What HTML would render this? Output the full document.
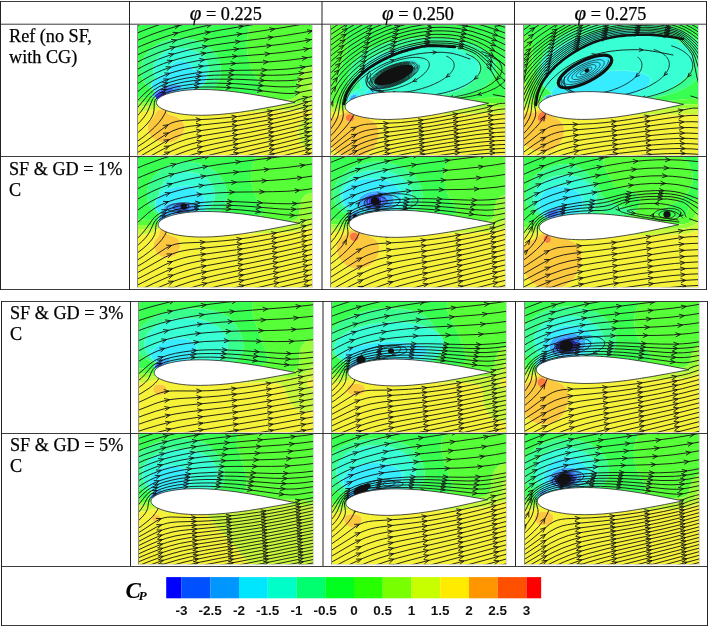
<!DOCTYPE html>
<html><head><meta charset="utf-8"><title>Cp streamlines</title>
<style>html,body{margin:0;padding:0;background:#fff;width:709px;height:626px;overflow:hidden}</style>
</head><body>
<svg width="709" height="626" viewBox="0 0 709 626" style="position:absolute;left:0;top:0;will-change:transform">
<defs>
<clipPath id="cp_r1c1"><rect x="0" y="0" width="175.2" height="130.4"/></clipPath>
<clipPath id="cp_r1c2"><rect x="0" y="0" width="175.2" height="130.4"/></clipPath>
<clipPath id="cp_r1c3"><rect x="0" y="0" width="175.2" height="130.4"/></clipPath>
<clipPath id="cp_r2c1"><rect x="0" y="0" width="175.2" height="130.4"/></clipPath>
<clipPath id="cp_r2c2"><rect x="0" y="0" width="175.2" height="130.4"/></clipPath>
<clipPath id="cp_r2c3"><rect x="0" y="0" width="175.2" height="130.4"/></clipPath>
<clipPath id="cp_r3c1"><rect x="0" y="0" width="175.2" height="130.4"/></clipPath>
<clipPath id="cp_r3c2"><rect x="0" y="0" width="175.2" height="130.4"/></clipPath>
<clipPath id="cp_r3c3"><rect x="0" y="0" width="175.2" height="130.4"/></clipPath>
<clipPath id="cp_r4c1"><rect x="0" y="0" width="175.2" height="130.4"/></clipPath>
<clipPath id="cp_r4c2"><rect x="0" y="0" width="175.2" height="130.4"/></clipPath>
<clipPath id="cp_r4c3"><rect x="0" y="0" width="175.2" height="130.4"/></clipPath>
</defs>
<g transform="translate(137,25)"><g clip-path="url(#cp_r1c1)">
<rect x="0" y="0" width="175.5" height="131" fill="#fff"/><path d="M25.0,65.8 L27.5,65.8 L28.2,66.5 L28.2,68.5 L27.7,69.0 L27.7,69.5 L26.2,71.0 L26.2,71.5 L25.0,72.0 L24.0,73.0 L23.5,73.0 L23.0,73.5 L22.5,73.5 L22.0,74.0 L19.5,74.0 L19.0,73.5 L19.0,72.5 L18.8,72.0 L18.8,71.5 L19.3,71.0 L19.3,70.5 L20.8,69.0 L20.8,68.5 L21.0,68.3 L21.5,68.3 L23.0,66.8 L23.5,66.8 L24.0,66.3 L24.5,66.3 L25.0,65.8Z" fill="#3838ff" fill-rule="evenodd"/><path d="M30.0,62.3 L35.0,62.3 L36.2,63.5 L36.2,64.5 L35.7,65.0 L35.7,65.5 L32.0,69.2 L31.5,69.2 L31.0,69.7 L30.5,69.7 L29.5,70.7 L28.5,70.7 L28.0,71.2 L27.5,71.2 L27.2,71.5 L25.0,72.1 L24.0,73.1 L23.5,73.1 L23.0,73.6 L22.5,73.6 L22.0,74.1 L19.5,74.1 L18.9,73.5 L18.9,72.5 L17.8,71.5 L17.8,70.5 L18.3,70.0 L18.3,69.5 L22.0,65.8 L22.5,65.8 L23.0,65.3 L23.5,65.3 L24.5,64.3 L25.5,64.3 L26.0,63.8 L26.5,63.8 L27.0,63.3 L28.0,63.3 L28.5,62.8 L29.5,62.8 L30.0,62.3Z M24.8,66.0 L24.5,66.3 L24.0,66.3 L23.5,66.8 L23.0,66.8 L21.5,68.3 L21.0,68.3 L20.8,68.5 L20.8,69.0 L19.3,70.5 L19.3,71.0 L18.8,71.5 L18.8,72.0 L19.0,72.5 L19.0,73.5 L19.5,74.0 L22.0,74.0 L22.5,73.5 L23.0,73.5 L23.5,73.0 L24.0,73.0 L25.0,72.0 L26.2,71.5 L26.2,71.0 L27.7,69.5 L27.7,69.0 L28.2,68.5 L28.2,66.5 L27.5,65.8 L25.0,65.8 L24.8,66.0Z" fill="#3876ff" fill-rule="evenodd"/><path d="M36.5,59.3 L40.5,59.3 L41.0,59.8 L42.5,59.8 L43.0,60.3 L43.5,60.3 L44.2,61.0 L44.2,63.0 L43.2,64.0 L43.2,64.5 L43.0,64.7 L42.5,64.7 L40.5,66.7 L40.0,66.7 L39.0,67.7 L38.5,67.7 L38.0,68.2 L37.5,68.2 L37.0,68.7 L36.5,68.7 L36.0,69.2 L35.0,69.2 L34.7,69.5 L34.0,69.6 L33.5,70.1 L32.5,70.1 L32.0,70.6 L31.0,70.6 L30.5,71.1 L29.0,71.1 L28.5,71.6 L27.0,71.7 L26.5,72.1 L25.0,72.2 L24.0,73.2 L23.5,73.2 L23.0,73.7 L22.5,73.7 L22.0,74.2 L19.5,74.2 L18.8,73.5 L18.8,72.5 L18.5,72.1 L17.5,72.1 L17.0,71.6 L16.5,71.6 L15.9,71.0 L15.9,69.0 L16.9,68.0 L16.9,67.5 L17.5,67.4 L19.5,65.3 L20.0,65.3 L21.0,64.3 L21.5,64.3 L22.0,63.8 L22.5,63.8 L23.0,63.3 L23.5,63.3 L24.0,62.8 L25.0,62.8 L25.5,62.3 L26.0,62.3 L26.5,61.8 L27.5,61.8 L28.0,61.3 L29.0,61.3 L29.5,60.8 L31.0,60.8 L31.5,60.3 L33.0,60.3 L33.5,59.8 L36.0,59.8 L36.5,59.3Z M29.8,62.5 L29.5,62.8 L28.5,62.8 L28.0,63.3 L27.0,63.3 L26.5,63.8 L26.0,63.8 L25.5,64.3 L24.5,64.3 L23.5,65.3 L23.0,65.3 L22.5,65.8 L22.0,65.8 L18.3,69.5 L18.3,70.0 L17.8,70.5 L17.8,71.5 L18.9,72.5 L18.9,73.5 L19.5,74.1 L22.0,74.1 L22.5,73.6 L23.0,73.6 L23.5,73.1 L24.0,73.1 L25.0,72.1 L27.2,71.5 L27.5,71.2 L28.0,71.2 L28.5,70.7 L29.5,70.7 L30.5,69.7 L31.0,69.7 L31.5,69.2 L32.0,69.2 L35.7,65.5 L35.7,65.0 L36.2,64.5 L36.2,63.5 L35.0,62.3 L30.0,62.3 L29.8,62.5Z" fill="#38adff" fill-rule="evenodd"/><path d="M42.0,36.0 L44.0,35.8 L46.0,36.0 L48.0,36.4 L50.0,37.2 L52.1,38.5 L53.7,40.0 L54.9,42.0 L55.5,44.0 L56.0,44.5 L59.0,44.6 L59.5,45.1 L61.0,45.1 L61.5,45.7 L62.5,45.7 L63.0,46.2 L64.0,46.2 L64.5,46.7 L65.0,46.7 L66.0,47.8 L66.5,47.8 L68.7,50.0 L68.7,50.5 L69.2,51.0 L69.2,51.5 L69.7,52.0 L69.7,54.0 L69.2,54.5 L69.2,55.5 L68.7,56.0 L68.7,56.5 L67.7,57.5 L67.7,58.0 L66.2,59.5 L65.5,60.2 L65.0,60.2 L63.5,61.7 L63.0,61.7 L62.0,62.7 L61.5,62.7 L61.0,63.2 L60.5,63.2 L60.0,63.7 L59.5,63.7 L59.0,64.1 L58.5,64.2 L58.0,64.6 L57.5,64.6 L57.0,65.1 L56.0,65.1 L55.5,65.6 L55.0,65.6 L54.5,66.1 L53.5,66.1 L53.0,66.6 L52.0,66.6 L51.5,67.1 L50.0,67.1 L49.5,67.6 L48.5,67.6 L48.0,68.1 L46.0,68.1 L45.5,68.6 L43.0,68.6 L42.5,69.1 L39.5,69.1 L39.0,69.6 L34.0,69.7 L33.5,70.2 L32.5,70.2 L32.0,70.7 L31.0,70.7 L30.5,71.2 L29.0,71.2 L28.5,71.7 L27.0,71.8 L26.5,72.2 L25.0,72.3 L24.0,73.3 L23.5,73.3 L23.0,73.8 L22.5,73.8 L22.0,74.3 L19.5,74.3 L18.7,73.5 L18.7,72.5 L18.5,72.2 L17.5,72.2 L17.0,71.7 L16.5,71.7 L15.8,71.0 L15.8,69.0 L16.8,68.0 L16.8,67.5 L17.0,67.3 L17.5,67.3 L18.3,66.5 L18.0,66.1 L17.5,66.1 L15.4,64.0 L15.4,63.5 L14.9,63.0 L14.9,62.5 L14.4,62.0 L14.4,60.0 L14.9,59.5 L14.9,58.5 L15.4,58.0 L15.4,57.5 L16.4,56.5 L16.4,56.0 L18.5,53.8 L19.0,53.8 L20.5,52.3 L21.0,52.3 L22.0,51.3 L22.5,51.3 L23.0,50.8 L23.5,50.7 L24.0,50.2 L24.5,50.2 L25.0,49.7 L25.5,49.7 L26.0,49.2 L26.5,49.2 L27.0,48.7 L28.0,48.6 L28.5,48.1 L29.0,48.1 L29.5,47.6 L30.5,47.6 L31.0,47.0 L32.0,47.0 L32.7,46.5 L32.5,44.5 L32.7,43.0 L33.5,41.2 L34.5,39.8 L35.9,38.5 L37.5,37.4 L39.7,36.5 L42.0,36.0Z M36.3,59.5 L36.0,59.8 L33.5,59.8 L33.0,60.3 L31.5,60.3 L31.0,60.8 L29.5,60.8 L29.0,61.3 L28.0,61.3 L27.5,61.8 L26.5,61.8 L26.0,62.3 L25.5,62.3 L25.0,62.8 L24.0,62.8 L23.5,63.3 L23.0,63.3 L22.5,63.8 L22.0,63.8 L21.5,64.3 L21.0,64.3 L20.0,65.3 L19.5,65.3 L17.5,67.4 L16.9,67.5 L16.9,68.0 L15.9,69.0 L15.9,71.0 L16.5,71.6 L17.0,71.6 L17.5,72.1 L18.5,72.1 L18.8,72.5 L18.8,73.5 L19.5,74.2 L22.0,74.2 L22.5,73.7 L23.0,73.7 L23.5,73.2 L24.0,73.2 L25.0,72.2 L26.5,72.1 L27.0,71.7 L28.5,71.6 L29.0,71.1 L30.5,71.1 L31.0,70.6 L32.0,70.6 L32.5,70.1 L33.5,70.1 L34.0,69.6 L34.7,69.5 L35.0,69.2 L36.0,69.2 L36.5,68.7 L37.0,68.7 L37.5,68.2 L38.0,68.2 L38.5,67.7 L39.0,67.7 L40.0,66.7 L40.5,66.7 L42.5,64.7 L43.0,64.7 L43.2,64.5 L43.2,64.0 L44.2,63.0 L44.2,61.0 L43.5,60.3 L43.0,60.3 L42.5,59.8 L41.0,59.8 L40.5,59.3 L36.5,59.3 L36.3,59.5Z" fill="#38ecff" fill-rule="evenodd"/><path d="M41.5,23.0 L45.5,22.9 L49.0,23.2 L52.5,23.9 L56.0,25.0 L59.0,26.4 L62.0,28.1 L64.5,30.0 L67.0,32.5 L68.8,35.0 L70.2,37.5 L71.1,40.0 L71.7,43.0 L71.8,45.5 L71.6,48.0 L70.9,50.5 L70.0,52.8 L70.0,54.0 L69.5,54.5 L69.5,55.5 L69.0,56.0 L69.0,56.5 L68.0,57.5 L68.0,58.0 L65.5,60.5 L65.0,60.5 L63.5,62.0 L63.0,62.0 L62.0,63.0 L61.5,63.0 L61.0,63.5 L60.5,63.5 L60.0,64.0 L59.5,64.0 L59.0,64.4 L58.5,64.5 L58.0,64.9 L57.5,64.9 L57.0,65.4 L56.0,65.4 L55.5,65.9 L55.0,65.9 L54.5,66.4 L53.5,66.4 L53.0,66.9 L52.0,66.9 L51.5,67.4 L50.0,67.4 L49.5,67.9 L48.5,67.9 L48.0,68.4 L46.0,68.4 L45.5,68.9 L43.0,68.9 L42.5,69.4 L39.5,69.4 L39.0,69.8 L34.0,69.9 L33.5,70.4 L32.5,70.4 L32.0,70.9 L31.0,70.8 L30.5,71.3 L29.0,71.3 L28.5,71.8 L27.0,71.9 L26.5,72.3 L25.0,72.4 L24.0,73.4 L23.5,73.4 L23.0,73.8 L22.5,73.8 L22.0,74.3 L19.5,74.3 L18.7,73.5 L18.5,72.3 L17.5,72.3 L17.0,71.8 L16.5,71.8 L15.7,71.0 L15.7,69.0 L16.7,68.0 L16.7,67.5 L17.0,67.2 L17.5,67.1 L18.1,66.5 L18.0,66.3 L17.5,66.3 L15.2,64.0 L15.2,63.5 L14.7,63.0 L14.7,62.5 L14.2,62.0 L14.2,60.0 L14.6,59.5 L14.6,58.5 L15.1,58.0 L15.1,57.5 L16.1,56.5 L16.1,56.0 L18.4,53.5 L16.9,50.0 L16.2,46.0 L16.4,42.0 L17.6,38.0 L19.2,35.0 L21.5,32.0 L24.0,29.6 L27.0,27.5 L30.5,25.6 L34.0,24.4 L37.5,23.5 L41.5,23.0Z M41.8,36.0 L39.5,36.6 L37.5,37.4 L35.9,38.5 L34.5,39.8 L33.5,41.2 L32.7,43.0 L32.5,44.5 L32.7,46.5 L32.0,47.0 L31.0,47.0 L30.5,47.6 L29.5,47.6 L29.0,48.1 L28.5,48.1 L28.0,48.6 L27.0,48.7 L26.5,49.2 L26.0,49.2 L25.5,49.7 L25.0,49.7 L24.5,50.2 L24.0,50.2 L23.5,50.7 L23.0,50.8 L22.5,51.3 L22.0,51.3 L21.0,52.3 L20.5,52.3 L19.0,53.8 L18.5,53.8 L16.4,56.0 L16.4,56.5 L15.4,57.5 L15.4,58.0 L14.9,58.5 L14.9,59.5 L14.4,60.0 L14.4,62.0 L14.9,62.5 L14.9,63.0 L15.4,63.5 L15.4,64.0 L17.5,66.1 L18.0,66.1 L18.3,66.5 L17.5,67.3 L17.0,67.3 L16.8,67.5 L16.8,68.0 L15.8,69.0 L15.8,71.0 L16.5,71.7 L17.0,71.7 L17.5,72.2 L18.5,72.2 L18.7,72.5 L18.7,73.5 L19.5,74.3 L22.0,74.3 L22.5,73.8 L23.0,73.8 L23.5,73.3 L24.0,73.3 L25.0,72.3 L26.5,72.2 L27.0,71.8 L28.5,71.7 L29.0,71.2 L30.5,71.2 L31.0,70.7 L32.0,70.7 L32.5,70.2 L33.5,70.2 L34.0,69.7 L39.0,69.6 L39.5,69.1 L42.5,69.1 L43.0,68.6 L45.5,68.6 L46.0,68.1 L48.0,68.1 L48.5,67.6 L49.5,67.6 L50.0,67.1 L51.5,67.1 L52.0,66.6 L53.0,66.6 L53.5,66.1 L54.5,66.1 L55.0,65.6 L55.5,65.6 L56.0,65.1 L57.0,65.1 L57.5,64.6 L58.0,64.6 L58.5,64.2 L59.0,64.1 L59.5,63.7 L60.0,63.7 L60.5,63.2 L61.0,63.2 L61.5,62.7 L62.0,62.7 L63.0,61.7 L63.5,61.7 L65.0,60.2 L65.5,60.2 L66.2,59.5 L67.7,58.0 L67.7,57.5 L68.7,56.5 L68.7,56.0 L69.2,55.5 L69.2,54.5 L69.7,54.0 L69.7,52.0 L69.2,51.5 L69.2,51.0 L68.7,50.5 L68.7,50.0 L66.5,47.8 L66.0,47.8 L65.0,46.7 L64.5,46.7 L64.0,46.2 L63.0,46.2 L62.5,45.7 L61.5,45.7 L61.0,45.1 L59.5,45.1 L59.0,44.6 L56.0,44.5 L55.5,44.0 L54.9,42.0 L53.7,40.0 L52.1,38.5 L50.0,37.2 L48.0,36.4 L46.0,36.0 L44.0,35.8 L41.8,36.0Z" fill="#38ffd4" fill-rule="evenodd"/><path d="M38.0,13.5 L42.5,13.1 L47.5,13.2 L52.5,13.8 L57.0,14.8 L61.5,16.3 L66.0,18.3 L70.0,20.7 L73.5,23.4 L76.5,26.4 L79.0,29.6 L81.0,33.0 L82.6,37.0 L83.6,41.0 L83.9,45.0 L83.7,49.0 L82.9,52.5 L81.9,55.0 L80.6,57.5 L78.9,60.0 L77.0,62.0 L74.6,64.0 L72.3,65.5 L69.4,67.0 L66.0,68.3 L62.1,69.5 L58.5,70.3 L54.0,71.0 L50.0,71.4 L45.5,71.6 L41.0,71.5 L32.5,70.8 L32.0,71.0 L31.0,71.0 L30.5,71.5 L29.0,71.5 L28.5,72.0 L27.0,72.0 L26.5,72.4 L25.0,72.5 L24.0,73.4 L23.5,73.4 L23.0,73.9 L22.5,73.9 L22.0,74.4 L19.5,74.4 L18.6,73.5 L18.5,72.4 L17.5,72.4 L17.0,71.9 L16.5,71.9 L15.6,71.0 L15.5,69.0 L16.5,68.0 L16.5,67.5 L17.0,67.0 L17.5,67.0 L17.5,66.5 L13.5,64.1 L10.5,61.5 L7.7,58.0 L5.6,54.0 L4.4,50.0 L3.9,46.0 L4.1,41.5 L5.0,37.5 L6.8,33.0 L9.5,28.7 L13.0,24.7 L17.0,21.4 L21.5,18.6 L26.5,16.3 L32.0,14.6 L38.0,13.5Z M41.1,23.0 L37.4,23.5 L33.5,24.5 L29.7,26.0 L26.5,27.8 L23.5,30.0 L21.0,32.5 L19.2,35.0 L17.6,38.0 L16.4,42.0 L16.2,46.0 L16.9,50.0 L18.4,53.5 L16.1,56.0 L16.1,56.5 L15.1,57.5 L15.1,58.0 L14.6,58.5 L14.6,59.5 L14.2,60.0 L14.2,62.0 L14.7,62.5 L14.7,63.0 L15.2,63.5 L15.2,64.0 L17.5,66.3 L18.0,66.3 L18.1,66.5 L17.5,67.1 L17.0,67.2 L16.7,67.5 L16.7,68.0 L15.7,69.0 L15.7,71.0 L16.5,71.8 L17.0,71.8 L17.5,72.3 L18.5,72.3 L18.7,73.5 L19.5,74.3 L22.0,74.3 L22.5,73.8 L23.0,73.8 L23.5,73.4 L24.0,73.4 L25.0,72.4 L26.5,72.3 L27.0,71.9 L28.5,71.8 L29.0,71.3 L30.5,71.3 L31.0,70.8 L32.0,70.9 L32.5,70.4 L33.5,70.4 L34.0,69.9 L39.0,69.8 L39.5,69.4 L42.5,69.4 L43.0,68.9 L45.5,68.9 L46.0,68.4 L48.0,68.4 L48.5,67.9 L49.5,67.9 L50.0,67.4 L51.5,67.4 L52.0,66.9 L53.0,66.9 L53.5,66.4 L54.5,66.4 L55.0,65.9 L55.5,65.9 L56.0,65.4 L57.0,65.4 L57.5,64.9 L58.0,64.9 L58.5,64.5 L59.0,64.4 L59.5,64.0 L60.0,64.0 L60.5,63.5 L61.0,63.5 L61.5,63.0 L62.0,63.0 L63.0,62.0 L63.5,62.0 L65.0,60.5 L65.5,60.5 L68.0,58.0 L68.0,57.5 L69.0,56.5 L69.0,56.0 L69.5,55.5 L69.5,54.5 L70.0,54.0 L70.0,52.8 L70.9,50.5 L71.6,48.0 L71.8,45.5 L71.7,43.0 L71.1,40.0 L70.2,37.5 L68.8,35.0 L67.0,32.5 L64.5,30.0 L61.8,28.0 L59.0,26.4 L55.5,24.9 L52.0,23.8 L48.5,23.2 L45.0,22.9 L41.1,23.0Z" fill="#38ff8e" fill-rule="evenodd"/><path d="M-1.5,-2.0 L114.0,-2.0 L112.8,1.5 L111.6,5.5 L110.8,9.0 L110.2,13.0 L109.9,17.0 L109.8,21.0 L110.0,25.0 L110.5,29.0 L111.3,33.0 L112.2,36.5 L113.5,40.5 L114.9,44.0 L117.9,50.0 L123.5,59.0 L124.8,61.5 L125.2,63.5 L125.1,64.5 L124.7,65.5 L123.2,67.0 L120.2,68.5 L116.7,69.5 L111.0,70.5 L103.5,71.2 L83.5,72.2 L62.5,74.5 L52.0,75.3 L40.5,75.5 L32.0,75.0 L22.5,74.2 L22.0,74.5 L19.5,74.5 L18.5,73.7 L6.5,72.4 L-2.0,71.8 L-2.0,-2.0 L-1.5,-2.0Z M37.7,13.5 L32.0,14.6 L26.5,16.3 L21.5,18.6 L16.8,21.5 L12.7,25.0 L9.3,29.0 L6.8,33.0 L5.0,37.5 L4.1,41.5 L3.9,46.0 L4.4,50.0 L5.6,54.0 L7.7,58.0 L10.5,61.5 L13.5,64.1 L17.5,66.5 L17.5,67.0 L17.0,67.0 L16.5,67.5 L16.5,68.0 L15.5,69.0 L15.6,71.0 L16.5,71.9 L17.0,71.9 L17.5,72.4 L18.5,72.4 L18.6,73.5 L19.5,74.4 L22.0,74.4 L22.5,73.9 L23.0,73.9 L23.5,73.4 L24.0,73.4 L25.0,72.5 L26.5,72.4 L27.0,72.0 L28.5,72.0 L29.0,71.5 L30.5,71.5 L31.0,71.0 L32.0,71.0 L32.5,70.8 L41.0,71.5 L45.5,71.6 L50.0,71.4 L54.0,71.0 L58.5,70.3 L62.1,69.5 L66.0,68.3 L69.4,67.0 L72.3,65.5 L74.6,64.0 L77.0,62.0 L78.9,60.0 L80.6,57.5 L81.9,55.0 L82.9,52.5 L83.7,49.0 L83.9,45.0 L83.6,41.0 L82.6,37.0 L81.0,33.0 L79.0,29.6 L76.5,26.4 L73.5,23.4 L70.0,20.7 L66.0,18.3 L61.5,16.3 L57.0,14.8 L52.5,13.8 L47.5,13.2 L42.5,13.1 L37.7,13.5Z" fill="#38ff50" fill-rule="evenodd"/><path d="M114.0,-1.9 L177.0,-2.0 L177.0,42.8 L175.5,42.3 L173.5,42.1 L171.5,42.3 L170.0,42.7 L168.0,43.7 L166.5,44.8 L165.0,46.3 L163.7,48.0 L161.9,51.5 L161.3,53.5 L160.7,56.0 L160.4,59.5 L160.5,66.5 L160.2,69.0 L159.3,71.0 L157.8,72.5 L156.0,73.4 L154.3,74.0 L152.0,74.5 L148.5,74.9 L125.0,76.4 L112.5,77.0 L80.0,77.5 L56.0,78.6 L47.5,78.8 L36.5,78.5 L23.5,77.7 L-2.0,77.4 L-2.0,71.8 L6.5,72.4 L18.5,73.7 L19.5,74.5 L22.0,74.5 L22.5,74.2 L37.5,75.4 L44.0,75.5 L50.5,75.4 L61.5,74.6 L83.5,72.2 L103.5,71.2 L110.5,70.6 L114.5,70.0 L118.6,69.0 L121.4,68.0 L123.2,67.0 L124.3,66.0 L125.0,65.0 L125.2,63.5 L125.0,62.0 L123.5,59.0 L117.5,49.3 L114.7,43.5 L113.3,40.0 L112.0,36.0 L111.1,32.0 L110.4,28.0 L109.8,20.5 L110.2,13.0 L110.8,9.0 L111.6,5.5 L112.6,2.0 L114.0,-1.9Z" fill="#57ff38" fill-rule="evenodd"/><path d="M171.0,42.4 L172.5,42.1 L174.0,42.1 L175.5,42.3 L177.0,42.8 L177.0,75.0 L175.0,74.2 L173.0,74.1 L171.5,74.6 L166.5,76.9 L163.5,77.9 L160.0,78.8 L156.0,79.4 L149.5,79.9 L123.5,80.9 L107.5,81.3 L76.5,81.5 L50.0,82.1 L36.0,81.6 L26.5,80.4 L23.5,80.2 L12.5,81.3 L-2.0,81.5 L-2.0,77.4 L23.0,77.7 L38.5,78.6 L51.0,78.7 L79.0,77.5 L106.5,77.2 L118.5,76.8 L146.0,75.2 L150.5,74.7 L153.5,74.2 L155.9,73.5 L157.8,72.5 L159.0,71.5 L159.9,70.0 L160.3,68.5 L160.5,67.0 L160.4,60.0 L160.6,56.5 L161.6,52.5 L163.0,49.1 L164.5,46.9 L166.5,44.8 L168.5,43.4 L171.0,42.4Z M172.9,61.0 L172.4,62.0 L172.5,63.5 L173.0,64.5 L173.5,64.8 L174.0,64.7 L174.5,64.2 L174.8,63.5 L174.8,62.0 L174.5,61.1 L174.0,60.7 L173.5,60.6 L172.9,61.0Z" fill="#96ff38" fill-rule="evenodd"/><path d="M173.0,60.9 L173.5,60.6 L174.0,60.7 L174.5,61.1 L174.8,62.0 L174.8,63.5 L174.5,64.2 L174.0,64.7 L173.5,64.8 L173.0,64.5 L172.5,63.5 L172.4,62.0 L173.0,60.9Z M172.0,74.4 L173.5,74.1 L174.5,74.1 L177.0,75.0 L177.0,84.0 L173.0,84.1 L165.0,85.3 L145.5,85.5 L122.0,86.6 L111.5,87.0 L57.0,87.4 L50.0,86.9 L36.0,85.1 L32.5,84.4 L27.0,82.6 L24.0,82.3 L22.0,82.5 L20.5,82.8 L14.5,85.2 L11.0,86.1 L5.0,86.9 L-2.0,87.2 L-2.0,81.5 L12.5,81.3 L21.0,80.4 L24.0,80.2 L26.5,80.4 L32.5,81.2 L36.5,81.6 L45.5,82.0 L53.0,82.1 L77.5,81.5 L114.0,81.2 L147.5,79.9 L155.5,79.4 L161.0,78.6 L166.0,77.1 L172.0,74.4Z M170.5,91.9 L172.0,91.9 L174.0,92.3 L175.5,92.9 L177.0,93.8 L177.0,122.6 L175.0,124.1 L174.0,124.6 L172.5,124.9 L170.5,124.7 L168.5,123.8 L166.9,122.5 L165.3,120.5 L163.9,118.0 L162.8,115.0 L162.1,112.0 L161.7,108.5 L161.7,105.5 L162.0,102.5 L162.8,99.5 L164.0,97.0 L165.5,94.8 L167.0,93.4 L168.5,92.5 L170.5,91.9Z" fill="#c8f83c" fill-rule="evenodd"/><path d="M22.0,82.5 L24.0,82.3 L26.5,82.5 L33.0,84.5 L36.5,85.2 L51.0,87.0 L58.0,87.4 L115.5,86.9 L146.0,85.5 L163.5,85.4 L166.5,85.2 L173.5,84.1 L177.0,84.0 L177.0,93.8 L174.5,92.5 L173.0,92.0 L171.5,91.9 L169.0,92.3 L167.5,93.0 L166.5,93.8 L164.5,96.1 L162.8,99.5 L161.9,103.0 L161.6,107.0 L162.0,111.5 L163.1,116.0 L165.0,120.0 L167.0,122.6 L168.0,123.5 L169.5,124.4 L170.5,124.7 L172.0,124.9 L173.5,124.7 L174.5,124.4 L176.0,123.5 L177.0,122.6 L177.0,132.5 L-2.0,132.5 L-2.0,87.2 L5.5,86.8 L11.5,86.0 L14.5,85.2 L19.5,83.1 L22.0,82.5Z M23.7,84.5 L21.5,85.1 L19.8,86.5 L18.8,88.0 L17.2,91.5 L13.4,95.5 L12.0,97.5 L11.0,100.0 L10.7,102.5 L11.0,105.0 L11.8,107.5 L13.5,110.5 L16.0,113.1 L19.0,115.2 L22.5,116.7 L26.0,117.5 L30.0,117.7 L34.0,117.1 L37.5,115.9 L40.2,114.5 L42.5,112.7 L44.5,110.5 L45.8,108.5 L46.8,106.0 L47.2,103.5 L47.2,101.0 L46.5,98.5 L45.7,97.0 L44.6,95.5 L43.0,94.1 L41.5,93.0 L38.5,91.6 L32.5,89.5 L31.0,88.5 L28.3,86.0 L27.0,85.2 L25.5,84.6 L23.7,84.5Z" fill="#f6f23a" fill-rule="evenodd"/><path d="M24.0,84.5 L26.0,84.8 L27.6,85.5 L31.5,88.9 L33.0,89.8 L38.5,91.6 L41.5,93.0 L43.0,94.1 L44.6,95.5 L45.7,97.0 L46.5,98.5 L47.2,101.0 L47.2,103.5 L46.8,106.0 L45.8,108.5 L44.1,111.0 L42.2,113.0 L39.5,114.9 L37.0,116.2 L33.5,117.2 L29.5,117.7 L25.5,117.4 L22.0,116.5 L18.6,115.0 L15.8,113.0 L13.5,110.5 L11.8,107.5 L11.0,105.0 L10.7,102.5 L11.0,100.0 L12.0,97.5 L13.4,95.5 L17.2,91.5 L18.8,88.0 L19.8,86.5 L20.9,85.5 L21.7,85.0 L24.0,84.5Z" fill="#fcc83e" fill-rule="evenodd"/><path d="M182.4,139.0 L183.5,138.7 M166.0,139.0 L183.5,134.3 M149.2,139.0 L183.5,130.0 M131.9,139.0 L183.5,125.6 M113.9,139.0 L183.5,121.3 M95.4,139.0 L150.5,125.4 L183.5,117.0 M77.0,139.0 L97.0,133.8 L151.5,120.8 L183.5,112.6 M59.8,139.0 L71.5,135.5 L84.5,132.1 L144.5,118.1 L183.5,108.3 M44.5,139.0 L59.0,134.0 L75.5,129.4 L90.5,125.8 L142.5,114.2 L183.5,104.0 M31.3,139.0 L40.5,135.1 L49.0,131.9 L58.0,128.9 L67.5,126.3 L83.5,122.5 L140.5,110.3 L158.5,106.0 L183.5,99.7 M19.7,139.0 L31.5,133.3 L41.0,129.2 L50.5,125.7 L61.0,122.6 L77.5,118.8 L117.0,111.0 L138.5,106.4 L157.0,102.1 L183.5,95.3 M9.2,139.0 L24.5,130.9 L35.0,125.9 L45.0,121.8 L55.0,118.7 L62.5,116.8 L71.5,114.9 L112.5,107.4 L136.0,102.7 L155.5,98.2 L183.5,91.0 M-0.6,139.0 L21.0,126.9 L31.0,121.6 L40.5,117.4 L50.0,114.2 L57.0,112.5 L65.5,110.7 L107.5,103.8 L133.5,98.9 L154.5,94.2 L183.5,86.7 M-8.0,137.9 L29.0,116.2 L37.5,112.1 L46.0,109.2 L52.0,107.7 L59.5,106.2 L101.0,100.4 L129.0,95.5 L153.0,90.3 L183.5,82.3 M-8.0,132.7 L4.6,125.0 L29.0,109.3 L36.0,105.7 L42.5,103.4 L47.5,102.2 L53.5,101.2 L93.5,96.9 L108.0,94.8 L123.0,92.3 L139.0,89.2 L152.5,86.3 L171.5,81.0 L183.5,78.0 M-8.0,127.4 L8.5,116.5 L29.5,100.8 L34.0,98.2 L38.0,96.8 L42.0,95.9 L47.5,95.3 L72.0,94.2 L87.0,93.0 L100.5,91.5 L114.5,89.5 L133.5,86.1 L153.0,82.1 L157.5,81.0 L168.0,77.5 L183.5,73.6 M54.4,66.0 L55.0,66.0 M82.0,66.0 L82.7,66.0 M48.8,66.5 L49.0,66.5 M88.9,66.4 L89.7,66.5 M44.7,67.0 L45.1,66.9 M94.4,66.9 L95.1,67.0 M41.4,67.5 L41.5,67.5 M99.5,67.5 L99.8,67.5 M103.4,67.9 L103.9,68.0 M107.5,68.5 L107.8,68.5 M156.6,77.1 L157.5,77.0 L157.9,76.5 L159.5,75.5 L163.5,74.1 L183.5,69.3 M110.9,68.9 L111.3,69.0 M114.5,69.5 L114.7,69.5 M30.5,70.0 L30.5,70.0 M28.9,70.5 L29.0,70.5 M121.0,70.5 L121.0,70.5 M124.0,71.0 L124.0,71.0 M129.4,71.9 L129.7,72.0 M135.0,73.0 L135.2,73.0 M143.0,74.5 L143.1,74.5 M145.5,75.0 L145.7,75.0 M153.5,76.5 L153.5,76.5 M154.0,78.0 L154.1,78.0 M143.4,80.1 L143.7,80.0 M141.0,80.5 L141.1,80.5 M138.5,81.0 L138.5,81.0 M132.9,82.1 L133.2,82.0 M130.5,82.5 L130.5,82.5 M127.4,83.1 L127.7,83.0 M-8.0,122.1 L0.0,116.6 L6.9,111.5 L12.9,106.5 L17.7,102.0 L21.9,97.5 L25.3,93.0 L28.2,88.0 L29.5,84.5 M115.4,85.1 L115.8,85.0 M33.0,85.5 L33.0,85.5 M35.0,86.0 L35.0,86.0 M109.0,86.0 L109.0,86.0 M105.0,86.5 L105.3,86.5 M39.8,87.0 L40.0,87.0 M101.0,87.0 L101.3,87.0 M42.8,87.5 L43.0,87.5 M96.4,87.6 L96.9,87.5 M91.5,88.0 L91.9,88.0 M51.3,88.5 L51.5,88.5 M84.9,88.6 L85.8,88.5 M59.0,89.0 L60.0,89.0 M75.4,89.1 L76.8,89.0 M-8.0,114.4 L-0.8,109.0 L5.1,104.0 L10.0,99.0 L13.5,94.5 L15.5,91.0 L16.6,88.0 L17.0,85.0 L17.3,77.5 L17.9,75.5 L19.3,73.5 L21.5,71.5 L25.0,69.5 L29.5,67.6 L34.5,66.0 L43.5,64.1 L54.0,62.7 L65.5,62.0 L78.5,62.0 L89.5,62.4 L101.0,63.2 L114.5,64.6 L142.0,67.9 L148.0,68.4 L153.0,68.5 L157.0,68.3 L162.0,67.5 L183.5,63.1 M-8.0,106.7 L-3.0,102.6 L0.9,99.0 L4.2,95.5 L7.1,92.0 L9.1,89.0 L10.8,86.0 L15.0,75.5 L16.2,73.5 L18.0,71.4 L21.5,68.6 L25.5,66.4 L31.0,64.2 L37.0,62.4 L45.5,60.6 L55.5,59.2 L66.5,58.4 L78.0,58.1 L97.5,58.6 L138.0,61.6 L145.5,61.9 L151.5,61.9 L157.5,61.5 L164.0,60.7 L183.5,57.1 M-8.0,98.9 L-2.1,93.5 L2.5,88.5 L6.0,83.8 L12.6,73.5 L14.6,71.0 L17.2,68.5 L21.0,65.7 L26.0,63.1 L32.0,60.7 L39.0,58.7 L47.5,56.9 L56.5,55.6 L66.5,54.7 L77.5,54.2 L98.5,54.2 L137.5,55.9 L151.0,55.7 L157.5,55.2 L165.0,54.3 L183.5,51.1 M-8.0,91.4 L-0.5,83.9 L10.7,70.5 L13.5,67.7 L16.5,65.2 L21.5,62.0 L27.0,59.4 L33.5,57.0 L41.0,54.9 L49.0,53.2 L58.0,51.8 L67.5,50.9 L77.5,50.2 L97.0,49.8 L135.5,50.3 L150.5,49.8 L165.5,48.2 L183.5,45.2 M-8.0,84.2 L8.1,68.0 L12.2,64.5 L16.5,61.4 L22.0,58.2 L28.0,55.5 L35.0,53.1 L43.0,50.9 L50.5,49.4 L59.0,48.0 L68.0,47.0 L78.0,46.2 L96.5,45.4 L134.5,44.9 L150.0,44.1 L165.5,42.3 L183.5,39.3 M-8.0,74.1 L6.4,62.0 L11.5,58.4 L17.2,55.0 L23.5,51.9 L30.5,49.1 L38.0,46.7 L46.0,44.6 L53.5,43.1 L61.5,41.7 L79.0,39.7 L96.0,38.5 L133.0,36.8 L150.0,35.4 L166.0,33.4 L183.5,30.4 M-8.0,65.1 L0.0,59.2 L6.2,55.0 L12.5,51.3 L18.5,48.2 L25.5,45.1 L32.5,42.6 L40.0,40.3 L48.5,38.2 L61.0,35.7 L75.5,33.6 L92.0,31.9 L128.5,29.1 L145.0,27.5 L163.5,25.0 L183.5,21.6 M-8.0,56.9 L-0.5,52.0 L6.3,48.0 L13.0,44.5 L19.5,41.5 L26.5,38.6 L34.0,36.1 L42.0,33.7 L50.0,31.7 L62.5,29.1 L76.5,26.9 L92.5,24.9 L128.5,21.1 L145.0,19.2 L164.0,16.4 L183.5,12.9 M-8.0,49.0 L6.5,41.0 L13.5,37.6 L20.5,34.6 L28.0,31.8 L35.5,29.3 L51.5,25.0 L64.0,22.4 L78.0,19.9 L93.5,17.7 L145.5,10.9 L164.5,7.8 L183.5,4.3 M-8.0,41.4 L6.5,34.0 L21.0,27.8 L36.0,22.7 L53.0,18.1 L66.0,15.3 L80.0,12.7 L146.0,2.6 L164.5,-0.6 L183.5,-4.3 M-8.0,33.9 L6.5,27.0 L21.0,21.1 L36.0,16.1 L52.0,11.7 L66.5,8.3 L83.0,5.1 L137.5,-4.0 L159.5,-8.0 M-8.0,26.4 L4.5,20.7 L17.0,15.7 L30.0,11.2 L43.5,7.1 L57.5,3.4 L73.0,-0.1 L90.5,-3.6 L114.9,-8.0 M-8.0,18.9 L11.5,10.7 L21.0,7.2 L31.0,3.9 L52.0,-2.2 L76.4,-8.0 M-8.0,11.4 L5.5,5.8 L19.0,0.8 L33.0,-3.8 L47.2,-8.0 M-8.0,3.9 L8.0,-2.5 L23.7,-8.0 M-8.0,-3.7 L3.0,-8.0" fill="none" stroke="#111" stroke-width="0.9" stroke-linejoin="round"/><path d="M169.5,135.9 L173.8,132.6 L168.4,131.8 M169.2,131.6 L173.5,128.3 L168.2,127.5 M133.4,136.3 L137.8,133.0 L132.4,132.2 M169.0,127.2 L173.3,124.0 L168.0,123.2 M133.2,131.9 L137.6,128.6 L132.2,127.8 M168.8,122.9 L173.1,119.7 L167.7,118.9 M97.4,135.9 L101.8,132.7 L96.4,131.8 M133.0,127.5 L137.3,124.2 L132.0,123.4 M168.6,118.7 L172.9,115.4 L167.5,114.6 M97.1,131.2 L101.5,128.0 L96.2,127.1 M132.7,123.1 L137.1,119.9 L131.8,119.0 M168.4,114.4 L172.7,111.1 L167.3,110.3 M61.5,135.4 L65.7,132.0 L60.3,131.3 M96.9,126.5 L101.3,123.4 L96.0,122.4 M132.5,118.7 L136.9,115.5 L131.6,114.6 M168.2,110.1 L172.5,106.8 L167.1,106.0 M61.2,130.1 L65.5,126.8 L60.1,126.1 M96.6,121.9 L101.1,118.8 L95.8,117.7 M132.3,114.3 L136.7,111.2 L131.4,110.2 M167.9,105.8 L172.3,102.5 L166.9,101.8 M29.1,136.7 L32.8,132.7 L27.3,132.8 M60.9,124.8 L65.2,121.6 L59.9,120.7 M96.3,117.2 L100.8,114.2 L95.5,113.1 M132.0,110.0 L136.5,106.9 L131.1,105.9 M167.7,101.6 L172.0,98.3 L166.7,97.5 M28.8,131.0 L32.5,127.0 L27.1,127.2 M60.5,119.4 L64.9,116.3 L59.6,115.3 M96.1,112.6 L100.6,109.6 L95.3,108.4 M131.8,105.7 L136.3,102.6 L130.9,101.6 M167.5,97.3 L171.8,94.0 L166.5,93.2 M28.6,125.1 L32.2,121.0 L26.8,121.3 M60.1,113.9 L64.7,110.9 L59.4,109.7 M95.8,107.9 L100.4,105.0 L95.1,103.8 M131.6,101.4 L136.0,98.3 L130.7,97.3 M167.3,93.0 L171.6,89.7 L166.2,89.0 M28.3,118.9 L31.9,114.7 L26.5,115.1 M59.8,108.3 L64.4,105.5 L59.2,104.1 M95.5,103.4 L100.2,100.5 L94.9,99.2 M131.4,97.2 L135.8,94.1 L130.5,93.1 M167.1,88.7 L171.4,85.4 L166.0,84.7 M28.1,112.0 L31.5,107.8 L26.1,108.3 M59.4,102.6 L64.1,100.0 L59.0,98.4 M95.3,98.8 L99.9,96.0 L94.7,94.6 M131.1,93.0 L135.6,89.9 L130.3,88.8 M166.9,84.4 L171.2,81.1 L165.8,80.4 M27.9,104.1 L31.1,99.8 L25.7,100.5 M59.0,96.9 L63.9,94.6 L58.8,92.7 M95.0,94.3 L99.7,91.6 L94.5,90.1 M130.9,88.8 L135.4,85.8 L130.1,84.7 M166.7,80.0 L171.0,76.7 L165.6,75.9 M166.4,75.4 L170.7,72.2 L165.4,71.3 M24.9,71.5 L28.9,67.8 L23.5,67.6 M57.1,64.5 L62.0,62.2 L56.9,60.3 M88.8,64.4 L93.9,62.7 L89.1,60.2 M120.1,67.4 L125.3,65.9 L120.6,63.2 M158.5,70.3 L163.0,67.3 L157.7,66.2 M25.6,68.4 L29.5,64.7 L24.1,64.5 M57.9,61.0 L62.8,58.6 L57.6,56.8 M89.7,60.3 L94.8,58.5 L89.9,56.1 M121.2,62.4 L126.3,60.7 L121.5,58.2 M159.7,63.4 L164.3,60.6 L159.1,59.3 M26.2,65.0 L30.2,61.4 L24.8,61.1 M58.7,57.4 L63.5,54.9 L58.3,53.2 M90.6,56.2 L95.6,54.2 L90.7,52.0 M122.3,57.4 L127.4,55.5 L122.5,53.2 M161.0,57.0 L165.6,54.2 L160.4,52.8 M26.9,61.5 L30.9,57.9 L25.5,57.6 M59.5,53.7 L64.2,51.1 L59.1,49.5 M91.5,51.9 L96.5,49.8 L91.5,47.7 M123.4,52.3 L128.4,50.3 L123.4,48.1 M162.2,50.8 L166.9,48.0 L161.6,46.6 M27.6,57.8 L31.6,54.2 L26.2,53.9 M60.3,49.9 L65.0,47.3 L59.8,45.7 M92.4,47.6 L97.4,45.4 L92.4,43.4 M124.5,47.2 L129.5,45.0 L124.4,43.0 M163.5,44.8 L168.1,41.9 L162.8,40.6 M28.7,51.8 L32.8,48.3 L27.4,47.9 M61.6,43.8 L66.3,41.1 L61.0,39.7 M93.9,40.7 L98.8,38.4 L93.7,36.5 M126.2,39.3 L131.1,36.9 L126.0,35.1 M165.3,35.6 L169.9,32.7 L164.7,31.5 M29.9,45.6 L34.1,42.1 L28.7,41.6 M62.9,37.5 L67.5,34.7 L62.3,33.3 M95.4,33.7 L100.2,31.2 L95.1,29.5 M127.9,31.2 L132.7,28.7 L127.6,27.0 M167.2,26.6 L171.7,23.7 L166.4,22.5 M31.2,39.1 L35.3,35.6 L29.9,35.1 M64.3,30.9 L68.9,28.1 L63.6,26.8 M96.9,26.5 L101.7,23.9 L96.5,22.3 M129.6,23.1 L134.4,20.5 L129.2,19.0 M169.0,17.7 L173.5,14.7 L168.2,13.6 M32.5,32.4 L36.7,29.0 L31.3,28.4 M65.7,24.1 L70.2,21.2 L64.9,20.0 M98.5,19.1 L103.2,16.4 L98.0,15.0 M131.4,15.0 L136.0,12.2 L130.8,10.8 M170.8,8.9 L175.3,5.9 L170.0,4.7 M33.9,25.5 L38.1,22.1 L32.7,21.5 M67.1,17.2 L71.6,14.2 L66.3,13.0 M100.1,11.6 L104.7,8.8 L99.5,7.5 M133.1,6.8 L137.7,4.0 L132.4,2.7 M172.6,0.0 L177.1,-3.0 L171.8,-4.1 M35.3,18.5 L39.5,15.0 L34.1,14.4 M68.6,10.0 L73.1,7.0 L67.8,5.9 M101.7,4.0 L106.2,1.1 L101.0,-0.2 M36.7,11.2 L40.9,7.8 L35.5,7.2 M70.1,2.7 L74.6,-0.4 L69.2,-1.4 M38.2,3.8 L42.4,0.4 L37.0,-0.2" fill="none" stroke="#111" stroke-width="0.9" stroke-linejoin="miter"/><path d="M19.4,77.4 L19.5,76.7 L19.6,76.1 L20.3,74.8 L21.3,73.6 L22.8,72.4 L24.7,71.2 L27.0,70.1 L29.7,69.1 L32.7,68.1 L36.1,67.3 L39.4,66.6 L43.4,65.9 L47.2,65.4 L51.2,65.0 L55.5,64.7 L59.9,64.5 L64.4,64.5 L72.7,64.6 L81.9,65.2 L91.7,66.1 L102.5,67.4 L113.5,69.1 L126.1,71.2 L140.2,73.8 L158.0,77.3 L140.2,80.8 L126.1,83.4 L113.5,85.6 L102.5,87.3 L91.7,88.6 L81.9,89.5 L72.8,90.1 L64.4,90.3 L59.9,90.2 L55.5,90.1 L51.3,89.8 L47.2,89.4 L43.4,88.9 L39.4,88.2 L36.1,87.5 L32.7,86.6 L29.7,85.7 L27.0,84.7 L24.7,83.6 L22.8,82.4 L21.3,81.2 L20.3,80.0 L19.6,78.7 L19.5,78.1 L19.4,77.4Z" fill="#fff" stroke="#222" stroke-width="0.8"/>
</g>
<rect x="0" y="0" width="1" height="130.4" fill="#8c8c8c"/>
<rect x="175.2" y="0" width="0.9" height="130.4" fill="#d4d4dc"/>
<rect x="1" y="130.4" width="175.2" height="0.8" fill="#dcdce4"/>
</g>
<g transform="translate(330,25)"><g clip-path="url(#cp_r1c2)">
<rect x="0" y="0" width="175.5" height="131" fill="#fff"/><path d="M23.5,69.8 L25.0,69.7 L26.0,70.1 L26.4,71.0 L25.9,72.5 L24.5,73.9 L23.0,74.8 L21.5,75.2 L20.4,75.0 L19.9,74.5 L19.7,74.0 L20.2,72.5 L21.5,70.9 L23.5,69.8Z" fill="#38adff" fill-rule="evenodd"/><path d="M53.0,57.9 L55.0,57.6 L56.5,57.7 L57.5,58.0 L58.0,58.5 L58.1,59.0 L57.8,60.0 L57.0,61.0 L53.8,63.5 L48.1,66.5 L42.5,68.6 L38.0,69.6 L36.1,69.5 L35.3,69.0 L35.2,68.5 L35.4,68.0 L36.6,66.5 L39.0,64.5 L41.5,62.8 L44.5,61.1 L47.5,59.7 L50.5,58.6 L53.0,57.9Z M25.0,67.9 L27.0,67.9 L28.0,68.2 L29.0,68.9 L29.5,69.5 L29.6,70.0 L29.5,70.5 L29.0,71.5 L28.2,72.5 L26.4,74.0 L23.5,75.7 L21.0,76.4 L20.0,76.4 L19.0,76.0 L18.3,75.0 L18.3,74.0 L18.6,73.0 L19.5,71.5 L20.5,70.3 L22.0,69.2 L23.5,68.4 L25.0,67.9Z M23.1,70.0 L21.4,71.0 L20.2,72.5 L19.7,74.0 L19.9,74.5 L20.4,75.0 L21.0,75.2 L22.0,75.1 L23.5,74.6 L25.0,73.5 L26.2,72.0 L26.4,71.0 L26.3,70.5 L25.9,70.0 L24.5,69.7 L23.1,70.0Z" fill="#38ecff" fill-rule="evenodd"/><path d="M87.0,20.5 L95.5,20.1 L103.5,20.2 L111.0,20.8 L118.5,21.9 L125.7,23.5 L131.8,25.5 L137.4,28.0 L141.5,30.5 L145.1,33.5 L146.5,35.1 L147.8,37.0 L148.6,38.5 L149.3,40.5 L149.6,42.0 L149.7,44.0 L149.1,47.5 L147.6,51.0 L145.0,54.5 L141.3,58.0 L137.8,60.5 L134.3,62.5 L130.2,64.5 L126.4,66.0 L121.8,67.5 L116.5,68.9 L106.0,70.9 L99.5,71.7 L92.5,72.3 L78.5,72.8 L67.0,72.6 L52.5,71.3 L48.5,71.3 L45.0,71.6 L30.5,73.8 L28.5,74.5 L24.0,76.6 L21.5,77.4 L20.0,77.5 L19.0,77.4 L18.0,77.0 L17.4,76.5 L16.9,75.0 L17.1,73.5 L18.1,71.5 L19.5,69.7 L22.5,67.2 L25.0,65.8 L29.1,64.0 L29.8,63.5 L30.6,62.5 L30.8,61.5 L30.7,60.5 L29.5,56.5 L29.0,53.5 L29.0,50.5 L29.5,47.8 L30.7,44.5 L32.5,41.5 L35.0,38.5 L37.7,36.0 L42.0,33.0 L46.6,30.5 L52.3,28.0 L58.0,26.0 L65.0,24.0 L71.8,22.5 L79.5,21.3 L87.0,20.5Z M52.6,58.0 L50.0,58.7 L47.0,59.9 L44.0,61.4 L41.0,63.1 L38.5,64.9 L36.6,66.5 L35.4,68.0 L35.2,68.5 L35.3,69.0 L36.1,69.5 L38.0,69.6 L42.5,68.6 L48.1,66.5 L53.8,63.5 L57.0,61.0 L57.8,60.0 L58.1,59.0 L58.0,58.5 L57.5,58.0 L56.5,57.7 L55.0,57.6 L52.6,58.0Z M24.6,68.0 L23.5,68.4 L22.0,69.2 L20.5,70.3 L19.5,71.5 L18.6,73.0 L18.3,74.0 L18.3,75.0 L19.0,76.0 L20.0,76.4 L21.0,76.4 L23.5,75.7 L26.4,74.0 L28.2,72.5 L29.0,71.5 L29.5,70.5 L29.6,70.0 L29.2,69.0 L28.6,68.5 L27.0,67.9 L26.0,67.8 L24.6,68.0Z" fill="#38ffd4" fill-rule="evenodd"/><path d="M96.0,12.5 L105.5,12.5 L115.0,13.1 L124.0,14.3 L132.0,15.8 L140.0,18.0 L147.0,20.7 L153.0,23.7 L157.8,27.0 L161.5,30.5 L163.1,32.5 L164.4,34.5 L165.4,36.5 L166.0,38.5 L166.4,40.5 L166.5,43.0 L166.3,45.0 L165.7,47.5 L164.7,50.0 L163.7,52.0 L160.7,56.0 L158.7,58.0 L156.4,60.0 L152.9,62.5 L148.6,65.0 L143.5,67.3 L138.0,69.3 L131.9,71.0 L125.4,72.5 L117.5,73.9 L109.7,75.0 L101.0,75.9 L93.0,76.5 L75.5,77.1 L61.0,76.8 L54.5,76.4 L44.5,75.4 L39.5,75.4 L29.5,76.2 L22.5,78.2 L19.5,78.7 L17.5,78.4 L16.7,78.0 L16.0,77.3 L15.5,76.5 L15.3,75.5 L15.4,74.5 L15.7,73.0 L16.9,70.5 L19.5,66.5 L20.2,64.5 L20.0,63.0 L18.6,58.0 L18.2,54.5 L18.4,50.0 L19.4,45.5 L21.2,41.0 L23.6,37.0 L26.8,33.0 L30.5,29.6 L35.5,26.1 L41.5,23.1 L49.0,20.3 L57.5,17.8 L66.5,15.7 L76.0,14.1 L85.5,13.1 L96.0,12.5Z M86.7,20.5 L79.0,21.3 L71.8,22.5 L65.0,24.0 L58.0,26.0 L52.3,28.0 L46.6,30.5 L42.0,33.0 L37.7,36.0 L35.0,38.5 L32.5,41.5 L30.7,44.5 L29.5,47.8 L29.0,50.5 L29.0,53.5 L29.5,56.5 L30.7,60.5 L30.8,61.5 L30.6,62.5 L29.8,63.5 L29.1,64.0 L25.0,65.8 L22.5,67.2 L19.5,69.7 L18.1,71.5 L17.1,73.5 L16.9,75.0 L17.4,76.5 L18.0,77.0 L19.0,77.4 L20.0,77.5 L21.5,77.4 L24.0,76.6 L28.5,74.5 L30.5,73.8 L45.0,71.6 L48.5,71.3 L52.5,71.3 L67.0,72.6 L78.5,72.8 L92.5,72.3 L99.5,71.7 L106.0,70.9 L116.5,68.9 L121.8,67.5 L126.4,66.0 L130.2,64.5 L134.3,62.5 L137.8,60.5 L141.3,58.0 L145.0,54.5 L147.6,51.0 L149.1,47.5 L149.6,45.5 L149.7,43.5 L149.5,41.5 L149.2,40.0 L148.5,38.3 L147.5,36.5 L146.0,34.5 L144.6,33.0 L141.0,30.1 L136.4,27.5 L131.0,25.2 L125.0,23.3 L118.0,21.8 L110.5,20.7 L103.0,20.2 L95.0,20.1 L86.7,20.5Z" fill="#38ff8e" fill-rule="evenodd"/><path d="M12.5,-2.0 L177.0,-2.0 L177.0,72.1 L164.0,72.5 L154.0,73.1 L114.0,77.8 L101.5,78.9 L89.5,79.6 L75.5,80.0 L61.5,80.0 L52.0,79.6 L39.0,78.5 L34.5,78.3 L28.0,78.5 L19.5,79.9 L17.5,79.8 L15.5,79.2 L13.9,78.0 L13.1,76.5 L12.8,75.0 L12.5,70.7 L10.4,66.5 L9.5,64.0 L8.8,61.0 L8.4,57.5 L8.7,52.0 L9.7,46.5 L11.6,40.5 L16.0,29.0 L16.9,26.0 L17.3,23.0 L17.2,18.5 L16.2,12.0 L14.6,5.0 L12.5,-2.0Z M96.0,12.5 L85.5,13.1 L76.0,14.1 L66.5,15.7 L57.5,17.8 L49.0,20.3 L41.5,23.1 L35.5,26.1 L30.5,29.6 L26.8,33.0 L23.6,37.0 L21.2,41.0 L19.4,45.5 L18.4,50.0 L18.2,54.5 L18.6,58.0 L20.0,63.0 L20.2,64.5 L19.5,66.5 L16.9,70.5 L15.7,73.0 L15.4,74.5 L15.3,75.5 L15.5,76.5 L16.0,77.3 L16.7,78.0 L17.5,78.4 L19.5,78.7 L22.5,78.2 L29.5,76.2 L39.5,75.4 L44.5,75.4 L54.5,76.4 L61.0,76.8 L75.5,77.1 L93.0,76.5 L101.0,75.9 L109.7,75.0 L117.5,73.9 L125.4,72.5 L131.9,71.0 L138.0,69.3 L143.5,67.3 L148.6,65.0 L152.9,62.5 L156.4,60.0 L158.7,58.0 L160.7,56.0 L163.7,52.0 L164.7,50.0 L165.7,47.5 L166.3,45.0 L166.5,43.0 L166.4,40.5 L166.0,38.5 L165.4,36.5 L164.4,34.5 L163.1,32.5 L161.5,30.5 L157.8,27.0 L153.0,23.7 L147.0,20.7 L140.0,18.0 L132.0,15.8 L124.0,14.3 L115.0,13.1 L105.5,12.5 L96.0,12.5Z" fill="#38ff50" fill-rule="evenodd"/><path d="M-1.5,-2.0 L12.4,-2.0 L14.2,3.5 L15.8,10.0 L16.7,15.0 L17.3,19.0 L17.4,22.0 L17.1,24.5 L15.8,29.5 L11.8,40.0 L10.0,45.5 L8.8,51.0 L8.4,56.0 L8.6,59.5 L9.1,62.5 L10.2,66.0 L12.5,70.7 L12.8,75.0 L13.1,76.5 L13.9,78.0 L15.5,79.2 L17.5,79.8 L19.5,79.9 L28.0,78.5 L34.5,78.3 L39.0,78.5 L52.0,79.6 L61.5,80.0 L75.5,80.0 L89.5,79.6 L101.5,78.9 L114.0,77.8 L154.0,73.1 L164.0,72.5 L177.0,72.1 L177.0,77.8 L144.0,78.8 L95.5,82.0 L81.5,82.6 L68.0,82.8 L52.0,82.4 L29.0,80.8 L25.5,80.8 L19.0,81.3 L16.5,81.3 L13.5,80.7 L8.5,78.8 L6.0,78.2 L2.0,77.8 L-2.0,78.0 L-2.0,-2.0 L-1.5,-2.0Z" fill="#57ff38" fill-rule="evenodd"/><path d="M-1.5,77.9 L2.5,77.8 L6.0,78.2 L8.5,78.8 L13.5,80.7 L16.5,81.3 L19.0,81.3 L25.5,80.8 L29.0,80.8 L52.0,82.4 L68.0,82.8 L81.5,82.6 L95.5,82.0 L144.0,78.8 L177.0,77.8 L177.0,81.9 L134.0,83.1 L85.0,85.4 L70.5,85.8 L58.0,85.7 L46.5,85.1 L23.0,82.8 L13.0,83.1 L3.0,83.0 L-2.0,83.2 L-2.0,78.0 L-1.5,77.9Z" fill="#96ff38" fill-rule="evenodd"/><path d="M173.0,82.0 L177.0,81.9 L177.0,87.6 L122.9,89.0 L83.0,90.4 L65.5,90.7 L58.5,90.5 L51.5,89.8 L32.5,87.0 L24.5,85.1 L21.0,84.6 L17.5,84.8 L8.5,86.4 L-2.0,87.5 L-2.0,83.2 L2.0,83.0 L13.0,83.1 L23.0,82.8 L50.0,85.4 L58.0,85.7 L68.0,85.8 L91.0,85.2 L135.4,83.0 L173.0,82.0Z" fill="#c8f83c" fill-rule="evenodd"/><path d="M16.0,85.0 L19.5,84.6 L22.5,84.7 L25.0,85.2 L32.0,86.9 L50.5,89.7 L56.5,90.4 L63.0,90.7 L82.5,90.4 L122.9,89.0 L177.0,87.6 L177.0,132.5 L-2.0,132.5 L-2.0,117.1 L0.1,120.5 L2.6,123.5 L5.5,126.1 L9.0,128.5 L12.5,130.2 L16.0,131.4 L20.0,132.2 L24.0,132.4 L28.0,132.0 L31.5,131.2 L35.0,129.8 L38.2,128.0 L41.0,125.8 L43.7,123.0 L45.7,120.0 L47.4,116.5 L48.1,114.0 L48.6,111.5 L48.8,109.0 L48.7,107.0 L48.3,104.5 L47.7,102.5 L46.8,100.5 L45.8,99.0 L43.9,97.0 L40.9,95.0 L38.0,93.7 L31.5,91.5 L24.6,87.5 L22.5,86.8 L20.5,86.5 L18.5,86.6 L16.5,87.0 L14.1,88.0 L8.5,91.0 L1.0,93.7 L-2.0,95.5 L-2.0,87.5 L8.5,86.4 L16.0,85.0Z" fill="#f6f23a" fill-rule="evenodd"/><path d="M17.0,86.9 L19.0,86.6 L20.5,86.5 L23.5,87.1 L25.6,88.0 L31.5,91.5 L38.0,93.7 L40.9,95.0 L43.2,96.5 L45.4,98.5 L46.8,100.5 L47.9,103.0 L48.4,105.0 L48.7,107.0 L48.7,111.0 L47.7,115.5 L46.0,119.5 L43.5,123.2 L40.2,126.5 L36.5,129.1 L32.5,130.9 L30.0,131.6 L27.5,132.1 L22.5,132.4 L17.5,131.8 L12.5,130.2 L8.0,127.9 L4.2,125.0 L0.9,121.5 L-2.0,117.1 L-2.0,95.5 L1.0,93.7 L8.0,91.2 L14.1,88.0 L17.0,86.9Z M17.9,89.5 L16.5,90.5 L15.6,92.0 L15.6,93.5 L15.9,94.5 L16.5,95.3 L18.0,96.4 L19.5,96.7 L21.5,96.4 L23.0,95.5 L23.8,94.5 L24.2,93.0 L24.0,91.5 L23.3,90.5 L22.0,89.5 L21.0,89.2 L19.5,89.1 L17.9,89.5Z" fill="#fcc83e" fill-rule="evenodd"/><path d="M18.0,89.4 L19.5,89.1 L21.0,89.2 L22.5,89.8 L23.7,91.0 L24.1,92.0 L24.2,93.5 L23.5,94.9 L22.5,95.9 L21.0,96.5 L19.0,96.6 L17.5,96.1 L16.2,95.0 L15.6,93.5 L15.6,92.0 L16.5,90.5 L18.0,89.4Z" fill="#fb7c3a" fill-rule="evenodd"/><path d="M175.0,139.0 L183.5,138.9 M128.3,139.0 L143.0,137.3 L157.5,136.0 L171.0,135.3 L184.0,135.0 M103.4,139.0 L125.5,135.6 L147.0,133.1 L165.5,131.7 L183.5,131.2 M83.2,139.0 L96.0,136.5 L110.0,134.2 L138.5,130.2 L151.0,128.9 L162.5,128.0 L173.0,127.4 L183.5,127.2 M66.0,139.0 L79.0,136.0 L94.0,133.1 L111.5,130.2 L130.0,127.4 L145.5,125.6 L159.0,124.3 L171.5,123.5 L183.5,123.3 M51.5,139.0 L64.0,135.5 L78.5,132.2 L97.5,128.7 L119.5,125.1 L139.0,122.4 L155.5,120.6 L170.0,119.6 L183.5,119.3 M39.3,139.0 L51.5,134.8 L65.0,131.2 L81.5,127.7 L103.0,123.9 L129.5,119.8 L151.0,117.1 L168.0,115.6 L183.5,115.2 M28.9,139.0 L40.5,134.1 L52.0,130.4 L65.4,127.0 L82.5,123.6 L117.5,117.8 L146.5,113.6 L166.5,111.6 L175.0,111.2 L183.5,111.1 M19.9,139.0 L31.5,133.3 L42.5,128.9 L54.5,125.4 L68.5,122.2 L106.5,115.7 L146.0,109.7 L166.5,107.5 L175.0,107.0 L183.5,106.8 M11.8,139.0 L24.5,131.9 L35.0,127.0 L46.0,123.2 L58.5,120.1 L80.5,116.1 L148.5,105.3 L167.5,103.1 L175.5,102.7 L183.5,102.6 M4.5,139.0 L18.5,130.3 L29.5,124.5 L39.5,120.5 L45.0,118.8 L51.0,117.3 L66.5,114.4 L153.5,100.5 L170.0,98.5 L176.5,98.2 L183.5,98.2 M-2.2,139.0 L14.0,128.1 L25.0,121.6 L30.0,119.1 L35.0,117.0 L39.5,115.5 L45.0,114.0 L57.0,111.6 L100.0,105.3 L160.5,95.2 L172.5,93.8 L183.5,93.7 M-8.0,138.6 L12.0,124.3 L22.0,117.8 L26.5,115.3 L30.5,113.3 L35.0,111.6 L39.5,110.3 L45.0,109.0 L52.0,107.9 L82.5,104.1 L102.5,101.1 L166.0,89.8 L174.5,88.9 L183.5,89.0 M-8.0,134.1 L14.0,117.4 L21.5,112.1 L28.5,108.1 L32.0,106.7 L35.5,105.6 L39.5,104.8 L45.0,104.0 L76.5,100.9 L100.0,97.7 L134.4,91.5 L169.0,84.4 L176.0,83.8 L183.5,84.1 M-8.0,129.4 L2.5,121.0 L21.5,105.1 L26.5,101.9 L31.0,100.2 L34.5,99.5 L38.5,99.1 L70.5,97.6 L91.0,95.3 L109.5,92.3 L140.5,86.2 L156.0,82.8 L167.0,79.2 L169.5,78.6 L172.5,78.3 L175.5,78.3 L183.5,79.0 M162.9,69.6 L171.5,71.1 L183.5,73.7 M-8.0,124.6 L4.2,114.0 L13.1,105.0 L16.5,101.0 L19.6,97.0 L22.1,93.0 L23.6,90.0 M-8.0,119.1 L-1.5,113.0 L4.3,107.0 L8.6,101.5 L11.4,97.0 L12.6,94.0 L13.2,91.0 L13.3,88.5 L12.7,83.0 L12.6,79.0 L12.8,76.5 L13.5,73.5 L15.2,68.5 L16.4,66.0 L20.6,59.5 L23.5,55.7 L30.7,48.5 L37.0,43.1 L46.0,37.4 L54.0,32.9 L57.5,31.3 L70.0,26.3 L77.0,24.1 L86.5,21.9 L97.0,19.8 L102.0,19.6 L106.5,19.9 L119.0,20.2 L123.5,20.5 L128.0,21.6 L138.5,25.6 L143.0,27.5 L146.4,29.5 L149.8,32.5 L155.7,38.5 L159.9,43.5 L167.0,55.9 L169.0,58.7 L171.1,61.0 L173.5,62.9 L176.1,64.5 L179.5,66.1 L184.0,67.7 M-8.0,113.4 L-3.3,108.5 L0.6,104.0 L3.5,100.0 L5.9,96.0 L7.3,93.0 L8.2,90.0 L10.4,76.5 L11.3,73.0 L12.8,69.0 L14.5,65.5 L16.9,61.5 L20.5,56.5 L23.5,53.0 L29.5,47.1 L35.5,42.1 L40.0,39.0 L47.0,34.7 L53.5,31.2 L59.0,28.7 L69.5,24.5 L76.5,22.3 L85.0,20.3 L92.5,18.8 L97.5,18.0 L101.5,17.8 L116.5,18.2 L122.5,18.6 L128.0,19.7 L134.5,21.9 L144.0,25.8 L147.0,27.5 L150.0,29.7 L154.9,34.0 L159.9,39.0 L163.0,42.5 L169.5,50.7 L173.0,54.4 L178.0,58.3 L183.5,61.3 M-8.0,107.3 L-4.7,103.5 L-1.6,99.5 L0.7,96.0 L2.6,92.5 L5.0,86.5 L8.8,73.0 L10.7,68.5 L12.4,65.0 L14.5,61.5 L17.3,57.5 L20.1,54.0 L23.3,50.5 L28.5,45.5 L34.5,40.6 L40.0,36.8 L47.0,32.6 L53.5,29.1 L60.5,26.0 L69.5,22.6 L76.5,20.4 L84.0,18.6 L91.5,17.1 L97.0,16.3 L102.0,16.0 L114.0,16.2 L121.5,16.7 L127.0,17.6 L133.5,19.4 L139.0,21.4 L144.0,23.5 L147.7,25.5 L151.5,28.0 L156.0,31.5 L160.6,35.5 L174.5,49.1 L179.0,52.6 L183.5,55.4 M-8.0,96.4 L-5.0,92.0 L-2.1,87.0 L5.5,70.0 L9.9,62.0 L13.0,57.5 L16.1,53.5 L19.7,49.5 L24.0,45.2 L29.4,40.5 L35.0,36.3 L41.0,32.4 L48.0,28.4 L55.0,24.9 L62.5,21.7 L70.0,19.0 L77.5,16.8 L84.5,15.2 L92.0,13.8 L98.0,13.0 L103.5,12.7 L113.0,12.8 L120.5,13.3 L126.5,14.1 L132.5,15.5 L138.0,17.2 L143.5,19.3 L148.3,21.5 L152.8,24.0 L161.0,29.5 L177.0,41.8 L183.5,46.1 M-8.0,85.1 L3.1,65.5 L8.8,57.0 L12.7,52.0 L16.8,47.5 L21.4,43.0 L26.0,39.0 L31.5,34.7 L37.5,30.7 L44.0,26.8 L50.5,23.4 L57.5,20.2 L65.0,17.3 L72.0,14.9 L79.0,13.0 L86.0,11.5 L93.0,10.3 L99.5,9.6 L105.5,9.3 L113.0,9.4 L120.0,9.8 L126.5,10.6 L132.5,11.8 L138.0,13.3 L143.5,15.2 L148.5,17.2 L153.3,19.5 L162.0,24.4 L177.5,34.3 L183.5,37.9 M-8.0,74.8 L1.4,60.5 L5.4,55.0 L9.1,50.5 L13.2,46.0 L18.0,41.3 L23.0,37.0 L28.0,33.1 L33.5,29.2 L39.5,25.5 L46.0,21.9 L52.5,18.7 L59.5,15.7 L66.5,13.2 L73.5,11.0 L80.5,9.2 L87.0,7.8 L93.5,6.8 L100.0,6.2 L106.5,5.8 L113.5,5.9 L120.0,6.2 L126.0,6.9 L132.0,8.0 L137.5,9.3 L143.0,10.9 L153.9,15.0 L163.2,19.5 L183.5,30.5 M-8.0,66.0 L1.5,53.5 L10.0,44.0 L14.6,39.5 L19.5,35.2 L24.5,31.3 L30.0,27.4 L36.0,23.5 L42.0,20.1 L48.0,17.0 L54.5,14.1 L61.5,11.3 L68.0,9.0 L74.5,7.1 L81.5,5.4 L88.0,4.1 L94.5,3.2 L101.0,2.6 L107.0,2.3 L113.5,2.3 L120.0,2.6 L126.0,3.2 L132.0,4.1 L143.0,6.7 L154.0,10.3 L164.5,14.7 L183.5,23.7 M-8.0,58.4 L1.3,47.5 L10.5,38.2 L20.5,29.8 L31.0,22.4 L37.0,18.8 L43.0,15.6 L55.5,9.8 L62.0,7.3 L68.5,5.2 L81.5,1.8 L94.0,-0.4 L106.5,-1.4 L119.0,-1.2 L131.0,0.0 L142.0,2.2 L153.7,5.5 L165.5,9.8 L183.5,17.3 M-8.0,51.5 L1.4,41.5 L11.1,32.5 L21.4,24.5 L32.1,17.5 L44.0,11.0 L56.0,5.7 L68.5,1.4 L81.5,-2.0 L93.5,-4.0 L106.0,-5.1 L118.5,-5.1 L130.5,-4.1 L141.5,-2.3 L153.5,0.7 L166.0,4.7 L183.5,11.1 M-8.0,45.0 L1.7,35.5 L11.7,27.0 L22.0,19.5 L33.0,12.7 L44.5,6.7 L56.5,1.6 L69.0,-2.6 L81.5,-5.8 L93.5,-7.8 L105.5,-8.9 L117.5,-9.1 L130.0,-8.3 L141.5,-6.6 L153.6,-4.0 L166.5,-0.4 L183.5,5.1 M-8.0,38.9 L2.4,29.5 L12.4,21.5 L23.0,14.2 L34.0,7.8 L45.5,2.1 L57.5,-2.8 L69.5,-6.7 L82.0,-9.8 L94.0,-11.8 L106.0,-12.9 L118.0,-13.2 L130.0,-12.5 L141.5,-11.1 L154.0,-8.7 L166.9,-5.5 L183.5,-0.7 M-8.0,33.0 L2.6,24.0 L13.0,16.2 L23.5,9.3 L34.5,3.1 L46.0,-2.4 L57.5,-6.9 L69.5,-10.8 L81.5,-13.7 L93.5,-15.7 L105.5,-17.0 L117.5,-17.3 L129.5,-16.9 L141.5,-15.6 L153.5,-13.6 L167.0,-10.7 L183.5,-6.5 M-8.0,27.2 L-1.0,21.5 L6.0,16.2 L13.0,11.3 L20.0,6.8 L27.0,2.7 L34.5,-1.3 L42.0,-4.9 L49.3,-8.0 M-8.0,21.6 L3.5,12.8 L15.1,5.0 L27.0,-1.9 L39.1,-8.0 M-8.0,16.0 L1.5,9.0 L10.5,3.0 L20.0,-2.8 L29.7,-8.0 M-8.0,10.5 L6.5,0.5 L20.8,-8.0 M-8.0,5.0 L2.0,-1.8 L12.1,-8.0 M-8.0,-0.4 L3.6,-8.0 M-8.0,-5.9 L-4.8,-8.0" fill="none" stroke="#111" stroke-width="0.9" stroke-linejoin="round"/><path d="M160.2,134.1 L165.1,131.7 L160.0,129.9 M125.4,134.0 L130.1,131.2 L124.8,129.8 M160.0,130.2 L164.9,127.8 L159.8,126.0 M90.6,135.8 L95.1,132.9 L89.9,131.7 M125.2,130.2 L129.9,127.5 L124.6,126.0 M159.8,126.3 L164.7,123.9 L159.6,122.1 M90.4,132.0 L95.0,129.1 L89.7,127.9 M125.0,126.4 L129.7,123.7 L124.4,122.3 M159.6,122.3 L164.5,119.9 L159.4,118.2 M55.8,135.7 L60.1,132.4 L54.8,131.6 M90.2,128.2 L94.8,125.3 L89.5,124.1 M124.8,122.6 L129.5,119.8 L124.2,118.5 M159.5,118.3 L164.3,115.9 L159.2,114.2 M55.5,131.5 L59.9,128.3 L54.6,127.4 M90.0,124.4 L94.6,121.5 L89.3,120.3 M124.7,118.8 L129.3,116.0 L124.0,114.7 M159.3,114.3 L164.1,111.8 L158.9,110.1 M55.3,127.3 L59.7,124.1 L54.4,123.2 M89.8,120.6 L94.4,117.7 L89.1,116.4 M124.5,115.0 L129.1,112.1 L123.8,110.8 M159.1,110.2 L163.9,107.7 L158.7,106.0 M23.9,134.5 L27.5,130.4 L22.1,130.7 M55.0,123.0 L59.5,119.9 L54.2,118.8 M89.6,116.8 L94.2,113.9 L88.9,112.6 M124.3,111.1 L128.9,108.3 L123.6,107.0 M158.9,106.0 L163.7,103.5 L158.5,101.8 M23.7,129.7 L27.3,125.6 L21.9,125.9 M54.7,118.6 L59.3,115.6 L54.0,114.5 M89.4,112.9 L94.0,110.1 L88.7,108.8 M124.1,107.3 L128.7,104.4 L123.4,103.1 M158.7,101.8 L163.5,99.2 L158.3,97.6 M23.5,124.7 L27.0,120.5 L21.6,120.9 M54.4,114.1 L59.1,111.3 L53.8,110.0 M89.2,109.1 L93.8,106.3 L88.6,105.0 M124.0,103.4 L128.5,100.5 L123.2,99.3 M158.6,97.5 L163.2,94.8 L158.0,93.4 M23.3,119.3 L26.8,115.1 L21.3,115.6 M54.1,109.7 L58.8,107.0 L53.6,105.5 M89.0,105.3 L93.6,102.5 L88.4,101.2 M123.8,99.6 L128.3,96.6 L123.0,95.4 M158.4,93.2 L163.0,90.3 L157.7,89.0 M23.0,113.4 L26.5,109.2 L21.1,109.7 M53.8,105.1 L58.6,102.6 L53.5,101.0 M88.8,101.5 L93.4,98.7 L88.2,97.4 M123.6,95.7 L128.1,92.7 L122.8,91.6 M158.4,88.8 L162.8,85.6 L157.4,84.7 M22.7,106.3 L26.1,102.1 L20.7,102.6 M53.5,100.6 L58.4,98.3 L53.3,96.4 M88.6,97.8 L93.2,95.0 L88.0,93.6 M123.4,91.8 L127.9,88.8 L122.6,87.7 M158.5,84.4 L162.5,80.7 L157.1,80.4 M31.3,50.6 L33.8,45.8 L28.6,47.4 M60.4,32.4 L64.3,28.6 L58.9,28.5 M94.2,21.9 L99.1,19.6 L94.0,17.7 M127.9,23.8 L133.3,23.5 L129.4,19.8 M156.6,42.0 L161.0,45.2 L160.2,39.9 M31.8,47.7 L34.4,43.0 L29.2,44.5 M60.9,30.1 L64.7,26.4 L59.3,26.2 M94.6,20.3 L99.4,17.9 L94.3,16.1 M128.3,21.9 L133.7,21.6 L129.7,17.9 M156.9,38.6 L161.8,41.1 L160.1,35.9 M-3.2,105.3 L-2.0,100.0 L-6.6,102.9 M32.2,44.9 L35.0,40.2 L29.7,41.5 M61.3,27.9 L65.2,24.2 L59.8,24.0 M94.9,18.4 L99.8,16.1 L94.7,14.3 M128.7,20.0 L134.1,19.6 L130.0,16.0 M157.5,35.4 L162.5,37.3 L160.4,32.4 M2.8,81.5 L2.8,76.1 L-1.1,79.9 M32.9,40.2 L35.9,35.7 L30.6,36.8 M61.9,24.1 L65.9,20.4 L60.5,20.2 M95.6,15.2 L100.4,12.9 L95.3,11.1 M129.4,16.7 L134.8,16.2 L130.6,12.7 M158.5,30.2 L163.7,31.5 L161.0,26.8 M4.7,66.7 L5.7,61.3 L1.2,64.3 M33.7,35.6 L36.8,31.1 L31.4,32.1 M62.6,20.3 L66.7,16.7 L61.3,16.3 M96.2,11.9 L101.1,9.5 L96.0,7.7 M130.1,13.3 L135.5,12.6 L131.2,9.3 M159.4,25.2 L164.8,26.1 L161.7,21.7 M6.0,57.6 L7.5,52.4 L2.7,54.9 M34.5,30.9 L37.7,26.5 L32.3,27.4 M63.4,16.4 L67.4,12.8 L62.0,12.4 M96.9,8.4 L101.8,6.0 L96.7,4.2 M130.9,9.8 L136.2,8.9 L131.9,5.7 M160.4,20.4 L165.8,20.9 L162.4,16.7 M7.0,50.0 L9.0,45.0 L4.0,47.1 M35.3,26.3 L38.6,22.0 L33.2,22.7 M64.1,12.5 L68.2,9.0 L62.8,8.5 M97.6,4.8 L102.5,2.5 L97.4,0.6 M131.6,6.1 L137.0,5.1 L132.6,2.0 M161.4,15.6 L166.8,15.8 L163.2,11.8 M8.1,43.3 L10.3,38.3 L5.2,40.2 M36.1,21.6 L39.5,17.4 L34.1,18.0 M64.8,8.5 L69.0,5.0 L63.6,4.5 M98.4,1.2 L103.3,-1.2 L98.1,-3.0 M132.4,2.3 L137.8,1.2 L133.3,-1.9 M162.4,10.8 L167.9,10.7 L164.0,6.9 M9.1,36.9 L11.6,32.1 L6.4,33.7 M37.0,17.0 L40.4,12.8 L35.0,13.3 M65.6,4.4 L69.8,1.0 L64.4,0.4 M133.3,-1.7 L138.6,-2.8 L134.1,-5.8 M163.5,6.0 L168.9,5.7 L164.9,2.1 M10.1,30.9 L12.8,26.2 L7.5,27.6 M37.8,12.3 L41.4,8.2 L36.0,8.6 M164.5,1.2 L169.9,0.7 L165.7,-2.8 M11.1,25.0 L13.9,20.4 L8.7,21.6 M38.7,7.6 L42.3,3.6 L36.9,3.8 M12.1,19.3 L15.1,14.8 L9.7,15.8 M39.6,2.9 L43.2,-1.1 L37.8,-1.0 M13.1,13.7 L16.2,9.2 L10.8,10.1 M14.1,8.1 L17.3,3.7 L11.9,4.5 M15.1,2.5 L18.4,-1.8 L13.0,-1.1" fill="none" stroke="#111" stroke-width="0.9" stroke-linejoin="miter"/><path d="M99.0,37.7 L99.2,38.4 L99.3,39.1 L99.3,39.8 L99.3,40.5 L99.1,41.3 L98.9,42.1 L98.5,42.9 L98.1,43.7 L97.6,44.6 L97.0,45.4 L96.4,46.3 L95.6,47.1 L94.8,48.0 L93.9,48.9 L92.9,49.8 L91.9,50.6 L90.8,51.5 L89.6,52.4 L88.4,53.2 L87.1,54.1 L85.8,54.9 L84.4,55.7 L83.0,56.5 L81.5,57.3 L80.0,58.0 L78.5,58.8 L76.9,59.5 L75.3,60.1 L73.7,60.8 L72.0,61.4 L70.4,61.9 L68.7,62.5 L67.1,63.0 L65.4,63.4 L63.8,63.8 L62.2,64.2 L60.5,64.5 L58.9,64.8 L57.4,65.1 L55.8,65.3 L54.3,65.4 L52.9,65.6 L51.4,65.6 L50.1,65.6 L48.7,65.6 L47.4,65.5 L46.2,65.4 L45.1,65.2 L44.0,65.0 L42.9,64.8 L42.0,64.5 L41.1,64.1 L40.3,63.7 L39.6,63.3 L38.9,62.8 L38.3,62.3 L37.8,61.8 L37.4,61.2 L37.1,60.6 L36.9,60.0 L36.7,59.3 L36.7,58.6 L36.7,57.8 L36.8,57.1 L37.0,56.3 L37.3,55.5 L37.7,54.7 L38.1,53.9 L38.7,53.0 L39.3,52.2 L40.0,51.3 L40.8,50.4 L41.6,49.6 L42.6,48.7 L43.6,47.8 L44.6,46.9 L45.8,46.1 L47.0,45.2 L48.2,44.3 L49.5,43.5 L50.9,42.7 L52.3,41.9 L53.7,41.1 L55.2,40.3 L56.8,39.6 L58.3,38.9 L59.9,38.2 L61.5,37.6 L63.1,36.9 L64.8,36.3 L66.4,35.8 L68.1,35.3 L69.7,34.8 L71.4,34.4 L73.0,34.0 L74.7,33.6 L76.3,33.3 L77.8,33.0 L79.4,32.8 L80.9,32.6 L82.4,32.5 L83.9,32.4 L85.3,32.4 L86.6,32.4 L87.9,32.4 L89.2,32.5 L90.4,32.7 L91.5,32.9 L92.5,33.1 L93.5,33.4 L94.5,33.7 L95.3,34.1 L96.1,34.5 L96.8,34.9 L97.4,35.4 L97.9,35.9 L98.4,36.5 L98.7,37.1 L99.0,37.7 M116.2,31.1 L117.1,31.5 L117.9,31.8 L118.6,32.2 L119.3,32.7 L120.0,33.1 L120.6,33.6 L121.1,34.0 L121.7,34.5 L122.1,35.0 L122.6,35.5 L122.9,36.1 L123.3,36.6 L123.5,37.2 L123.8,37.8 L123.9,38.3 L124.1,38.9 L124.1,39.5 L124.2,40.1 L124.2,40.8 L124.1,41.4 L124.0,42.0 L123.8,42.7 L123.6,43.3 L123.3,44.0 L123.0,44.7 L122.6,45.3 L122.2,46.0 L121.7,46.7 L121.2,47.3 L120.6,48.0 L120.0,48.7 L119.4,49.3 L118.7,50.0 L117.9,50.7 L117.1,51.3 L116.3,52.0 L115.4,52.7 L114.5,53.3 L113.6,54.0 L112.6,54.6 L111.6,55.2 L110.5,55.9 L109.4,56.5 L108.3,57.1 L107.1,57.7 L105.9,58.2 L104.7,58.8 L103.5,59.4 L102.2,59.9 L100.9,60.5 L99.6,61.0 L98.2,61.5 L96.9,62.0 L95.5,62.4 L94.1,62.9 L92.6,63.3 L91.2,63.8 L89.8,64.2 L88.3,64.5 L86.8,64.9 L85.4,65.3 L83.9,65.6 L82.4,65.9 L80.9,66.2 L79.4,66.4 L77.9,66.7 L76.4,66.9 L74.9,67.1 L73.5,67.3 L72.0,67.5 L70.5,67.6 L69.1,67.7 L67.7,67.8 L66.2,67.9 L64.8,67.9 L63.4,67.9 L62.1,67.9 L60.7,67.9 L59.4,67.9 L58.1,67.8 L56.8,67.7 L55.5,67.6 L54.3,67.5 L53.1,67.3 L51.9,67.1 L50.8,66.9 L49.7,66.7 L48.6,66.5 L47.6,66.2 L46.6,65.9 L45.7,65.6 L44.7,65.3 L43.9,65.0 L43.0,64.6 L42.2,64.2 L41.5,63.8 L40.8,63.4 L40.1,62.9 L39.5,62.5 L38.9,62.0 L38.4,61.5 L37.9,61.0 L37.5,60.5 L37.1,60.0 L36.8,59.4 L36.5,58.9 L36.3,58.3 L36.1,57.7 L35.9,57.1 L35.9,56.5 L35.8,55.9 L35.8,55.3 L35.9,54.7 L36.0,54.0 L36.2,53.4 L36.4,52.8 L36.7,52.1 L37.0,51.4 L37.4,50.8 M135.9,28.7 L137.2,29.2 L138.5,29.7 L139.7,30.3 L140.8,30.8 L141.9,31.4 L143.0,32.0 L144.0,32.7 L144.9,33.3 L145.7,34.0 L146.5,34.6 L147.2,35.3 L147.9,36.0 L148.5,36.8 L149.0,37.5 L149.5,38.3 L149.8,39.0 L150.2,39.8 L150.4,40.6 L150.6,41.4 L150.7,42.2 L150.7,43.0 L150.7,43.8 L150.6,44.6 L150.4,45.4 L150.2,46.3 L149.9,47.1 L149.5,47.9 L149.0,48.8 L148.5,49.6 L147.9,50.4 L147.3,51.3 L146.6,52.1 L145.8,52.9 L144.9,53.7 L144.0,54.5 L143.0,55.3 L142.0,56.1 L140.9,56.9 L139.8,57.6 L138.6,58.4 L137.3,59.1 L136.0,59.9 L134.6,60.6 L133.2,61.3 L131.7,61.9 L130.2,62.6 L128.6,63.3 L127.0,63.9 L125.4,64.5 L123.7,65.1 L122.0,65.6 L120.2,66.2 L118.5,66.7 L116.6,67.2 L114.8,67.7 L112.9,68.1 L111.0,68.5 L109.1,68.9 L107.2,69.3 L105.2,69.7 L103.3,70.0 L101.3,70.3 L99.3,70.5 L97.3,70.8 L95.3,71.0 L93.3,71.2 L91.3,71.3 L89.3,71.4 L87.3,71.5 L85.4,71.6 L83.4,71.6 L81.4,71.6 L79.5,71.6 L77.6,71.6 L75.7,71.5 L73.8,71.4 L72.0,71.2 L70.1,71.1 L68.3,70.9 L66.6,70.6 L64.8,70.4 L63.1,70.1 L61.5,69.8 L59.9,69.5 L58.3,69.1 L56.8,68.7 L55.3,68.3 L53.8,67.9 L52.5,67.4 L51.1,66.9 L49.8,66.4 L48.6,65.9 L47.4,65.3 L46.3,64.7 L45.3,64.1 L44.3,63.5 L43.4,62.9 L42.5,62.2 L41.7,61.5 L40.9,60.8 L40.3,60.1 L39.7,59.4 L39.1,58.7 L38.6,57.9 L38.2,57.2 L37.9,56.4 L37.6,55.6 L37.4,54.8 L37.3,54.0 L37.3,53.2 L37.3,52.4 L37.4,51.6 L37.5,50.8 L37.7,49.9 L38.0,49.1 L38.4,48.3 L38.8,47.4 L39.3,46.6 L39.9,45.8 M151.3,26.4 L152.9,26.9 L154.5,27.5 L156.0,28.1 L157.4,28.7 L158.8,29.3 L160.1,30.0 L161.4,30.6 L162.6,31.3 L163.7,32.0 L164.8,32.8 L165.8,33.5 L166.7,34.3 L167.5,35.1 L168.3,35.9 L169.0,36.7 L169.6,37.5 L170.2,38.3 L170.6,39.2 L171.0,40.1 L171.4,40.9 L171.6,41.8 L171.8,42.7 L171.9,43.6 L171.9,44.5 L171.8,45.4 L171.6,46.3 L171.4,47.2 L171.1,48.1 L170.7,49.0 L170.3,49.9 L169.7,50.8 L169.1,51.7 L168.4,52.6 L167.7,53.5 L166.8,54.4 L165.9,55.3 L164.9,56.1 L163.9,57.0 L162.8,57.8 L161.6,58.7 L160.4,59.5 L159.0,60.3 L157.7,61.1 L156.2,61.9 L154.7,62.7 L153.2,63.4 L151.6,64.1 L149.9,64.8 L148.2,65.5 L146.4,66.2 L144.6,66.8 L142.7,67.5 L140.8,68.1 L138.9,68.6 L136.9,69.2 L134.9,69.7 L132.8,70.2 L130.7,70.7 L128.6,71.1 L126.5,71.6 L124.3,72.0 L122.1,72.3 L119.9,72.6 L117.7,73.0 L115.4,73.2 L113.2,73.5 L110.9,73.7 L108.6,73.9 L106.4,74.0 L104.1,74.2 L101.8,74.2 L99.6,74.3 L97.3,74.3 L95.1,74.3 L92.8,74.3 L90.6,74.2 L88.4,74.1 L86.2,74.0 L84.1,73.9 L82.0,73.7 L79.9,73.5 L77.8,73.2 L75.8,72.9 L73.8,72.6 L71.8,72.3 L69.9,71.9 L68.0,71.5 L66.2,71.1 L64.4,70.7 L62.7,70.2 L61.0,69.7 L59.3,69.1 L57.8,68.6 L56.3,68.0 L54.8,67.4 L53.4,66.8 L52.1,66.1 L50.8,65.5 L49.6,64.8 L48.4,64.1 L47.4,63.3 L46.4,62.6 L45.5,61.8 L44.6,61.0 L43.8,60.3 L43.1,59.4 L42.5,58.6 L41.9,57.8 L41.4,56.9 L41.0,56.1 L40.7,55.2 L40.4,54.3 L40.3,53.4 L40.2,52.5 L40.1,51.7 L40.2,50.7 L40.3,49.8 L40.6,48.9 L40.8,48.0 M155.2,30.2 L156.4,30.6 L157.5,30.9 L158.7,31.3 L159.8,31.7 L160.9,32.1 L161.9,32.5 L162.9,32.9 L163.9,33.4 L164.9,33.8 L165.8,34.2 L166.7,34.7 L167.6,35.2 L168.4,35.6 L169.2,36.1 L170.0,36.6 L170.8,37.1 L171.5,37.6 L172.1,38.2 L172.8,38.7 L173.4,39.2 L173.9,39.8 L174.5,40.3 L175.0,40.9 L175.4,41.4 L175.8,42.0 L176.2,42.6 L176.6,43.1 L176.9,43.7 L177.1,44.3 L177.4,44.9 L177.6,45.5 L177.7,46.0 L177.8,46.6 L177.9,47.2 L178.0,47.8 L178.0,48.4 L177.9,49.0 L177.9,49.6 L177.7,50.2 L177.6,50.8 L177.4,51.4 L177.2,52.0 L176.9,52.6 L176.6,53.2 L176.3,53.8 L175.9,54.4 L175.5,55.0 L175.0,55.6 L174.5,56.2 L174.0,56.7 L173.4,57.3 L172.8,57.9 L172.2,58.5 L171.5,59.0 L170.8,59.6 L170.1,60.1 L169.3,60.7 L168.5,61.2 L167.7,61.7 L166.8,62.2 L165.9,62.8 L165.0,63.3 L164.0,63.8 L163.0,64.2 L162.0,64.7 L160.9,65.2 L159.9,65.7 L158.8,66.1 L157.6,66.6 L156.5,67.0 L155.3,67.4 L154.1,67.8 L152.9,68.2 L151.6,68.6 L150.3,69.0 L149.0,69.3 L147.7,69.7 L146.4,70.0 L145.0,70.4 L143.6,70.7 L142.2,71.0 L140.8,71.3 L139.4,71.5 L138.0,71.8 L136.5,72.0 L135.1,72.3 L133.6,72.5 L132.1,72.7 L130.6,72.9 L129.1,73.1 L127.6,73.2 L126.1,73.4 L124.5,73.5 L123.0,73.7 L121.5,73.8 L119.9,73.8 L118.4,73.9 L116.8,74.0 L115.3,74.0 L113.7,74.1 L112.2,74.1 L110.7,74.1 L109.1,74.1 L107.6,74.0 L106.1,74.0 L104.5,73.9 L103.0,73.9 L101.5,73.8 L100.0,73.7 L98.5,73.6 L97.1,73.4 L95.6,73.3 L94.1,73.1 L92.7,72.9 L91.3,72.8 L89.9,72.5 L88.5,72.3 L87.1,72.1 L85.7,71.9" fill="none" stroke="#111" stroke-width="0.85"/><path d="M85.5,53.2 L82.8,56.6 L87.1,56.2 M44.7,64.1 L40.4,63.8 L43.2,67.1 M118.3,48.4 L116.1,52.2 L120.3,51.1 M65.3,66.3 L61.2,67.9 L65.2,69.7 M146.2,50.4 L144.3,54.3 L148.4,52.9 M90.5,69.7 L86.5,71.6 L90.6,73.1 M168.1,50.8 L166.4,54.8 L170.5,53.2 M122.9,70.5 L119.2,72.7 L123.4,73.9 M175.9,52.0 L174.5,56.2 L178.4,54.3 M151.1,67.0 L147.7,69.7 L152.0,70.3" fill="none" stroke="#111" stroke-width="0.9"/><path d="M89.0,39.9 L89.3,41.4 L89.1,43.0 L88.3,44.8 L87.1,46.7 L85.4,48.7 L83.3,50.6 L80.8,52.6 L78.0,54.5 L74.9,56.3 L71.6,58.0 L68.2,59.5 L64.6,60.8 L61.1,61.9 L57.7,62.7 L54.4,63.3 L51.2,63.6 L48.4,63.7 L45.9,63.5 L43.7,63.0 L42.0,62.2 L40.7,61.2 L39.8,60.0 L39.5,58.6 L39.6,57.0 L40.3,55.3 L41.4,53.5 L42.9,51.6 L44.9,49.7 L47.3,47.8 L50.0,45.9 L52.9,44.2 L56.1,42.5 L59.4,41.1 L62.8,39.8 L66.2,38.7 L69.6,37.8 L72.8,37.2 L75.9,36.8 L78.7,36.7 L81.2,36.9 L83.3,37.3 L85.1,38.0 L86.4,38.9 L87.3,40.1 L87.7,41.4 L87.7,42.9 L87.1,44.6 L86.1,46.3 L84.7,48.1 L82.8,50.0 L80.6,51.8 L78.1,53.6 L75.2,55.4 L72.2,57.0 L69.0,58.4 L65.7,59.7 L62.4,60.8 L59.1,61.7 L56.0,62.3 L53.0,62.7 L50.2,62.9 L47.7,62.7 L45.6,62.4 L43.8,61.7 L42.5,60.9 L41.6,59.8 L41.1,58.5 L41.1,57.1 L41.5,55.5 L42.4,53.9 L43.7,52.1 L45.5,50.3 L47.6,48.5 L50.0,46.8 L52.7,45.1 L55.6,43.5 L58.6,42.1 L61.8,40.8 L65.0,39.7 L68.2,38.8 L71.3,38.2 L74.2,37.7 L76.9,37.6 L79.3,37.7 L81.5,38.0 L83.2,38.5 L84.6,39.3 L85.6,40.3 L86.1,41.5 L86.2,42.9 L85.8,44.4 L85.0,46.0 L83.8,47.7 L82.2,49.4 L80.2,51.1 L78.0,52.8 L75.4,54.5 L72.6,56.0 L69.7,57.4 L66.6,58.7 L63.5,59.8 L60.5,60.7 L57.5,61.3 L54.6,61.8 L52.0,62.0 L49.6,61.9 L47.5,61.7 L45.7,61.2 L44.3,60.4 L43.3,59.5 L42.7,58.4 L42.6,57.1 L42.9,55.7 L43.6,54.1 L44.7,52.5 L46.2,50.9 L48.0,49.2 L50.2,47.5 L52.6,45.9 L55.2,44.4 L58.0,43.0 L61.0,41.8 L64.0,40.7 L66.9,39.8 L69.8,39.2 L72.6,38.7 L75.2,38.5 L77.5,38.5 L79.6,38.7 L81.4,39.1 L82.8,39.8 L83.8,40.7 L84.4,41.7 L84.7,43.0 L84.5,44.3 L83.8,45.8 L82.8,47.3 L81.5,48.9 L79.7,50.5 L77.7,52.1 L75.4,53.7 L72.9,55.1 L70.2,56.5 L67.4,57.7 L64.5,58.8 L61.7,59.7 L58.9,60.3 L56.2,60.8 L53.6,61.1 L51.3,61.1 L49.3,60.9 L47.5,60.5 L46.1,59.9 L45.1,59.1 L44.4,58.1 L44.1,57.0 L44.3,55.7 L44.8,54.3 L45.7,52.8 L46.9,51.3 L48.6,49.8 L50.5,48.2 L52.6,46.7 L55.0,45.3 L57.6,44.0 L60.3,42.8 L63.0,41.7 L65.8,40.8 L68.5,40.1 L71.1,39.6 L73.6,39.4 L75.8,39.3 L77.9,39.4 L79.6,39.8 L81.0,40.3 L82.1,41.1 L82.8,42.0 L83.1,43.1 L83.0,44.3 L82.6,45.6 L81.8,47.0 L80.6,48.5 L79.1,50.0 L77.3,51.5 L75.3,52.9 L73.0,54.3 L70.6,55.6 L68.0,56.8 L65.4,57.8 L62.7,58.7 L60.1,59.4 L57.6,59.9 L55.2,60.2 L53.0,60.3 L51.0,60.2 L49.3,59.9 L47.9,59.4 L46.8,58.7 L46.1,57.8 L45.7,56.8 L45.7,55.7 L46.1,54.4 L46.8,53.1 L47.9,51.7 L49.2,50.3 L50.9,48.8 L52.8,47.4 L55.0,46.1 L57.3,44.8 L59.7,43.7 L62.3,42.7 L64.8,41.8 L67.3,41.1 L69.8,40.6 L72.1,40.3 L74.2,40.1 L76.2,40.2 L77.8,40.5 L79.2,40.9 L80.3,41.6 L81.1,42.4 L81.5,43.3 L81.5,44.4 L81.2,45.6 L80.6,46.8 L79.6,48.2 L78.4,49.5 L76.8,50.9 L75.0,52.2 L73.0,53.5 L70.8,54.7 L68.5,55.9 L66.1,56.8 L63.6,57.7 L61.2,58.4 L58.9,58.9 L56.6,59.3 L54.6,59.4 L52.7,59.4 L51.0,59.2 L49.6,58.8 L48.6,58.2 L47.8,57.4 L47.3,56.6 L47.2,55.5 L47.4,54.4 L48.0,53.2 L48.9,52.0 L50.0,50.7 L51.5,49.4 L53.2,48.1 L55.1,46.8 L57.2,45.7 L59.4,44.6 L61.6,43.6 L64.0,42.8 L66.3,42.1 L68.5,41.6 L70.7,41.2 L72.7,41.0 L74.5,41.0 L76.1,41.2 L77.5,41.6 L78.6,42.1 L79.4,42.8 L79.9,43.6 L80.0,44.5 L79.8,45.6 L79.4,46.7 L78.6,47.9 L77.5,49.2 L76.2,50.4 L74.6,51.6 L72.8,52.8 L70.9,54.0 L68.8,55.0 L66.6,55.9 L64.4,56.8 L62.2,57.4 L60.0,58.0 L58.0,58.3 L56.0,58.5 L54.2,58.6 L52.7,58.4 L51.3,58.1 L50.3,57.6 L49.5,57.0 L49.0,56.2 L48.8,55.4 L48.9,54.4 L49.3,53.3 L50.0,52.2 L51.0,51.0 L52.2,49.8 L53.7,48.6 L55.3,47.5 L57.2,46.4 L59.1,45.4 L61.2,44.5 L63.3,43.7 L65.4,43.0 L67.4,42.5 L69.4,42.1 L71.3,41.9 L73.0,41.9 L74.5,42.0 L75.8,42.2 L76.9,42.7 L77.7,43.2 L78.2,44.0 L78.5,44.8 L78.4,45.7 L78.1,46.7 L77.4,47.8 L76.5,48.9 L75.4,50.0 L74.1,51.1 L72.5,52.2 L70.8,53.2 L68.9,54.2 L67.0,55.1 L65.0,55.9 L63.0,56.5 L61.1,57.0 L59.2,57.4 L57.4,57.6 L55.7,57.7 L54.3,57.6 L53.0,57.4 L51.9,57.0 L51.1,56.5 L50.6,55.8 L50.3,55.1 L50.3,54.2 L50.6,53.3 L51.2,52.3 L52.0,51.2 L53.0,50.2 L54.3,49.1 L55.7,48.1 L57.3,47.1 L59.0,46.2 L60.8,45.3 L62.7,44.6 L64.6,43.9 L66.5,43.4 L68.3,43.0 L70.0,42.8 L71.6,42.7 L73.0,42.8 L74.2,43.0 L75.2,43.3 L76.0,43.8 L76.6,44.4 L76.9,45.1 L76.9,45.9 L76.7,46.7 L76.2,47.7 L75.5,48.7 L74.5,49.7 L73.4,50.7 L72.1,51.6 L70.6,52.6 L69.0,53.5 L67.3,54.3 L65.5,55.0 L63.7,55.6 L62.0,56.1 L60.3,56.5 L58.6,56.7 L57.1,56.8 L55.8,56.8 L54.6,56.7 L53.6,56.4 L52.8,55.9 L52.2,55.4 L51.9,54.7 L51.9,54.0 L52.0,53.2 L52.4,52.3 L53.1,51.4 L53.9,50.5 L55.0,49.5 L56.2,48.6 L57.6,47.7 L59.1,46.9 L60.7,46.1 L62.3,45.4 L64.0,44.8 L65.6,44.3 L67.2,44.0 L68.8,43.7 L70.2,43.6 L71.5,43.6 L72.7,43.7 L73.6,44.0 L74.4,44.4 L74.9,44.9 L75.3,45.4" fill="none" stroke="#111" stroke-width="0.8"/><ellipse cx="64" cy="50" rx="21" ry="7.2" transform="rotate(-22 64 50)" fill="#111" stroke="none" stroke-width="0.8"/><path d="M84.0,41.0 L83.9,40.9 L83.7,40.7 L83.5,40.5 L83.3,40.2 L83.0,40.0 L82.8,39.7 L82.5,39.4 L82.2,39.1 L81.9,38.8 L81.6,38.4 L81.3,38.1 L81.1,37.8 L80.8,37.5 L80.6,37.2 L80.4,36.9 L80.2,36.7 L80.1,36.5 L80.0,36.3 L80.0,36.1 L80.0,36.0 L80.1,35.9 L80.2,35.8 L80.4,35.8 L80.6,35.8 L80.8,35.7 L81.1,35.7 L81.4,35.7 L81.8,35.8 L82.1,35.8 L82.5,35.9 L82.9,35.9 L83.3,36.0 L83.6,36.1 L84.0,36.2 L84.4,36.3 L84.8,36.4 L85.1,36.6 L85.4,36.7 L85.7,36.9 L86.0,37.0 L86.3,37.2 L86.5,37.3 L86.8,37.5 L87.1,37.7 L87.4,38.0 L87.7,38.2 L87.9,38.5 L88.2,38.7 L88.5,39.0 L88.8,39.2 L89.0,39.5 L89.2,39.8 L89.4,40.1 L89.6,40.4 L89.8,40.7 L89.9,40.9 L90.0,41.2 L90.0,41.5 L90.0,41.7 L90.0,42.0 L89.9,42.3 L89.8,42.5 L89.6,42.8 L89.3,43.1 L89.1,43.4 L88.7,43.7 L88.4,43.9 L88.0,44.2 L87.6,44.5 L87.2,44.8 L86.8,45.1 L86.4,45.4 L86.1,45.6 L85.7,45.9 L85.3,46.1 L85.0,46.3 L84.7,46.5 L84.4,46.7 L84.2,46.9 L84.0,47.0" fill="none" stroke="#40c8f0" stroke-width="0.9" stroke-linecap="round"/><path d="M14.0,79.0 L14.1,78.4 L14.3,77.7 L14.5,76.8 L14.7,75.9 L14.9,74.8 L15.1,73.7 L15.4,72.5 L15.7,71.4 L16.1,70.2 L16.5,69.1 L17.0,68.0 L17.5,66.9 L18.1,65.9 L18.7,64.8 L19.3,63.7 L20.0,62.6 L20.7,61.5 L21.5,60.4 L22.3,59.3 L23.2,58.2 L24.1,57.1 L25.0,56.0 L26.0,54.9 L27.0,53.8 L28.1,52.7 L29.2,51.6 L30.3,50.4 L31.5,49.3 L32.8,48.2 L34.0,47.1 L35.3,46.1 L36.6,45.0 L38.0,44.0 L39.4,43.0 L40.8,42.0 L42.3,41.1 L43.8,40.1 L45.3,39.2 L46.8,38.3 L48.4,37.4 L50.0,36.5 L51.7,35.7 L53.3,34.8 L55.0,34.0 L56.7,33.2 L58.4,32.4 L60.2,31.6 L61.9,30.8 L63.7,30.1 L65.5,29.3 L67.4,28.6 L69.2,27.9 L71.1,27.2 L73.1,26.6 L75.0,26.0 L77.0,25.4 L78.9,24.8 L80.9,24.3 L83.0,23.7 L85.0,23.2 L87.1,22.7 L89.2,22.3 L91.4,21.8 L93.5,21.5 L95.7,21.2 L98.0,21.0 L100.4,20.9 L103.0,20.8 L105.8,20.9 L108.7,21.0 L111.5,21.1 L114.3,21.3 L117.0,21.5 L119.5,21.6 L121.7,21.8 L123.5,21.9 L125.0,22.0" fill="none" stroke="#111" stroke-width="2.6" stroke-linecap="round"/><path d="M16.0,76.0 L16.3,75.4 L16.7,74.5 L17.1,73.6 L17.5,72.5 L18.0,71.4 L18.6,70.1 L19.2,68.9 L19.8,67.6 L20.5,66.3 L21.2,65.1 L22.0,64.0 L22.8,62.9 L23.6,61.8 L24.5,60.7 L25.4,59.6 L26.3,58.5 L27.3,57.4 L28.3,56.3 L29.4,55.2 L30.6,54.1 L31.8,53.1 L33.0,52.0 L34.3,51.0 L35.7,49.9 L37.1,48.8 L38.6,47.8 L40.2,46.8 L41.7,45.7 L43.3,44.7 L45.0,43.8 L46.6,42.8 L48.3,41.9 L50.0,41.0 L51.7,40.1 L53.4,39.3 L55.1,38.5 L56.8,37.7 L58.6,37.0 L60.4,36.3 L62.2,35.6 L64.1,34.9 L66.0,34.2 L68.0,33.6 L70.0,33.0 L72.1,32.4 L74.2,31.8 L76.5,31.3 L78.7,30.8 L81.0,30.2 L83.4,29.8 L85.7,29.3 L88.0,28.9 L90.4,28.6 L92.7,28.3 L95.0,28.0 L97.3,27.8 L99.6,27.6 L102.0,27.5 L104.3,27.4 L106.6,27.3 L109.0,27.3 L111.3,27.3 L113.5,27.4 L115.8,27.6 L117.9,27.8 L120.0,28.0 L122.1,28.3 L124.2,28.8 L126.4,29.4 L128.5,30.0 L130.6,30.7 L132.5,31.3 L134.4,32.0 L136.1,32.6 L137.6,33.2 L139.0,33.7 L140.0,34.0" fill="none" stroke="#111" stroke-width="0.9" stroke-linecap="round"/><path d="M60.9,37.8 L64.1,34.9 L59.8,34.6 M102.7,29.1 L106.6,27.3 L102.6,25.7" fill="none" stroke="#111" stroke-width="0.9"/><path d="M15.2,81.8 L15.2,81.1 L15.4,80.4 L15.6,79.7 L16.0,79.0 L17.1,77.7 L18.6,76.4 L20.5,75.1 L22.9,73.9 L25.6,72.7 L28.7,71.6 L32.2,70.6 L35.6,69.8 L39.7,69.0 L43.7,68.3 L47.8,67.8 L52.2,67.4 L56.7,67.1 L61.4,66.9 L70.0,66.9 L79.5,67.2 L89.7,68.0 L100.9,69.1 L112.3,70.6 L125.4,72.6 L140.0,75.0 L158.5,78.3 L140.2,82.5 L125.7,85.6 L112.7,88.2 L101.4,90.3 L90.2,92.0 L80.1,93.2 L70.7,94.0 L62.1,94.4 L57.4,94.5 L52.8,94.4 L48.5,94.2 L44.3,93.9 L40.3,93.4 L36.2,92.8 L32.7,92.2 L29.2,91.3 L26.0,90.4 L23.2,89.3 L20.8,88.2 L18.9,87.1 L17.3,85.8 L16.2,84.5 L15.8,83.9 L15.5,83.2 L15.3,82.5 L15.2,81.8Z" fill="#fff" stroke="#222" stroke-width="0.8"/>
</g>
<rect x="0" y="0" width="1" height="130.4" fill="#8c8c8c"/>
<rect x="175.2" y="0" width="0.9" height="130.4" fill="#d4d4dc"/>
<rect x="1" y="130.4" width="175.2" height="0.8" fill="#dcdce4"/>
</g>
<g transform="translate(523,25)"><g clip-path="url(#cp_r1c3)">
<rect x="0" y="0" width="175.5" height="131" fill="#fff"/><path d="M25.0,70.0 L28.0,70.0 L28.6,70.5 L28.5,73.0 L28.0,73.5 L28.0,74.0 L25.0,77.0 L23.2,74.5 L22.4,72.0 L22.5,71.5 L23.0,71.0 L23.5,71.0 L24.0,70.5 L24.5,70.5 L25.0,70.0Z" fill="#38adff" fill-rule="evenodd"/><path d="M78.0,30.2 L82.5,30.2 L83.0,30.7 L84.5,30.7 L85.0,31.2 L85.5,31.2 L86.0,31.7 L86.5,31.7 L87.8,33.0 L87.8,33.5 L88.3,34.0 L88.3,37.0 L87.8,37.5 L87.8,38.0 L87.3,38.5 L87.3,39.0 L86.8,39.5 L86.8,40.0 L85.8,41.0 L85.8,41.5 L81.3,46.0 L81.5,46.2 L86.5,46.2 L87.0,45.7 L106.5,45.7 L107.0,46.2 L111.0,46.2 L111.5,46.7 L113.5,46.7 L114.0,47.2 L116.0,47.2 L116.5,47.7 L118.0,47.7 L118.5,48.2 L119.5,48.2 L120.0,48.7 L121.0,48.7 L121.5,49.2 L122.0,49.2 L122.5,49.7 L123.0,49.7 L123.5,50.2 L124.0,50.2 L127.3,53.5 L127.3,54.5 L127.8,55.0 L127.8,56.0 L127.3,56.5 L127.2,58.0 L126.2,59.0 L126.2,59.5 L123.0,62.8 L122.5,62.8 L121.0,64.2 L120.5,64.2 L120.0,64.8 L119.5,64.8 L118.5,65.8 L118.0,65.8 L117.5,66.2 L117.0,66.2 L116.5,66.8 L116.0,66.8 L115.5,67.2 L115.0,67.2 L114.5,67.8 L114.0,67.8 L113.5,68.2 L112.5,68.2 L112.0,68.8 L111.5,68.8 L111.0,69.2 L110.0,69.2 L109.5,69.8 L109.0,69.8 L108.5,70.2 L107.5,70.2 L107.0,70.8 L106.0,70.8 L105.5,71.2 L104.5,71.2 L104.0,71.8 L103.0,71.8 L102.5,72.2 L101.0,72.2 L100.5,72.7 L99.5,72.7 L99.0,73.2 L97.5,73.2 L97.0,73.7 L95.5,73.7 L95.0,74.2 L93.5,74.2 L93.0,74.7 L91.0,74.7 L90.5,75.2 L88.5,75.2 L88.0,75.7 L86.0,75.7 L85.5,76.2 L82.5,76.2 L82.0,76.7 L79.5,76.7 L79.0,77.2 L75.0,77.2 L74.5,77.7 L69.5,77.7 L69.0,78.1 L49.5,78.1 L49.0,77.6 L45.0,77.6 L44.5,77.1 L42.5,77.1 L42.0,76.6 L40.0,76.6 L39.5,76.1 L38.0,76.1 L37.5,75.6 L36.5,75.6 L36.0,75.1 L35.0,75.1 L34.5,74.6 L34.0,74.6 L33.5,74.1 L33.0,74.1 L32.5,73.6 L32.0,73.6 L29.0,70.6 L28.7,71.0 L28.7,73.0 L28.2,73.5 L28.2,74.0 L25.0,77.1 L24.5,77.1 L24.0,77.6 L23.5,77.6 L23.0,78.1 L20.0,78.1 L19.4,77.5 L19.4,75.0 L19.9,74.5 L19.9,74.0 L23.0,70.9 L23.5,70.9 L24.0,70.3 L24.5,70.3 L25.0,69.8 L28.0,69.8 L28.5,70.3 L28.9,70.0 L28.9,69.5 L28.4,69.0 L28.4,68.0 L28.9,67.5 L28.8,66.0 L29.8,65.0 L29.8,64.5 L33.0,61.3 L33.5,61.3 L35.0,59.8 L35.5,59.8 L35.8,59.5 L35.8,56.0 L36.3,55.5 L36.3,55.0 L36.8,54.5 L36.8,54.0 L37.3,53.5 L37.3,53.0 L38.3,52.0 L38.3,51.5 L45.0,44.7 L45.5,44.7 L47.0,43.2 L47.5,43.2 L49.0,41.7 L49.5,41.7 L50.0,41.2 L50.5,41.2 L51.5,40.2 L52.0,40.2 L53.0,39.2 L53.5,39.2 L54.0,38.7 L54.5,38.7 L55.0,38.2 L55.5,38.2 L56.0,37.7 L56.5,37.7 L57.0,37.2 L57.5,37.2 L58.0,36.7 L58.5,36.7 L59.0,36.2 L59.5,36.2 L60.0,35.7 L60.5,35.7 L61.0,35.2 L61.5,35.2 L62.0,34.7 L62.5,34.7 L63.0,34.2 L64.0,34.2 L64.5,33.7 L65.5,33.7 L66.0,33.2 L66.5,33.2 L67.0,32.7 L68.0,32.7 L68.5,32.2 L70.0,32.2 L70.5,31.7 L72.0,31.7 L72.5,31.2 L74.0,31.2 L74.5,30.7 L77.5,30.7 L78.0,30.2Z M80.8,46.5 L81.0,46.7 L81.2,46.5 L81.0,46.3 L80.8,46.5Z M25.0,70.0 L24.5,70.5 L24.0,70.5 L23.5,71.0 L23.0,71.0 L22.5,71.5 L22.4,72.0 L23.2,74.5 L25.0,77.0 L28.0,74.0 L28.0,73.5 L28.5,73.0 L28.6,70.5 L28.0,70.0 L25.0,70.0Z" fill="#38ecff" fill-rule="evenodd"/><path d="M103.0,5.1 L104.0,5.1 L104.5,5.6 L115.5,5.6 L116.0,6.1 L120.5,6.1 L121.0,6.6 L124.5,6.6 L125.0,7.1 L127.5,7.1 L128.0,7.6 L130.5,7.6 L131.0,8.1 L133.0,8.1 L133.5,8.6 L135.0,8.6 L135.5,9.1 L137.0,9.1 L137.5,9.6 L138.5,9.6 L139.0,10.1 L140.5,10.1 L141.0,10.6 L142.0,10.6 L142.5,11.1 L143.5,11.1 L144.0,11.6 L145.0,11.6 L145.5,12.1 L146.5,12.1 L147.0,12.6 L147.5,12.6 L148.0,13.1 L148.5,13.1 L149.0,13.6 L150.0,13.6 L150.5,14.1 L151.0,14.1 L151.5,14.6 L152.0,14.6 L152.5,15.1 L153.0,15.2 L153.5,15.6 L154.0,15.7 L155.0,16.6 L155.5,16.7 L156.0,17.1 L156.5,17.2 L157.5,18.2 L158.0,18.2 L159.0,19.2 L159.5,19.2 L161.5,21.2 L162.0,21.2 L164.8,24.0 L164.8,24.5 L166.3,26.0 L166.3,26.5 L167.3,27.5 L167.3,28.0 L167.8,28.5 L167.8,29.0 L168.3,29.5 L168.3,30.0 L168.8,30.5 L168.8,31.5 L169.3,32.0 L169.3,33.5 L169.8,34.0 L169.8,39.5 L169.3,40.0 L169.3,41.5 L168.8,42.0 L168.8,43.0 L168.3,43.5 L168.3,44.0 L167.8,44.5 L167.8,45.0 L167.3,45.5 L167.3,46.0 L166.8,46.5 L166.8,47.0 L166.3,47.5 L166.3,48.0 L164.8,49.5 L164.8,50.0 L158.0,56.8 L157.5,56.8 L156.0,58.3 L155.5,58.3 L154.0,59.8 L153.5,59.8 L152.5,60.8 L152.0,60.8 L151.5,61.3 L151.0,61.3 L150.0,62.3 L149.5,62.3 L149.0,62.8 L148.5,62.8 L148.0,63.3 L147.5,63.3 L146.5,64.3 L146.0,64.3 L145.5,64.7 L145.0,64.8 L144.5,65.2 L144.0,65.3 L143.5,65.7 L142.5,65.8 L142.0,66.2 L141.5,66.3 L141.0,66.7 L140.5,66.7 L140.0,67.2 L139.5,67.2 L139.0,67.7 L138.0,67.7 L137.5,68.2 L137.0,68.2 L136.5,68.7 L135.5,68.7 L135.0,69.2 L134.5,69.2 L134.0,69.7 L133.0,69.7 L132.5,70.2 L131.5,70.2 L131.0,70.7 L130.0,70.7 L129.5,71.2 L128.5,71.2 L128.0,71.7 L126.5,71.7 L126.0,72.2 L125.0,72.2 L124.5,72.7 L123.0,72.7 L122.5,73.2 L121.5,73.2 L121.0,73.7 L119.5,73.7 L119.0,74.2 L117.0,74.2 L116.5,74.7 L115.0,74.7 L114.5,75.2 L112.5,75.2 L112.0,75.6 L109.5,75.6 L109.0,76.1 L106.5,76.1 L106.0,76.6 L103.0,76.6 L102.5,77.1 L99.0,77.1 L98.5,77.6 L93.5,77.6 L93.0,78.1 L81.5,78.1 L81.0,78.6 L80.0,78.6 L79.5,78.1 L49.5,78.2 L49.0,77.7 L45.0,77.7 L44.5,77.2 L42.5,77.2 L42.0,76.7 L40.0,76.7 L39.5,76.2 L38.0,76.2 L37.5,75.7 L36.5,75.7 L36.0,75.2 L35.0,75.2 L34.5,74.7 L34.0,74.7 L33.5,74.2 L33.0,74.2 L32.5,73.7 L32.0,73.7 L29.0,70.8 L28.8,71.0 L28.8,73.0 L28.3,73.5 L28.3,74.0 L25.0,77.2 L24.5,77.2 L24.0,77.7 L23.5,77.7 L23.0,78.2 L20.0,78.2 L19.3,77.5 L19.3,75.0 L19.8,74.5 L19.8,74.0 L23.0,70.7 L23.5,70.7 L24.0,70.2 L24.5,70.2 L25.0,69.7 L28.0,69.7 L28.5,70.2 L28.7,70.0 L28.7,69.5 L28.2,69.0 L28.2,68.0 L28.7,67.5 L28.5,67.1 L28.0,66.6 L27.5,66.6 L26.5,65.6 L26.0,65.6 L25.0,64.6 L24.5,64.6 L22.5,62.6 L22.0,62.5 L20.5,61.0 L20.2,53.0 L19.8,47.5 L19.1,42.0 L18.0,36.1 L19.5,34.5 L19.5,34.0 L26.0,27.3 L26.5,27.3 L28.0,25.8 L28.5,25.8 L30.0,24.3 L30.5,24.3 L31.5,23.3 L32.0,23.2 L32.5,22.7 L33.0,22.7 L34.0,21.7 L34.5,21.7 L35.0,21.2 L35.5,21.2 L36.0,20.7 L36.5,20.7 L37.5,19.7 L38.0,19.7 L38.5,19.2 L39.0,19.2 L39.5,18.7 L40.0,18.7 L40.5,18.2 L41.5,18.2 L42.0,17.7 L42.5,17.7 L43.0,17.2 L43.5,17.2 L44.0,16.7 L44.5,16.7 L45.0,16.2 L46.0,16.2 L46.5,15.7 L47.0,15.7 L47.5,15.2 L48.5,15.2 L49.0,14.7 L49.5,14.7 L50.0,14.2 L51.0,14.2 L51.5,13.7 L52.5,13.7 L53.0,13.2 L54.0,13.2 L54.5,12.7 L55.5,12.7 L56.0,12.2 L57.5,12.2 L58.0,11.7 L59.0,11.7 L59.5,11.2 L61.0,11.2 L61.5,10.7 L62.5,10.7 L63.0,10.2 L64.5,10.1 L65.0,9.7 L67.0,9.6 L67.5,9.2 L69.0,9.1 L69.5,8.7 L71.5,8.6 L72.0,8.1 L74.5,8.1 L75.0,7.6 L77.5,7.6 L78.0,7.1 L81.0,7.1 L81.5,6.6 L85.0,6.6 L85.5,6.1 L90.5,6.1 L91.0,5.6 L102.5,5.6 L103.0,5.1Z M77.7,30.5 L77.5,30.7 L74.5,30.7 L74.0,31.2 L72.5,31.2 L72.0,31.7 L70.5,31.7 L70.0,32.2 L68.5,32.2 L68.0,32.7 L67.0,32.7 L66.5,33.2 L66.0,33.2 L65.5,33.7 L64.5,33.7 L64.0,34.2 L63.0,34.2 L62.5,34.7 L62.0,34.7 L61.5,35.2 L61.0,35.2 L60.5,35.7 L60.0,35.7 L59.5,36.2 L59.0,36.2 L58.5,36.7 L58.0,36.7 L57.5,37.2 L57.0,37.2 L56.5,37.7 L56.0,37.7 L55.5,38.2 L55.0,38.2 L54.5,38.7 L54.0,38.7 L53.5,39.2 L53.0,39.2 L52.0,40.2 L51.5,40.2 L50.5,41.2 L50.0,41.2 L49.5,41.7 L49.0,41.7 L47.5,43.2 L47.0,43.2 L45.5,44.7 L45.0,44.7 L38.3,51.5 L38.3,52.0 L37.3,53.0 L37.3,53.5 L36.8,54.0 L36.8,54.5 L36.3,55.0 L36.3,55.5 L35.8,56.0 L35.8,59.5 L35.5,59.8 L35.0,59.8 L33.5,61.3 L33.0,61.3 L29.8,64.5 L29.8,65.0 L28.8,66.0 L28.9,67.5 L28.4,68.0 L28.4,69.0 L28.9,69.5 L28.9,70.0 L28.5,70.3 L28.0,69.8 L25.0,69.8 L24.5,70.3 L24.0,70.3 L23.5,70.9 L23.0,70.9 L19.9,74.0 L19.9,74.5 L19.4,75.0 L19.4,77.5 L20.0,78.1 L23.0,78.1 L23.5,77.6 L24.0,77.6 L24.5,77.1 L25.0,77.1 L28.2,74.0 L28.2,73.5 L28.7,73.0 L28.7,71.0 L29.0,70.6 L32.0,73.6 L32.5,73.6 L33.0,74.1 L33.5,74.1 L34.0,74.6 L34.5,74.6 L35.0,75.1 L36.0,75.1 L36.5,75.6 L37.5,75.6 L38.0,76.1 L39.5,76.1 L40.0,76.6 L42.0,76.6 L42.5,77.1 L44.5,77.1 L45.0,77.6 L49.0,77.6 L49.5,78.1 L69.0,78.1 L69.5,77.7 L74.5,77.7 L75.0,77.2 L79.0,77.2 L79.5,76.7 L82.0,76.7 L82.5,76.2 L85.5,76.2 L86.0,75.7 L88.0,75.7 L88.5,75.2 L90.5,75.2 L91.0,74.7 L93.0,74.7 L93.5,74.2 L95.0,74.2 L95.5,73.7 L97.0,73.7 L97.5,73.2 L99.0,73.2 L99.5,72.7 L100.5,72.7 L101.0,72.2 L102.5,72.2 L103.0,71.8 L104.0,71.8 L104.5,71.2 L105.5,71.2 L106.0,70.8 L107.0,70.8 L107.5,70.2 L108.5,70.2 L109.0,69.8 L109.5,69.8 L110.0,69.2 L111.0,69.2 L111.5,68.8 L112.0,68.8 L112.5,68.2 L113.5,68.2 L114.0,67.8 L114.5,67.8 L115.0,67.2 L115.5,67.2 L116.0,66.8 L116.5,66.8 L117.0,66.2 L117.5,66.2 L118.0,65.8 L118.5,65.8 L119.5,64.8 L120.0,64.8 L120.5,64.2 L121.0,64.2 L122.5,62.8 L123.0,62.8 L126.2,59.5 L126.2,59.0 L127.2,58.0 L127.3,56.5 L127.8,56.0 L127.8,55.0 L127.3,54.5 L127.3,53.5 L124.0,50.2 L123.5,50.2 L123.0,49.7 L122.5,49.7 L122.0,49.2 L121.5,49.2 L121.0,48.7 L120.0,48.7 L119.5,48.2 L118.5,48.2 L118.0,47.7 L116.5,47.7 L116.0,47.2 L114.0,47.2 L113.5,46.7 L111.5,46.7 L111.0,46.2 L107.0,46.2 L106.5,45.7 L87.0,45.7 L86.5,46.2 L81.5,46.2 L81.3,46.0 L85.8,41.5 L85.8,41.0 L86.8,40.0 L86.8,39.5 L87.3,39.0 L87.3,38.5 L87.8,38.0 L87.8,37.5 L88.3,37.0 L88.3,34.0 L87.8,33.5 L87.8,33.0 L86.5,31.7 L86.0,31.7 L85.5,31.2 L85.0,31.2 L84.5,30.7 L83.0,30.7 L82.5,30.2 L78.0,30.2 L77.7,30.5Z M81.0,46.3 L81.2,46.5 L81.0,46.7 L80.8,46.5 L81.0,46.3Z" fill="#38ffd4" fill-rule="evenodd"/><path d="M78.5,-1.5 L81.6,-2.0 L131.2,-2.0 L140.0,-0.4 L148.5,1.9 L156.5,4.7 L163.5,8.0 L167.5,10.3 L171.0,12.7 L174.3,15.5 L177.0,18.3 L177.0,50.7 L173.5,54.6 L169.1,58.5 L164.5,61.7 L159.4,64.5 L153.6,67.0 L147.7,69.0 L140.0,71.0 L132.5,72.5 L119.0,74.5 L117.0,74.6 L116.5,75.0 L115.0,75.0 L114.5,75.5 L112.5,75.5 L112.0,75.9 L109.5,75.9 L109.0,76.4 L106.5,76.4 L106.0,76.9 L103.0,76.9 L102.5,77.4 L99.0,77.4 L98.5,77.9 L93.5,77.9 L93.0,78.3 L81.5,78.4 L81.0,78.8 L80.0,78.8 L79.5,78.4 L49.5,78.4 L49.0,77.9 L45.0,77.9 L44.5,77.4 L42.5,77.4 L42.0,76.9 L40.0,76.9 L39.5,76.4 L38.0,76.4 L37.5,75.9 L36.5,75.9 L36.0,75.4 L35.0,75.4 L34.5,74.9 L34.0,74.9 L33.5,74.4 L33.0,74.4 L32.5,73.9 L32.0,73.9 L29.0,71.0 L28.9,73.0 L28.4,73.5 L28.4,74.0 L25.0,77.3 L24.5,77.3 L24.0,77.8 L23.5,77.8 L23.0,78.3 L20.0,78.3 L19.2,77.5 L19.2,75.0 L19.7,74.5 L19.6,74.0 L23.0,70.6 L23.5,70.6 L24.0,70.1 L24.5,70.1 L25.0,69.5 L28.0,69.5 L28.5,70.0 L28.5,69.5 L28.0,69.0 L28.0,68.2 L26.5,67.0 L24.7,65.0 L24.5,65.0 L22.5,63.0 L22.0,62.9 L19.1,60.0 L19.1,59.5 L17.7,58.0 L17.7,57.5 L16.7,56.5 L16.7,56.0 L16.2,55.5 L16.2,55.0 L15.7,54.5 L15.7,54.0 L15.2,53.5 L15.2,52.5 L14.7,52.0 L14.7,50.5 L14.3,50.0 L14.2,44.5 L14.7,44.0 L14.7,42.5 L15.2,42.0 L15.2,41.0 L15.6,40.5 L15.6,40.0 L16.1,39.5 L16.1,39.0 L16.6,38.5 L16.6,38.0 L17.1,37.5 L17.1,37.0 L17.5,36.5 L17.6,36.0 L18.8,34.5 L19.7,30.5 L21.0,27.0 L22.5,24.0 L24.0,21.7 L27.2,18.0 L31.5,14.5 L37.0,11.2 L43.5,8.2 L51.5,5.1 L60.5,2.3 L69.0,0.2 L78.5,-1.5Z M102.6,5.5 L91.0,5.6 L90.5,6.1 L85.5,6.1 L85.0,6.6 L81.5,6.6 L81.0,7.1 L78.0,7.1 L77.5,7.6 L75.0,7.6 L74.5,8.1 L72.0,8.1 L71.5,8.6 L69.5,8.7 L69.0,9.1 L67.5,9.2 L67.0,9.6 L65.0,9.7 L64.5,10.1 L63.0,10.2 L62.5,10.7 L61.5,10.7 L61.0,11.2 L59.5,11.2 L59.0,11.7 L58.0,11.7 L57.5,12.2 L56.0,12.2 L55.5,12.7 L54.5,12.7 L54.0,13.2 L53.0,13.2 L52.5,13.7 L51.5,13.7 L51.0,14.2 L50.0,14.2 L49.5,14.7 L49.0,14.7 L48.5,15.2 L47.5,15.2 L47.0,15.7 L46.5,15.7 L46.0,16.2 L45.0,16.2 L44.5,16.7 L44.0,16.7 L43.5,17.2 L43.0,17.2 L42.5,17.7 L42.0,17.7 L41.5,18.2 L40.5,18.2 L40.0,18.7 L39.5,18.7 L39.0,19.2 L38.5,19.2 L38.0,19.7 L37.5,19.7 L36.5,20.7 L36.0,20.7 L35.5,21.2 L35.0,21.2 L34.5,21.7 L34.0,21.7 L33.0,22.7 L32.5,22.7 L32.0,23.2 L31.5,23.3 L30.5,24.3 L30.0,24.3 L28.5,25.8 L28.0,25.8 L26.5,27.3 L26.0,27.3 L19.5,34.0 L19.5,34.5 L18.0,36.1 L19.1,42.0 L19.8,47.5 L20.2,53.0 L20.5,61.0 L22.0,62.5 L22.5,62.6 L24.5,64.6 L25.0,64.6 L26.0,65.6 L26.5,65.6 L27.5,66.6 L28.0,66.6 L28.5,67.1 L28.7,67.5 L28.2,68.0 L28.2,69.0 L28.7,69.5 L28.7,70.0 L28.5,70.2 L28.0,69.7 L25.0,69.7 L24.5,70.2 L24.0,70.2 L23.5,70.7 L23.0,70.7 L19.8,74.0 L19.8,74.5 L19.3,75.0 L19.3,77.5 L20.0,78.2 L23.0,78.2 L23.5,77.7 L24.0,77.7 L24.5,77.2 L25.0,77.2 L28.3,74.0 L28.3,73.5 L28.8,73.0 L28.8,71.0 L29.0,70.8 L32.0,73.7 L32.5,73.7 L33.0,74.2 L33.5,74.2 L34.0,74.7 L34.5,74.7 L35.0,75.2 L36.0,75.2 L36.5,75.7 L37.5,75.7 L38.0,76.2 L39.5,76.2 L40.0,76.7 L42.0,76.7 L42.5,77.2 L44.5,77.2 L45.0,77.7 L49.0,77.7 L49.5,78.2 L79.5,78.1 L80.0,78.6 L81.0,78.6 L81.5,78.1 L93.0,78.1 L93.5,77.6 L98.5,77.6 L99.0,77.1 L102.5,77.1 L103.0,76.6 L106.0,76.6 L106.5,76.1 L109.0,76.1 L109.5,75.6 L112.0,75.6 L112.5,75.2 L114.5,75.2 L115.0,74.7 L116.5,74.7 L117.0,74.2 L119.0,74.2 L119.5,73.7 L121.0,73.7 L121.5,73.2 L122.5,73.2 L123.0,72.7 L124.5,72.7 L125.0,72.2 L126.0,72.2 L126.5,71.7 L128.0,71.7 L128.5,71.2 L129.5,71.2 L130.0,70.7 L131.0,70.7 L131.5,70.2 L132.5,70.2 L133.0,69.7 L134.0,69.7 L134.5,69.2 L135.0,69.2 L135.5,68.7 L136.5,68.7 L137.0,68.2 L137.5,68.2 L138.0,67.7 L139.0,67.7 L139.5,67.2 L140.0,67.2 L140.5,66.7 L141.0,66.7 L141.5,66.3 L142.0,66.2 L142.5,65.8 L143.5,65.7 L144.0,65.3 L144.5,65.2 L145.0,64.8 L145.5,64.7 L146.0,64.3 L146.5,64.3 L147.5,63.3 L148.0,63.3 L148.5,62.8 L149.0,62.8 L149.5,62.3 L150.0,62.3 L151.0,61.3 L151.5,61.3 L152.0,60.8 L152.5,60.8 L153.5,59.8 L154.0,59.8 L155.5,58.3 L156.0,58.3 L157.5,56.8 L158.0,56.8 L164.8,50.0 L164.8,49.5 L166.3,48.0 L166.3,47.5 L166.8,47.0 L166.8,46.5 L167.3,46.0 L167.3,45.5 L167.8,45.0 L167.8,44.5 L168.3,44.0 L168.3,43.5 L168.8,43.0 L168.8,42.0 L169.3,41.5 L169.3,40.0 L169.8,39.5 L169.8,34.0 L169.3,33.5 L169.3,32.0 L168.8,31.5 L168.8,30.5 L168.3,30.0 L168.3,29.5 L167.8,29.0 L167.8,28.5 L167.3,28.0 L167.3,27.5 L166.3,26.5 L166.3,26.0 L164.8,24.5 L164.8,24.0 L162.0,21.2 L161.5,21.2 L159.5,19.2 L159.0,19.2 L158.0,18.2 L157.5,18.2 L156.5,17.2 L156.0,17.1 L155.5,16.7 L155.0,16.6 L154.0,15.7 L153.5,15.6 L153.0,15.2 L152.5,15.1 L152.0,14.6 L151.5,14.6 L151.0,14.1 L150.5,14.1 L150.0,13.6 L149.0,13.6 L148.5,13.1 L148.0,13.1 L147.5,12.6 L147.0,12.6 L146.5,12.1 L145.5,12.1 L145.0,11.6 L144.0,11.6 L143.5,11.1 L142.5,11.1 L142.0,10.6 L141.0,10.6 L140.5,10.1 L139.0,10.1 L138.5,9.6 L137.5,9.6 L137.0,9.1 L135.5,9.1 L135.0,8.6 L133.5,8.6 L133.0,8.1 L131.0,8.1 L130.5,7.6 L128.0,7.6 L127.5,7.1 L125.0,7.1 L124.5,6.6 L121.0,6.6 L120.5,6.1 L116.0,6.1 L115.5,5.6 L104.5,5.6 L104.0,5.1 L103.0,5.1 L102.6,5.5Z" fill="#38ff8e" fill-rule="evenodd"/><path d="M-1.5,-2.0 L81.6,-2.0 L71.5,-0.3 L62.5,1.8 L54.0,4.3 L45.5,7.3 L38.0,10.7 L32.5,13.8 L28.0,17.3 L24.5,21.0 L22.5,24.0 L21.0,26.9 L19.7,30.5 L18.8,34.5 L17.6,36.0 L17.5,36.5 L17.1,37.0 L17.1,37.5 L16.6,38.0 L16.6,38.5 L16.1,39.0 L16.1,39.5 L15.6,40.0 L15.6,40.5 L15.2,41.0 L15.2,42.0 L14.7,42.5 L14.7,44.0 L14.2,44.5 L14.3,50.0 L14.7,50.5 L14.7,52.0 L15.2,52.5 L15.2,53.5 L15.7,54.0 L15.7,54.5 L16.2,55.0 L16.2,55.5 L16.7,56.0 L16.7,56.5 L17.7,57.5 L17.7,58.0 L19.1,59.5 L19.1,60.0 L22.0,62.9 L22.5,63.0 L24.5,65.0 L24.7,65.0 L26.5,67.0 L28.0,68.2 L28.0,69.0 L28.5,69.5 L28.5,70.0 L28.0,69.5 L25.0,69.5 L24.5,70.1 L24.0,70.1 L23.5,70.6 L23.0,70.6 L19.6,74.0 L19.7,74.5 L19.2,75.0 L19.2,77.5 L20.0,78.3 L23.0,78.3 L23.5,77.8 L24.0,77.8 L24.5,77.3 L25.0,77.3 L28.4,74.0 L28.4,73.5 L28.9,73.0 L29.0,71.0 L32.0,73.9 L32.5,73.9 L33.0,74.4 L33.5,74.4 L34.0,74.9 L34.5,74.9 L35.0,75.4 L36.0,75.4 L36.5,75.9 L37.5,75.9 L38.0,76.4 L39.5,76.4 L40.0,76.9 L42.0,76.9 L42.5,77.4 L44.5,77.4 L45.0,77.9 L49.0,77.9 L49.5,78.4 L79.5,78.4 L80.0,78.8 L81.0,78.8 L81.5,78.4 L93.0,78.3 L93.5,77.9 L98.5,77.9 L99.0,77.4 L102.5,77.4 L103.0,76.9 L106.0,76.9 L106.5,76.4 L109.0,76.4 L109.5,75.9 L112.0,75.9 L112.5,75.5 L114.5,75.5 L115.0,75.0 L116.5,75.0 L117.0,74.6 L119.0,74.5 L132.5,72.5 L140.0,71.0 L147.7,69.0 L153.6,67.0 L159.4,64.5 L164.5,61.7 L169.1,58.5 L173.5,54.6 L177.0,50.7 L177.0,73.4 L161.0,74.3 L120.0,78.2 L107.5,79.0 L96.0,79.5 L74.0,79.7 L52.5,79.0 L44.5,78.5 L37.5,77.7 L31.5,76.7 L27.0,75.7 L25.0,77.4 L24.5,77.4 L24.0,77.9 L23.5,77.9 L23.0,78.4 L20.0,78.4 L19.1,77.5 L19.0,75.0 L19.5,74.5 L19.5,74.0 L20.5,72.9 L18.7,71.5 L17.4,70.0 L16.1,68.0 L15.2,66.0 L13.1,59.5 L11.2,51.0 L10.3,45.0 L9.6,39.0 L9.4,33.0 L9.3,22.0 L9.0,19.0 L8.6,17.0 L8.0,15.0 L7.0,13.2 L6.0,11.9 L4.5,10.6 L3.0,9.8 L1.5,9.3 L0.0,9.1 L-2.0,9.4 L-2.0,-2.0 L-1.5,-2.0Z M131.5,-2.0 L177.0,-2.0 L177.0,18.3 L173.5,14.8 L169.3,11.5 L164.5,8.5 L159.0,5.8 L153.0,3.4 L146.5,1.3 L140.0,-0.4 L131.5,-2.0Z" fill="#38ff50" fill-rule="evenodd"/><path d="M-1.5,9.3 L0.0,9.1 L1.5,9.3 L3.0,9.8 L4.5,10.6 L6.0,11.9 L7.0,13.2 L8.0,15.0 L8.5,16.5 L9.0,19.0 L9.3,22.0 L9.4,33.5 L9.7,39.5 L10.3,45.5 L11.3,51.5 L13.2,60.0 L14.3,63.5 L15.4,66.5 L16.4,68.5 L17.5,70.1 L18.7,71.5 L20.5,72.9 L19.5,74.0 L19.5,74.5 L19.0,75.0 L19.1,77.5 L20.0,78.4 L23.0,78.4 L23.5,77.9 L24.0,77.9 L24.5,77.4 L25.0,77.4 L27.0,75.7 L31.5,76.7 L37.5,77.7 L44.5,78.5 L52.5,79.0 L74.0,79.7 L96.0,79.5 L107.5,79.0 L120.0,78.2 L161.0,74.3 L177.0,73.4 L177.0,79.1 L150.0,79.7 L114.0,81.7 L98.5,82.3 L83.0,82.7 L67.0,82.6 L48.0,82.1 L36.0,81.1 L29.0,80.1 L22.1,78.5 L20.0,78.5 L19.5,78.0 L14.3,76.5 L12.2,75.5 L10.1,74.0 L8.6,72.5 L7.5,71.0 L5.8,67.5 L3.0,58.3 L1.5,54.5 L0.5,52.7 L-0.5,51.4 L-1.5,50.6 L-2.0,50.5 L-2.0,9.4 L-1.5,9.3Z" fill="#57ff38" fill-rule="evenodd"/><path d="M-1.9,50.5 L-1.0,50.9 L0.0,51.9 L1.5,54.5 L3.0,58.3 L6.0,68.0 L6.9,70.0 L8.2,72.0 L10.1,74.0 L12.2,75.5 L15.5,76.9 L19.5,78.0 L20.0,78.5 L22.1,78.5 L28.0,79.9 L32.0,80.6 L42.5,81.7 L56.0,82.4 L75.0,82.7 L88.0,82.6 L101.0,82.3 L150.0,79.7 L177.0,79.1 L177.0,83.1 L144.0,83.7 L91.0,85.7 L73.5,85.9 L54.5,85.6 L46.0,85.3 L39.0,84.7 L30.5,83.4 L23.0,81.4 L20.5,80.9 L12.0,80.4 L2.5,78.9 L0.0,78.8 L-2.0,79.0 L-1.9,50.5Z" fill="#96ff38" fill-rule="evenodd"/><path d="M-1.5,78.9 L2.5,78.9 L12.0,80.4 L20.5,80.9 L23.0,81.4 L30.5,83.4 L39.0,84.7 L46.0,85.3 L54.5,85.6 L73.5,85.9 L91.0,85.7 L144.0,83.7 L177.0,83.1 L177.0,88.9 L135.7,89.5 L86.5,90.9 L67.5,91.0 L52.0,90.8 L48.0,90.4 L44.5,89.9 L32.5,87.2 L29.0,86.1 L23.5,83.6 L20.5,82.9 L17.5,82.9 L10.5,83.8 L2.5,83.6 L-2.0,83.8 L-2.0,79.0 L-1.5,78.9Z" fill="#c8f83c" fill-rule="evenodd"/><path d="M16.5,83.0 L19.0,82.8 L21.5,83.1 L24.0,83.8 L29.5,86.3 L32.5,87.2 L46.0,90.1 L53.5,90.8 L70.0,91.0 L87.0,90.9 L135.7,89.5 L177.0,88.9 L177.0,132.5 L-2.0,132.5 L-2.0,116.3 L0.5,118.8 L3.2,121.0 L6.0,122.9 L9.0,124.5 L12.0,125.6 L15.0,126.4 L18.5,126.8 L21.5,126.8 L24.5,126.4 L27.5,125.5 L30.0,124.4 L32.5,122.8 L34.6,121.0 L36.8,118.5 L38.4,116.0 L39.7,113.0 L40.7,109.0 L41.0,105.0 L40.4,101.5 L39.1,98.5 L37.7,96.5 L36.1,95.0 L34.5,93.9 L29.5,91.0 L25.2,87.0 L23.5,85.8 L21.0,84.9 L18.5,84.7 L16.0,85.4 L12.0,87.2 L10.0,87.8 L2.0,88.4 L-2.0,89.2 L-2.0,83.8 L2.5,83.6 L10.5,83.8 L16.5,83.0Z" fill="#f6f23a" fill-rule="evenodd"/><path d="M17.5,84.9 L19.0,84.7 L20.5,84.8 L22.0,85.1 L23.5,85.8 L25.2,87.0 L29.5,91.0 L34.5,93.9 L36.1,95.0 L38.1,97.0 L39.4,99.0 L40.4,101.5 L40.9,104.0 L40.9,108.0 L40.1,112.0 L38.6,115.5 L36.4,119.0 L33.5,122.0 L30.0,124.4 L26.5,125.9 L22.5,126.7 L19.5,126.9 L16.0,126.6 L12.5,125.8 L9.5,124.7 L6.5,123.2 L3.5,121.3 L0.7,119.0 L-2.0,116.3 L-2.0,89.2 L2.0,88.4 L10.0,87.8 L12.0,87.2 L15.6,85.5 L17.5,84.9Z M19.0,87.0 L17.5,87.5 L16.3,88.5 L15.3,90.0 L14.8,91.5 L14.8,93.5 L15.1,95.0 L16.0,96.2 L17.0,96.6 L18.0,96.6 L19.5,96.3 L21.5,95.3 L23.0,93.6 L23.6,92.0 L23.5,90.0 L23.1,89.0 L22.5,88.2 L21.0,87.2 L20.0,87.0 L19.0,87.0Z" fill="#fcc83e" fill-rule="evenodd"/><path d="M19.0,87.0 L20.0,87.0 L21.0,87.2 L22.5,88.2 L23.1,89.0 L23.5,90.0 L23.6,92.0 L23.0,93.6 L21.5,95.3 L19.5,96.3 L18.0,96.6 L17.0,96.6 L16.0,96.2 L15.1,95.0 L14.8,93.5 L14.8,91.5 L15.3,90.0 L16.3,88.5 L17.5,87.5 L19.0,87.0Z" fill="#fb7c3a" fill-rule="evenodd"/><path d="M123.5,139.0 L137.5,138.1 L150.5,137.9 L163.0,138.1 L175.6,139.0 M86.0,139.0 L99.5,137.0 L113.5,135.4 L127.0,134.2 L140.0,133.4 L151.5,133.2 L162.5,133.4 L173.0,134.0 L183.5,135.1 M62.0,139.0 L76.5,136.0 L93.5,133.3 L112.0,131.0 L130.0,129.3 L144.5,128.6 L158.0,128.4 L171.0,129.0 L183.5,130.2 M44.0,139.0 L58.5,135.0 L75.0,131.6 L96.5,128.3 L120.5,125.5 L139.0,124.0 L155.0,123.5 L169.5,123.9 L183.5,125.2 M30.0,139.0 L37.0,136.2 L44.0,133.9 L51.5,131.7 L59.5,129.8 L79.0,126.2 L105.5,122.5 L130.5,119.9 L150.5,118.6 L159.5,118.5 L167.5,118.7 L175.5,119.2 L183.5,120.1 M18.5,139.0 L25.5,135.6 L32.0,132.8 L38.5,130.4 L45.5,128.2 L52.5,126.3 L60.5,124.6 L81.0,121.2 L118.5,116.3 L133.0,114.8 L145.5,113.9 L156.0,113.4 L165.5,113.4 L174.5,113.9 L183.5,114.9 M8.7,139.0 L22.5,131.4 L28.5,128.6 L34.5,126.2 L40.5,124.2 L47.0,122.4 L62.0,119.3 L79.0,116.8 L111.0,112.5 L130.0,110.3 L144.5,108.9 L156.0,108.2 L165.5,108.1 L174.5,108.5 L183.5,109.5 M-0.1,139.0 L15.5,129.4 L21.5,126.1 L27.5,123.1 L32.5,121.1 L38.0,119.2 L44.0,117.5 L50.5,116.1 L70.0,113.2 L128.0,105.6 L147.5,103.5 L158.0,102.7 L167.0,102.5 L175.0,102.9 L183.5,103.9 M-8.0,138.9 L10.0,126.7 L21.5,119.8 L26.5,117.3 L31.5,115.2 L36.5,113.5 L42.0,112.1 L54.0,110.1 L92.0,105.7 L137.0,99.5 L153.5,97.5 L162.5,96.8 L170.0,96.7 L176.5,97.0 L183.5,97.9 M-8.0,133.5 L11.0,119.7 L20.0,113.8 L24.5,111.2 L28.5,109.4 L32.4,108.0 L36.5,106.9 L46.5,105.4 L74.0,103.1 L94.0,100.8 L111.0,98.4 L149.0,92.6 L162.5,90.8 L168.0,90.4 L173.0,90.4 L178.0,90.8 L183.5,91.7 M-8.0,127.8 L14.5,109.9 L20.0,105.8 L25.5,102.5 L28.0,101.5 L31.0,100.6 L34.5,100.0 L39.0,99.7 L56.0,99.3 L70.5,98.6 L82.0,97.6 L93.5,96.3 L105.5,94.6 L124.0,91.6 L152.5,86.5 L165.5,83.8 L169.5,83.2 L173.0,83.1 L176.0,83.3 L183.5,84.8 M167.5,70.9 L173.0,72.6 L183.5,76.9 M-8.0,121.9 L3.3,112.0 L12.4,103.0 L16.3,98.5 L19.0,95.0 L21.6,91.0 L22.8,88.5 M-8.0,116.9 L-1.2,110.5 L4.4,104.5 L8.7,99.0 L11.2,94.5 L12.2,92.0 L12.7,89.0 L12.6,86.0 L11.5,80.5 L11.3,79.0 L11.9,75.0 L12.9,70.0 L14.4,65.5 L17.9,58.0 L19.6,55.0 L22.0,51.6 L30.3,42.0 L32.5,39.8 L43.0,31.6 L49.0,27.2 L57.5,22.7 L69.5,16.9 L73.0,15.6 L79.0,14.0 L95.5,10.3 L102.5,9.5 L123.0,9.1 L128.0,8.7 L130.5,8.9 L144.5,11.0 L153.5,12.9 L155.0,13.5 L157.5,15.4 L160.8,19.0 L165.1,24.0 L168.7,29.0 L169.5,31.0 L170.7,36.0 L174.1,53.0 L176.0,59.5 L177.1,62.0 L178.6,64.5 L180.9,67.0 L183.5,69.2 M-8.0,111.6 L-3.1,106.5 L0.7,102.0 L3.6,98.0 L5.9,94.0 L7.1,91.0 L7.8,88.5 L8.3,85.5 L8.8,79.5 L9.3,76.0 L10.5,71.0 L11.9,66.5 L14.2,61.5 L17.6,55.0 L20.0,51.5 L24.1,46.5 L29.5,40.5 L32.5,37.7 L42.0,30.3 L48.5,25.7 L55.5,21.9 L66.0,16.8 L71.0,14.7 L76.5,13.0 L92.5,9.3 L101.9,8.0 L108.5,7.6 L127.0,7.2 L132.5,7.6 L143.0,9.2 L150.0,10.7 L155.0,12.2 L157.9,14.0 L161.5,17.5 L166.9,23.5 L170.2,28.0 L172.2,32.5 L176.5,45.8 L178.6,51.5 L181.0,56.5 L183.5,60.3 M-8.0,106.0 L-4.5,102.0 L-1.5,98.0 L0.7,94.5 L2.5,91.0 L4.5,85.5 L6.7,76.0 L8.3,70.5 L10.2,65.5 L12.5,60.5 L17.2,52.5 L19.8,49.0 L23.6,44.5 L28.2,39.5 L32.5,35.6 L41.0,29.0 L47.5,24.5 L54.5,20.6 L63.5,16.2 L69.5,13.6 L75.5,11.7 L86.5,8.9 L95.5,7.2 L104.0,6.2 L113.0,5.8 L127.0,5.7 L132.5,6.0 L144.5,7.9 L149.5,9.0 L153.5,10.2 L157.0,11.8 L160.7,14.5 L166.3,20.0 L170.4,25.0 L173.8,30.5 L180.2,45.0 L183.5,51.3 M-8.0,100.1 L-3.6,94.0 L-0.3,88.0 L1.7,83.0 L6.6,68.5 L8.5,64.0 L10.8,59.5 L13.4,55.0 L16.0,51.0 L19.1,47.0 L23.0,42.5 L27.9,37.5 L32.5,33.4 L40.0,27.7 L46.5,23.2 L53.0,19.5 L61.5,15.3 L68.0,12.5 L74.5,10.3 L84.5,7.7 L94.0,5.8 L102.5,4.7 L111.5,4.2 L125.0,4.0 L132.0,4.4 L142.5,5.9 L151.5,8.0 L156.0,9.7 L159.9,12.0 L164.2,15.5 L169.2,20.5 L172.1,24.0 L174.9,28.0 L183.5,43.4 M-8.0,93.9 L-5.2,89.5 L-2.8,85.0 L4.8,67.0 L9.3,58.0 L12.4,53.0 L15.6,48.5 L19.3,44.0 L23.4,39.5 L28.5,34.6 L34.0,30.1 L40.8,25.0 L47.0,21.0 L54.0,17.1 L62.0,13.3 L68.5,10.6 L75.0,8.4 L84.5,6.0 L93.5,4.2 L102.0,3.1 L111.0,2.5 L123.0,2.3 L131.0,2.7 L140.0,3.8 L149.0,5.7 L154.0,7.3 L158.5,9.4 L162.6,12.0 L166.8,15.5 L171.3,20.0 L175.1,24.5 L178.4,29.0 L183.8,37.5 M-8.0,87.5 L-4.0,80.2 L3.7,64.0 L8.5,55.5 L11.8,50.5 L15.2,46.0 L19.5,41.1 L24.0,36.5 L29.0,31.9 L35.0,27.1 L41.5,22.5 L47.5,18.8 L54.5,15.0 L62.0,11.5 L68.5,8.9 L75.5,6.6 L84.5,4.3 L93.5,2.5 L101.5,1.4 L110.0,0.8 L120.5,0.6 L129.5,0.9 L137.5,1.7 L146.0,3.3 L152.0,5.0 L156.5,6.6 L161.0,9.0 L165.0,11.7 L170.1,16.0 L174.6,20.5 L178.4,25.0 L183.5,31.8 M-8.0,81.2 L2.2,62.0 L8.4,52.0 L12.0,47.0 L16.0,42.2 L20.4,37.5 L25.1,33.0 L30.5,28.4 L36.5,23.9 L42.5,19.8 L49.0,16.0 L56.0,12.4 L63.5,9.0 L70.0,6.6 L77.0,4.4 L85.5,2.3 L93.5,0.8 L101.5,-0.3 L110.0,-0.9 L120.0,-1.1 L129.0,-0.9 L137.0,-0.0 L144.5,1.3 L150.5,2.8 L155.5,4.5 L160.0,6.6 L164.5,9.2 L169.5,13.0 L174.0,17.0 L178.4,21.5 L183.5,27.4 M-8.0,73.1 L1.2,57.5 L4.9,52.0 L8.6,47.0 L12.7,42.0 L17.3,37.0 L22.0,32.4 L27.0,28.1 L32.9,23.5 L39.0,19.2 L45.0,15.5 L51.5,11.9 L58.5,8.6 L65.0,5.9 L71.5,3.6 L78.5,1.5 L86.5,-0.4 L94.5,-1.8 L102.5,-2.8 L110.5,-3.4 L119.5,-3.6 L128.0,-3.3 L135.5,-2.6 L143.0,-1.4 L149.0,-0.0 L154.5,1.7 L159.5,3.7 L163.9,6.0 L168.6,9.0 L173.5,12.7 L178.4,17.0 L183.5,22.1 M-8.0,65.9 L1.3,52.0 L9.1,42.0 L13.7,37.0 L18.7,32.0 L23.8,27.5 L29.0,23.3 L35.0,19.0 L41.0,15.1 L47.0,11.6 L53.5,8.3 L60.0,5.3 L66.5,2.8 L73.0,0.6 L80.0,-1.3 L87.5,-3.0 L95.0,-4.4 L103.0,-5.3 L111.0,-5.9 L119.0,-6.1 L127.0,-5.8 L134.5,-5.2 L141.5,-4.2 L147.5,-2.9 L153.5,-1.2 L158.5,0.6 L163.5,2.9 L168.5,5.8 L173.3,9.0 L178.5,13.0 L183.5,17.4 M-8.0,59.6 L1.3,47.0 L10.0,36.9 L14.9,32.0 L19.8,27.5 L25.0,23.2 L30.5,19.0 L36.5,15.0 L42.5,11.3 L48.5,8.0 L55.0,4.8 L61.0,2.3 L67.5,-0.2 L74.0,-2.3 L81.0,-4.1 L88.5,-5.8 L96.0,-7.0 L103.5,-7.9 L111.0,-8.4 L119.0,-8.6 L126.5,-8.4 L134.0,-7.8 L140.5,-6.9 L146.5,-5.7 L152.5,-4.1 L158.0,-2.3 L163.0,-0.2 L168.0,2.4 L173.0,5.4 L178.3,9.0 L183.5,13.0 M-8.0,53.9 L1.1,42.5 L10.5,32.5 L15.2,28.0 L20.5,23.4 L26.0,19.1 L31.5,15.2 L37.2,11.5 L43.0,8.1 L49.0,4.9 L55.5,1.9 L62.0,-0.8 L68.0,-3.0 L74.5,-5.0 L81.5,-6.8 L89.0,-8.4 L96.0,-9.6 L103.0,-10.4 L110.5,-10.9 L118.0,-11.1 L125.5,-11.0 L132.5,-10.5 L139.5,-9.6 L146.0,-8.4 L151.5,-7.0 L157.0,-5.4 L162.5,-3.3 L167.5,-1.0 L173.0,2.0 L178.0,5.1 L183.5,8.9 M-8.0,48.7 L1.6,37.5 L11.7,27.5 L22.0,18.9 L33.0,11.1 L44.5,4.4 L50.5,1.4 L57.0,-1.5 L69.5,-6.1 L82.5,-9.7 L89.5,-11.1 L96.5,-12.2 L103.5,-13.0 L110.5,-13.5 L117.5,-13.7 L125.0,-13.6 L132.0,-13.1 L138.5,-12.3 L144.5,-11.3 L150.5,-10.0 L156.5,-8.3 L162.0,-6.4 L167.0,-4.3 L172.5,-1.6 L178.0,1.5 L183.5,5.0 M-8.0,43.7 L1.9,33.0 L12.0,23.5 L22.5,15.1 L33.5,7.7 L45.4,1.0 L57.5,-4.5 L70.0,-9.0 L83.0,-12.4 L90.0,-13.8 L97.0,-14.9 L111.0,-16.1 L118.0,-16.3 L125.0,-16.2 L131.5,-15.8 L138.0,-15.1 L144.5,-14.0 L150.5,-12.8 L156.0,-11.3 L161.5,-9.5 L167.0,-7.3 L172.2,-5.0 L183.5,1.1 M-8.0,39.0 L2.3,28.5 L12.4,19.5 L23.0,11.4 L34.5,4.0 L46.5,-2.5 L58.5,-7.7 L71.0,-12.0 L83.5,-15.2 L97.0,-17.6 L110.5,-18.8 L117.5,-19.0 L124.5,-18.9 L137.5,-17.9 L149.5,-15.8 L155.5,-14.3 L161.0,-12.6 L172.0,-8.4 L183.5,-2.6 M-8.0,31.7 L-1.0,25.0 L5.5,19.3 L12.0,14.0 L19.0,8.8 L26.2,4.0 L33.5,-0.5 L41.0,-4.5 L48.2,-8.0 M-8.0,24.8 L3.3,15.0 L14.5,6.4 L26.0,-1.2 L38.1,-8.0 M-8.0,18.1 L1.0,10.7 L10.0,3.9 L19.0,-2.2 L28.6,-8.0 M-8.0,11.5 L5.8,1.0 L19.4,-8.0 M-8.0,5.1 L1.0,-1.6 L10.4,-8.0 M-8.0,-1.3 L1.4,-8.0" fill="none" stroke="#111" stroke-width="0.9" stroke-linejoin="round"/><path d="M157.6,135.3 L162.7,133.4 L157.7,131.1 M90.5,135.8 L95.1,133.1 L89.9,131.7 M123.6,131.9 L128.5,129.4 L123.3,127.7 M157.3,130.5 L162.4,128.5 L157.5,126.3 M90.2,131.3 L94.9,128.5 L89.7,127.1 M123.4,127.3 L128.2,124.8 L123.1,123.1 M157.1,125.5 L162.2,123.6 L157.2,121.3 M51.8,133.8 L56.2,130.6 L50.9,129.7 M90.0,126.7 L94.7,123.9 L89.5,122.5 M123.2,122.6 L128.0,120.1 L122.8,118.5 M156.9,120.5 L161.9,118.5 L157.0,116.3 M51.5,128.7 L56.0,125.5 L50.6,124.6 M89.8,122.1 L94.5,119.3 L89.2,117.9 M123.0,117.9 L127.8,115.3 L122.6,113.8 M156.6,115.4 L161.7,113.4 L156.7,111.2 M20.0,135.0 L23.5,130.9 L18.1,131.2 M51.2,123.4 L55.7,120.4 L50.4,119.3 M89.5,117.4 L94.2,114.7 L89.0,113.3 M122.8,113.2 L127.5,110.6 L122.3,109.0 M156.4,110.2 L161.4,108.0 L156.4,106.0 M19.7,129.3 L23.2,125.2 L17.8,125.5 M50.9,118.1 L55.5,115.2 L50.2,114.0 M89.3,112.8 L94.0,110.1 L88.8,108.7 M122.6,108.4 L127.3,105.7 L122.1,104.3 M156.2,104.8 L161.1,102.6 L156.1,100.6 M19.5,123.2 L22.9,119.0 L17.5,119.5 M50.5,112.7 L55.2,110.0 L50.0,108.5 M89.1,108.2 L93.8,105.5 L88.5,104.0 M122.4,103.7 L127.0,100.9 L121.8,99.5 M156.0,99.3 L160.8,96.9 L155.7,95.1 M19.2,116.5 L22.6,112.2 L17.2,112.8 M50.1,107.1 L54.9,104.6 L49.8,103.0 M88.8,103.6 L93.5,100.9 L88.3,99.4 M122.2,98.9 L126.8,96.0 L121.5,94.7 M155.8,93.7 L160.5,91.0 L155.3,89.5 M19.1,108.8 L22.2,104.3 L16.8,105.2 M49.7,101.6 L54.7,99.3 L49.6,97.4 M88.6,99.0 L93.3,96.3 L88.1,94.9 M122.0,94.1 L126.5,91.1 L121.3,89.9 M155.8,88.0 L160.2,84.9 L154.9,83.9 M20.9,96.5 L21.5,91.1 L17.2,94.4 M24.0,52.6 L25.6,47.4 L20.8,49.9 M51.8,27.9 L55.3,23.8 L49.9,24.2 M79.1,16.2 L83.4,13.0 L78.1,12.1 M111.2,11.3 L116.2,9.2 L111.2,7.1 M140.4,12.3 L145.8,11.3 L141.3,8.2 M24.4,49.2 L26.2,44.1 L21.3,46.4 M52.2,25.9 L55.7,21.8 L50.3,22.2 M79.4,14.5 L83.8,11.2 L78.4,10.4 M111.6,9.6 L116.5,7.5 L111.5,5.4 M140.8,10.9 L146.1,9.8 L141.6,6.8 M24.9,46.0 L26.9,40.9 L21.9,43.1 M52.6,23.9 L56.1,19.7 L50.7,20.1 M79.8,12.7 L84.1,9.5 L78.8,8.6 M111.9,7.9 L116.9,5.8 L111.9,3.7 M141.1,9.3 L146.4,8.3 L141.9,5.2 M25.3,42.9 L27.5,37.9 L22.4,39.9 M53.0,21.8 L56.5,17.7 L51.1,18.1 M80.1,10.9 L84.5,7.7 L79.2,6.8 M112.3,6.2 L117.2,4.1 L112.2,2.0 M141.3,7.7 L146.7,6.8 L142.3,3.6 M25.7,40.0 L28.0,35.1 L22.9,36.9 M53.4,19.7 L56.9,15.7 L51.5,16.0 M80.4,9.1 L84.9,5.9 L79.5,5.0 M112.6,4.5 L117.6,2.3 L112.6,0.3 M141.6,6.1 L147.0,5.2 L142.6,2.0 M26.2,37.1 L28.6,32.3 L23.4,33.9 M53.7,17.7 L57.3,13.6 L51.9,13.9 M80.8,7.2 L85.2,4.1 L79.9,3.1 M112.9,2.7 L117.9,0.6 L112.9,-1.5 M142.0,4.5 L147.3,3.6 L143.0,0.4 M-1.8,74.1 L-1.4,68.7 L-5.6,72.1 M26.6,34.3 L29.1,29.5 L23.9,31.1 M54.1,15.6 L57.7,11.5 L52.3,11.8 M81.1,5.4 L85.6,2.3 L80.3,1.3 M113.3,1.0 L118.3,-1.1 L113.3,-3.2 M142.3,2.8 L147.6,2.0 L143.3,-1.2 M-0.2,63.7 L0.7,58.4 L-3.8,61.5 M27.2,30.5 L29.9,25.8 L24.7,27.2 M54.6,12.6 L58.3,8.7 L52.9,8.8 M81.6,2.8 L86.1,-0.3 L80.8,-1.3 M142.7,0.5 L148.1,-0.3 L143.8,-3.5 M0.9,56.0 L2.2,50.7 L-2.5,53.5 M27.9,26.7 L30.6,22.1 L25.4,23.4 M55.1,9.7 L58.9,5.8 L53.5,5.9 M82.1,0.2 L86.6,-2.9 L81.3,-3.9 M143.2,-1.8 L148.6,-2.6 L144.2,-5.9 M1.9,49.5 L3.5,44.3 L-1.3,46.8 M28.5,23.0 L31.4,18.4 L26.1,19.6 M55.7,6.8 L59.5,2.9 L54.0,2.9 M2.8,43.7 L4.6,38.6 L-0.3,40.8 M29.1,19.4 L32.1,14.8 L26.8,15.9 M56.2,3.8 L60.0,-0.0 L54.6,-0.1 M3.7,38.3 L5.7,33.3 L0.7,35.4 M29.7,15.7 L32.8,11.2 L27.5,12.2 M56.7,0.8 L60.6,-3.0 L55.2,-3.1 M4.5,33.3 L6.7,28.3 L1.6,30.2 M30.3,12.1 L33.5,7.7 L28.1,8.5 M5.3,28.5 L7.6,23.6 L2.5,25.3 M31.0,8.5 L34.2,4.2 L28.8,4.9 M6.5,21.1 L9.1,16.3 L3.9,17.8 M32.0,2.8 L35.3,-1.5 L29.9,-0.9 M7.7,14.1 L10.5,9.4 L5.2,10.7 M8.9,7.2 L11.8,2.6 L6.5,3.7" fill="none" stroke="#111" stroke-width="0.9" stroke-linejoin="miter"/><path d="M114.6,32.0 L115.2,32.4 L115.7,32.9 L116.2,33.4 L116.6,33.9 L117.0,34.4 L117.4,34.9 L117.7,35.5 L118.0,36.0 L118.3,36.6 L118.5,37.2 L118.7,37.8 L118.8,38.4 L118.9,39.0 L118.9,39.6 L118.9,40.2 L118.9,40.8 L118.8,41.5 L118.7,42.1 L118.6,42.8 L118.4,43.5 L118.2,44.1 L117.9,44.8 L117.6,45.5 L117.2,46.1 L116.8,46.8 L116.4,47.5 L115.9,48.2 L115.4,48.9 L114.9,49.5 L114.3,50.2 L113.7,50.9 L113.1,51.6 L112.4,52.2 L111.7,52.9 L110.9,53.6 L110.1,54.2 L109.3,54.9 L108.5,55.5 L107.6,56.1 L106.7,56.7 L105.8,57.4 L104.8,58.0 L103.8,58.6 L102.8,59.1 L101.8,59.7 L100.8,60.3 L99.7,60.8 L98.6,61.3 L97.5,61.9 L96.3,62.4 L95.2,62.9 L94.0,63.3 L92.9,63.8 L91.7,64.2 L90.5,64.7 L89.2,65.1 L88.0,65.5 L86.8,65.8 L85.5,66.2 L84.3,66.5 L83.0,66.8 L81.8,67.1 L80.5,67.4 L79.3,67.7 L78.0,67.9 L76.8,68.1 L75.5,68.3 L74.3,68.5 L73.0,68.6 L71.8,68.8 L70.6,68.9 L69.4,68.9 L68.2,69.0 L67.0,69.0 L65.8,69.1 L64.6,69.1 L63.5,69.0 L62.3,69.0 L61.2,68.9 L60.1,68.8 L59.1,68.7 L58.0,68.6 L57.0,68.4 L56.0,68.3 L55.0,68.1 L54.1,67.9 L53.1,67.6 L52.3,67.4 L51.4,67.1 L50.5,66.8 L49.7,66.5 L49.0,66.1 L48.2,65.8 L47.5,65.4 L46.8,65.0 L46.2,64.6 L45.6,64.2 L45.0,63.7 L44.5,63.3 L44.0,62.8 L43.5,62.3 L43.1,61.8 L42.7,61.3 L42.4,60.7 L42.1,60.2 L41.8,59.6 L41.6,59.0 L41.4,58.5 L41.2,57.9 L41.1,57.3 L41.1,56.6 L41.1,56.0 L41.1,55.4 L41.1,54.7 L41.2,54.1 L41.4,53.4 L41.5,52.8 L41.8,52.1 L42.0,51.5 M130.8,24.5 L132.1,24.9 L133.3,25.3 L134.5,25.8 L135.6,26.3 L136.6,26.8 L137.7,27.4 L138.6,27.9 L139.5,28.5 L140.4,29.1 L141.2,29.7 L142.0,30.4 L142.6,31.0 L143.3,31.7 L143.9,32.4 L144.4,33.1 L144.8,33.8 L145.2,34.6 L145.6,35.3 L145.8,36.1 L146.1,36.9 L146.2,37.7 L146.3,38.5 L146.3,39.3 L146.3,40.1 L146.2,41.0 L146.0,41.8 L145.8,42.7 L145.5,43.5 L145.2,44.4 L144.8,45.2 L144.3,46.1 L143.8,46.9 L143.2,47.8 L142.6,48.7 L141.9,49.5 L141.2,50.4 L140.4,51.2 L139.5,52.1 L138.6,52.9 L137.6,53.7 L136.6,54.6 L135.5,55.4 L134.4,56.2 L133.2,57.0 L132.0,57.8 L130.7,58.5 L129.4,59.3 L128.1,60.0 L126.7,60.8 L125.3,61.5 L123.8,62.2 L122.3,62.9 L120.8,63.5 L119.2,64.2 L117.6,64.8 L116.0,65.4 L114.3,66.0 L112.6,66.6 L110.9,67.1 L109.2,67.6 L107.4,68.1 L105.7,68.6 L103.9,69.0 L102.1,69.4 L100.3,69.8 L98.5,70.2 L96.6,70.6 L94.8,70.9 L93.0,71.2 L91.2,71.4 L89.3,71.6 L87.5,71.9 L85.7,72.0 L83.9,72.2 L82.0,72.3 L80.3,72.4 L78.5,72.5 L76.7,72.5 L75.0,72.5 L73.2,72.5 L71.5,72.4 L69.8,72.3 L68.2,72.2 L66.5,72.1 L64.9,71.9 L63.4,71.7 L61.8,71.5 L60.3,71.2 L58.8,71.0 L57.4,70.6 L56.0,70.3 L54.7,69.9 L53.4,69.6 L52.1,69.1 L50.9,68.7 L49.7,68.2 L48.6,67.8 L47.5,67.2 L46.5,66.7 L45.5,66.2 L44.6,65.6 L43.7,65.0 L42.9,64.4 L42.1,63.7 L41.4,63.1 L40.8,62.4 L40.2,61.7 L39.7,61.0 L39.2,60.3 L38.8,59.5 L38.5,58.8 L38.2,58.0 L38.0,57.2 L37.8,56.4 L37.7,55.6 L37.7,54.8 L37.7,54.0 L37.8,53.1 L37.9,52.3 M148.3,20.7 L149.9,21.3 L151.4,21.8 L152.9,22.4 L154.4,23.0 L155.8,23.7 L157.1,24.4 L158.4,25.1 L159.6,25.8 L160.8,26.5 L161.8,27.3 L162.9,28.1 L163.8,28.9 L164.7,29.7 L165.5,30.6 L166.3,31.4 L166.9,32.3 L167.5,33.2 L168.1,34.1 L168.5,35.0 L168.9,36.0 L169.2,36.9 L169.4,37.9 L169.6,38.8 L169.7,39.8 L169.7,40.8 L169.6,41.8 L169.5,42.8 L169.3,43.8 L169.0,44.8 L168.6,45.8 L168.2,46.8 L167.7,47.8 L167.1,48.8 L166.5,49.7 L165.7,50.7 L165.0,51.7 L164.1,52.7 L163.2,53.7 L162.2,54.6 L161.1,55.6 L160.0,56.5 L158.8,57.5 L157.5,58.4 L156.2,59.3 L154.8,60.2 L153.4,61.0 L151.9,61.9 L150.4,62.7 L148.8,63.5 L147.1,64.3 L145.4,65.1 L143.7,65.9 L141.9,66.6 L140.1,67.3 L138.2,68.0 L136.3,68.6 L134.3,69.3 L132.3,69.9 L130.3,70.5 L128.3,71.0 L126.2,71.5 L124.1,72.0 L122.0,72.5 L119.8,72.9 L117.7,73.3 L115.5,73.7 L113.3,74.0 L111.1,74.4 L108.9,74.6 L106.7,74.9 L104.5,75.1 L102.3,75.3 L100.0,75.4 L97.8,75.5 L95.6,75.6 L93.4,75.6 L91.3,75.7 L89.1,75.6 L86.9,75.6 L84.8,75.5 L82.7,75.4 L80.6,75.2 L78.6,75.0 L76.5,74.8 L74.5,74.5 L72.6,74.2 L70.6,73.9 L68.8,73.6 L66.9,73.2 L65.1,72.8 L63.3,72.3 L61.6,71.8 L59.9,71.3 L58.3,70.8 L56.8,70.2 L55.2,69.7 L53.8,69.0 L52.4,68.4 L51.0,67.7 L49.8,67.0 L48.5,66.3 L47.4,65.6 L46.3,64.8 L45.3,64.0 L44.3,63.2 L43.4,62.4 L42.6,61.6 L41.8,60.7 L41.2,59.8 L40.5,58.9 L40.0,58.0 L39.5,57.1 L39.1,56.2 L38.8,55.2 L38.6,54.3 L38.4,53.3 L38.3,52.3 L38.3,51.3 L38.3,50.4" fill="none" stroke="#111" stroke-width="0.85"/><path d="M114.4,47.8 L112.8,51.9 L116.8,50.3 M63.1,67.5 L58.9,68.7 L62.7,70.9 M142.5,46.5 L141.0,50.5 L145.0,48.8 M90.5,69.9 L86.7,71.9 L90.8,73.2 M166.1,47.8 L164.8,51.9 L168.7,50.0 M122.0,70.8 L118.4,73.2 L122.6,74.2" fill="none" stroke="#111" stroke-width="0.9"/><path d="M85.2,34.7 L85.3,35.4 L85.4,36.1 L85.3,36.9 L85.0,37.7 L84.6,38.6 L84.1,39.5 L83.4,40.5 L82.6,41.5 L81.7,42.5 L80.7,43.6 L79.5,44.7 L78.3,45.7 L76.9,46.8 L75.5,47.9 L74.0,48.9 L72.4,50.0 L70.7,51.0 L69.1,52.0 L67.3,52.9 L65.6,53.8 L63.8,54.6 L62.1,55.4 L60.3,56.1 L58.6,56.8 L56.9,57.4 L55.2,57.9 L53.6,58.4 L52.0,58.8 L50.6,59.1 L49.1,59.3 L47.8,59.5 L46.6,59.5 L45.5,59.5 L44.4,59.4 L43.5,59.2 L42.7,59.0 L42.1,58.6 L41.5,58.2 L41.1,57.8 L40.9,57.2 L40.7,56.6 L40.7,55.9 L40.8,55.2 L41.1,54.4 L41.4,53.6 L41.9,52.8 L42.6,51.9 L43.3,50.9 L44.2,50.0 L45.1,49.0 L46.2,48.1 L47.3,47.1 L48.6,46.1 L49.9,45.1 L51.3,44.2 L52.7,43.3 L54.2,42.3 L55.7,41.5 L57.3,40.6 L58.9,39.8 L60.5,39.0 L62.1,38.3 L63.7,37.7 L65.2,37.1 L66.8,36.5 L68.3,36.1 L69.8,35.7 L71.2,35.3 L72.5,35.1 L73.8,34.9 L75.0,34.8 L76.1,34.7 L77.1,34.7 L78.0,34.8 L78.8,35.0 L79.5,35.3 L80.1,35.6 L80.5,35.9 L80.9,36.4 L81.1,36.9 L81.2,37.4 L81.2,38.0 L81.1,38.7 L80.9,39.4 L80.5,40.2 L80.0,40.9 L79.5,41.7 L78.8,42.6 L78.0,43.4 L77.1,44.3 L76.2,45.2 L75.1,46.1 L74.0,46.9 L72.8,47.8 L71.5,48.7 L70.2,49.5 L68.9,50.3 L67.5,51.1 L66.1,51.9 L64.7,52.6 L63.2,53.3 L61.8,53.9 L60.4,54.5 L58.9,55.0 L57.6,55.5 L56.2,55.9 L54.9,56.2 L53.7,56.5 L52.5,56.8 L51.3,56.9 L50.3,57.0 L49.3,57.1 L48.4,57.0 L47.6,56.9 L46.9,56.8 L46.3,56.5 L45.8,56.2 L45.4,55.9 L45.1,55.5 L44.9,55.0 L44.8,54.5 L44.8,54.0 L45.0,53.4 L45.2,52.8 L45.5,52.1 L46.0,51.4 L46.5,50.7 L47.1,49.9 L47.8,49.2 L48.6,48.4 L49.5,47.6 L50.4,46.8 L51.5,46.0 L52.5,45.3 L53.6,44.5 L54.8,43.8 L56.0,43.0 L57.3,42.3 L58.5,41.7 L59.8,41.0 L61.0,40.4 L62.3,39.9 L63.6,39.4 L64.8,38.9 L66.0,38.5 L67.2,38.2 L68.4,37.9 L69.5,37.6 L70.5,37.4 L71.5,37.3 L72.4,37.2 L73.3,37.2 L74.1,37.2 L74.7,37.3 L75.4,37.5 L75.9,37.7 L76.3,37.9 L76.7,38.3 L76.9,38.6 L77.1,39.0 L77.1,39.5 L77.1,40.0 L77.0,40.5 L76.7,41.1 L76.4,41.6 L76.0,42.3 L75.6,42.9 L75.0,43.6 L74.4,44.2 L73.7,44.9 L72.9,45.6 L72.0,46.3 L71.1,47.0 L70.2,47.7 L69.2,48.3 L68.2,49.0 L67.1,49.6 L66.0,50.2 L64.9,50.8 L63.8,51.3 L62.7,51.8 L61.6,52.3 L60.5,52.7 L59.4,53.1 L58.4,53.5 L57.3,53.8 L56.4,54.0 L55.4,54.3 L54.5,54.4 L53.7,54.5 L52.9,54.6 L52.1,54.6 L51.5,54.5 L50.9,54.4 L50.4,54.3 L49.9,54.1 L49.6,53.9 L49.3,53.6 L49.1,53.3 L49.0,52.9 L48.9,52.5 L49.0,52.1 L49.1,51.6 L49.3,51.1 L49.6,50.6 L49.9,50.1 L50.4,49.5 L50.9,49.0 L51.4,48.4 L52.1,47.8 L52.7,47.2 L53.5,46.6 L54.2,46.0 L55.1,45.5 L55.9,44.9 L56.8,44.3 L57.7,43.8 L58.6,43.3 L59.6,42.8 L60.5,42.3 L61.5,41.9 L62.4,41.5 L63.4,41.1 L64.3,40.8 L65.2,40.5 L66.0,40.3 L66.9,40.1 L67.7,39.9 L68.4,39.8 L69.1,39.7 L69.8,39.6 L70.4,39.7 L71.0,39.7 L71.4,39.8 L71.9,39.9 L72.2,40.1 L72.5,40.3 L72.7,40.5 L72.9,40.8 L73.0,41.1 L73.0,41.5 L72.9,41.8 L72.8,42.2 L72.6,42.6 L72.4,43.1 L72.1,43.5 L71.7,44.0 L71.3,44.5 L70.8,45.0 L70.3,45.5 L69.7,46.0 L69.1,46.4 L68.4,46.9 L67.7,47.4 L67.0,47.9 L66.3,48.3 L65.5,48.8 L64.7,49.2 L63.9,49.6 L63.1,50.0 L62.4,50.3 L61.6,50.7 L60.8,51.0 L60.0,51.2 L59.3,51.5 L58.6,51.7 L57.9,51.8 L57.3,51.9 L56.6,52.0 L56.1,52.1 L55.5,52.1 L55.1,52.1 L54.6,52.1 L54.2,52.0 L53.9,51.9 L53.6,51.7 L53.4,51.5 L53.2,51.3 L53.1,51.1 L53.1,50.8 L53.1,50.6 L53.1,50.3 L53.2,49.9 L53.4,49.6 L53.6,49.2 L53.9,48.9 L54.2,48.5 L54.6,48.1 L55.0,47.7 L55.4,47.3 L55.9,46.9 L56.4,46.5 L56.9,46.1 L57.5,45.7 L58.1,45.4 L58.7,45.0 L59.3,44.6 L59.9,44.3 L60.5,44.0 L61.2,43.7 L61.8,43.4 L62.4,43.2 L63.0,43.0 L63.6,42.8 L64.2,42.6 L64.7,42.4 L65.3,42.3 L65.8,42.2 L66.2,42.2 L66.7,42.1 L67.1,42.1 L67.4,42.1 L67.8,42.2 L68.1,42.2 L68.3,42.3 L68.5,42.5 L68.7,42.6 L68.8,42.8 L68.8,43.0 L68.9,43.2 L68.9,43.4 L68.8,43.6 L68.7,43.9 L68.6,44.2 L68.4,44.4 L68.2,44.7 L67.9,45.0 L67.6,45.3 L67.3,45.6 L66.9,45.9 L66.6,46.2 L66.2,46.5 L65.8,46.8 L65.3,47.1 L64.9,47.4 L64.4,47.7 L64.0,47.9 L63.5,48.1 L63.0,48.4 L62.6,48.6 L62.1,48.8 L61.7,49.0 L61.2,49.1 L60.8,49.3 L60.4,49.4 L60.0,49.5 L59.6,49.6 L59.2,49.6 L58.9,49.6 L58.6,49.7 L58.3,49.7 L58.1,49.6 L57.8,49.6 L57.7,49.5 L57.5,49.5 L57.4,49.4 L57.3,49.2 L57.2,49.1 L57.2,49.0 L57.2,48.8 L57.2,48.6 L57.3,48.5 L57.4,48.3 L57.5,48.1 L57.6,47.9 L57.8,47.7 L58.0,47.5 L58.2,47.3 L58.4,47.1 L58.7,46.9 L58.9,46.7 L59.2,46.5 L59.5,46.3 L59.8,46.1 L60.1,45.9 L60.4,45.7 L60.7,45.6 L61.0,45.4 L61.4,45.3 L61.7,45.1 L62.0,45.0 L62.2,44.9 L62.5,44.8 L62.8,44.7 L63.1,44.7 L63.3,44.6 L63.5,44.6 L63.7,44.6 L63.9,44.6 L64.1,44.6 L64.3,44.6 L64.4,44.6 L64.5,44.6 L64.6,44.7 L64.7,44.8 L64.7,44.8 L64.8,44.9 L64.8,45.0 L64.8,45.1" fill="none" stroke="#111" stroke-width="0.7"/><ellipse cx="62" cy="46.5" rx="29.5" ry="10.5" transform="rotate(-27 62 46.5)" fill="none" stroke="#111" stroke-width="3.2"/><ellipse cx="64" cy="45.5" rx="2.5" ry="2.0" transform="rotate(-27 64 45.5)" fill="#111" stroke="none" stroke-width="0.8"/><path d="M13.0,80.0 L13.1,79.3 L13.2,78.4 L13.3,77.3 L13.5,76.1 L13.6,74.8 L13.8,73.4 L14.0,72.1 L14.3,70.7 L14.6,69.3 L15.0,68.0 L15.4,66.7 L15.8,65.5 L16.3,64.2 L16.8,62.9 L17.4,61.6 L18.0,60.3 L18.6,59.0 L19.4,57.7 L20.1,56.3 L21.0,55.0 L21.9,53.6 L22.9,52.2 L24.0,50.8 L25.1,49.4 L26.3,48.0 L27.6,46.6 L28.8,45.2 L30.2,43.8 L31.6,42.4 L33.0,41.0 L34.5,39.7 L36.0,38.3 L37.6,37.0 L39.2,35.6 L40.9,34.3 L42.6,33.0 L44.4,31.7 L46.2,30.5 L48.1,29.2 L50.0,28.0 L52.0,26.8 L54.0,25.6 L56.1,24.4 L58.2,23.2 L60.4,22.1 L62.7,20.9 L64.9,19.9 L67.3,18.8 L69.6,17.9 L72.0,17.0 L74.4,16.2 L76.8,15.4 L79.3,14.7 L81.8,14.0 L84.4,13.4 L87.0,12.8 L89.6,12.3 L92.4,11.8 L95.1,11.4 L98.0,11.0 L101.0,10.7 L104.0,10.4 L107.2,10.2 L110.5,10.0 L113.8,9.9 L117.1,9.8 L120.4,9.8 L123.6,9.8 L126.9,9.9 L130.0,10.0 L133.2,10.2 L136.6,10.5 L140.1,11.0 L143.6,11.4 L147.0,11.9 L150.3,12.4 L153.3,12.9 L156.0,13.4 L158.2,13.7 L160.0,14.0" fill="none" stroke="#111" stroke-width="2.4" stroke-linecap="round"/><path d="M15.0,78.0 L15.3,77.4 L15.6,76.5 L15.9,75.6 L16.3,74.5 L16.7,73.4 L17.2,72.1 L17.7,70.9 L18.2,69.6 L18.8,68.3 L19.4,67.1 L20.0,66.0 L20.6,64.9 L21.3,63.8 L22.0,62.7 L22.7,61.6 L23.5,60.5 L24.3,59.5 L25.1,58.4 L26.0,57.3 L26.9,56.2 L27.9,55.1 L29.0,54.0 L30.1,52.9 L31.3,51.8 L32.5,50.7 L33.8,49.6 L35.1,48.4 L36.5,47.3 L37.9,46.2 L39.4,45.1 L40.9,44.1 L42.4,43.0 L44.0,42.0 L45.6,41.0 L47.3,40.0 L48.9,39.0 L50.7,38.0 L52.4,37.1 L54.2,36.2 L56.1,35.3 L58.0,34.4 L59.9,33.5 L61.9,32.8 L64.0,32.0 L66.1,31.3 L68.3,30.6 L70.5,29.9 L72.8,29.3 L75.2,28.7 L77.6,28.2 L80.0,27.6 L82.5,27.2 L84.9,26.7 L87.5,26.3 L90.0,26.0 L92.6,25.7 L95.2,25.4 L97.9,25.2 L100.6,25.0 L103.4,24.9 L106.1,24.8 L108.9,24.7 L111.7,24.7 L114.5,24.7 L117.3,24.8 L120.0,25.0 L122.8,25.2 L125.9,25.6 L129.0,26.1 L132.2,26.6 L135.3,27.1 L138.4,27.7 L141.3,28.3 L144.0,28.8 L146.4,29.3 L148.4,29.7 L150.0,30.0" fill="none" stroke="#111" stroke-width="0.9" stroke-linecap="round"/><path d="M69.4,32.0 L72.8,29.3 L68.5,28.7 M115.9,26.5 L120.0,25.0 L116.1,23.1" fill="none" stroke="#111" stroke-width="0.9"/><path d="M15.8,81.1 L15.8,80.4 L16.0,79.7 L16.3,79.0 L16.7,78.3 L17.8,77.0 L19.3,75.7 L21.3,74.4 L23.6,73.2 L26.4,72.0 L29.6,71.0 L33.1,70.0 L36.6,69.2 L40.7,68.4 L44.7,67.8 L48.9,67.3 L53.3,67.0 L57.9,66.7 L62.6,66.6 L71.4,66.7 L80.9,67.2 L91.2,68.0 L102.5,69.3 L114.0,71.0 L127.2,73.1 L142.0,75.8 L160.6,79.3 L142.1,83.3 L127.4,86.3 L114.2,88.8 L102.8,90.7 L91.5,92.3 L81.2,93.4 L71.7,94.1 L63.0,94.4 L58.2,94.4 L53.7,94.3 L49.2,94.0 L45.0,93.7 L41.0,93.2 L36.8,92.5 L33.4,91.8 L29.8,90.9 L26.6,89.9 L23.8,88.8 L21.4,87.7 L19.4,86.5 L17.9,85.2 L16.7,83.9 L16.3,83.2 L16.0,82.5 L15.9,81.8 L15.8,81.1Z" fill="#fff" stroke="#222" stroke-width="0.8"/>
</g>
<rect x="0" y="0" width="1" height="130.4" fill="#8c8c8c"/>
<rect x="175.2" y="0" width="0.9" height="130.4" fill="#d4d4dc"/>
<rect x="1" y="130.4" width="175.2" height="0.8" fill="#dcdce4"/>
</g>
<g transform="translate(137,157)"><g clip-path="url(#cp_r2c1)">
<rect x="0" y="0" width="175.5" height="131" fill="#fff"/><path d="M45.0,45.8 L46.5,45.8 L47.0,46.3 L49.5,46.3 L50.0,46.8 L51.0,46.8 L51.5,47.3 L52.0,47.3 L53.7,49.0 L53.7,51.5 L52.0,53.2 L51.5,53.2 L51.0,53.7 L50.5,53.7 L50.0,54.2 L49.0,54.2 L48.5,54.7 L45.5,54.7 L45.0,55.2 L43.5,55.2 L43.0,54.7 L40.5,54.7 L40.0,54.2 L39.0,54.2 L38.5,53.7 L38.0,53.7 L36.3,52.0 L36.3,49.5 L38.0,47.8 L38.5,47.8 L39.0,47.3 L39.5,47.3 L40.0,46.8 L41.0,46.8 L41.5,46.3 L44.5,46.3 L45.0,45.8Z" fill="#3876ff" fill-rule="evenodd"/><path d="M43.0,44.8 L47.0,44.8 L47.5,45.3 L51.5,45.3 L52.0,45.8 L53.5,45.8 L54.0,46.3 L55.0,46.3 L55.5,46.8 L56.5,46.8 L57.0,47.3 L57.5,47.3 L59.7,49.5 L59.7,52.0 L57.0,54.7 L56.5,54.7 L56.0,55.2 L55.5,55.2 L55.0,55.7 L54.0,55.7 L53.5,56.2 L52.5,56.2 L52.0,56.7 L51.0,56.7 L50.5,57.2 L48.0,57.2 L47.5,57.7 L43.5,57.7 L43.0,58.2 L39.0,58.2 L38.5,57.7 L34.0,57.7 L33.7,58.0 L33.7,58.5 L30.5,61.6 L30.0,61.6 L29.0,62.6 L28.5,62.6 L28.0,63.1 L27.5,63.1 L27.0,63.6 L26.0,63.6 L25.5,64.0 L22.0,64.0 L21.4,63.5 L21.4,61.5 L21.9,61.0 L21.9,60.5 L22.4,60.0 L22.4,59.5 L25.5,56.3 L26.0,56.3 L27.0,55.3 L27.5,55.3 L27.8,55.0 L26.3,53.5 L26.3,51.0 L29.0,48.3 L29.5,48.3 L30.0,47.8 L30.5,47.8 L31.0,47.3 L32.0,47.3 L32.5,46.8 L33.5,46.8 L34.0,46.3 L35.0,46.3 L35.5,45.8 L38.0,45.8 L38.5,45.3 L42.5,45.3 L43.0,44.8Z M44.8,46.0 L44.5,46.3 L41.5,46.3 L41.0,46.8 L40.0,46.8 L39.5,47.3 L39.0,47.3 L38.5,47.8 L38.0,47.8 L36.3,49.5 L36.3,52.0 L38.0,53.7 L38.5,53.7 L39.0,54.2 L40.0,54.2 L40.5,54.7 L43.0,54.7 L43.5,55.2 L45.0,55.2 L45.5,54.7 L48.5,54.7 L49.0,54.2 L50.0,54.2 L50.5,53.7 L51.0,53.7 L51.5,53.2 L52.0,53.2 L53.7,51.5 L53.7,49.0 L52.0,47.3 L51.5,47.3 L51.0,46.8 L50.0,46.8 L49.5,46.3 L47.0,46.3 L46.5,45.8 L45.0,45.8 L44.8,46.0Z" fill="#38adff" fill-rule="evenodd"/><path d="M50.0,28.5 L52.0,28.6 L53.7,29.0 L55.5,29.6 L57.1,30.5 L58.5,31.6 L59.8,33.0 L60.5,33.5 L61.0,33.5 L62.0,34.5 L62.5,34.5 L65.9,38.0 L65.9,38.5 L66.9,39.5 L66.8,40.0 L67.3,40.5 L67.3,41.5 L67.8,42.0 L67.8,47.5 L67.3,48.0 L67.2,49.0 L66.7,49.5 L66.7,50.0 L66.2,50.5 L66.2,51.0 L64.7,52.5 L64.7,53.0 L63.0,54.7 L62.5,54.7 L60.5,56.7 L60.0,56.7 L59.5,57.2 L59.0,57.2 L58.0,58.2 L57.5,58.2 L57.0,58.7 L56.5,58.7 L56.0,59.1 L55.0,59.1 L54.5,59.6 L54.0,59.6 L53.5,60.1 L52.0,60.1 L51.5,60.6 L50.5,60.6 L50.0,61.1 L48.0,61.1 L47.5,61.6 L44.0,61.6 L43.5,62.1 L38.5,62.1 L38.0,61.6 L34.5,61.6 L34.0,61.1 L32.5,61.1 L32.0,60.6 L31.5,60.7 L30.5,61.7 L30.0,61.7 L29.0,62.7 L28.5,62.7 L28.0,63.2 L27.5,63.2 L27.0,63.7 L26.0,63.7 L25.5,64.2 L22.0,64.2 L21.3,63.5 L21.3,61.5 L21.8,61.0 L21.8,60.5 L22.3,60.0 L22.3,59.5 L24.3,57.5 L24.0,57.1 L23.5,57.1 L20.4,54.0 L20.4,53.5 L19.4,52.5 L19.4,52.0 L18.9,51.5 L18.9,50.5 L18.4,50.0 L18.4,44.5 L18.9,44.0 L18.9,43.0 L19.4,42.5 L19.4,42.0 L19.9,41.5 L19.9,41.0 L21.3,39.5 L21.3,39.0 L23.0,37.3 L23.5,37.3 L25.5,35.3 L26.0,35.3 L26.5,34.8 L27.0,34.8 L28.0,33.8 L28.5,33.8 L29.0,33.3 L29.5,33.2 L30.0,32.7 L31.0,32.7 L31.5,32.2 L32.0,32.2 L32.5,31.7 L34.0,31.7 L34.5,31.2 L35.5,31.1 L36.0,30.6 L38.0,30.6 L38.5,30.1 L42.0,30.0 L42.5,29.5 L44.8,29.5 L47.5,28.7 L50.0,28.5Z M42.8,45.0 L42.5,45.3 L38.5,45.3 L38.0,45.8 L35.5,45.8 L35.0,46.3 L34.0,46.3 L33.5,46.8 L32.5,46.8 L32.0,47.3 L31.0,47.3 L30.5,47.8 L30.0,47.8 L29.5,48.3 L29.0,48.3 L26.3,51.0 L26.3,53.5 L27.8,55.0 L27.5,55.3 L27.0,55.3 L26.0,56.3 L25.5,56.3 L22.4,59.5 L22.4,60.0 L21.9,60.5 L21.9,61.0 L21.4,61.5 L21.4,63.5 L22.0,64.0 L25.5,64.0 L26.0,63.6 L27.0,63.6 L27.5,63.1 L28.0,63.1 L28.5,62.6 L29.0,62.6 L30.0,61.6 L30.5,61.6 L33.7,58.5 L33.7,58.0 L34.0,57.7 L38.5,57.7 L39.0,58.2 L43.0,58.2 L43.5,57.7 L47.5,57.7 L48.0,57.2 L50.5,57.2 L51.0,56.7 L52.0,56.7 L52.5,56.2 L53.5,56.2 L54.0,55.7 L55.0,55.7 L55.5,55.2 L56.0,55.2 L56.5,54.7 L57.0,54.7 L59.7,52.0 L59.7,49.5 L57.5,47.3 L57.0,47.3 L56.5,46.8 L55.5,46.8 L55.0,46.3 L54.0,46.3 L53.5,45.8 L52.0,45.8 L51.5,45.3 L47.5,45.3 L47.0,44.8 L43.0,44.8 L42.8,45.0Z" fill="#38ecff" fill-rule="evenodd"/><path d="M45.0,15.4 L48.5,15.1 L52.5,15.2 L56.0,15.6 L59.5,16.4 L63.0,17.7 L66.0,19.2 L69.0,21.2 L71.5,23.4 L73.7,26.0 L75.4,28.5 L76.7,31.5 L77.5,34.4 L77.8,37.5 L77.7,40.5 L77.0,43.4 L76.0,45.9 L74.5,48.5 L73.0,50.3 L71.3,52.0 L69.0,53.7 L66.8,55.0 L64.5,56.0 L61.6,57.0 L59.0,57.6 L58.0,58.5 L57.5,58.5 L57.0,59.0 L56.5,59.0 L56.0,59.4 L55.0,59.4 L54.5,59.9 L54.0,59.9 L53.5,60.4 L52.0,60.4 L51.5,60.9 L50.5,60.9 L50.0,61.4 L48.0,61.4 L47.5,61.8 L44.0,61.8 L43.5,62.3 L38.5,62.3 L38.0,61.8 L34.5,61.8 L34.0,61.3 L32.5,61.3 L32.0,60.8 L31.5,60.9 L30.5,61.8 L30.0,61.8 L29.0,62.8 L28.5,62.8 L28.0,63.3 L27.5,63.3 L27.0,63.8 L26.0,63.8 L25.5,64.3 L22.0,64.3 L21.2,63.5 L21.2,61.5 L21.7,61.0 L21.7,60.5 L22.2,60.0 L22.2,59.5 L24.1,57.5 L24.0,57.3 L23.5,57.3 L20.2,54.0 L20.2,53.5 L19.2,52.5 L19.2,52.0 L18.7,51.5 L18.7,50.5 L18.2,50.0 L18.1,44.5 L18.6,44.0 L18.6,43.0 L19.1,42.5 L19.1,42.0 L19.6,41.5 L19.6,41.0 L21.0,39.5 L21.0,39.0 L22.0,38.0 L22.7,33.5 L24.1,29.5 L25.6,27.0 L27.5,24.5 L30.0,22.0 L32.5,20.2 L35.5,18.4 L38.5,17.1 L41.5,16.2 L45.0,15.4Z M49.5,28.5 L47.0,28.8 L44.8,29.5 L42.5,29.5 L42.0,30.0 L38.5,30.1 L38.0,30.6 L36.0,30.6 L35.5,31.1 L34.5,31.2 L34.0,31.7 L32.5,31.7 L32.0,32.2 L31.5,32.2 L31.0,32.7 L30.0,32.7 L29.5,33.2 L29.0,33.3 L28.5,33.8 L28.0,33.8 L27.0,34.8 L26.5,34.8 L26.0,35.3 L25.5,35.3 L23.5,37.3 L23.0,37.3 L21.3,39.0 L21.3,39.5 L19.9,41.0 L19.9,41.5 L19.4,42.0 L19.4,42.5 L18.9,43.0 L18.9,44.0 L18.4,44.5 L18.4,50.0 L18.9,50.5 L18.9,51.5 L19.4,52.0 L19.4,52.5 L20.4,53.5 L20.4,54.0 L23.5,57.1 L24.0,57.1 L24.3,57.5 L22.3,59.5 L22.3,60.0 L21.8,60.5 L21.8,61.0 L21.3,61.5 L21.3,63.5 L22.0,64.2 L25.5,64.2 L26.0,63.7 L27.0,63.7 L27.5,63.2 L28.0,63.2 L28.5,62.7 L29.0,62.7 L30.0,61.7 L30.5,61.7 L31.5,60.7 L32.0,60.6 L32.5,61.1 L34.0,61.1 L34.5,61.6 L38.0,61.6 L38.5,62.1 L43.5,62.1 L44.0,61.6 L47.5,61.6 L48.0,61.1 L50.0,61.1 L50.5,60.6 L51.5,60.6 L52.0,60.1 L53.5,60.1 L54.0,59.6 L54.5,59.6 L55.0,59.1 L56.0,59.1 L56.5,58.7 L57.0,58.7 L57.5,58.2 L58.0,58.2 L59.0,57.2 L59.5,57.2 L60.0,56.7 L60.5,56.7 L62.5,54.7 L63.0,54.7 L64.7,53.0 L64.7,52.5 L66.2,51.0 L66.2,50.5 L66.7,50.0 L66.7,49.5 L67.2,49.0 L67.3,48.0 L67.8,47.5 L67.8,42.0 L67.3,41.5 L67.3,40.5 L66.8,40.0 L66.9,39.5 L65.9,38.5 L65.9,38.0 L62.5,34.5 L62.0,34.5 L61.0,33.5 L60.5,33.5 L59.8,33.0 L58.5,31.6 L57.1,30.5 L55.2,29.5 L53.5,28.9 L51.5,28.6 L49.5,28.5Z" fill="#38ffd4" fill-rule="evenodd"/><path d="M47.5,5.0 L52.0,5.0 L57.0,5.4 L61.5,6.3 L66.5,7.8 L70.5,9.6 L74.5,11.8 L78.3,14.5 L81.5,17.5 L84.4,21.0 L86.6,24.5 L88.2,28.0 L89.4,32.0 L90.0,36.0 L90.0,40.0 L89.3,44.0 L88.1,47.5 L86.8,50.0 L85.4,52.0 L83.6,54.0 L81.1,56.0 L78.6,57.5 L75.4,59.0 L69.0,61.1 L65.0,62.0 L60.0,62.8 L55.0,63.2 L50.0,63.4 L45.5,63.3 L41.0,62.9 L34.5,62.0 L31.5,61.3 L30.5,62.0 L30.0,62.0 L29.0,62.9 L28.5,62.9 L28.0,63.4 L27.5,63.4 L27.0,63.9 L26.0,63.9 L25.5,64.4 L22.0,64.4 L21.1,63.5 L21.1,61.5 L21.6,61.0 L21.5,60.5 L22.0,60.0 L22.0,59.5 L22.9,58.5 L18.6,56.0 L16.7,54.5 L15.3,53.0 L13.7,51.0 L12.5,49.0 L11.6,47.0 L10.7,44.5 L10.0,40.5 L9.9,36.0 L10.6,31.5 L12.1,27.0 L14.5,22.5 L17.6,18.5 L21.1,15.0 L25.5,11.8 L30.0,9.3 L35.5,7.2 L41.5,5.7 L47.5,5.0Z M44.6,15.5 L41.0,16.3 L38.0,17.3 L35.0,18.7 L32.0,20.5 L29.5,22.5 L27.0,25.0 L25.2,27.5 L23.9,30.0 L22.7,33.5 L22.0,38.0 L21.0,39.0 L21.0,39.5 L19.6,41.0 L19.6,41.5 L19.1,42.0 L19.1,42.5 L18.6,43.0 L18.6,44.0 L18.1,44.5 L18.2,50.0 L18.7,50.5 L18.7,51.5 L19.2,52.0 L19.2,52.5 L20.2,53.5 L20.2,54.0 L23.5,57.3 L24.0,57.3 L24.1,57.5 L22.2,59.5 L22.2,60.0 L21.7,60.5 L21.7,61.0 L21.2,61.5 L21.2,63.5 L22.0,64.3 L25.5,64.3 L26.0,63.8 L27.0,63.8 L27.5,63.3 L28.0,63.3 L28.5,62.8 L29.0,62.8 L30.0,61.8 L30.5,61.8 L31.5,60.9 L32.0,60.8 L32.5,61.3 L34.0,61.3 L34.5,61.8 L38.0,61.8 L38.5,62.3 L43.5,62.3 L44.0,61.8 L47.5,61.8 L48.0,61.4 L50.0,61.4 L50.5,60.9 L51.5,60.9 L52.0,60.4 L53.5,60.4 L54.0,59.9 L54.5,59.9 L55.0,59.4 L56.0,59.4 L56.5,59.0 L57.0,59.0 L57.5,58.5 L58.0,58.5 L59.0,57.6 L61.6,57.0 L64.5,56.0 L66.8,55.0 L69.0,53.7 L71.3,52.0 L73.3,50.0 L74.8,48.0 L76.2,45.5 L77.1,43.0 L77.7,40.0 L77.8,37.0 L77.4,34.0 L76.5,31.0 L75.1,28.0 L73.4,25.5 L71.1,23.0 L68.5,20.8 L65.5,18.9 L62.5,17.5 L59.0,16.3 L55.5,15.5 L52.0,15.1 L48.5,15.1 L44.6,15.5Z" fill="#38ff8e" fill-rule="evenodd"/><path d="M-1.5,-2.0 L120.3,-2.0 L118.6,1.0 L117.2,4.0 L115.9,7.5 L115.0,10.8 L114.4,14.0 L114.0,17.5 L114.0,21.0 L114.2,24.5 L115.4,30.5 L117.2,36.0 L120.2,42.0 L126.2,51.5 L127.0,53.5 L127.0,54.5 L126.8,55.5 L125.5,57.0 L123.8,58.0 L121.1,59.0 L116.4,60.0 L110.5,60.7 L92.5,61.9 L68.6,65.5 L56.5,66.6 L49.5,66.8 L43.0,66.6 L25.5,64.6 L22.0,64.5 L21.5,64.2 L9.0,62.8 L-2.0,62.2 L-2.0,-2.0 L-1.5,-2.0Z M47.3,5.0 L41.5,5.7 L35.5,7.2 L30.0,9.3 L25.5,11.8 L21.1,15.0 L17.6,18.5 L14.5,22.5 L12.1,27.0 L10.6,31.5 L9.9,36.0 L10.0,40.5 L10.7,44.5 L11.6,47.0 L12.5,49.0 L13.7,51.0 L15.3,53.0 L16.7,54.5 L18.6,56.0 L22.9,58.5 L22.0,59.5 L22.0,60.0 L21.5,60.5 L21.6,61.0 L21.1,61.5 L21.1,63.5 L22.0,64.4 L25.5,64.4 L26.0,63.9 L27.0,63.9 L27.5,63.4 L28.0,63.4 L28.5,62.9 L29.0,62.9 L30.0,62.0 L30.5,62.0 L31.5,61.3 L34.5,62.0 L41.0,62.9 L45.5,63.3 L50.0,63.4 L55.0,63.2 L60.0,62.8 L65.0,62.0 L69.0,61.1 L75.4,59.0 L78.6,57.5 L81.1,56.0 L83.6,54.0 L85.4,52.0 L86.8,50.0 L88.1,47.5 L89.3,44.0 L90.0,40.0 L90.0,36.0 L89.4,32.0 L88.2,28.0 L86.6,24.5 L84.4,21.0 L81.5,17.5 L78.3,14.5 L74.5,11.8 L70.5,9.6 L66.5,7.8 L61.5,6.3 L57.0,5.4 L52.0,5.0 L47.3,5.0Z" fill="#38ff50" fill-rule="evenodd"/><path d="M120.5,-2.0 L177.0,-2.0 L177.0,36.6 L175.5,36.2 L174.0,36.1 L172.5,36.3 L171.0,36.7 L169.5,37.4 L168.0,38.5 L165.6,41.0 L164.0,43.9 L163.0,47.0 L162.5,50.5 L162.2,56.5 L161.8,58.5 L161.4,59.5 L160.5,60.8 L158.5,62.3 L156.5,63.2 L153.5,64.0 L145.5,64.8 L120.0,66.4 L87.5,67.3 L64.0,69.2 L55.5,69.7 L49.5,69.8 L44.0,69.5 L25.5,67.4 L23.0,67.4 L15.5,68.0 L-2.0,67.9 L-2.0,62.2 L9.0,62.8 L21.5,64.2 L22.0,64.5 L25.5,64.6 L42.5,66.5 L48.0,66.8 L54.5,66.7 L61.0,66.3 L68.0,65.6 L93.0,61.8 L110.0,60.7 L115.0,60.2 L121.1,59.0 L124.8,57.5 L126.1,56.5 L126.8,55.5 L127.0,54.5 L126.8,53.0 L125.7,50.5 L119.9,41.5 L117.4,36.5 L116.3,33.5 L115.2,30.0 L114.5,26.5 L114.1,23.0 L114.0,19.5 L114.1,16.5 L114.5,13.0 L115.2,10.0 L116.2,6.5 L117.4,3.5 L119.1,0.0 L120.3,-2.0 L120.5,-2.0Z" fill="#57ff38" fill-rule="evenodd"/><path d="M172.0,36.4 L174.5,36.1 L177.0,36.6 L177.0,61.2 L175.5,60.3 L174.5,60.4 L169.7,64.0 L167.2,65.5 L163.5,67.1 L159.0,68.3 L153.5,69.1 L145.5,69.6 L120.5,70.6 L86.0,71.3 L54.5,73.0 L49.0,73.0 L44.0,72.5 L34.0,71.0 L28.0,69.5 L25.5,69.2 L22.5,69.5 L17.0,71.1 L14.0,71.6 L9.5,71.9 L-2.0,72.0 L-2.0,67.9 L15.5,68.0 L23.0,67.4 L25.5,67.4 L43.5,69.5 L48.5,69.8 L54.0,69.7 L63.5,69.3 L88.5,67.3 L116.0,66.6 L127.5,66.0 L148.0,64.6 L154.0,63.9 L156.5,63.2 L158.5,62.3 L160.0,61.3 L161.1,60.0 L161.8,58.5 L162.1,57.0 L162.5,50.5 L162.8,48.0 L163.4,45.5 L164.2,43.5 L165.6,41.0 L167.5,38.9 L169.5,37.4 L172.0,36.4Z" fill="#96ff38" fill-rule="evenodd"/><path d="M174.5,60.4 L175.5,60.3 L177.0,61.2 L177.0,70.3 L174.5,70.2 L172.0,70.6 L161.0,73.8 L154.0,74.9 L147.5,75.4 L128.0,76.2 L85.0,77.0 L60.0,78.2 L53.5,78.3 L51.0,78.1 L48.5,77.7 L40.0,75.3 L33.5,73.8 L32.0,73.3 L28.0,71.3 L26.5,70.9 L25.0,70.8 L23.5,70.9 L21.9,71.5 L17.0,75.1 L15.0,75.9 L12.5,76.7 L9.5,77.2 L7.0,77.5 L-2.0,77.7 L-2.0,72.0 L9.5,71.9 L14.0,71.6 L17.0,71.1 L22.0,69.6 L24.5,69.2 L27.5,69.4 L33.5,70.9 L43.0,72.4 L47.5,72.9 L52.0,73.0 L61.0,72.8 L85.5,71.3 L123.0,70.6 L146.5,69.6 L153.5,69.1 L160.0,68.1 L165.1,66.5 L168.9,64.5 L174.5,60.4Z" fill="#c8f83c" fill-rule="evenodd"/><path d="M172.5,70.5 L175.0,70.2 L177.0,70.3 L177.0,132.5 L-2.0,132.5 L-2.0,77.7 L7.0,77.5 L9.5,77.2 L12.5,76.7 L15.0,75.9 L17.0,75.1 L21.9,71.5 L23.5,70.9 L25.0,70.8 L26.5,70.9 L28.0,71.3 L32.0,73.3 L33.5,73.8 L40.0,75.3 L47.5,77.4 L51.0,78.1 L55.0,78.4 L84.5,77.0 L123.5,76.3 L150.5,75.2 L155.5,74.8 L159.5,74.1 L172.5,70.5Z M23.7,73.0 L23.1,73.5 L22.4,74.5 L22.2,75.5 L22.3,77.5 L22.1,78.5 L21.4,79.5 L18.5,82.5 L17.2,85.0 L16.9,86.5 L16.8,88.5 L17.1,90.5 L17.7,92.5 L19.1,95.0 L20.8,97.0 L22.7,98.5 L25.0,99.8 L27.5,100.5 L30.0,100.8 L32.5,100.5 L35.0,99.8 L37.3,98.5 L39.2,97.0 L40.9,95.0 L42.0,93.1 L42.8,91.0 L43.2,88.5 L43.0,86.5 L42.4,84.5 L41.0,82.3 L38.8,80.5 L36.5,79.4 L31.5,77.9 L30.0,77.2 L29.4,76.5 L27.9,74.0 L27.0,73.2 L25.5,72.7 L24.5,72.7 L23.7,73.0Z" fill="#f6f23a" fill-rule="evenodd"/><path d="M24.0,72.9 L25.0,72.7 L26.0,72.8 L27.5,73.5 L28.3,74.5 L29.5,76.7 L30.5,77.5 L36.5,79.4 L38.8,80.5 L40.2,81.5 L41.2,82.5 L42.5,84.7 L43.0,86.5 L43.1,89.0 L42.6,91.5 L41.8,93.5 L40.5,95.5 L39.0,97.2 L37.0,98.7 L35.0,99.8 L32.5,100.5 L30.0,100.8 L27.5,100.5 L25.0,99.8 L22.7,98.5 L20.8,97.0 L19.1,95.0 L17.7,92.5 L17.1,90.5 L16.8,88.5 L16.9,86.5 L17.2,85.0 L18.5,82.5 L22.0,78.7 L22.3,77.5 L22.2,75.5 L22.4,74.5 L23.1,73.5 L24.0,72.9Z" fill="#fcc83e" fill-rule="evenodd"/><path d="M170.4,139.0 L183.5,135.7 M150.0,139.0 L183.5,130.6 M129.1,139.0 L183.5,125.6 M107.6,139.0 L183.5,120.5 M86.1,139.0 L183.5,115.5 M65.4,139.0 L78.1,135.5 L93.0,131.8 L149.5,118.6 L183.5,110.4 M46.7,139.0 L63.0,133.9 L81.5,129.0 L147.0,114.1 L183.5,105.4 M30.3,139.0 L40.5,135.2 L50.5,131.8 L60.5,128.8 L71.5,125.8 L89.5,121.6 L145.0,109.5 L183.5,100.4 M15.8,139.0 L29.5,133.3 L41.0,128.9 L52.0,125.2 L63.5,122.0 L82.5,117.5 L142.5,105.0 L183.5,95.4 M2.5,139.0 L20.5,130.9 L33.5,125.4 L45.0,121.3 L57.0,117.7 L76.0,113.2 L117.5,105.2 L139.5,100.6 L159.0,96.2 L183.5,90.3 M-8.0,138.1 L16.0,126.7 L29.0,120.9 L40.5,116.4 L52.0,112.8 L60.5,110.6 L70.5,108.5 L112.5,100.9 L136.0,96.3 L157.0,91.7 L183.5,85.3 M-8.0,132.3 L17.5,119.6 L28.5,114.5 L39.0,110.2 L49.0,107.1 L56.5,105.3 L65.0,103.6 L106.0,96.9 L131.0,92.3 L155.0,87.2 L183.5,80.2 M-8.0,126.4 L28.0,107.7 L37.0,103.9 L45.5,101.2 L52.0,99.6 L59.5,98.3 L99.5,92.8 L126.0,88.3 L153.5,82.6 L183.5,75.2 M-8.0,120.4 L28.0,100.2 L35.0,97.0 L42.0,94.7 L47.0,93.6 L53.0,92.6 L92.0,88.5 L106.0,86.6 L120.0,84.4 L136.5,81.3 L153.0,77.8 L183.5,70.1 M-8.0,114.4 L7.8,105.0 L28.5,91.4 L33.5,88.8 L38.0,87.3 L42.0,86.5 L47.0,86.0 L71.0,85.0 L85.5,83.9 L98.5,82.6 L112.0,80.7 L131.5,77.3 L153.5,72.9 L161.5,71.0 L173.0,67.5 L183.5,65.0 M60.2,55.5 L61.0,55.5 M84.9,55.4 L86.3,55.5 M53.9,56.0 L54.0,56.0 M93.5,56.0 L94.0,56.0 M49.4,56.5 L49.5,56.5 M99.5,56.5 L99.7,56.5 M45.9,57.0 L46.0,57.0 M104.5,57.0 L104.6,57.0 M42.9,57.5 L43.0,57.5 M108.4,57.4 L109.0,57.5 M40.3,58.0 L40.5,58.0 M112.4,57.9 L113.0,58.0 M116.5,58.5 L116.7,58.5 M120.0,59.0 L120.2,59.0 M123.5,59.5 L123.6,59.5 M161.6,66.1 L162.3,66.0 L164.0,64.8 L167.5,63.6 L183.5,59.9 M126.4,59.9 L126.8,60.0 M28.4,61.5 L28.6,61.4 M135.4,61.4 L135.8,61.5 M138.5,62.0 L138.7,62.0 M143.9,62.9 L144.3,63.0 M147.0,63.5 L147.0,63.5 M149.4,63.9 L149.7,64.0 M151.5,68.5 L151.5,68.5 M149.0,69.0 L149.1,69.0 M146.5,69.5 L146.6,69.5 M144.0,70.0 L144.2,70.0 M141.5,70.5 L141.7,70.5 M139.0,71.0 L139.1,71.0 M136.5,71.5 L136.6,71.5 M128.5,73.0 L128.6,73.0 M125.4,73.6 L125.8,73.5 M-8.0,108.4 L-0.2,103.5 L6.5,99.0 L12.5,94.5 L17.3,90.5 L21.4,86.5 L24.9,82.5 L27.6,78.5 L29.6,74.5 M120.0,74.5 L120.0,74.5 M113.5,75.5 L113.7,75.5 M109.9,76.1 L110.3,76.0 M37.9,76.5 L38.0,76.5 M106.5,76.5 L106.7,76.5 M40.4,77.0 L40.5,77.0 M102.5,77.0 L102.8,77.0 M43.3,77.5 L43.5,77.5 M97.9,77.6 L98.6,77.5 M46.8,78.0 L47.0,78.0 M93.5,78.0 L93.7,78.0 M51.2,78.5 L51.5,78.5 M87.5,78.5 L88.0,78.5 M57.8,79.0 L58.5,79.0 M78.9,79.1 L80.1,79.0 M-8.0,101.7 L-0.4,96.5 L6.0,91.6 L11.0,87.0 L14.5,83.0 L16.5,80.0 L17.7,77.5 L18.4,74.5 L19.1,67.5 L19.9,65.5 L21.5,63.4 L24.0,61.4 L28.0,59.2 L33.0,57.2 L38.5,55.7 L48.0,53.8 L59.0,52.5 L71.0,51.8 L83.5,51.8 L95.0,52.3 L107.0,53.2 L120.5,54.6 L147.5,57.8 L157.5,58.4 L161.5,58.2 L165.5,57.7 L183.5,54.3 M-8.0,95.0 L-3.0,91.3 L1.5,87.7 L5.5,84.0 L8.5,80.8 L10.7,78.0 L12.5,75.1 L17.3,65.0 L18.7,63.0 L20.7,61.0 L24.0,58.6 L28.5,56.2 L34.0,54.2 L40.5,52.3 L48.0,50.8 L56.5,49.6 L65.5,48.7 L75.5,48.3 L88.0,48.2 L101.5,48.7 L115.0,49.6 L142.5,51.9 L153.5,52.4 L159.5,52.2 L165.5,51.7 L183.5,48.7 M-8.0,88.3 L-1.4,83.0 L4.0,77.8 L8.1,73.0 L15.2,63.0 L17.4,60.5 L20.0,58.2 L24.5,55.3 L29.5,52.9 L35.5,50.8 L42.5,48.9 L50.0,47.4 L58.0,46.2 L67.0,45.3 L76.5,44.7 L87.5,44.5 L100.0,44.7 L139.5,46.6 L152.0,46.8 L159.0,46.5 L166.0,45.9 L183.5,43.3 M-8.0,72.9 L-2.0,67.8 L10.6,56.5 L15.0,53.1 L19.0,50.5 L24.5,47.6 L31.0,44.8 L38.5,42.3 L46.5,40.3 L53.5,38.9 L61.0,37.7 L78.0,36.0 L98.0,35.1 L135.5,34.7 L149.5,34.3 L165.5,33.0 L183.5,30.4 M-8.0,59.3 L8.0,48.0 L14.0,44.4 L20.0,41.3 L27.0,38.2 L34.0,35.6 L42.0,33.3 L50.5,31.2 L64.5,28.7 L80.0,26.7 L97.5,25.3 L133.5,23.4 L148.5,22.3 L165.5,20.5 L183.5,17.9 M-8.0,47.3 L0.8,42.0 L8.0,38.0 L14.5,34.7 L21.5,31.6 L29.0,28.7 L36.5,26.2 L44.5,24.0 L53.0,22.0 L66.5,19.4 L82.0,17.1 L98.5,15.3 L148.5,10.6 L166.0,8.4 L183.5,5.6 M-8.0,36.1 L8.0,28.0 L22.5,21.9 L30.0,19.2 L38.0,16.7 L55.0,12.4 L68.5,9.7 L84.0,7.2 L149.0,-1.0 L166.0,-3.6 L183.5,-6.5 M-8.0,25.2 L5.6,19.0 L18.5,13.8 L31.5,9.3 L45.5,5.3 L60.0,1.8 L76.0,-1.4 L94.0,-4.4 L118.1,-8.0 M-8.0,14.5 L8.8,7.5 L25.0,1.7 L42.0,-3.5 L59.9,-8.0 M-8.0,3.8 L8.0,-2.5 L23.8,-8.0 M-8.0,-7.0 L-5.4,-8.0" fill="none" stroke="#111" stroke-width="0.9" stroke-linejoin="round"/><path d="M168.0,136.7 L172.3,133.4 L167.0,132.6 M167.7,131.7 L172.1,128.4 L166.7,127.6 M137.8,133.8 L142.2,130.6 L136.8,129.8 M167.5,126.6 L171.8,123.4 L166.5,122.6 M103.0,136.9 L107.3,133.7 L102.0,132.8 M137.5,128.7 L141.9,125.5 L136.6,124.6 M167.2,121.6 L171.6,118.4 L166.2,117.6 M102.7,131.6 L107.1,128.4 L101.7,127.5 M137.3,123.6 L141.7,120.5 L136.3,119.6 M167.0,116.6 L171.3,113.4 L166.0,112.6 M66.0,135.2 L70.2,131.9 L64.9,131.2 M102.4,126.3 L106.8,123.2 L101.5,122.2 M137.0,118.6 L141.4,115.4 L136.1,114.5 M166.7,111.6 L171.1,108.4 L165.7,107.6 M65.6,129.5 L70.0,126.2 L64.6,125.4 M102.1,121.0 L106.5,117.9 L101.2,116.9 M136.8,113.5 L141.2,110.4 L135.8,109.4 M166.5,106.7 L170.8,103.4 L165.5,102.6 M32.7,134.2 L36.7,130.5 L31.3,130.2 M65.3,123.7 L69.7,120.5 L64.3,119.6 M101.8,115.7 L106.3,112.6 L101.0,111.6 M136.5,108.5 L140.9,105.3 L135.6,104.4 M166.2,101.7 L170.6,98.5 L165.2,97.6 M32.4,128.1 L36.4,124.3 L30.9,124.1 M65.0,117.8 L69.4,114.7 L64.0,113.7 M101.5,110.4 L106.0,107.4 L100.7,106.3 M136.2,103.5 L140.7,100.3 L135.3,99.4 M166.0,96.7 L170.3,93.5 L165.0,92.6 M32.1,121.8 L36.1,118.0 L30.6,117.8 M64.6,111.8 L69.1,108.8 L63.8,107.7 M101.2,105.1 L105.8,102.2 L100.5,101.0 M136.0,98.5 L140.4,95.4 L135.1,94.4 M165.7,91.8 L170.1,88.6 L164.7,87.7 M31.8,115.2 L35.7,111.4 L30.3,111.3 M64.2,105.8 L68.8,102.9 L63.5,101.7 M100.9,99.9 L105.5,97.0 L100.2,95.8 M135.7,93.5 L140.2,90.4 L134.8,89.4 M165.5,86.8 L169.8,83.6 L164.5,82.8 M31.5,108.3 L35.4,104.5 L30.0,104.4 M63.8,99.7 L68.5,97.0 L63.3,95.6 M100.6,94.7 L105.2,91.9 L100.0,90.6 M135.5,88.6 L139.9,85.5 L134.6,84.5 M165.3,81.9 L169.6,78.7 L164.2,77.9 M31.1,100.8 L35.0,97.0 L29.6,96.9 M63.4,93.6 L68.2,91.0 L63.0,89.4 M100.3,89.6 L105.0,86.8 L99.7,85.4 M135.2,83.7 L139.7,80.6 L134.4,79.6 M165.1,77.0 L169.3,73.7 L164.0,73.0 M30.6,92.1 L34.6,88.4 L29.1,88.1 M63.0,87.5 L67.9,85.1 L62.8,83.3 M100.1,84.5 L104.7,81.8 L99.5,80.4 M134.9,78.8 L139.4,75.8 L134.1,74.7 M164.9,72.0 L169.1,68.6 L163.7,68.0 M164.5,66.5 L168.8,63.2 L163.4,62.5 M24.9,62.8 L28.6,58.9 L23.2,58.9 M57.1,54.7 L62.0,52.2 L56.8,50.5 M88.8,54.0 L94.0,52.2 L89.1,49.8 M118.2,56.4 L123.4,54.9 L118.7,52.2 M152.7,60.6 L157.7,58.4 L152.7,56.4 M25.4,59.8 L29.2,55.9 L23.8,55.9 M57.8,51.5 L62.6,49.0 L57.5,47.3 M89.6,50.3 L94.7,48.4 L89.8,46.1 M119.2,52.1 L124.3,50.4 L119.5,47.9 M154.1,54.6 L158.9,52.3 L153.8,50.4 M26.0,56.6 L29.8,52.8 L24.4,52.7 M58.5,48.2 L63.3,45.6 L58.1,44.0 M90.5,46.6 L95.5,44.6 L90.5,42.4 M120.1,47.7 L125.2,45.9 L120.4,43.5 M155.3,48.9 L160.1,46.5 L155.0,44.7 M27.5,48.4 L31.5,44.6 L26.1,44.4 M60.2,39.9 L65.0,37.2 L59.7,35.7 M92.4,37.3 L97.4,35.1 L92.3,33.1 M122.4,36.9 L127.4,34.8 L122.4,32.7 M158.0,35.9 L162.7,33.3 L157.6,31.7 M29.1,39.5 L33.2,35.9 L27.8,35.5 M62.1,31.1 L66.7,28.3 L61.5,27.0 M94.5,27.6 L99.4,25.2 L94.2,23.4 M124.8,26.0 L129.7,23.6 L124.6,21.8 M160.6,23.3 L165.3,20.6 L160.1,19.1 M30.9,30.2 L35.1,26.7 L29.7,26.2 M64.0,21.9 L68.6,19.0 L63.3,17.8 M96.6,17.6 L101.4,15.0 L96.2,13.4 M127.2,14.9 L131.9,12.3 L126.8,10.7 M163.1,10.9 L167.8,8.1 L162.5,6.7 M32.8,20.5 L37.0,17.0 L31.6,16.5 M66.0,12.2 L70.5,9.3 L65.2,8.1 M98.8,7.2 L103.5,4.6 L98.3,3.1 M129.5,3.6 L134.2,0.9 L129.0,-0.6 M34.8,10.5 L39.0,7.1 L33.6,6.4 M68.0,2.2 L72.6,-0.8 L67.2,-1.9" fill="none" stroke="#111" stroke-width="0.9" stroke-linejoin="miter"/><path d="M60.0,49.7 L60.0,50.0 L59.9,50.2 L59.8,50.4 L59.7,50.7 L59.5,50.9 L59.3,51.2 L59.1,51.4 L58.8,51.6 L58.4,51.9 L58.1,52.1 L57.7,52.3 L57.2,52.5 L56.7,52.7 L56.2,52.9 L55.7,53.1 L55.1,53.3 L54.5,53.5 L53.9,53.7 L53.3,53.9 L52.6,54.0 L51.9,54.2 L51.2,54.3 L50.4,54.4 L49.7,54.6 L48.9,54.7 L48.2,54.8 L47.4,54.8 L46.6,54.9 L45.8,55.0 L45.0,55.0 L44.2,55.0 L43.5,55.1 L42.7,55.1 L41.9,55.1 L41.1,55.0 L40.4,55.0 L39.6,55.0 L38.9,54.9 L38.2,54.8 L37.5,54.8 L36.8,54.7 L36.2,54.6 L35.5,54.4 L34.9,54.3 L34.4,54.2 L33.8,54.0 L33.3,53.9 L32.8,53.7 L32.4,53.5 L32.0,53.3 L31.6,53.2 L31.3,53.0 L31.0,52.8 L30.7,52.5 L30.5,52.3 L30.3,52.1 L30.2,51.9 L30.1,51.6 L30.0,51.4 L30.0,51.2 L30.0,50.9 L30.1,50.7 L30.2,50.4 L30.4,50.2 L30.6,50.0 L30.8,49.7 L31.1,49.5 L31.4,49.3 L31.8,49.0 L32.1,48.8 L32.6,48.6 L33.0,48.4 L33.5,48.2 L34.0,48.0 L34.6,47.8 L35.2,47.6 L35.8,47.4 L36.4,47.2 L37.1,47.1 L37.8,46.9 L38.5,46.8 L39.2,46.6 L39.9,46.5 L40.7,46.4 L41.4,46.3 L42.2,46.2 L43.0,46.1 L43.8,46.1 L44.6,46.0 L45.4,46.0 L46.1,46.0 L46.9,45.9 L47.7,45.9 L48.5,46.0 L49.3,46.0 L50.0,46.0 L50.7,46.1 L51.5,46.1 L52.2,46.2 L52.9,46.3 L53.5,46.4 L54.2,46.5 L54.8,46.6 L55.4,46.8 L55.9,46.9 L56.4,47.0 L56.9,47.2 L57.4,47.4 L57.8,47.6 L58.2,47.7 L58.6,47.9 L58.9,48.1 L59.2,48.4 L59.4,48.6 L59.6,48.8 L59.8,49.0 L59.9,49.2 L59.9,49.5 L60.0,49.7 M52.0,49.3 L52.0,49.5 L52.0,49.6 L51.9,49.8 L51.8,49.9 L51.8,50.1 L51.7,50.3 L51.5,50.4 L51.4,50.6 L51.2,50.7 L51.0,50.9 L50.8,51.1 L50.6,51.2 L50.3,51.4 L50.1,51.5 L49.8,51.6 L49.5,51.8 L49.2,51.9 L48.8,52.0 L48.5,52.1 L48.2,52.3 L47.8,52.4 L47.4,52.5 L47.0,52.6 L46.6,52.6 L46.2,52.7 L45.8,52.8 L45.4,52.9 L45.0,52.9 L44.6,53.0 L44.2,53.0 L43.7,53.0 L43.3,53.1 L42.9,53.1 L42.5,53.1 L42.1,53.1 L41.7,53.1 L41.3,53.0 L40.9,53.0 L40.5,53.0 L40.1,52.9 L39.8,52.9 L39.4,52.8 L39.1,52.7 L38.7,52.7 L38.4,52.6 L38.1,52.5 L37.9,52.4 L37.6,52.3 L37.4,52.2 L37.1,52.0 L36.9,51.9 L36.7,51.8 L36.6,51.7 L36.4,51.5 L36.3,51.4 L36.2,51.2 L36.1,51.1 L36.1,50.9 L36.0,50.8 L36.0,50.6 L36.0,50.5 L36.1,50.3 L36.1,50.1 L36.2,50.0 L36.3,49.8 L36.4,49.7 L36.5,49.5 L36.7,49.3 L36.9,49.2 L37.1,49.0 L37.3,48.9 L37.5,48.7 L37.8,48.6 L38.1,48.4 L38.4,48.3 L38.7,48.2 L39.0,48.0 L39.3,47.9 L39.7,47.8 L40.0,47.7 L40.4,47.6 L40.8,47.5 L41.2,47.4 L41.6,47.3 L42.0,47.2 L42.4,47.2 L42.8,47.1 L43.2,47.1 L43.6,47.0 L44.1,47.0 L44.5,47.0 L44.9,46.9 L45.3,46.9 L45.7,46.9 L46.1,46.9 L46.5,47.0 L46.9,47.0 L47.3,47.0 L47.7,47.1 L48.1,47.1 L48.4,47.2 L48.8,47.2 L49.1,47.3 L49.4,47.4 L49.7,47.5 L50.0,47.6 L50.3,47.7 L50.5,47.8 L50.8,47.9 L51.0,48.0 L51.2,48.1 L51.3,48.3 L51.5,48.4 L51.6,48.5 L51.7,48.7 L51.8,48.8 L51.9,49.0 L51.9,49.1 L52.0,49.3" fill="none" stroke="#111" stroke-width="0.85"/><path d="M44.2,53.5 L40.1,55.0 L44.0,56.9 " fill="none" stroke="#111" stroke-width="0.9"/><ellipse cx="46.7" cy="49.6" rx="3.2" ry="3.0" transform="rotate(0.0 46.7 49.6)" fill="#111" stroke="none" stroke-width="0.8"/><path d="M21.2,67.7 L21.2,67.0 L21.4,66.4 L21.7,65.8 L22.1,65.1 L23.1,63.9 L24.6,62.7 L26.6,61.5 L28.9,60.4 L31.6,59.4 L34.7,58.4 L38.1,57.5 L41.5,56.8 L45.6,56.1 L49.5,55.5 L53.6,55.1 L57.9,54.8 L62.4,54.6 L67.0,54.5 L75.5,54.6 L84.9,55.0 L94.9,55.8 L106.0,57.0 L117.2,58.6 L130.1,60.6 L144.5,63.0 L162.7,66.3 L144.6,69.9 L130.2,72.7 L117.4,74.9 L106.2,76.7 L95.1,78.1 L85.1,79.1 L75.8,79.8 L67.3,80.0 L62.6,80.0 L58.2,79.9 L53.8,79.6 L49.7,79.3 L45.8,78.8 L41.7,78.2 L38.3,77.6 L34.9,76.7 L31.8,75.8 L29.0,74.8 L26.7,73.7 L24.7,72.6 L23.2,71.5 L22.1,70.3 L21.7,69.6 L21.4,69.0 L21.3,68.4 L21.2,67.7Z" fill="#fff" stroke="#222" stroke-width="0.8"/>
</g>
<rect x="0" y="0" width="1" height="130.4" fill="#8c8c8c"/>
<rect x="175.2" y="0" width="0.9" height="130.4" fill="#d4d4dc"/>
<rect x="1" y="130.4" width="175.2" height="0.8" fill="#dcdce4"/>
</g>
<g transform="translate(330,157)"><g clip-path="url(#cp_r2c2)">
<rect x="0" y="0" width="175.5" height="131" fill="#fff"/><path d="M42.0,39.3 L48.0,39.3 L48.5,39.8 L49.0,39.8 L50.0,40.8 L50.5,40.8 L51.2,41.5 L51.2,42.0 L51.7,42.5 L51.7,45.5 L51.2,46.0 L51.2,46.5 L50.5,47.2 L50.0,47.2 L49.0,48.2 L48.5,48.2 L48.0,48.7 L42.0,48.7 L41.5,48.2 L41.0,48.2 L40.0,47.2 L39.5,47.2 L38.8,46.5 L38.8,46.0 L38.3,45.5 L38.3,42.5 L38.8,42.0 L38.8,41.5 L39.5,40.8 L40.0,40.8 L41.0,39.8 L41.5,39.8 L42.0,39.3Z" fill="#3838ff" fill-rule="evenodd"/><path d="M45.0,36.3 L47.0,36.3 L47.5,36.8 L50.0,36.8 L50.5,37.3 L51.5,37.3 L52.0,37.8 L53.0,37.8 L54.0,38.8 L54.5,38.8 L56.2,40.5 L56.2,41.0 L56.7,41.5 L56.7,45.0 L56.2,45.5 L56.2,46.0 L55.7,46.5 L55.7,47.0 L54.5,48.2 L54.0,48.2 L53.0,49.2 L52.5,49.2 L52.0,49.7 L51.5,49.7 L51.0,50.2 L50.5,50.2 L50.0,50.7 L49.0,50.7 L48.5,51.2 L45.5,51.2 L45.0,51.7 L43.0,51.7 L42.5,51.2 L40.0,51.2 L39.5,50.7 L38.5,50.7 L38.0,50.2 L37.0,50.2 L36.0,49.2 L35.5,49.2 L34.8,48.5 L33.8,47.5 L33.8,47.0 L33.3,46.5 L33.3,43.0 L33.8,42.5 L33.8,42.0 L34.3,41.5 L34.3,41.0 L35.5,39.8 L36.0,39.8 L37.0,38.8 L37.5,38.8 L38.0,38.3 L38.5,38.3 L39.0,37.8 L39.5,37.8 L40.0,37.3 L41.0,37.3 L41.5,36.8 L44.5,36.8 L45.0,36.3Z M41.8,39.5 L41.5,39.8 L41.0,39.8 L40.0,40.8 L39.5,40.8 L38.8,41.5 L38.8,42.0 L38.3,42.5 L38.3,45.5 L38.8,46.0 L38.8,46.5 L39.5,47.2 L40.0,47.2 L41.0,48.2 L41.5,48.2 L42.0,48.7 L48.0,48.7 L48.5,48.2 L49.0,48.2 L50.0,47.2 L50.5,47.2 L51.2,46.5 L51.2,46.0 L51.7,45.5 L51.7,42.5 L51.2,42.0 L51.2,41.5 L50.5,40.8 L50.0,40.8 L49.0,39.8 L48.5,39.8 L48.0,39.3 L42.0,39.3 L41.8,39.5Z" fill="#3876ff" fill-rule="evenodd"/><path d="M46.0,33.8 L50.0,33.8 L50.5,34.3 L53.5,34.3 L54.0,34.8 L55.5,34.8 L56.0,35.3 L57.0,35.3 L57.5,35.8 L58.0,35.8 L58.5,36.3 L59.0,36.3 L59.5,36.8 L60.0,36.8 L61.5,38.3 L62.0,38.3 L62.2,38.5 L62.2,39.0 L63.2,40.0 L63.2,40.5 L63.7,41.0 L63.7,45.0 L63.2,45.5 L63.2,46.0 L62.2,47.0 L62.2,47.5 L60.5,49.2 L60.0,49.2 L59.0,50.2 L58.5,50.2 L57.5,51.2 L56.5,51.2 L56.0,51.7 L55.5,51.7 L55.0,52.2 L54.0,52.2 L53.5,52.7 L52.5,52.7 L52.0,53.2 L50.5,53.2 L50.0,53.7 L46.5,53.7 L46.0,54.2 L42.0,54.2 L41.5,53.7 L38.5,53.7 L38.0,53.2 L36.5,53.2 L36.0,52.7 L35.0,52.7 L34.5,52.2 L34.0,52.2 L33.5,51.7 L33.0,51.7 L32.5,51.2 L32.0,51.2 L30.5,49.7 L30.0,49.7 L29.8,49.5 L29.8,49.0 L28.8,48.0 L28.8,47.5 L28.3,47.0 L28.3,43.0 L28.8,42.5 L28.8,42.0 L29.8,41.0 L29.8,40.5 L31.5,38.8 L32.0,38.8 L33.0,37.8 L33.5,37.8 L34.5,36.8 L35.5,36.8 L36.0,36.3 L36.5,36.3 L37.0,35.8 L38.0,35.8 L38.5,35.3 L39.5,35.3 L40.0,34.8 L41.5,34.8 L42.0,34.3 L45.5,34.3 L46.0,33.8Z M44.8,36.5 L44.5,36.8 L41.5,36.8 L41.0,37.3 L40.0,37.3 L39.5,37.8 L39.0,37.8 L38.5,38.3 L38.0,38.3 L37.5,38.8 L37.0,38.8 L36.0,39.8 L35.5,39.8 L34.3,41.0 L34.3,41.5 L33.8,42.0 L33.8,42.5 L33.3,43.0 L33.3,46.5 L33.8,47.0 L33.8,47.5 L34.8,48.5 L35.5,49.2 L36.0,49.2 L37.0,50.2 L38.0,50.2 L38.5,50.7 L39.5,50.7 L40.0,51.2 L42.5,51.2 L43.0,51.7 L45.0,51.7 L45.5,51.2 L48.5,51.2 L49.0,50.7 L50.0,50.7 L50.5,50.2 L51.0,50.2 L51.5,49.7 L52.0,49.7 L52.5,49.2 L53.0,49.2 L54.0,48.2 L54.5,48.2 L55.7,47.0 L55.7,46.5 L56.2,46.0 L56.2,45.5 L56.7,45.0 L56.7,41.5 L56.2,41.0 L56.2,40.5 L54.5,38.8 L54.0,38.8 L53.0,37.8 L52.0,37.8 L51.5,37.3 L50.5,37.3 L50.0,36.8 L47.5,36.8 L47.0,36.3 L45.0,36.3 L44.8,36.5Z M25.5,53.3 L29.0,53.3 L29.7,54.0 L29.7,54.5 L30.2,55.0 L30.2,55.5 L29.7,56.0 L29.7,57.0 L28.6,58.0 L28.6,58.5 L27.6,59.5 L26.5,60.6 L26.0,60.6 L25.0,61.5 L24.5,61.5 L24.0,62.0 L23.0,62.0 L22.5,62.5 L19.0,62.5 L18.5,62.0 L18.4,61.5 L17.9,61.0 L17.9,60.5 L18.4,60.0 L18.4,59.0 L19.4,58.0 L19.4,57.5 L21.5,55.4 L22.0,55.4 L23.0,54.3 L23.5,54.3 L24.0,53.8 L25.0,53.8 L25.5,53.3Z" fill="#38adff" fill-rule="evenodd"/><path d="M35.5,21.3 L48.5,21.3 L49.0,21.8 L51.5,21.8 L52.0,22.3 L53.5,22.3 L54.0,22.8 L55.0,22.8 L55.5,23.3 L56.5,23.3 L57.0,23.8 L58.0,23.8 L58.5,24.3 L59.0,24.3 L59.5,24.8 L60.0,24.8 L60.5,25.3 L61.0,25.3 L61.5,25.8 L62.0,25.8 L62.5,26.3 L63.0,26.3 L64.0,27.3 L64.5,27.3 L66.5,29.3 L67.0,29.3 L67.7,30.0 L67.7,30.5 L69.7,32.5 L69.7,33.0 L70.2,33.5 L70.2,34.0 L70.7,34.5 L70.7,35.0 L71.2,35.5 L71.2,36.5 L71.7,37.0 L71.7,43.0 L71.2,43.5 L71.2,44.5 L70.7,45.0 L70.7,45.5 L70.2,46.0 L70.2,46.5 L69.7,47.0 L69.7,47.5 L67.7,49.5 L67.7,50.0 L67.0,50.7 L66.5,50.7 L64.5,52.7 L64.0,52.7 L63.0,53.7 L62.5,53.7 L62.0,54.2 L61.5,54.2 L61.0,54.7 L60.5,54.7 L60.0,55.2 L59.5,55.2 L59.0,55.7 L58.5,55.7 L58.0,56.2 L57.0,56.2 L56.5,56.7 L55.5,56.7 L55.0,57.2 L54.0,57.2 L53.5,57.7 L52.0,57.7 L51.5,58.2 L49.0,58.2 L48.5,58.7 L35.5,58.7 L35.0,58.2 L32.5,58.2 L32.0,57.7 L30.5,57.7 L30.0,57.2 L29.5,57.4 L28.9,58.0 L28.9,58.5 L27.9,59.5 L26.5,60.7 L26.0,60.7 L25.0,61.7 L24.5,61.7 L24.0,62.2 L23.0,62.2 L22.5,62.7 L19.0,62.7 L18.3,62.0 L18.3,61.5 L17.8,61.0 L17.8,60.5 L18.3,60.0 L18.3,59.0 L19.3,58.0 L19.3,57.5 L21.0,55.6 L21.5,55.1 L22.0,55.1 L22.6,54.5 L22.5,54.2 L22.0,54.2 L21.5,53.7 L21.0,53.7 L20.0,52.7 L19.5,52.7 L17.5,50.7 L17.0,50.7 L16.3,50.0 L16.3,49.5 L14.3,47.5 L14.3,47.0 L13.8,46.5 L13.8,46.0 L13.3,45.5 L13.3,45.0 L12.8,44.5 L12.8,43.5 L12.3,43.0 L12.3,37.0 L12.8,36.5 L12.8,35.5 L13.3,35.0 L13.3,34.5 L13.8,34.0 L13.8,33.5 L14.3,33.0 L14.3,32.5 L16.3,30.5 L16.3,30.0 L17.0,29.3 L17.5,29.3 L19.5,27.3 L20.0,27.3 L21.0,26.3 L21.5,26.3 L22.0,25.8 L22.5,25.8 L23.0,25.3 L23.5,25.3 L24.0,24.8 L24.5,24.8 L25.0,24.3 L25.5,24.3 L26.0,23.8 L27.0,23.8 L27.5,23.3 L28.5,23.3 L29.0,22.8 L30.0,22.8 L30.5,22.3 L32.0,22.3 L32.5,21.8 L35.0,21.8 L35.5,21.3Z M45.8,34.0 L45.5,34.3 L42.0,34.3 L41.5,34.8 L40.0,34.8 L39.5,35.3 L38.5,35.3 L38.0,35.8 L37.0,35.8 L36.5,36.3 L36.0,36.3 L35.5,36.8 L34.5,36.8 L33.5,37.8 L33.0,37.8 L32.0,38.8 L31.5,38.8 L29.8,40.5 L29.8,41.0 L28.8,42.0 L28.8,42.5 L28.3,43.0 L28.3,47.0 L28.8,47.5 L28.8,48.0 L29.8,49.0 L29.8,49.5 L30.0,49.7 L30.5,49.7 L32.0,51.2 L32.5,51.2 L33.0,51.7 L33.5,51.7 L34.0,52.2 L34.5,52.2 L35.0,52.7 L36.0,52.7 L36.5,53.2 L38.0,53.2 L38.5,53.7 L41.5,53.7 L42.0,54.2 L46.0,54.2 L46.5,53.7 L50.0,53.7 L50.5,53.2 L52.0,53.2 L52.5,52.7 L53.5,52.7 L54.0,52.2 L55.0,52.2 L55.5,51.7 L56.0,51.7 L56.5,51.2 L57.5,51.2 L58.5,50.2 L59.0,50.2 L60.0,49.2 L60.5,49.2 L62.2,47.5 L62.2,47.0 L63.2,46.0 L63.2,45.5 L63.7,45.0 L63.7,41.0 L63.2,40.5 L63.2,40.0 L62.2,39.0 L62.2,38.5 L62.0,38.3 L61.5,38.3 L60.0,36.8 L59.5,36.8 L59.0,36.3 L58.5,36.3 L58.0,35.8 L57.5,35.8 L57.0,35.3 L56.0,35.3 L55.5,34.8 L54.0,34.8 L53.5,34.3 L50.5,34.3 L50.0,33.8 L46.0,33.8 L45.8,34.0Z M25.3,53.5 L25.0,53.8 L24.0,53.8 L23.5,54.3 L23.0,54.3 L22.0,55.4 L21.5,55.4 L19.4,57.5 L19.4,58.0 L18.4,59.0 L18.4,60.0 L17.9,60.5 L17.9,61.0 L18.4,61.5 L18.5,62.0 L19.0,62.5 L22.5,62.5 L23.0,62.0 L24.0,62.0 L24.5,61.5 L25.0,61.5 L26.0,60.6 L26.5,60.6 L27.6,59.5 L28.6,58.5 L28.6,58.0 L29.7,57.0 L29.7,56.0 L30.2,55.5 L30.2,55.0 L29.7,54.5 L29.7,54.0 L29.0,53.3 L25.5,53.3 L25.3,53.5Z" fill="#38ecff" fill-rule="evenodd"/><path d="M39.0,13.2 L53.0,13.2 L53.5,13.7 L56.0,13.7 L56.5,14.2 L58.0,14.2 L58.5,14.7 L60.0,14.7 L60.5,15.2 L61.5,15.2 L62.0,15.7 L63.0,15.7 L63.5,16.2 L64.0,16.2 L64.5,16.7 L65.5,16.7 L66.0,17.2 L66.5,17.2 L67.0,17.7 L67.5,17.7 L68.0,18.2 L68.5,18.2 L69.5,19.2 L70.0,19.2 L71.0,20.2 L71.5,20.2 L72.5,21.2 L73.0,21.2 L77.8,26.0 L77.8,26.5 L78.8,27.5 L78.8,28.0 L79.8,29.0 L79.8,29.5 L80.3,30.0 L80.3,30.5 L80.8,31.0 L80.8,32.0 L81.3,32.5 L81.3,33.5 L81.8,34.0 L81.8,42.0 L81.3,42.5 L81.3,43.5 L80.8,44.0 L80.8,45.0 L80.3,45.5 L80.3,46.0 L79.8,46.5 L79.8,47.0 L78.8,48.0 L78.8,48.5 L77.8,49.5 L77.8,50.0 L73.0,54.7 L72.5,54.7 L71.5,55.7 L71.0,55.7 L70.0,56.7 L69.5,56.7 L68.5,57.7 L68.0,57.7 L67.5,58.2 L67.0,58.2 L66.5,58.7 L66.0,58.7 L65.5,59.2 L64.5,59.2 L64.0,59.7 L63.5,59.7 L63.0,60.2 L62.0,60.2 L61.5,60.7 L60.5,60.7 L60.0,61.2 L58.5,61.2 L58.0,61.7 L56.5,61.7 L56.0,62.2 L53.5,62.2 L53.0,62.6 L39.0,62.6 L38.5,62.1 L36.0,62.1 L35.5,61.6 L34.0,61.6 L33.5,61.1 L32.0,61.1 L31.5,60.6 L30.5,60.6 L30.0,60.1 L29.0,60.1 L28.5,59.6 L27.5,59.9 L26.5,60.8 L26.0,60.8 L25.0,61.8 L24.5,61.8 L24.0,62.3 L23.0,62.3 L22.5,62.8 L19.0,62.8 L18.2,62.0 L18.2,61.5 L17.7,61.0 L17.7,60.5 L18.2,60.0 L18.2,59.0 L19.1,58.0 L19.1,57.5 L20.6,56.0 L19.5,54.7 L19.0,54.7 L14.3,50.0 L14.3,49.5 L13.3,48.5 L13.3,48.0 L12.3,47.0 L12.3,46.5 L11.8,46.0 L11.8,45.5 L11.3,45.0 L11.3,44.0 L10.8,43.5 L10.8,42.5 L10.3,42.0 L10.3,38.0 L10.3,34.0 L10.8,33.5 L10.8,32.5 L11.3,32.0 L11.3,31.0 L11.8,30.5 L11.8,30.0 L12.3,29.5 L12.3,29.0 L13.3,28.0 L13.3,27.5 L14.3,26.5 L14.3,26.0 L19.0,21.3 L19.5,21.3 L20.5,20.3 L21.0,20.3 L22.0,19.3 L22.5,19.3 L23.5,18.3 L24.0,18.3 L24.5,17.8 L25.0,17.8 L25.5,17.3 L26.0,17.3 L26.5,16.8 L27.5,16.7 L28.0,16.3 L28.5,16.2 L29.0,15.8 L30.0,15.7 L30.5,15.2 L31.5,15.2 L32.0,14.7 L33.5,14.7 L34.0,14.2 L35.5,14.2 L36.0,13.7 L38.5,13.7 L39.0,13.2Z M35.3,21.5 L35.0,21.8 L32.5,21.8 L32.0,22.3 L30.5,22.3 L30.0,22.8 L29.0,22.8 L28.5,23.3 L27.5,23.3 L27.0,23.8 L26.0,23.8 L25.5,24.3 L25.0,24.3 L24.5,24.8 L24.0,24.8 L23.5,25.3 L23.0,25.3 L22.5,25.8 L22.0,25.8 L21.5,26.3 L21.0,26.3 L20.0,27.3 L19.5,27.3 L17.5,29.3 L17.0,29.3 L16.3,30.0 L16.3,30.5 L14.3,32.5 L14.3,33.0 L13.8,33.5 L13.8,34.0 L13.3,34.5 L13.3,35.0 L12.8,35.5 L12.8,36.5 L12.3,37.0 L12.3,43.0 L12.8,43.5 L12.8,44.5 L13.3,45.0 L13.3,45.5 L13.8,46.0 L13.8,46.5 L14.3,47.0 L14.3,47.5 L16.3,49.5 L16.3,50.0 L17.0,50.7 L17.5,50.7 L19.5,52.7 L20.0,52.7 L21.0,53.7 L21.5,53.7 L22.0,54.2 L22.5,54.2 L22.6,54.5 L22.0,55.1 L21.5,55.1 L21.0,55.6 L19.3,57.5 L19.3,58.0 L18.3,59.0 L18.3,60.0 L17.8,60.5 L17.8,61.0 L18.3,61.5 L18.3,62.0 L19.0,62.7 L22.5,62.7 L23.0,62.2 L24.0,62.2 L24.5,61.7 L25.0,61.7 L26.0,60.7 L26.5,60.7 L27.9,59.5 L28.9,58.5 L28.9,58.0 L29.5,57.4 L30.0,57.2 L30.5,57.7 L32.0,57.7 L32.5,58.2 L35.0,58.2 L35.5,58.7 L48.5,58.7 L49.0,58.2 L51.5,58.2 L52.0,57.7 L53.5,57.7 L54.0,57.2 L55.0,57.2 L55.5,56.7 L56.5,56.7 L57.0,56.2 L58.0,56.2 L58.5,55.7 L59.0,55.7 L59.5,55.2 L60.0,55.2 L60.5,54.7 L61.0,54.7 L61.5,54.2 L62.0,54.2 L62.5,53.7 L63.0,53.7 L64.0,52.7 L64.5,52.7 L66.5,50.7 L67.0,50.7 L67.7,50.0 L67.7,49.5 L69.7,47.5 L69.7,47.0 L70.2,46.5 L70.2,46.0 L70.7,45.5 L70.7,45.0 L71.2,44.5 L71.2,43.5 L71.7,43.0 L71.7,37.0 L71.2,36.5 L71.2,35.5 L70.7,35.0 L70.7,34.5 L70.2,34.0 L70.2,33.5 L69.7,33.0 L69.7,32.5 L67.7,30.5 L67.7,30.0 L67.0,29.3 L66.5,29.3 L64.5,27.3 L64.0,27.3 L63.0,26.3 L62.5,26.3 L62.0,25.8 L61.5,25.8 L61.0,25.3 L60.5,25.3 L60.0,24.8 L59.5,24.8 L59.0,24.3 L58.5,24.3 L58.0,23.8 L57.0,23.8 L56.5,23.3 L55.5,23.3 L55.0,22.8 L54.0,22.8 L53.5,22.3 L52.0,22.3 L51.5,21.8 L49.0,21.8 L48.5,21.3 L35.5,21.3 L35.3,21.5Z" fill="#38ffd4" fill-rule="evenodd"/><path d="M41.0,5.0 L47.0,4.6 L53.0,4.8 L59.0,5.6 L65.0,7.1 L70.5,9.1 L75.5,11.7 L80.0,14.7 L84.0,18.3 L87.4,22.5 L89.9,27.0 L91.4,31.5 L92.2,36.5 L92.1,41.0 L91.7,43.5 L91.1,45.5 L90.3,47.5 L89.1,49.5 L86.6,52.5 L84.1,54.5 L81.7,56.0 L78.6,57.5 L74.4,59.0 L67.0,60.8 L62.0,61.5 L56.5,62.1 L56.0,62.5 L53.5,62.5 L53.0,62.9 L39.0,62.9 L38.5,62.4 L36.0,62.4 L35.5,61.9 L34.0,61.9 L33.5,61.5 L32.0,61.4 L31.5,61.0 L30.5,61.0 L30.0,60.5 L29.0,60.5 L28.5,60.1 L27.8,60.0 L27.5,60.0 L26.5,61.0 L26.0,61.0 L25.0,61.9 L24.5,61.9 L24.0,62.4 L23.0,62.4 L22.5,62.9 L19.0,62.9 L18.1,62.0 L18.1,61.5 L17.6,61.0 L17.6,60.5 L18.0,60.0 L18.0,59.0 L19.0,57.9 L14.0,55.8 L11.8,54.5 L9.8,53.0 L8.3,51.5 L6.8,49.5 L5.6,47.5 L4.8,45.5 L3.7,41.5 L3.4,37.0 L3.9,33.0 L5.2,28.5 L7.5,24.0 L10.4,20.0 L14.0,16.4 L18.5,12.9 L23.5,10.0 L29.0,7.7 L34.5,6.1 L41.0,5.0Z M38.7,13.5 L38.5,13.7 L36.0,13.7 L35.5,14.2 L34.0,14.2 L33.5,14.7 L32.0,14.7 L31.5,15.2 L30.5,15.2 L30.0,15.7 L29.0,15.8 L28.5,16.2 L28.0,16.3 L27.5,16.7 L26.5,16.8 L26.0,17.3 L25.5,17.3 L25.0,17.8 L24.5,17.8 L24.0,18.3 L23.5,18.3 L22.5,19.3 L22.0,19.3 L21.0,20.3 L20.5,20.3 L19.5,21.3 L19.0,21.3 L14.3,26.0 L14.3,26.5 L13.3,27.5 L13.3,28.0 L12.3,29.0 L12.3,29.5 L11.8,30.0 L11.8,30.5 L11.3,31.0 L11.3,32.0 L10.8,32.5 L10.8,33.5 L10.3,34.0 L10.3,38.0 L10.3,42.0 L10.8,42.5 L10.8,43.5 L11.3,44.0 L11.3,45.0 L11.8,45.5 L11.8,46.0 L12.3,46.5 L12.3,47.0 L13.3,48.0 L13.3,48.5 L14.3,49.5 L14.3,50.0 L19.0,54.7 L19.5,54.7 L20.6,56.0 L19.1,57.5 L19.1,58.0 L18.2,59.0 L18.2,60.0 L17.7,60.5 L17.7,61.0 L18.2,61.5 L18.2,62.0 L19.0,62.8 L22.5,62.8 L23.0,62.3 L24.0,62.3 L24.5,61.8 L25.0,61.8 L26.0,60.8 L26.5,60.8 L27.5,59.9 L28.5,59.6 L29.0,60.1 L30.0,60.1 L30.5,60.6 L31.5,60.6 L32.0,61.1 L33.5,61.1 L34.0,61.6 L35.5,61.6 L36.0,62.1 L38.5,62.1 L39.0,62.6 L53.0,62.6 L53.5,62.2 L56.0,62.2 L56.5,61.7 L58.0,61.7 L58.5,61.2 L60.0,61.2 L60.5,60.7 L61.5,60.7 L62.0,60.2 L63.0,60.2 L63.5,59.7 L64.0,59.7 L64.5,59.2 L65.5,59.2 L66.0,58.7 L66.5,58.7 L67.0,58.2 L67.5,58.2 L68.0,57.7 L68.5,57.7 L69.5,56.7 L70.0,56.7 L71.0,55.7 L71.5,55.7 L72.5,54.7 L73.0,54.7 L77.8,50.0 L77.8,49.5 L78.8,48.5 L78.8,48.0 L79.8,47.0 L79.8,46.5 L80.3,46.0 L80.3,45.5 L80.8,45.0 L80.8,44.0 L81.3,43.5 L81.3,42.5 L81.8,42.0 L81.8,34.0 L81.3,33.5 L81.3,32.5 L80.8,32.0 L80.8,31.0 L80.3,30.5 L80.3,30.0 L79.8,29.5 L79.8,29.0 L78.8,28.0 L78.8,27.5 L77.8,26.5 L77.8,26.0 L73.0,21.2 L72.5,21.2 L71.5,20.2 L71.0,20.2 L70.0,19.2 L69.5,19.2 L68.5,18.2 L68.0,18.2 L67.5,17.7 L67.0,17.7 L66.5,17.2 L66.0,17.2 L65.5,16.7 L64.5,16.7 L64.0,16.2 L63.5,16.2 L63.0,15.7 L62.0,15.7 L61.5,15.2 L60.5,15.2 L60.0,14.7 L58.5,14.7 L58.0,14.2 L56.5,14.2 L56.0,13.7 L53.5,13.7 L53.0,13.2 L39.0,13.2 L38.7,13.5Z" fill="#38ff8e" fill-rule="evenodd"/><path d="M-1.5,-2.0 L120.3,-2.0 L118.6,1.0 L117.2,4.0 L116.0,7.2 L115.1,10.5 L114.6,13.5 L114.2,17.0 L114.2,20.0 L114.4,23.5 L115.5,29.5 L117.3,35.5 L118.5,38.5 L120.3,42.0 L126.2,51.5 L126.8,53.5 L126.8,54.5 L126.5,55.5 L125.1,57.0 L123.2,58.0 L120.2,59.0 L115.5,59.9 L94.5,61.9 L69.8,65.0 L58.5,65.9 L51.5,66.1 L44.5,65.8 L25.5,64.0 L-2.0,62.0 L-2.0,-2.0 L-1.5,-2.0Z M40.7,5.0 L34.5,6.1 L29.0,7.7 L23.5,10.0 L18.5,12.9 L14.0,16.4 L10.4,20.0 L7.5,24.0 L5.2,28.5 L3.9,33.0 L3.4,37.0 L3.7,41.5 L4.8,45.5 L5.6,47.5 L6.8,49.5 L8.3,51.5 L9.8,53.0 L11.8,54.5 L14.0,55.8 L19.0,57.9 L18.0,59.0 L18.0,60.0 L17.6,60.5 L17.6,61.0 L18.1,61.5 L18.1,62.0 L19.0,62.9 L22.5,62.9 L23.0,62.4 L24.0,62.4 L24.5,61.9 L25.0,61.9 L26.0,61.0 L26.5,61.0 L27.5,60.0 L27.8,60.0 L28.5,60.1 L29.0,60.5 L30.0,60.5 L30.5,61.0 L31.5,61.0 L32.0,61.4 L33.5,61.5 L34.0,61.9 L35.5,61.9 L36.0,62.4 L38.5,62.4 L39.0,62.9 L53.0,62.9 L53.5,62.5 L56.0,62.5 L56.5,62.1 L62.0,61.5 L67.0,60.8 L74.4,59.0 L78.6,57.5 L81.7,56.0 L84.1,54.5 L86.6,52.5 L89.1,49.5 L90.3,47.5 L91.1,45.5 L91.7,43.5 L92.1,41.0 L92.3,38.5 L92.2,36.0 L91.3,31.0 L89.6,26.5 L87.0,22.0 L83.7,18.0 L79.7,14.5 L75.0,11.4 L70.0,8.9 L64.5,6.9 L59.0,5.6 L53.0,4.8 L47.0,4.6 L40.7,5.0Z" fill="#38ff50" fill-rule="evenodd"/><path d="M120.5,-2.0 L177.0,-2.0 L177.0,39.0 L175.5,38.6 L174.0,38.6 L171.5,39.2 L169.0,40.9 L167.2,43.0 L165.9,45.5 L165.0,48.5 L164.5,51.5 L164.2,57.0 L163.9,59.0 L162.8,61.0 L161.0,62.5 L159.0,63.4 L157.0,63.9 L151.5,64.5 L121.5,66.1 L90.5,67.0 L66.0,68.7 L58.0,69.1 L52.5,69.2 L47.0,68.9 L24.0,66.9 L-2.0,67.2 L-2.0,62.0 L25.5,64.0 L44.0,65.8 L50.0,66.1 L56.5,66.0 L69.0,65.1 L94.5,61.9 L114.5,60.1 L120.2,59.0 L122.0,58.5 L124.3,57.5 L125.7,56.5 L126.5,55.5 L126.8,54.5 L126.7,53.0 L125.6,50.5 L120.0,41.4 L117.5,36.0 L116.3,32.5 L115.3,29.0 L114.6,25.0 L114.3,21.5 L114.2,18.0 L114.4,15.0 L114.8,12.0 L115.5,9.0 L116.4,6.0 L117.6,3.0 L119.4,-0.5 L120.3,-2.0 L120.5,-2.0Z" fill="#57ff38" fill-rule="evenodd"/><path d="M172.5,38.9 L175.0,38.6 L177.0,39.0 L177.0,62.9 L175.5,62.3 L174.5,62.5 L170.5,65.0 L167.8,66.5 L164.5,67.8 L161.0,68.6 L157.5,69.1 L152.5,69.4 L122.0,70.4 L90.0,71.0 L59.0,72.5 L54.0,72.5 L49.0,72.1 L24.5,69.2 L21.0,69.3 L14.0,70.2 L8.5,70.7 L-2.0,71.1 L-2.0,67.2 L24.0,66.9 L47.0,68.9 L57.0,69.2 L66.0,68.7 L90.0,67.1 L123.5,66.0 L151.5,64.5 L156.5,64.0 L159.0,63.4 L161.0,62.5 L162.4,61.5 L163.2,60.5 L163.7,59.5 L164.1,58.0 L164.7,50.0 L165.2,47.5 L166.0,45.2 L167.2,43.0 L168.9,41.0 L170.5,39.8 L172.5,38.9Z" fill="#96ff38" fill-rule="evenodd"/><path d="M174.5,62.5 L175.5,62.3 L177.0,62.9 L177.0,71.7 L175.0,71.6 L173.0,71.8 L163.5,74.1 L157.5,75.0 L124.5,76.1 L89.5,76.7 L66.0,77.8 L60.5,77.9 L57.0,77.7 L53.5,77.2 L42.5,74.8 L34.0,73.3 L27.5,71.5 L24.0,71.1 L20.5,71.6 L14.5,73.4 L10.5,74.4 L3.0,75.8 L-2.0,76.5 L-2.0,71.1 L10.0,70.5 L21.5,69.3 L26.0,69.3 L47.5,72.0 L52.5,72.4 L57.0,72.5 L64.0,72.3 L90.5,70.9 L122.0,70.4 L153.5,69.3 L160.0,68.8 L165.0,67.6 L168.8,66.0 L174.5,62.5Z" fill="#c8f83c" fill-rule="evenodd"/><path d="M21.0,71.5 L23.5,71.2 L26.5,71.4 L34.0,73.3 L42.5,74.8 L53.5,77.2 L57.5,77.8 L62.0,77.9 L89.5,76.7 L123.5,76.2 L155.0,75.1 L159.5,74.8 L163.0,74.2 L173.0,71.8 L175.0,71.6 L177.0,71.7 L177.0,132.5 L-2.0,132.5 L-2.0,76.5 L3.0,75.8 L11.5,74.1 L21.0,71.5Z M21.3,73.5 L19.2,74.5 L17.2,76.0 L10.4,82.0 L9.0,83.5 L8.1,85.0 L7.0,88.0 L6.6,91.0 L6.9,94.5 L7.9,98.0 L8.8,100.0 L10.0,102.0 L12.5,105.1 L15.9,108.0 L19.5,109.9 L23.5,111.2 L27.5,111.7 L32.0,111.3 L36.0,110.1 L39.5,108.4 L42.5,106.1 L44.9,103.5 L46.9,100.5 L48.4,97.0 L49.2,93.5 L49.2,90.0 L48.4,87.0 L47.4,85.0 L46.2,83.5 L44.5,82.0 L42.0,80.4 L39.9,79.5 L34.0,77.4 L29.2,74.5 L27.0,73.5 L25.5,73.2 L24.0,73.1 L21.3,73.5Z" fill="#f6f23a" fill-rule="evenodd"/><path d="M21.5,73.4 L24.0,73.1 L25.5,73.2 L27.0,73.5 L29.2,74.5 L34.0,77.4 L39.9,79.5 L42.0,80.4 L44.5,82.0 L46.2,83.5 L47.4,85.0 L48.4,87.0 L49.2,90.0 L49.2,93.5 L48.4,97.0 L46.9,100.5 L44.9,103.5 L42.5,106.1 L39.5,108.4 L36.0,110.1 L32.0,111.3 L27.5,111.7 L23.5,111.2 L19.5,109.9 L15.9,108.0 L12.5,105.1 L10.0,102.0 L8.8,100.0 L7.9,98.0 L6.9,94.5 L6.6,91.0 L7.0,88.0 L8.1,85.0 L9.0,83.5 L10.4,82.0 L17.2,76.0 L19.2,74.5 L21.5,73.4Z M22.9,75.5 L21.5,76.2 L20.4,77.5 L19.9,79.0 L20.0,81.0 L21.0,82.7 L22.5,83.9 L24.0,84.3 L26.0,84.0 L27.5,83.0 L28.2,82.0 L28.7,80.5 L28.4,78.5 L27.6,77.0 L26.4,76.0 L24.5,75.4 L22.9,75.5Z" fill="#fcc83e" fill-rule="evenodd"/><path d="M23.0,75.5 L25.0,75.4 L26.4,76.0 L27.6,77.0 L28.4,78.5 L28.7,80.5 L28.2,82.0 L27.0,83.4 L25.5,84.1 L23.5,84.2 L22.0,83.6 L20.8,82.5 L20.0,81.0 L19.9,79.0 L20.4,77.5 L21.5,76.2 L23.0,75.5Z" fill="#fb7c3a" fill-rule="evenodd"/><path d="M174.5,139.0 L183.5,136.5 M155.4,139.0 L183.5,131.4 M135.8,139.0 L183.5,126.2 M115.7,139.0 L183.5,121.1 M95.3,139.0 L183.5,116.0 M75.5,139.0 L101.5,131.7 L183.5,110.9 M57.1,139.0 L72.5,134.0 L90.0,129.1 L152.5,113.7 L183.5,105.8 M40.7,139.0 L50.0,135.4 L59.5,132.0 L69.0,129.0 L79.5,126.1 L97.6,121.5 L150.5,109.1 L183.5,100.7 M26.2,139.0 L38.0,133.8 L48.5,129.6 L59.0,125.9 L70.5,122.5 L90.0,117.6 L148.5,104.4 L183.5,95.6 M13.3,139.0 L28.0,131.7 L40.0,126.4 L51.5,122.0 L63.0,118.4 L72.0,116.0 L83.0,113.4 L125.0,104.6 L146.0,99.9 L163.0,95.8 L183.5,90.5 M1.3,139.0 L21.5,128.4 L34.0,122.3 L45.5,117.5 L57.0,113.7 L66.0,111.3 L76.5,108.9 L119.5,100.4 L142.5,95.6 L161.5,91.1 L183.5,85.4 M-8.0,137.9 L19.0,123.0 L30.5,116.9 L41.0,112.2 L51.6,108.5 L60.0,106.2 L70.0,104.1 L113.5,96.3 L139.0,91.3 L160.0,86.5 L183.5,80.3 M-8.0,131.8 L21.0,114.8 L29.5,110.1 L39.0,105.6 L48.0,102.4 L55.0,100.6 L63.5,98.9 L106.5,92.3 L134.0,87.2 L159.0,81.7 L183.5,75.2 M-8.0,125.7 L29.5,102.1 L37.0,98.3 L44.0,95.8 L49.5,94.4 L56.5,93.2 L98.0,88.2 L112.5,86.0 L127.0,83.5 L143.5,80.3 L158.0,77.1 L183.5,70.0 M-8.0,119.4 L7.6,109.0 L29.5,92.9 L34.5,90.0 L39.5,88.1 L44.0,87.2 L49.5,86.5 L75.5,85.0 L91.0,83.6 L104.0,82.1 L118.0,80.0 L138.0,76.4 L158.5,72.2 L164.5,70.6 L174.5,67.3 L183.5,64.8 M61.9,54.5 L63.6,54.4 M78.9,54.4 L80.7,54.5 M53.9,55.0 L54.6,54.9 M88.9,54.9 L89.9,55.0 M49.0,55.5 L49.0,55.5 M95.4,55.4 L96.2,55.5 M45.2,56.0 L45.6,55.9 M101.0,56.0 L101.4,56.0 M42.0,56.5 L42.0,56.5 M105.4,56.4 L105.9,56.5 M39.3,57.0 L39.6,56.9 M109.4,56.9 L110.0,57.0 M36.9,57.5 L37.0,57.5 M113.4,57.4 L113.8,57.5 M116.9,57.9 L117.4,58.0 M32.9,58.5 L33.1,58.4 M120.4,58.4 L120.8,58.5 M124.0,59.0 L124.1,59.0 M163.6,66.1 L164.5,65.9 L164.7,65.5 L166.3,64.5 L169.5,63.3 L184.0,59.5 M127.0,59.5 L127.2,59.5 M130.0,60.0 L130.2,60.0 M133.0,60.5 L133.2,60.5 M136.0,61.0 L136.0,61.0 M138.4,61.4 L138.8,61.5 M141.5,62.0 L141.6,62.0 M149.5,63.5 L149.6,63.5 M157.5,65.0 L157.6,65.0 M163.0,66.0 L163.1,66.0 M161.0,67.0 L161.1,67.0 M140.5,71.0 L140.7,71.0 M138.0,71.5 L138.1,71.5 M132.5,72.5 L132.7,72.5 M127.0,73.5 L127.0,73.5 M28.5,74.0 L28.5,74.0 M124.0,74.0 L124.1,74.0 M-8.0,113.0 L-0.1,107.5 L6.5,102.5 L12.5,97.5 L17.7,92.5 L21.8,88.0 L25.2,83.5 L27.6,79.5 L29.5,75.2 L30.0,74.5 M121.0,74.5 L121.0,74.5 M117.4,75.1 L117.9,75.0 M33.4,75.5 L33.5,75.5 M114.5,75.5 L114.5,75.5 M35.5,76.0 L35.5,76.0 M111.0,76.0 L111.0,76.0 M37.8,76.5 L38.0,76.5 M107.0,76.5 L107.3,76.5 M40.4,77.0 L40.5,77.0 M103.0,77.0 L103.3,77.0 M98.5,77.5 L98.8,77.5 M47.2,78.0 L47.5,78.0 M92.9,78.1 L93.8,78.0 M52.0,78.5 L52.5,78.5 M87.0,78.5 L87.6,78.5 M59.7,79.0 L61.1,79.1 M76.9,79.1 L78.7,79.0 M-8.0,106.7 L0.0,100.6 L6.4,95.0 L11.3,90.0 L15.0,85.0 L16.8,81.5 L17.8,78.5 L18.0,75.0 L17.3,69.5 L17.3,67.5 L17.8,65.5 L19.0,63.5 L21.5,61.2 L25.0,59.2 L29.5,57.3 L34.5,55.8 L42.5,54.0 L52.0,52.6 L62.0,51.7 L73.0,51.3 L88.0,51.6 L104.0,52.7 L120.0,54.4 L148.5,58.0 L157.5,58.8 L161.5,58.7 L165.5,58.2 L183.5,54.5 M-8.0,100.3 L-2.5,95.8 L2.2,91.5 L5.9,87.5 L9.0,83.5 L11.0,80.2 L12.5,76.9 L13.5,73.7 L14.8,68.0 L15.6,65.5 L16.7,63.5 L18.0,61.9 L21.0,59.3 L25.0,56.9 L30.0,54.8 L36.5,52.8 L44.5,51.0 L53.5,49.7 L63.0,48.8 L73.5,48.3 L86.5,48.3 L101.0,48.9 L115.5,50.0 L144.0,52.6 L155.0,53.2 L160.5,53.0 L166.5,52.5 L183.5,49.4 M-8.0,93.8 L-0.6,87.0 L4.9,80.5 L8.5,74.8 L13.4,64.5 L15.1,62.0 L17.0,59.9 L20.6,57.0 L25.5,54.3 L31.5,51.8 L38.0,49.9 L46.0,48.1 L54.5,46.8 L64.0,45.8 L74.0,45.2 L86.0,45.0 L99.5,45.3 L140.5,47.7 L153.0,48.0 L160.0,47.8 L166.5,47.2 L183.5,44.4 M-8.0,87.4 L-3.0,82.5 L1.0,78.0 L4.5,73.4 L11.6,62.5 L14.0,59.7 L16.5,57.3 L21.0,54.1 L26.5,51.2 L33.0,48.8 L40.0,46.7 L47.5,45.1 L56.0,43.8 L65.0,42.8 L75.0,42.1 L86.0,41.7 L98.5,41.7 L138.5,43.1 L151.5,43.1 L159.0,42.8 L166.0,42.2 L183.5,39.5 M-8.0,72.5 L7.8,56.5 L12.0,52.9 L16.5,49.7 L22.5,46.4 L29.0,43.5 L36.5,40.9 L44.5,38.8 L51.5,37.3 L59.5,36.0 L76.5,34.1 L96.5,33.0 L135.0,32.4 L149.5,31.8 L166.0,30.3 L183.5,27.6 M-8.0,59.7 L0.1,53.0 L6.0,48.5 L11.5,44.8 L17.5,41.4 L24.0,38.3 L31.5,35.4 L39.5,32.9 L48.0,30.7 L62.0,28.0 L78.0,25.8 L96.5,24.2 L133.0,22.1 L148.5,20.9 L165.5,18.9 L183.5,16.1 M-8.0,48.7 L-0.4,43.5 L6.0,39.5 L12.5,35.9 L19.5,32.5 L27.0,29.4 L34.5,26.8 L42.5,24.4 L51.0,22.3 L64.5,19.5 L80.0,17.2 L97.0,15.2 L132.0,11.9 L148.0,10.2 L165.5,7.8 L183.5,4.8 M-8.0,38.5 L-0.5,34.1 L6.5,30.3 L13.5,26.9 L21.0,23.6 L28.5,20.8 L36.0,18.3 L44.5,15.8 L53.0,13.7 L66.5,10.8 L81.5,8.3 L97.5,6.0 L148.0,-0.4 L165.5,-3.1 L183.5,-6.4 M-8.0,28.7 L5.5,21.8 L18.5,16.1 L32.0,11.2 L46.5,6.9 L62.0,3.2 L79.0,-0.2 L97.5,-3.3 L129.2,-8.0 M-8.0,19.1 L1.5,14.5 L10.7,10.5 L20.0,6.8 L29.5,3.4 L39.5,0.3 L50.0,-2.7 L61.0,-5.4 L72.8,-8.0 M-8.0,9.4 L3.5,4.3 L14.5,-0.1 L26.0,-4.3 L37.6,-8.0 M-8.0,-0.2 L11.0,-8.0" fill="none" stroke="#111" stroke-width="0.9" stroke-linejoin="round"/><path d="M163.9,133.7 L168.2,130.4 L162.8,129.6 M163.6,128.6 L167.9,125.3 L162.6,124.5 M128.8,132.3 L133.1,129.1 L127.8,128.3 M163.4,123.5 L167.7,120.2 L162.3,119.4 M94.0,135.9 L98.3,132.6 L92.9,131.8 M128.5,127.1 L132.9,123.8 L127.5,123.0 M163.1,118.4 L167.4,115.1 L162.1,114.3 M93.7,130.3 L98.0,127.0 L92.7,126.2 M128.2,121.8 L132.6,118.6 L127.2,117.7 M162.8,113.3 L167.2,110.0 L161.8,109.2 M59.1,134.3 L63.2,130.8 L57.8,130.3 M93.4,124.7 L97.7,121.5 L92.4,120.6 M127.9,116.6 L132.3,113.4 L127.0,112.5 M162.6,108.2 L166.9,105.0 L161.6,104.2 M58.7,128.2 L62.9,124.7 L57.5,124.2 M93.0,119.1 L97.5,115.9 L92.1,115.0 M127.7,111.4 L132.1,108.2 L126.7,107.3 M162.3,103.2 L166.7,99.9 L161.3,99.1 M29.4,133.3 L33.1,129.4 L27.7,129.5 M58.4,121.9 L62.6,118.5 L57.2,117.9 M92.7,113.4 L97.2,110.4 L91.9,109.3 M127.4,106.2 L131.8,103.1 L126.5,102.1 M162.1,98.2 L166.4,94.9 L161.1,94.1 M29.2,126.8 L32.8,122.8 L27.4,123.0 M58.0,115.5 L62.3,112.2 L56.9,111.4 M92.4,107.8 L96.9,104.8 L91.6,103.7 M127.1,101.0 L131.6,97.9 L126.2,96.9 M161.8,93.2 L166.2,89.9 L160.8,89.1 M28.9,120.0 L32.5,116.0 L27.1,116.3 M57.6,108.9 L62.0,105.8 L56.6,104.8 M92.1,102.3 L96.6,99.3 L91.3,98.1 M126.8,95.9 L131.3,92.9 L126.0,91.8 M161.6,88.3 L165.9,85.0 L160.6,84.2 M28.6,112.9 L32.1,108.8 L26.7,109.1 M57.1,102.2 L61.6,99.2 L56.3,98.1 M91.7,96.7 L96.4,93.9 L91.1,92.6 M126.6,90.8 L131.1,87.8 L125.7,86.7 M161.4,83.4 L165.7,80.0 L160.3,79.3 M28.3,105.1 L31.7,100.9 L26.3,101.4 M56.6,95.3 L61.3,92.5 L56.1,91.1 M91.4,91.2 L96.1,88.5 L90.9,87.0 M126.3,85.8 L130.8,82.8 L125.5,81.7 M161.2,78.5 L165.4,75.2 L160.0,74.5 M28.1,96.1 L31.3,91.7 L25.9,92.5 M56.1,88.1 L61.0,85.8 L55.9,83.9 M91.1,85.8 L95.8,83.1 L90.6,81.6 M126.0,80.8 L130.6,77.8 L125.3,76.7 M161.1,73.9 L165.2,70.4 L159.8,70.0 M162.8,70.3 L164.9,65.3 L159.9,67.3 M55.5,80.9 L60.6,79.0 L55.7,76.7 M16.0,88.1 L16.3,82.7 L12.2,86.3 M18.1,67.0 L20.4,62.1 L15.3,63.8 M45.1,55.5 L49.8,52.8 L44.5,51.4 M72.5,53.4 L77.6,51.3 L72.6,49.2 M104.5,54.8 L109.7,53.2 L104.9,50.6 M138.6,58.9 L143.8,57.5 L139.1,54.7 M18.2,63.9 L21.0,59.3 L15.7,60.5 M45.7,52.9 L50.3,50.1 L45.1,48.7 M73.2,50.4 L78.2,48.2 L73.2,46.2 M105.3,51.3 L110.4,49.6 L105.6,47.1 M139.7,54.4 L144.8,52.7 L140.0,50.2 M18.4,60.8 L21.5,56.4 L16.2,57.2 M46.2,50.1 L50.9,47.3 L45.6,46.0 M73.9,47.3 L78.8,45.1 L73.8,43.1 M106.1,47.6 L111.2,45.8 L106.3,43.4 M140.7,49.8 L145.7,47.9 L140.8,45.6 M18.8,57.7 L22.1,53.4 L16.8,54.0 M46.8,47.3 L51.4,44.4 L46.2,43.1 M74.5,44.1 L79.5,41.9 L74.4,40.0 M106.8,44.0 L111.9,42.1 L107.0,39.8 M141.7,45.3 L146.7,43.2 L141.7,41.1 M20.0,49.8 L23.7,45.8 L18.3,46.0 M48.4,40.0 L52.9,37.1 L47.6,35.9 M76.2,36.2 L81.1,33.8 L75.9,32.0 M108.8,34.8 L113.8,32.7 L108.8,30.6 M144.1,34.2 L149.0,31.8 L143.8,30.0 M21.5,41.6 L25.3,37.8 L19.9,37.8 M50.0,32.3 L54.5,29.3 L49.2,28.2 M78.0,27.9 L82.8,25.4 L77.6,23.7 M110.8,25.4 L115.7,23.1 L110.6,21.3 M146.4,23.2 L151.2,20.6 L146.0,19.0 M23.0,33.1 L26.9,29.4 L21.5,29.2 M51.6,24.2 L56.1,21.1 L50.8,20.1 M79.8,19.3 L84.5,16.6 L79.3,15.1 M112.9,15.8 L117.7,13.3 L112.5,11.6 M148.7,12.2 L153.4,9.5 L148.2,8.1 M24.7,24.4 L28.7,20.7 L23.3,20.4 M53.4,15.7 L57.8,12.6 L52.5,11.6 M81.7,10.4 L86.3,7.6 L81.1,6.2 M115.0,6.0 L119.7,3.3 L114.5,1.8 M151.0,1.3 L155.6,-1.5 L150.4,-2.8 M26.4,15.3 L30.5,11.7 L25.1,11.4 M55.2,6.9 L59.6,3.7 L54.2,2.8 M83.6,1.1 L88.2,-1.8 L82.9,-3.0 M28.2,6.1 L32.3,2.5 L26.9,2.1" fill="none" stroke="#111" stroke-width="0.9" stroke-linejoin="miter"/><path d="M87.9,43.4 L87.9,43.9 L87.8,44.3 L87.6,44.8 L87.4,45.3 L87.1,45.8 L86.6,46.3 L86.2,46.8 L85.6,47.3 L84.9,47.8 L84.2,48.3 L83.4,48.7 L82.5,49.2 L81.6,49.7 L80.6,50.1 L79.6,50.5 L78.4,51.0 L77.2,51.4 L76.0,51.8 L74.7,52.2 L73.4,52.5 L72.0,52.9 L70.6,53.2 L69.2,53.5 L67.7,53.8 L66.2,54.0 L64.6,54.3 L63.1,54.5 L61.5,54.7 L60.0,54.9 L58.4,55.0 L56.8,55.1 L55.2,55.2 L53.7,55.3 L52.1,55.3 L50.6,55.3 L49.1,55.3 L47.6,55.3 L46.1,55.2 L44.7,55.1 L43.3,55.0 L41.9,54.9 L40.6,54.7 L39.4,54.5 L38.1,54.3 L37.0,54.1 L35.9,53.8 L34.9,53.6 L33.9,53.3 L33.0,52.9 L32.2,52.6 L31.4,52.2 L30.7,51.9 L30.1,51.5 L29.6,51.1 L29.1,50.7 L28.8,50.2 L28.5,49.8 L28.3,49.3 L28.1,48.9 L28.1,48.4 L28.1,47.9 L28.3,47.4 L28.5,46.9 L28.8,46.4 L29.1,45.9 L29.6,45.4 L30.1,45.0 L30.7,44.5 L31.4,44.0 L32.2,43.5 L33.0,43.0 L33.9,42.6 L34.9,42.1 L35.9,41.7 L37.0,41.2 L38.2,40.8 L39.4,40.4 L40.6,40.0 L41.9,39.7 L43.3,39.3 L44.7,39.0 L46.1,38.7 L47.6,38.4 L49.1,38.1 L50.6,37.8 L52.1,37.6 L53.7,37.4 L55.2,37.2 L56.8,37.1 L58.4,36.9 L60.0,36.8 L61.5,36.8 L63.1,36.7 L64.7,36.7 L66.2,36.7 L67.7,36.7 L69.2,36.7 L70.6,36.8 L72.0,36.9 L73.4,37.0 L74.7,37.2 L76.0,37.4 L77.3,37.6 L78.4,37.8 L79.6,38.0 L80.6,38.3 L81.6,38.6 L82.6,38.9 L83.4,39.2 L84.2,39.6 L84.9,39.9 L85.6,40.3 L86.2,40.7 L86.6,41.1 L87.1,41.6 L87.4,42.0 L87.6,42.5 L87.8,42.9 L87.9,43.4 M69.9,43.4 L69.9,43.8 L69.9,44.2 L69.8,44.6 L69.7,44.9 L69.5,45.3 L69.2,45.7 L68.9,46.1 L68.6,46.4 L68.2,46.8 L67.8,47.2 L67.3,47.5 L66.8,47.9 L66.3,48.2 L65.7,48.5 L65.0,48.9 L64.4,49.2 L63.7,49.5 L62.9,49.8 L62.2,50.0 L61.4,50.3 L60.5,50.5 L59.7,50.8 L58.8,51.0 L57.9,51.2 L57.0,51.4 L56.1,51.5 L55.2,51.7 L54.3,51.8 L53.3,51.9 L52.4,52.0 L51.4,52.1 L50.5,52.1 L49.5,52.1 L48.6,52.1 L47.7,52.1 L46.8,52.1 L45.9,52.1 L45.0,52.0 L44.1,51.9 L43.3,51.8 L42.5,51.7 L41.7,51.5 L40.9,51.3 L40.2,51.2 L39.5,51.0 L38.8,50.7 L38.2,50.5 L37.6,50.3 L37.1,50.0 L36.6,49.7 L36.1,49.4 L35.7,49.1 L35.3,48.8 L35.0,48.5 L34.7,48.2 L34.5,47.8 L34.3,47.5 L34.2,47.1 L34.1,46.8 L34.1,46.4 L34.1,46.0 L34.1,45.6 L34.3,45.3 L34.4,44.9 L34.6,44.5 L34.9,44.1 L35.2,43.8 L35.6,43.4 L36.0,43.0 L36.4,42.7 L36.9,42.3 L37.5,42.0 L38.0,41.6 L38.6,41.3 L39.3,41.0 L40.0,40.7 L40.7,40.4 L41.5,40.1 L42.2,39.8 L43.0,39.6 L43.9,39.3 L44.7,39.1 L45.6,38.9 L46.5,38.7 L47.4,38.6 L48.3,38.4 L49.3,38.3 L50.2,38.1 L51.2,38.0 L52.1,38.0 L53.0,37.9 L54.0,37.9 L54.9,37.9 L55.9,37.9 L56.8,37.9 L57.7,37.9 L58.6,38.0 L59.4,38.1 L60.3,38.2 L61.1,38.3 L61.9,38.4 L62.7,38.6 L63.4,38.7 L64.2,38.9 L64.8,39.1 L65.5,39.4 L66.1,39.6 L66.7,39.9 L67.2,40.1 L67.7,40.4 L68.1,40.7 L68.5,41.0 L68.8,41.3 L69.2,41.7 L69.4,42.0 L69.6,42.4 L69.8,42.7 L69.9,43.1 L69.9,43.4 M57.0,44.5 L57.0,44.8 L56.9,45.0 L56.9,45.3 L56.8,45.5 L56.7,45.8 L56.5,46.1 L56.3,46.3 L56.1,46.5 L55.9,46.8 L55.6,47.0 L55.4,47.2 L55.1,47.5 L54.7,47.7 L54.4,47.9 L54.0,48.1 L53.6,48.2 L53.2,48.4 L52.8,48.6 L52.4,48.7 L51.9,48.9 L51.5,49.0 L51.0,49.1 L50.5,49.2 L50.0,49.3 L49.5,49.3 L49.0,49.4 L48.4,49.4 L47.9,49.5 L47.4,49.5 L46.9,49.5 L46.3,49.5 L45.8,49.5 L45.3,49.4 L44.8,49.4 L44.3,49.3 L43.8,49.2 L43.3,49.1 L42.8,49.0 L42.3,48.9 L41.8,48.8 L41.4,48.6 L41.0,48.5 L40.6,48.3 L40.2,48.2 L39.8,48.0 L39.4,47.8 L39.1,47.6 L38.8,47.4 L38.5,47.1 L38.2,46.9 L38.0,46.7 L37.8,46.4 L37.6,46.2 L37.4,45.9 L37.3,45.7 L37.2,45.4 L37.1,45.2 L37.0,44.9 L37.0,44.6 L37.0,44.4 L37.0,44.1 L37.1,43.8 L37.2,43.6 L37.3,43.3 L37.4,43.1 L37.6,42.8 L37.8,42.6 L38.0,42.3 L38.2,42.1 L38.5,41.9 L38.8,41.6 L39.1,41.4 L39.4,41.2 L39.8,41.0 L40.2,40.8 L40.6,40.7 L41.0,40.5 L41.4,40.4 L41.8,40.2 L42.3,40.1 L42.8,40.0 L43.3,39.9 L43.8,39.8 L44.3,39.7 L44.8,39.6 L45.3,39.6 L45.8,39.5 L46.3,39.5 L46.9,39.5 L47.4,39.5 L47.9,39.5 L48.4,39.6 L49.0,39.6 L49.5,39.7 L50.0,39.7 L50.5,39.8 L51.0,39.9 L51.5,40.0 L51.9,40.1 L52.4,40.3 L52.8,40.4 L53.2,40.6 L53.6,40.8 L54.0,40.9 L54.4,41.1 L54.7,41.3 L55.1,41.5 L55.4,41.8 L55.6,42.0 L55.9,42.2 L56.1,42.5 L56.3,42.7 L56.5,42.9 L56.7,43.2 L56.8,43.5 L56.9,43.7 L56.9,44.0 L57.0,44.2 L57.0,44.5" fill="none" stroke="#111" stroke-width="0.85"/><path d="M77.1,49.8 L73.6,52.5 L77.9,53.1 M28.0,49.4 L29.6,45.4 L25.6,47.0 M41.1,50.3 L36.8,49.8 L39.5,53.3 " fill="none" stroke="#111" stroke-width="0.9"/><ellipse cx="45" cy="44" rx="4.2" ry="4.0" transform="rotate(0.0 45 44)" fill="#111" stroke="none" stroke-width="0.8"/><ellipse cx="25" cy="59" rx="2.2" ry="2.0" transform="rotate(0.0 25 59)" fill="#111" stroke="none" stroke-width="0.8"/><path d="M19.0,67.0 L19.1,66.3 L19.2,65.6 L19.5,64.9 L19.9,64.3 L21.0,63.0 L22.6,61.7 L24.5,60.5 L27.0,59.3 L29.8,58.2 L33.0,57.2 L36.5,56.3 L40.0,55.5 L44.2,54.8 L48.2,54.2 L52.5,53.8 L56.9,53.5 L61.5,53.3 L66.3,53.2 L75.1,53.3 L84.7,53.8 L95.1,54.8 L106.4,56.1 L118.0,57.8 L131.3,60.0 L146.2,62.7 L164.9,66.3 L146.2,70.1 L131.4,72.9 L118.1,75.2 L106.5,77.0 L95.2,78.5 L84.8,79.5 L75.2,80.1 L66.4,80.4 L61.7,80.3 L57.0,80.2 L52.6,79.9 L48.3,79.5 L44.3,79.0 L40.1,78.3 L36.6,77.6 L33.0,76.7 L29.8,75.7 L27.0,74.6 L24.6,73.5 L22.6,72.3 L21.0,71.0 L19.9,69.7 L19.5,69.1 L19.2,68.4 L19.1,67.7 L19.0,67.0Z" fill="#fff" stroke="#222" stroke-width="0.8"/>
</g>
<rect x="0" y="0" width="1" height="130.4" fill="#8c8c8c"/>
<rect x="175.2" y="0" width="0.9" height="130.4" fill="#d4d4dc"/>
<rect x="1" y="130.4" width="175.2" height="0.8" fill="#dcdce4"/>
</g>
<g transform="translate(523,157)"><g clip-path="url(#cp_r2c3)">
<rect x="0" y="0" width="175.5" height="131" fill="#fff"/><path d="M30.5,53.3 L34.0,53.3 L34.5,53.8 L35.0,53.8 L35.2,54.0 L35.2,54.5 L35.7,55.0 L35.7,55.5 L35.2,56.0 L35.2,56.5 L34.7,57.0 L34.7,57.5 L33.5,58.7 L33.0,58.7 L32.0,59.7 L31.5,59.7 L31.0,60.1 L30.0,60.1 L29.5,60.6 L26.0,60.6 L25.5,60.1 L25.0,60.1 L24.8,59.5 L24.3,59.0 L24.3,58.5 L24.8,58.0 L24.8,57.5 L25.3,57.0 L25.3,56.5 L26.5,55.3 L27.0,55.3 L28.0,54.3 L28.5,54.3 L29.0,53.8 L30.0,53.8 L30.5,53.3Z" fill="#3876ff" fill-rule="evenodd"/><path d="M36.5,49.8 L37.5,49.8 L38.0,50.3 L40.0,50.3 L40.5,50.8 L41.0,50.8 L42.2,52.0 L42.2,54.5 L41.7,55.0 L41.7,55.5 L39.5,57.7 L39.0,57.7 L38.0,58.7 L37.5,58.7 L37.0,59.2 L36.5,59.2 L36.0,59.7 L35.5,59.7 L35.0,60.2 L34.5,60.2 L34.0,60.6 L33.0,60.6 L32.5,61.1 L31.5,61.1 L31.0,61.6 L28.0,61.6 L27.5,62.1 L26.5,62.1 L26.0,61.6 L24.0,61.5 L23.5,61.1 L22.9,61.0 L21.9,60.0 L21.9,57.5 L22.3,57.0 L22.3,56.5 L24.5,54.3 L25.0,54.3 L26.0,53.3 L26.5,53.3 L27.0,52.8 L27.5,52.8 L28.0,52.3 L28.5,52.3 L29.0,51.8 L29.5,51.8 L30.0,51.3 L31.0,51.3 L31.5,50.8 L32.5,50.8 L33.0,50.3 L36.0,50.3 L36.5,49.8Z M30.3,53.5 L30.0,53.8 L29.0,53.8 L28.5,54.3 L28.0,54.3 L27.0,55.3 L26.5,55.3 L25.3,56.5 L25.3,57.0 L24.8,57.5 L24.8,58.0 L24.3,58.5 L24.3,59.0 L24.8,59.5 L25.0,60.1 L25.5,60.1 L26.0,60.6 L29.5,60.6 L30.0,60.1 L31.0,60.1 L31.5,59.7 L32.0,59.7 L33.0,58.7 L33.5,58.7 L34.7,57.5 L34.7,57.0 L35.2,56.5 L35.2,56.0 L35.7,55.5 L35.7,55.0 L35.2,54.5 L35.2,54.0 L35.0,53.8 L34.5,53.8 L34.0,53.3 L30.5,53.3 L30.3,53.5Z" fill="#38adff" fill-rule="evenodd"/><path d="M33.0,29.3 L43.0,29.3 L43.5,29.8 L45.0,29.8 L45.5,30.3 L47.0,30.3 L47.5,30.8 L48.0,30.8 L48.5,31.3 L49.0,31.3 L49.5,31.8 L50.0,31.8 L50.5,32.3 L51.0,32.3 L51.5,32.8 L52.0,32.8 L53.0,33.8 L53.5,33.8 L57.2,37.5 L57.2,38.0 L58.2,39.0 L58.2,39.5 L58.7,40.0 L58.7,40.5 L59.2,41.0 L59.2,42.0 L59.7,42.5 L59.7,49.5 L59.2,50.0 L59.2,51.0 L58.7,51.5 L58.7,52.0 L58.2,52.5 L58.2,53.0 L57.2,54.0 L57.2,54.5 L53.5,58.2 L53.0,58.2 L52.0,59.2 L51.5,59.2 L51.0,59.7 L50.5,59.7 L50.0,60.2 L49.5,60.2 L49.0,60.7 L48.5,60.7 L48.0,61.2 L47.5,61.2 L47.0,61.7 L45.5,61.7 L45.0,62.2 L43.5,62.2 L43.0,62.7 L33.0,62.6 L32.5,62.1 L31.0,62.1 L30.5,61.8 L28.0,61.8 L27.5,62.3 L26.5,62.3 L26.0,61.8 L24.0,61.7 L22.7,61.0 L21.7,60.0 L21.7,57.5 L21.5,57.2 L18.8,54.5 L18.8,54.0 L17.8,53.0 L17.8,52.5 L17.3,52.0 L17.3,51.5 L16.8,51.0 L16.8,50.0 L16.3,49.5 L16.3,42.5 L16.8,42.0 L16.8,41.0 L17.3,40.5 L17.3,40.0 L17.8,39.5 L17.8,39.0 L18.8,38.0 L18.8,37.5 L22.5,33.8 L23.0,33.8 L24.0,32.8 L24.5,32.8 L25.0,32.3 L25.5,32.3 L26.0,31.8 L26.5,31.8 L27.0,31.3 L27.5,31.3 L28.0,30.8 L28.5,30.8 L29.0,30.3 L30.5,30.3 L31.0,29.8 L32.5,29.8 L33.0,29.3Z M36.3,50.0 L36.0,50.3 L33.0,50.3 L32.5,50.8 L31.5,50.8 L31.0,51.3 L30.0,51.3 L29.5,51.8 L29.0,51.8 L28.5,52.3 L28.0,52.3 L27.5,52.8 L27.0,52.8 L26.5,53.3 L26.0,53.3 L25.0,54.3 L24.5,54.3 L22.3,56.5 L22.3,57.0 L21.9,57.5 L21.9,60.0 L22.9,61.0 L23.5,61.1 L24.0,61.5 L26.0,61.6 L26.5,62.1 L27.5,62.1 L28.0,61.6 L31.0,61.6 L31.5,61.1 L32.5,61.1 L33.0,60.6 L34.0,60.6 L34.5,60.2 L35.0,60.2 L35.5,59.7 L36.0,59.7 L36.5,59.2 L37.0,59.2 L37.5,58.7 L38.0,58.7 L39.0,57.7 L39.5,57.7 L41.7,55.5 L41.7,55.0 L42.2,54.5 L42.2,52.0 L41.0,50.8 L40.5,50.8 L40.0,50.3 L38.0,50.3 L37.5,49.8 L36.5,49.8 L36.3,50.0Z" fill="#38ecff" fill-rule="evenodd"/><path d="M36.0,18.2 L48.0,18.2 L48.5,18.7 L51.0,18.7 L51.5,19.2 L53.0,19.2 L53.5,19.7 L54.5,19.8 L55.0,20.3 L56.0,20.3 L56.5,20.8 L57.0,20.8 L57.5,21.3 L58.5,21.3 L59.0,21.8 L59.5,21.8 L60.0,22.3 L60.5,22.3 L61.0,22.8 L61.5,22.9 L62.5,23.9 L63.0,23.9 L64.0,24.9 L64.5,24.9 L70.0,30.5 L70.0,31.0 L71.0,32.0 L71.0,32.5 L71.5,33.0 L71.5,33.5 L72.0,34.0 L72.0,34.5 L72.5,35.0 L72.5,36.0 L73.0,36.5 L73.1,37.5 L73.6,38.0 L73.6,46.0 L73.2,46.5 L73.2,47.5 L72.7,48.0 L72.7,49.0 L72.2,49.5 L72.2,50.0 L71.7,50.5 L71.7,51.0 L71.2,51.5 L71.2,52.0 L70.2,53.0 L70.2,53.5 L64.5,59.2 L64.0,59.2 L63.0,60.2 L62.5,60.2 L61.5,61.2 L61.0,61.2 L60.5,61.7 L60.0,61.7 L59.5,62.2 L59.0,62.2 L58.5,62.7 L57.5,62.7 L57.0,63.2 L56.5,63.2 L56.0,63.7 L55.0,63.7 L54.5,64.1 L53.5,64.1 L53.0,64.6 L51.5,64.6 L51.0,65.1 L48.5,65.1 L48.0,65.6 L36.0,65.5 L35.5,65.0 L33.0,65.0 L32.5,64.5 L31.0,64.5 L30.5,64.0 L29.5,64.0 L29.0,63.6 L28.0,63.6 L27.5,63.1 L27.0,63.1 L26.5,62.6 L25.5,62.6 L25.0,62.1 L24.5,62.1 L22.5,61.1 L21.5,60.1 L21.0,60.1 L20.0,59.1 L19.5,59.1 L13.8,53.5 L13.8,53.0 L12.8,52.0 L12.8,51.5 L12.3,51.0 L12.3,50.5 L11.8,50.0 L11.8,49.5 L11.3,49.0 L11.3,48.0 L10.8,47.5 L10.8,46.5 L10.3,46.0 L10.3,38.0 L10.8,37.5 L10.8,36.5 L11.3,36.0 L11.3,35.0 L11.8,34.5 L11.8,34.0 L12.3,33.5 L12.3,33.0 L12.8,32.5 L12.8,32.0 L13.7,31.0 L13.8,30.5 L19.5,24.7 L20.0,24.7 L21.0,23.7 L21.5,23.7 L22.5,22.7 L23.0,22.7 L23.5,22.2 L24.0,22.2 L24.5,21.7 L25.0,21.7 L25.5,21.2 L26.5,21.2 L27.0,20.7 L27.5,20.7 L28.0,20.2 L29.0,20.2 L29.5,19.7 L30.5,19.7 L31.0,19.2 L32.5,19.2 L33.0,18.7 L35.5,18.7 L36.0,18.2Z M32.8,29.5 L32.5,29.8 L31.0,29.8 L30.5,30.3 L29.0,30.3 L28.5,30.8 L28.0,30.8 L27.5,31.3 L27.0,31.3 L26.5,31.8 L26.0,31.8 L25.5,32.3 L25.0,32.3 L24.5,32.8 L24.0,32.8 L23.0,33.8 L22.5,33.8 L18.8,37.5 L18.8,38.0 L17.8,39.0 L17.8,39.5 L17.3,40.0 L17.3,40.5 L16.8,41.0 L16.8,42.0 L16.3,42.5 L16.3,49.5 L16.8,50.0 L16.8,51.0 L17.3,51.5 L17.3,52.0 L17.8,52.5 L17.8,53.0 L18.8,54.0 L18.8,54.5 L21.5,57.2 L21.7,57.5 L21.7,60.0 L22.7,61.0 L24.0,61.7 L26.0,61.8 L26.5,62.3 L27.5,62.3 L28.0,61.8 L30.5,61.8 L31.0,62.1 L32.5,62.1 L33.0,62.6 L43.0,62.7 L43.5,62.2 L45.0,62.2 L45.5,61.7 L47.0,61.7 L47.5,61.2 L48.0,61.2 L48.5,60.7 L49.0,60.7 L49.5,60.2 L50.0,60.2 L50.5,59.7 L51.0,59.7 L51.5,59.2 L52.0,59.2 L53.0,58.2 L53.5,58.2 L57.2,54.5 L57.2,54.0 L58.2,53.0 L58.2,52.5 L58.7,52.0 L58.7,51.5 L59.2,51.0 L59.2,50.0 L59.7,49.5 L59.7,42.5 L59.2,42.0 L59.2,41.0 L58.7,40.5 L58.7,40.0 L58.2,39.5 L58.2,39.0 L57.2,38.0 L57.2,37.5 L53.5,33.8 L53.0,33.8 L52.0,32.8 L51.5,32.8 L51.0,32.3 L50.5,32.3 L50.0,31.8 L49.5,31.8 L49.0,31.3 L48.5,31.3 L48.0,30.8 L47.5,30.8 L47.0,30.3 L45.5,30.3 L45.0,29.8 L43.5,29.8 L43.0,29.3 L33.0,29.3 L32.8,29.5Z" fill="#38ffd4" fill-rule="evenodd"/><path d="M36.5,7.4 L42.0,7.1 L47.5,7.7 L50.0,8.3 L53.0,9.3 L58.0,11.8 L61.5,14.1 L64.5,16.5 L67.5,19.3 L70.3,22.5 L73.0,26.1 L75.3,30.0 L77.2,34.0 L78.5,38.1 L80.4,40.0 L82.9,42.0 L85.8,44.0 L89.0,45.9 L92.3,47.5 L96.0,49.0 L103.5,51.2 L108.0,52.1 L113.0,52.8 L113.0,53.0 L112.5,53.0 L111.0,54.5 L110.5,54.5 L109.5,55.5 L109.0,55.5 L108.5,56.1 L108.0,56.1 L107.5,56.6 L106.5,56.6 L106.0,57.1 L105.0,57.1 L104.5,57.6 L103.5,57.6 L103.0,58.1 L101.0,58.1 L100.5,58.6 L89.5,58.7 L89.0,58.2 L87.0,58.2 L86.5,57.7 L85.5,57.7 L85.0,57.2 L84.0,57.2 L83.5,56.7 L82.5,56.7 L82.0,56.3 L81.5,56.3 L81.0,55.8 L80.5,55.8 L79.5,54.9 L79.0,54.9 L78.5,54.5 L78.3,54.5 L76.9,56.5 L74.8,58.5 L72.4,60.0 L69.5,61.3 L63.6,63.0 L59.5,63.7 L55.0,64.1 L54.5,64.5 L53.5,64.5 L53.0,64.9 L51.5,65.0 L51.0,65.4 L48.5,65.4 L48.0,65.9 L36.0,65.8 L35.5,65.3 L33.0,65.3 L32.5,64.9 L31.0,64.8 L30.5,64.4 L29.5,64.4 L29.0,63.9 L28.0,63.9 L27.5,63.4 L27.0,63.4 L26.5,62.9 L25.5,62.9 L25.0,62.4 L24.5,62.4 L24.0,62.0 L23.5,62.0 L23.0,61.5 L22.5,61.5 L21.5,60.7 L16.0,59.0 L11.8,57.0 L8.5,54.6 L6.2,52.0 L4.3,48.5 L3.1,44.5 L2.7,40.5 L2.9,36.0 L4.0,31.5 L5.7,27.5 L8.1,23.5 L11.0,20.0 L14.2,17.0 L18.0,14.2 L22.5,11.7 L27.0,9.7 L32.0,8.3 L36.5,7.4Z M35.7,18.5 L35.5,18.7 L33.0,18.7 L32.5,19.2 L31.0,19.2 L30.5,19.7 L29.5,19.7 L29.0,20.2 L28.0,20.2 L27.5,20.7 L27.0,20.7 L26.5,21.2 L25.5,21.2 L25.0,21.7 L24.5,21.7 L24.0,22.2 L23.5,22.2 L23.0,22.7 L22.5,22.7 L21.5,23.7 L21.0,23.7 L20.0,24.7 L19.5,24.7 L13.8,30.5 L13.7,31.0 L12.8,32.0 L12.8,32.5 L12.3,33.0 L12.3,33.5 L11.8,34.0 L11.8,34.5 L11.3,35.0 L11.3,36.0 L10.8,36.5 L10.8,37.5 L10.3,38.0 L10.3,46.0 L10.8,46.5 L10.8,47.5 L11.3,48.0 L11.3,49.0 L11.8,49.5 L11.8,50.0 L12.3,50.5 L12.3,51.0 L12.8,51.5 L12.8,52.0 L13.8,53.0 L13.8,53.5 L19.5,59.1 L20.0,59.1 L21.0,60.1 L21.5,60.1 L22.5,61.1 L24.5,62.1 L25.0,62.1 L25.5,62.6 L26.5,62.6 L27.0,63.1 L27.5,63.1 L28.0,63.6 L29.0,63.6 L29.5,64.0 L30.5,64.0 L31.0,64.5 L32.5,64.5 L33.0,65.0 L35.5,65.0 L36.0,65.5 L48.0,65.6 L48.5,65.1 L51.0,65.1 L51.5,64.6 L53.0,64.6 L53.5,64.1 L54.5,64.1 L55.0,63.7 L56.0,63.7 L56.5,63.2 L57.0,63.2 L57.5,62.7 L58.5,62.7 L59.0,62.2 L59.5,62.2 L60.0,61.7 L60.5,61.7 L61.0,61.2 L61.5,61.2 L62.5,60.2 L63.0,60.2 L64.0,59.2 L64.5,59.2 L70.2,53.5 L70.2,53.0 L71.2,52.0 L71.2,51.5 L71.7,51.0 L71.7,50.5 L72.2,50.0 L72.2,49.5 L72.7,49.0 L72.7,48.0 L73.2,47.5 L73.2,46.5 L73.6,46.0 L73.6,38.0 L73.1,37.5 L73.0,36.5 L72.5,36.0 L72.5,35.0 L72.0,34.5 L72.0,34.0 L71.5,33.5 L71.5,33.0 L71.0,32.5 L71.0,32.0 L70.0,31.0 L70.0,30.5 L64.5,24.9 L64.0,24.9 L63.0,23.9 L62.5,23.9 L61.5,22.9 L61.0,22.8 L60.5,22.3 L60.0,22.3 L59.5,21.8 L59.0,21.8 L58.5,21.3 L57.5,21.3 L57.0,20.8 L56.5,20.8 L56.0,20.3 L55.0,20.3 L54.5,19.8 L53.5,19.7 L53.0,19.2 L51.5,19.2 L51.0,18.7 L48.5,18.7 L48.0,18.2 L36.0,18.2 L35.7,18.5Z" fill="#38ff8e" fill-rule="evenodd"/><path d="M-1.5,-2.0 L83.7,-2.0 L81.9,0.0 L80.7,2.5 L80.3,5.0 L80.6,7.5 L81.3,9.5 L82.5,12.0 L89.3,24.0 L92.5,31.0 L100.5,31.1 L101.0,31.6 L103.0,31.6 L103.5,32.1 L104.5,32.1 L105.0,32.6 L106.0,32.6 L106.5,33.1 L107.5,33.1 L108.0,33.6 L108.5,33.6 L109.0,34.1 L109.5,34.1 L110.5,35.1 L111.0,35.1 L112.5,36.6 L113.0,36.6 L114.4,38.0 L114.4,38.5 L115.9,40.0 L115.9,40.5 L116.4,41.0 L116.4,42.0 L116.9,42.5 L116.9,47.5 L116.4,48.0 L116.4,49.0 L115.9,49.5 L116.0,50.0 L114.5,51.5 L114.5,52.0 L114.0,52.5 L113.0,53.5 L112.5,53.5 L111.0,55.0 L110.5,55.0 L111.9,56.0 L112.3,56.5 L112.3,57.0 L112.0,57.5 L110.0,58.5 L103.0,60.5 L91.8,63.0 L79.2,65.5 L70.0,67.0 L59.5,68.0 L49.5,68.2 L37.5,67.5 L22.0,66.0 L7.0,65.4 L-2.0,65.3 L-2.0,-2.0 L-1.5,-2.0Z M36.0,7.5 L31.5,8.4 L26.5,9.9 L22.0,11.9 L17.5,14.6 L13.6,17.5 L10.5,20.6 L7.8,24.0 L5.5,28.0 L3.9,32.0 L2.9,36.5 L2.7,41.0 L3.2,45.0 L4.3,48.5 L6.2,52.0 L8.5,54.6 L11.8,57.0 L16.0,59.0 L21.5,60.7 L22.5,61.5 L23.0,61.5 L23.5,62.0 L24.0,62.0 L24.5,62.4 L25.0,62.4 L25.5,62.9 L26.5,62.9 L27.0,63.4 L27.5,63.4 L28.0,63.9 L29.0,63.9 L29.5,64.4 L30.5,64.4 L31.0,64.8 L32.5,64.9 L33.0,65.3 L35.5,65.3 L36.0,65.8 L48.0,65.9 L48.5,65.4 L51.0,65.4 L51.5,65.0 L53.0,64.9 L53.5,64.5 L54.5,64.5 L55.0,64.1 L59.5,63.7 L63.6,63.0 L69.5,61.3 L72.4,60.0 L74.8,58.5 L76.9,56.5 L78.3,54.5 L78.5,54.5 L79.0,54.9 L79.5,54.9 L80.5,55.8 L81.0,55.8 L81.5,56.3 L82.0,56.3 L82.5,56.7 L83.5,56.7 L84.0,57.2 L85.0,57.2 L85.5,57.7 L86.5,57.7 L87.0,58.2 L89.0,58.2 L89.5,58.7 L100.5,58.6 L101.0,58.1 L103.0,58.1 L103.5,57.6 L104.5,57.6 L105.0,57.1 L106.0,57.1 L106.5,56.6 L107.5,56.6 L108.0,56.1 L108.5,56.1 L109.0,55.5 L109.5,55.5 L110.5,54.5 L111.0,54.5 L112.5,53.0 L113.0,53.0 L113.0,52.8 L108.0,52.1 L103.5,51.2 L96.0,49.0 L92.3,47.5 L89.0,45.9 L85.8,44.0 L82.9,42.0 L80.4,40.0 L78.5,38.1 L77.2,34.0 L75.3,30.0 L73.0,26.1 L70.3,22.5 L67.5,19.3 L64.5,16.5 L61.5,14.1 L58.0,11.8 L53.0,9.3 L50.0,8.3 L47.5,7.7 L42.0,7.1 L36.0,7.5Z M157.5,-2.0 L177.0,-2.0 L177.0,41.3 L174.5,41.2 L172.5,41.5 L170.5,42.5 L169.0,43.9 L167.9,45.5 L166.9,47.5 L164.5,54.9 L163.6,57.0 L162.0,58.9 L160.0,60.0 L158.0,60.4 L156.0,60.5 L148.5,60.1 L139.6,59.0 L136.9,58.5 L133.3,57.5 L132.3,57.0 L132.0,56.5 L132.1,56.0 L133.3,55.0 L144.0,50.1 L149.0,47.5 L154.9,44.0 L159.8,40.5 L162.5,38.2 L164.5,36.0 L166.1,33.5 L167.5,30.5 L169.0,26.0 L169.6,22.0 L169.5,17.5 L168.7,13.5 L167.1,9.5 L164.7,5.5 L162.0,2.3 L159.6,0.0 L157.1,-2.0 L157.5,-2.0Z" fill="#38ff50" fill-rule="evenodd"/><path d="M83.5,-1.8 L83.7,-2.0 L157.1,-2.0 L157.8,-1.5 L161.7,2.0 L165.0,6.0 L167.4,10.0 L168.9,14.0 L169.6,18.0 L169.6,22.5 L168.7,27.0 L167.1,31.5 L165.5,34.5 L163.6,37.0 L161.1,39.5 L157.8,42.0 L153.0,45.2 L148.0,48.1 L133.3,55.0 L132.1,56.0 L132.0,56.5 L132.3,57.0 L133.3,57.5 L134.8,58.0 L142.9,59.5 L154.0,60.5 L157.5,60.5 L160.0,60.0 L162.0,58.9 L163.6,57.0 L164.5,54.9 L166.9,47.5 L167.9,45.5 L169.0,43.9 L170.5,42.5 L172.5,41.5 L174.5,41.2 L177.0,41.3 L177.0,52.8 L175.4,53.5 L173.8,55.0 L172.5,57.0 L170.0,62.0 L168.9,63.5 L167.8,64.5 L166.0,65.7 L164.0,66.5 L161.5,67.0 L158.5,67.3 L122.0,67.9 L100.5,68.6 L88.0,69.2 L68.5,70.8 L61.0,71.3 L53.0,71.3 L43.0,70.9 L35.5,70.3 L27.0,69.2 L23.5,69.0 L-2.0,70.6 L-2.0,65.3 L7.0,65.4 L22.5,66.0 L37.0,67.5 L46.5,68.1 L53.5,68.2 L60.5,68.0 L66.0,67.5 L72.5,66.6 L87.0,64.0 L105.0,60.0 L110.0,58.5 L112.0,57.5 L112.3,57.0 L112.3,56.5 L111.9,56.0 L110.5,55.0 L111.0,55.0 L112.5,53.5 L113.0,53.5 L114.5,52.0 L114.5,51.5 L116.0,50.0 L115.9,49.5 L116.4,49.0 L116.4,48.0 L116.9,47.5 L116.9,42.5 L116.4,42.0 L116.4,41.0 L115.9,40.5 L115.9,40.0 L114.4,38.5 L114.4,38.0 L113.0,36.6 L112.5,36.6 L111.0,35.1 L110.5,35.1 L109.5,34.1 L109.0,34.1 L108.5,33.6 L108.0,33.6 L107.5,33.1 L106.5,33.1 L106.0,32.6 L105.0,32.6 L104.5,32.1 L103.5,32.1 L103.0,31.6 L101.0,31.6 L100.5,31.1 L92.5,31.0 L89.3,24.0 L82.5,12.0 L80.8,8.0 L80.3,5.5 L80.5,3.0 L81.6,0.5 L83.5,-1.8Z" fill="#57ff38" fill-rule="evenodd"/><path d="M176.5,52.9 L177.0,52.8 L177.0,64.0 L175.5,64.8 L171.3,68.0 L169.0,69.3 L165.5,70.6 L162.0,71.3 L155.0,71.7 L97.0,72.9 L85.0,73.4 L68.0,74.4 L61.0,74.6 L52.0,74.3 L38.0,73.3 L34.0,72.8 L27.0,71.4 L23.5,71.2 L20.0,71.5 L11.5,73.0 L-2.0,74.4 L-2.0,70.6 L21.0,69.0 L26.0,69.1 L35.0,70.3 L42.0,70.8 L51.0,71.3 L58.0,71.3 L66.0,71.0 L87.0,69.3 L100.5,68.6 L124.0,67.9 L155.0,67.5 L160.5,67.2 L163.0,66.7 L165.0,66.1 L166.5,65.4 L168.0,64.3 L170.0,62.0 L172.5,57.0 L173.5,55.3 L175.0,53.8 L176.5,52.9Z" fill="#96ff38" fill-rule="evenodd"/><path d="M176.5,64.2 L177.0,64.0 L177.0,71.9 L175.0,72.5 L170.0,74.9 L167.5,75.9 L164.5,76.7 L160.5,77.2 L154.0,77.5 L103.0,78.5 L73.5,79.6 L67.0,79.6 L59.5,79.1 L37.0,76.2 L33.5,75.5 L27.5,73.6 L24.0,73.2 L22.0,73.3 L20.0,73.7 L14.0,75.8 L11.5,76.4 L-2.0,78.9 L-2.0,74.4 L12.0,73.0 L19.5,71.6 L22.5,71.2 L26.5,71.4 L34.0,72.8 L38.0,73.3 L52.0,74.3 L60.5,74.6 L68.0,74.4 L85.5,73.4 L98.5,72.9 L154.5,71.7 L160.5,71.4 L165.0,70.8 L168.5,69.6 L171.3,68.0 L176.5,64.2Z" fill="#c8f83c" fill-rule="evenodd"/><path d="M176.5,72.0 L177.0,71.9 L177.0,132.5 L-2.0,132.5 L-2.0,104.2 L-1.6,107.0 L-0.8,110.0 L0.3,113.0 L1.4,115.5 L2.8,118.0 L4.6,120.5 L6.5,122.8 L8.8,125.0 L11.0,126.7 L13.5,128.4 L16.0,129.7 L19.0,130.9 L21.5,131.6 L24.5,132.1 L27.0,132.3 L30.0,132.2 L33.0,131.9 L35.5,131.3 L38.5,130.3 L41.0,129.2 L43.5,127.8 L46.0,126.0 L48.0,124.3 L50.0,122.2 L51.8,120.0 L53.5,117.5 L54.8,115.0 L56.1,112.0 L56.9,109.5 L57.7,106.5 L58.1,103.5 L58.2,100.5 L57.8,96.0 L56.7,92.0 L55.6,90.0 L54.5,88.5 L51.8,86.0 L49.4,84.5 L45.8,83.0 L35.0,80.1 L33.0,79.1 L28.0,76.1 L26.2,75.5 L24.5,75.2 L22.0,75.5 L19.5,76.4 L13.5,80.7 L6.9,84.0 L3.8,86.0 L1.3,88.5 L-0.2,91.0 L-1.4,94.0 L-2.0,97.2 L-2.0,78.9 L11.5,76.4 L14.0,75.8 L20.0,73.7 L23.5,73.2 L27.1,73.5 L34.0,75.6 L37.5,76.3 L61.0,79.2 L66.0,79.6 L70.5,79.7 L99.0,78.6 L160.0,77.2 L164.0,76.8 L167.5,75.9 L170.0,74.9 L175.0,72.5 L176.5,72.0Z" fill="#f6f23a" fill-rule="evenodd"/><path d="M22.0,75.5 L24.5,75.2 L27.0,75.7 L28.8,76.5 L33.0,79.1 L35.0,80.1 L37.0,80.7 L45.0,82.7 L48.0,83.9 L50.3,85.0 L53.1,87.0 L55.3,89.5 L56.7,92.0 L57.7,95.5 L58.1,98.0 L58.2,101.0 L58.0,104.0 L57.6,107.0 L56.8,110.0 L55.7,113.0 L54.3,116.0 L52.8,118.5 L51.0,121.0 L49.0,123.3 L47.0,125.2 L44.5,127.1 L42.0,128.7 L39.5,129.9 L37.0,130.9 L34.0,131.7 L31.5,132.1 L28.5,132.3 L25.5,132.2 L22.5,131.8 L19.5,131.0 L17.0,130.1 L14.0,128.7 L11.5,127.1 L9.0,125.2 L7.0,123.3 L5.0,121.0 L3.2,118.5 L1.7,116.0 L0.3,113.0 L-0.6,110.5 L-1.5,107.5 L-2.0,104.2 L-2.0,97.0 L-1.5,94.5 L-0.9,92.5 L0.0,90.5 L1.0,89.0 L2.7,87.0 L5.2,85.0 L13.5,80.7 L19.4,76.5 L22.0,75.5Z M22.7,78.5 L21.5,79.3 L20.8,80.5 L20.5,82.0 L20.8,83.5 L21.5,84.6 L23.0,85.7 L24.5,85.9 L25.5,85.8 L27.0,84.7 L27.7,83.5 L27.9,82.0 L27.5,80.5 L26.9,79.5 L25.5,78.5 L24.0,78.2 L22.7,78.5Z" fill="#fcc83e" fill-rule="evenodd"/><path d="M23.0,78.4 L24.5,78.3 L26.0,78.8 L27.0,79.7 L27.7,81.0 L27.9,82.5 L27.5,84.0 L26.5,85.2 L25.5,85.8 L24.0,85.9 L22.5,85.4 L21.4,84.5 L20.6,83.0 L20.5,81.5 L21.0,80.0 L21.9,79.0 L23.0,78.4Z" fill="#fb7c3a" fill-rule="evenodd"/><path d="M122.4,139.0 L138.5,137.0 L153.5,135.5 L168.5,134.4 L183.5,133.6 M87.5,139.0 L112.5,134.8 L138.0,131.3 L161.0,129.2 L183.5,128.0 M60.6,139.0 L74.0,135.9 L89.0,132.9 L106.0,130.0 L124.0,127.4 L140.0,125.4 L155.0,123.9 L169.0,122.9 L183.5,122.3 M39.4,139.0 L53.5,134.8 L68.5,131.2 L86.0,127.6 L107.0,124.1 L129.5,120.9 L149.0,118.6 L166.5,117.2 L183.5,116.5 M22.3,139.0 L37.5,133.4 L52.0,129.0 L68.0,125.2 L87.0,121.6 L116.5,116.8 L143.0,113.4 L164.0,111.5 L183.5,110.7 M7.8,139.0 L25.0,131.6 L39.5,126.3 L53.5,122.3 L70.0,118.7 L84.5,116.1 L103.5,113.0 L139.5,107.9 L151.5,106.5 L162.5,105.6 L173.0,105.0 L183.5,104.8 M-5.1,139.0 L15.5,129.2 L30.5,122.9 L44.0,118.4 L58.5,114.8 L71.0,112.4 L88.3,109.5 L119.5,104.7 L140.0,101.8 L152.0,100.4 L163.0,99.4 L173.0,98.9 L183.5,98.8 M-8.0,134.4 L14.0,123.3 L27.5,117.2 L39.5,112.9 L52.0,109.7 L61.0,107.9 L73.0,105.9 L144.5,95.2 L155.5,93.9 L165.0,93.1 L174.0,92.7 L183.5,92.7 M-8.0,128.2 L14.0,116.4 L25.5,110.8 L35.5,106.9 L46.0,104.1 L59.0,101.8 L95.5,96.6 L137.0,90.1 L151.5,88.0 L160.5,87.0 L168.0,86.5 L175.5,86.3 L183.5,86.4 M-8.0,121.9 L16.0,108.1 L24.0,103.7 L32.0,100.3 L40.5,97.9 L51.0,96.2 L78.5,93.0 L96.0,90.7 L146.0,82.5 L158.5,80.6 L165.0,79.9 L170.5,79.6 L176.5,79.7 L183.5,80.1 M-8.0,115.5 L3.2,108.5 L23.0,95.4 L28.5,92.6 L34.0,90.8 L42.5,89.7 L70.5,87.9 L92.5,85.4 L114.5,81.9 L151.5,75.0 L165.5,72.7 L169.0,72.4 L173.0,72.4 L183.5,73.5 M166.0,61.7 L174.0,64.4 L183.5,66.8 M-8.0,109.0 L4.1,100.5 L9.1,96.5 L13.6,92.5 L17.6,88.5 L20.9,84.5 L22.8,81.5 L24.4,78.4 M-8.0,103.2 L-1.1,98.0 L4.2,93.5 L8.5,89.2 L11.4,85.5 L13.1,82.5 L14.1,79.5 L14.4,77.0 L14.3,72.0 L14.6,70.0 L15.6,67.5 L17.2,65.5 L20.5,62.9 L24.5,60.8 L31.0,58.5 L38.0,56.8 L48.0,55.1 L59.0,54.0 L68.5,53.6 L78.5,53.5 L84.5,52.9 L87.0,52.3 L89.0,51.6 L96.5,47.5 L99.5,46.2 L102.5,45.3 L112.0,43.7 L117.5,43.0 L127.5,42.2 L144.5,42.0 L152.5,43.2 L157.5,44.4 L160.5,45.4 L162.4,46.5 L165.0,48.5 L171.5,54.8 L174.0,56.8 L178.0,59.0 L183.5,60.9 M-8.0,97.3 L-3.3,93.5 L0.5,90.0 L3.9,86.5 L6.2,83.5 L8.0,80.8 L9.4,78.0 L11.9,70.5 L13.0,68.0 L14.6,65.5 L16.5,63.5 L20.0,60.9 L25.0,58.4 L31.5,56.0 L39.0,54.1 L47.0,52.6 L56.5,51.4 L76.5,49.9 L82.0,49.2 L87.5,47.8 L100.0,43.2 L104.5,42.2 L111.0,41.0 L117.5,40.2 L126.0,39.5 L138.5,39.3 L144.5,39.4 L149.0,39.9 L155.0,41.0 L160.0,42.4 L162.6,43.5 L165.4,45.0 L176.5,52.2 L180.0,54.0 L183.5,55.3 M-8.0,91.3 L-2.5,86.3 L2.0,81.4 L5.5,76.4 L11.1,66.5 L13.5,63.5 L16.0,61.2 L20.5,58.1 L26.0,55.5 L33.0,53.1 L41.0,51.1 L54.5,48.8 L74.5,46.6 L80.5,45.7 L86.5,44.4 L99.5,40.4 L109.5,38.4 L122.0,37.0 L134.0,36.4 L141.5,36.5 L147.5,37.0 L153.5,37.9 L158.5,39.0 L165.3,41.5 L177.5,47.6 L183.5,50.1 M-8.0,85.4 L-3.5,81.0 L0.0,77.1 L10.3,63.5 L13.0,60.8 L16.0,58.4 L21.5,55.0 L27.5,52.4 L35.0,49.9 L44.0,47.7 L55.0,45.8 L79.5,42.3 L86.0,40.9 L99.5,37.4 L108.5,35.6 L120.5,34.2 L132.5,33.6 L140.0,33.6 L146.0,34.0 L152.0,34.7 L157.5,35.8 L166.0,38.3 L183.5,45.3 M-8.0,71.8 L2.6,61.5 L7.0,57.5 L12.5,53.4 L18.5,49.8 L25.5,46.5 L33.5,43.6 L42.5,41.1 L54.0,38.6 L77.0,34.5 L97.0,30.3 L105.5,28.7 L117.5,27.2 L129.5,26.4 L143.0,26.5 L155.0,27.7 L166.5,30.0 L183.5,34.6 M-8.0,60.1 L2.5,52.0 L10.5,46.7 L19.4,42.0 L29.0,38.0 L39.5,34.7 L51.0,31.7 L93.5,23.1 L106.0,21.0 L117.5,19.7 L128.5,18.9 L139.5,18.8 L149.5,19.3 L159.5,20.3 L169.5,21.9 L183.5,24.7 M-8.0,49.9 L1.7,43.5 L11.0,38.3 L20.5,33.8 L30.5,30.0 L41.5,26.5 L54.0,23.2 L71.0,19.4 L89.5,15.8 L102.5,13.6 L114.0,12.2 L125.0,11.3 L136.5,10.9 L147.5,11.1 L158.0,11.8 L169.0,13.0 L183.5,15.0 M-8.0,40.2 L2.0,34.5 L11.5,29.7 L21.5,25.4 L31.5,21.7 L43.0,18.1 L56.0,14.7 L71.0,11.2 L87.0,8.1 L99.5,6.0 L111.5,4.4 L123.0,3.4 L134.5,2.8 L145.5,2.7 L157.0,3.1 L169.0,4.0 L183.5,5.5 M-8.0,30.9 L2.3,25.5 L12.5,20.8 L23.0,16.6 L33.5,12.9 L45.5,9.2 L58.0,5.9 L72.0,2.7 L86.0,-0.1 L98.0,-2.1 L110.0,-3.7 L122.0,-4.9 L133.5,-5.6 L144.5,-5.8 L156.5,-5.7 L169.0,-5.1 L183.5,-4.1 M-8.0,21.5 L2.5,16.5 L12.5,12.1 L23.0,8.1 L33.5,4.4 L45.0,0.9 L57.0,-2.3 L69.5,-5.3 L82.8,-8.0 M-8.0,12.2 L5.0,6.4 L18.5,1.0 L32.0,-3.7 L46.1,-8.0 M-8.0,2.8 L5.5,-2.9 L18.6,-8.0 M-8.0,-6.6 L-4.8,-8.0" fill="none" stroke="#111" stroke-width="0.9" stroke-linejoin="round"/><path d="M126.0,134.9 L130.7,132.2 L125.4,130.8 M158.2,131.5 L163.0,129.0 L157.9,127.3 M91.1,134.7 L95.6,131.7 L90.3,130.5 M125.7,129.2 L130.4,126.5 L125.1,125.1 M157.9,125.7 L162.7,123.3 L157.6,121.5 M56.3,136.2 L60.7,133.0 L55.3,132.1 M90.8,128.9 L95.3,126.0 L90.1,124.8 M125.4,123.5 L130.1,120.8 L124.9,119.3 M157.6,119.9 L162.4,117.5 L157.3,115.7 M56.0,130.1 L60.4,126.9 L55.0,126.0 M90.5,123.1 L95.1,120.2 L89.8,118.9 M125.1,117.7 L129.8,115.0 L124.6,113.6 M157.3,114.0 L162.1,111.6 L157.0,109.9 M24.1,134.2 L28.1,130.4 L22.6,130.2 M55.7,123.9 L60.1,120.8 L54.7,119.8 M90.2,117.2 L94.8,114.4 L89.5,113.1 M124.8,111.9 L129.5,109.2 L124.3,107.7 M157.0,108.1 L161.8,105.6 L156.7,103.9 M23.9,127.8 L27.7,124.0 L22.3,123.8 M55.3,117.6 L59.8,114.5 L54.4,113.5 M89.9,111.4 L94.5,108.5 L89.2,107.2 M124.6,106.1 L129.2,103.3 L124.0,101.9 M156.7,102.0 L161.5,99.6 L156.4,97.8 M23.6,121.1 L27.4,117.2 L22.0,117.2 M54.9,111.2 L59.5,108.2 L54.2,107.0 M89.5,105.5 L94.2,102.7 L88.9,101.4 M124.3,100.2 L128.9,97.4 L123.7,96.0 M156.4,95.8 L161.2,93.3 L156.1,91.7 M23.3,114.1 L27.1,110.2 L21.6,110.2 M54.5,104.6 L59.1,101.7 L53.9,100.4 M89.2,99.7 L93.9,96.8 L88.6,95.5 M124.0,94.3 L128.6,91.4 L123.3,90.1 M156.1,89.5 L160.9,87.0 L155.7,85.3 M23.0,106.5 L26.7,102.5 L21.2,102.6 M54.1,97.9 L58.8,95.3 L53.6,93.7 M88.9,93.8 L93.6,91.0 L88.3,89.7 M123.7,88.3 L128.3,85.4 L123.0,84.2 M155.8,83.0 L160.6,80.4 L155.4,78.9 M22.7,97.7 L26.2,93.6 L20.8,94.0 M53.6,91.1 L58.5,88.8 L53.4,86.9 M88.6,88.1 L93.3,85.3 L88.1,83.9 M123.5,82.4 L128.0,79.4 L122.7,78.3 M155.7,76.4 L160.2,73.5 L154.9,72.3 M2.5,98.0 L4.7,93.0 L-0.4,94.9 M37.5,58.8 L42.1,56.0 L36.9,54.7 M65.1,55.8 L70.1,53.6 L65.1,51.6 M102.4,47.5 L106.9,44.5 L101.6,43.3 M134.4,44.1 L139.4,42.0 L134.4,39.9 M5.7,88.0 L6.8,82.7 L2.2,85.7 M38.1,56.3 L42.7,53.4 L37.4,52.2 M65.9,52.7 L70.8,50.3 L65.7,48.5 M102.9,44.5 L107.5,41.6 L102.2,40.4 M134.9,41.3 L140.0,39.3 L135.0,37.1 M8.9,74.6 L9.5,69.2 L5.2,72.5 M38.7,53.6 L43.2,50.6 L37.9,49.5 M66.7,49.5 L71.4,46.9 L66.3,45.3 M103.5,41.5 L108.1,38.6 L102.8,37.4 M135.5,38.4 L140.5,36.5 L135.6,34.2 M8.9,68.1 L10.7,63.0 L5.8,65.3 M39.3,50.8 L43.8,47.8 L38.5,46.7 M67.5,46.3 L72.1,43.5 L66.9,42.1 M104.1,38.5 L108.7,35.6 L103.4,34.3 M136.0,35.6 L141.1,33.7 L136.2,31.4 M9.7,57.8 L12.7,53.3 L7.4,54.3 M40.8,43.6 L45.2,40.5 L39.9,39.5 M69.3,38.0 L73.8,35.1 L68.5,33.9 M105.5,30.8 L110.2,28.1 L105.0,26.6 M137.4,28.4 L142.5,26.5 L137.6,24.2 M11.0,48.7 L14.4,44.5 L9.0,45.0 M42.4,36.0 L46.8,32.7 L41.4,31.9 M71.0,29.7 L75.5,26.6 L70.2,25.5 M107.1,22.9 L111.8,20.3 L106.6,18.8 M138.9,20.8 L144.0,19.0 L139.1,16.6 M12.5,39.7 L16.2,35.7 L10.8,35.9 M44.1,27.9 L48.4,24.6 L43.0,23.8 M72.7,21.2 L77.2,18.2 L71.9,17.1 M108.6,14.9 L113.4,12.3 L108.2,10.7 M140.6,13.0 L145.6,11.0 L140.7,8.8 M14.2,30.7 L18.0,26.9 L12.5,26.9 M45.8,19.5 L50.1,16.2 L44.7,15.4 M74.4,12.6 L78.9,9.6 L73.6,8.5 M110.3,6.6 L115.0,4.0 L109.8,2.4 M142.2,4.8 L147.3,2.8 L142.3,0.6 M15.9,21.6 L19.8,17.8 L14.3,17.7 M47.5,10.8 L51.8,7.5 L46.5,6.7 M76.1,3.9 L80.6,0.9 L75.3,-0.2 M17.7,12.3 L21.6,8.6 L16.2,8.4 M49.3,1.9 L53.6,-1.4 L48.2,-2.2 M19.5,2.8 L23.5,-0.8 L18.1,-1.1" fill="none" stroke="#111" stroke-width="0.9" stroke-linejoin="miter"/><path d="M163.0,60.0 L162.7,59.4 L162.4,58.5 L162.1,57.5 L161.6,56.3 L161.0,55.1 L160.3,54.0 L159.3,52.9 L158.0,52.0 L156.4,51.2 L154.5,50.4 L152.4,49.7 L150.1,49.0 L147.6,48.4 L145.1,47.8 L142.5,47.4 L140.0,47.0 L137.4,46.7 L134.7,46.6 L131.9,46.5 L129.0,46.4 L126.1,46.5 L123.3,46.6 L120.6,46.8 L118.0,47.0 L115.5,47.3 L112.9,47.8 L110.3,48.3 L107.9,48.9 L105.5,49.5 L103.4,50.0 L101.6,50.6 L100.0,51.0 L98.8,51.3 L97.8,51.6 L97.0,51.9 L96.5,52.1 L96.2,52.3 L96.0,52.5 L95.9,52.7 L96.0,53.0 L96.2,53.3 L96.5,53.7 L97.0,54.0 L97.6,54.4 L98.4,54.8 L99.4,55.2 L100.6,55.6 L102.0,56.0 L103.7,56.5 L105.6,57.0 L107.8,57.5 L110.1,58.0 L112.6,58.5 L115.1,59.0 L117.6,59.5 L120.0,60.0 L122.4,60.4 L125.0,60.8 L127.5,61.2 L130.1,61.6 L132.7,62.0 L135.2,62.3 L137.7,62.7 L140.0,63.0 L142.3,63.3 L144.7,63.6 L147.0,63.9 L149.2,64.2 L151.3,64.4 L153.2,64.7 L154.8,64.9 L156.0,65.0" fill="none" stroke="#111" stroke-width="0.9" stroke-linecap="round"/><path d="M135.9,44.9 L131.9,46.5 L135.8,48.3 M92.5,52.0 L96.5,53.7 L94.9,49.6" fill="none" stroke="#111" stroke-width="0.9"/><path d="M160.0,61.0 L159.6,60.7 L159.2,60.2 L158.6,59.7 L158.1,59.1 L157.4,58.5 L156.7,57.9 L155.9,57.2 L155.0,56.6 L154.1,56.0 L153.1,55.5 L152.0,55.0 L150.8,54.6 L149.5,54.2 L148.1,53.9 L146.6,53.6 L145.1,53.3 L143.4,53.0 L141.8,52.7 L140.1,52.5 L138.4,52.3 L136.7,52.1 L135.0,52.0 L133.3,51.9 L131.4,51.8 L129.5,51.7 L127.6,51.7 L125.6,51.7 L123.7,51.7 L121.7,51.7 L119.9,51.8 L118.1,51.8 L116.5,51.9 L115.0,52.0 L113.6,52.1 L112.2,52.2 L110.8,52.4 L109.4,52.5 L108.2,52.7 L107.0,52.9 L106.0,53.1 L105.2,53.3 L104.5,53.5 L104.1,53.8 L104.0,54.0 L104.1,54.2 L104.5,54.5 L105.2,54.7 L106.0,55.0 L107.0,55.3 L108.2,55.6 L109.4,55.9 L110.8,56.2 L112.2,56.4 L113.6,56.7 L115.0,57.0 L116.5,57.3 L118.1,57.5 L119.8,57.8 L121.6,58.1 L123.5,58.4 L125.4,58.6 L127.3,58.9 L129.3,59.2 L131.2,59.5 L133.1,59.7 L135.0,60.0 L136.9,60.3 L138.9,60.6 L141.0,60.9 L143.1,61.2 L145.2,61.5 L147.3,61.8 L149.2,62.1 L151.0,62.4 L152.6,62.6 L153.9,62.8 L155.0,63.0" fill="none" stroke="#111" stroke-width="0.8" stroke-linecap="round"/><path d="M107.9,57.3 L112.2,56.4 L108.6,54.0" fill="none" stroke="#111" stroke-width="0.9"/><path d="M157.9,56.3 L158.0,56.6 L157.9,56.9 L157.9,57.2 L157.7,57.6 L157.6,57.9 L157.4,58.2 L157.2,58.5 L156.9,58.8 L156.6,59.1 L156.3,59.5 L155.9,59.8 L155.5,60.1 L155.1,60.3 L154.7,60.6 L154.2,60.9 L153.7,61.2 L153.1,61.4 L152.5,61.7 L151.9,61.9 L151.3,62.1 L150.7,62.3 L150.0,62.5 L149.4,62.7 L148.7,62.8 L148.0,63.0 L147.3,63.1 L146.5,63.2 L145.8,63.3 L145.1,63.4 L144.3,63.5 L143.6,63.5 L142.9,63.6 L142.1,63.6 L141.4,63.6 L140.7,63.6 L140.0,63.6 L139.3,63.5 L138.6,63.4 L137.9,63.4 L137.3,63.3 L136.6,63.1 L136.0,63.0 L135.4,62.9 L134.9,62.7 L134.3,62.5 L133.8,62.3 L133.3,62.1 L132.8,61.9 L132.4,61.7 L132.0,61.4 L131.7,61.2 L131.3,60.9 L131.0,60.7 L130.8,60.4 L130.6,60.1 L130.4,59.8 L130.2,59.5 L130.1,59.2 L130.1,58.9 L130.0,58.6 L130.1,58.2 L130.1,57.9 L130.2,57.6 L130.3,57.3 L130.5,57.0 L130.7,56.6 L130.9,56.3 L131.2,56.0 L131.5,55.7 L131.9,55.4 L132.2,55.1 L132.7,54.8 L133.1,54.5 L133.6,54.2 L134.1,54.0 L134.6,53.7 L135.2,53.5 L135.8,53.2 L136.4,53.0 L137.0,52.8 L137.6,52.6 L138.3,52.4 L139.0,52.2 L139.7,52.1 L140.4,51.9 L141.1,51.8 L141.8,51.7 L142.6,51.6 L143.3,51.5 L144.0,51.5 L144.8,51.4 L145.5,51.4 L146.2,51.4 L147.0,51.4 L147.7,51.4 L148.4,51.5 L149.1,51.5 L149.7,51.6 L150.4,51.7 L151.1,51.8 L151.7,51.9 L152.3,52.1 L152.9,52.2 L153.4,52.4 L154.0,52.6 L154.5,52.8 L154.9,53.0 L155.4,53.2 L155.8,53.4 L156.2,53.7 L156.5,53.9 L156.8,54.2 L157.1,54.5 L157.3,54.8 L157.5,55.1 L157.7,55.4 L157.8,55.7 L157.9,56.0 L157.9,56.3 M152.0,57.5 L152.0,57.7 L152.0,57.9 L151.9,58.1 L151.8,58.3 L151.7,58.5 L151.6,58.7 L151.5,58.9 L151.3,59.1 L151.1,59.2 L150.9,59.4 L150.7,59.6 L150.4,59.7 L150.2,59.9 L149.9,60.1 L149.6,60.2 L149.3,60.3 L149.0,60.5 L148.7,60.6 L148.3,60.7 L147.9,60.8 L147.6,60.9 L147.2,61.0 L146.8,61.1 L146.4,61.1 L146.0,61.2 L145.6,61.2 L145.2,61.3 L144.7,61.3 L144.3,61.3 L143.9,61.3 L143.5,61.3 L143.1,61.3 L142.6,61.2 L142.2,61.2 L141.8,61.2 L141.4,61.1 L141.0,61.0 L140.6,60.9 L140.2,60.9 L139.9,60.8 L139.5,60.6 L139.2,60.5 L138.8,60.4 L138.5,60.3 L138.2,60.1 L137.9,60.0 L137.7,59.8 L137.4,59.7 L137.2,59.5 L137.0,59.3 L136.8,59.1 L136.6,59.0 L136.5,58.8 L136.3,58.6 L136.2,58.4 L136.1,58.2 L136.1,58.0 L136.0,57.8 L136.0,57.6 L136.0,57.4 L136.0,57.2 L136.1,57.0 L136.1,56.8 L136.2,56.6 L136.3,56.4 L136.5,56.2 L136.6,56.0 L136.8,55.9 L137.0,55.7 L137.2,55.5 L137.4,55.3 L137.7,55.2 L137.9,55.0 L138.2,54.9 L138.5,54.7 L138.8,54.6 L139.2,54.5 L139.5,54.4 L139.9,54.2 L140.2,54.1 L140.6,54.1 L141.0,54.0 L141.4,53.9 L141.8,53.8 L142.2,53.8 L142.6,53.8 L143.1,53.7 L143.5,53.7 L143.9,53.7 L144.3,53.7 L144.7,53.7 L145.2,53.7 L145.6,53.8 L146.0,53.8 L146.4,53.9 L146.8,53.9 L147.2,54.0 L147.6,54.1 L147.9,54.2 L148.3,54.3 L148.7,54.4 L149.0,54.5 L149.3,54.7 L149.6,54.8 L149.9,54.9 L150.2,55.1 L150.4,55.3 L150.7,55.4 L150.9,55.6 L151.1,55.8 L151.3,55.9 L151.5,56.1 L151.6,56.3 L151.7,56.5 L151.8,56.7 L151.9,56.9 L152.0,57.1 L152.0,57.3 L152.0,57.5" fill="none" stroke="#111" stroke-width="0.85"/><path d="M158.2,55.5 L156.3,59.4 L160.5,58.0 M129.8,60.8 L130.7,56.6 L127.0,58.9 " fill="none" stroke="#111" stroke-width="0.9"/><ellipse cx="144" cy="57.4" rx="3.6" ry="3.4" transform="rotate(0.0 144 57.4)" fill="#111" stroke="none" stroke-width="0.8"/><path d="M16.2,70.6 L16.2,69.9 L16.4,69.3 L16.6,68.6 L17.0,68.0 L18.1,66.7 L19.5,65.5 L21.4,64.3 L23.7,63.1 L26.4,62.0 L29.4,61.0 L32.8,60.1 L36.1,59.3 L40.1,58.5 L43.9,57.9 L48.0,57.5 L52.2,57.1 L56.7,56.8 L61.2,56.7 L69.6,56.7 L78.8,57.0 L88.7,57.7 L99.7,58.9 L110.7,60.3 L123.5,62.2 L137.7,64.6 L155.7,67.7 L137.9,71.6 L123.8,74.5 L111.1,77.0 L100.1,78.8 L89.2,80.4 L79.4,81.6 L70.2,82.3 L61.8,82.7 L57.2,82.7 L52.8,82.6 L48.5,82.4 L44.5,82.1 L40.6,81.7 L36.6,81.1 L33.2,80.4 L29.8,79.6 L26.7,78.7 L24.0,77.7 L21.7,76.7 L19.7,75.6 L18.2,74.4 L17.1,73.2 L16.7,72.6 L16.4,71.9 L16.3,71.3 L16.2,70.6Z" fill="#fff" stroke="#222" stroke-width="0.8"/>
</g>
<rect x="0" y="0" width="1" height="130.4" fill="#8c8c8c"/>
<rect x="175.2" y="0" width="0.9" height="130.4" fill="#d4d4dc"/>
<rect x="1" y="130.4" width="175.2" height="0.8" fill="#dcdce4"/>
</g>
<g transform="translate(138,302)"><g clip-path="url(#cp_r3c1)">
<rect x="0" y="0" width="175.5" height="131" fill="#fff"/><path d="M23.5,59.3 L24.0,59.8 L24.5,59.8 L25.2,60.5 L25.2,62.0 L24.7,62.5 L24.7,63.0 L22.5,65.2 L22.0,65.2 L20.7,66.0 L19.0,66.0 L18.5,66.5 L18.0,66.0 L17.3,66.0 L16.8,65.5 L16.8,64.0 L17.3,63.5 L17.3,63.0 L19.5,60.8 L20.0,60.8 L20.5,60.3 L21.0,60.3 L21.5,59.8 L23.0,59.8 L23.5,59.3Z" fill="#3876ff" fill-rule="evenodd"/><path d="M27.0,55.8 L31.0,55.8 L31.7,56.5 L31.7,58.5 L31.2,59.0 L31.2,59.5 L28.0,62.7 L27.5,62.7 L26.5,63.6 L26.0,63.6 L25.5,64.1 L25.0,64.1 L24.5,64.6 L24.0,64.6 L23.5,65.1 L23.0,65.1 L22.5,65.6 L21.5,65.6 L21.0,66.1 L19.0,66.1 L18.5,66.6 L18.0,66.1 L17.0,66.1 L16.4,65.5 L16.4,63.5 L16.9,63.0 L16.9,62.5 L20.0,59.3 L20.5,59.3 L21.5,58.3 L22.0,58.3 L22.5,57.8 L23.0,57.8 L23.5,57.3 L24.0,57.3 L24.5,56.8 L25.0,56.8 L25.5,56.3 L26.5,56.3 L27.0,55.8Z M23.3,59.5 L23.0,59.8 L21.5,59.8 L21.0,60.3 L20.5,60.3 L20.0,60.8 L19.5,60.8 L17.3,63.0 L17.3,63.5 L16.8,64.0 L16.8,65.5 L17.3,66.0 L18.0,66.0 L18.5,66.5 L19.0,66.0 L20.7,66.0 L22.0,65.2 L22.5,65.2 L24.7,63.0 L24.7,62.5 L25.2,62.0 L25.2,60.5 L24.5,59.8 L24.0,59.8 L23.5,59.3 L23.3,59.5Z" fill="#38adff" fill-rule="evenodd"/><path d="M39.0,36.3 L43.5,36.3 L44.0,36.8 L47.5,36.8 L48.0,37.3 L49.5,37.3 L50.0,37.8 L51.0,37.8 L51.5,38.3 L52.0,38.3 L52.5,38.8 L53.0,38.8 L53.5,39.3 L54.0,39.3 L55.0,40.3 L55.5,40.3 L56.7,41.5 L56.7,42.0 L57.7,43.0 L57.7,43.5 L58.2,44.0 L58.2,45.0 L58.7,45.5 L58.7,48.0 L58.2,48.5 L58.2,50.0 L57.7,50.5 L57.7,51.0 L56.7,52.0 L56.7,52.5 L52.0,57.2 L51.5,57.2 L50.5,58.2 L50.0,58.2 L49.5,58.7 L49.0,58.7 L48.5,59.2 L48.0,59.2 L47.5,59.7 L47.0,59.7 L46.5,60.2 L46.0,60.2 L45.5,60.7 L45.0,60.7 L44.5,61.2 L43.5,61.2 L43.0,61.7 L42.0,61.7 L41.5,62.2 L40.0,62.2 L39.5,62.7 L37.5,62.7 L37.0,63.2 L33.5,63.2 L33.0,63.7 L28.5,63.7 L28.0,63.2 L27.5,63.2 L27.0,63.4 L26.5,63.9 L25.0,64.2 L24.5,64.7 L24.0,64.7 L23.5,65.2 L23.0,65.2 L22.5,65.7 L21.5,65.7 L21.0,66.2 L19.0,66.2 L18.5,66.7 L18.0,66.2 L17.0,66.2 L16.3,65.5 L16.3,63.5 L16.8,63.0 L16.8,62.5 L18.3,61.0 L17.0,59.6 L16.5,59.6 L15.4,58.5 L15.3,58.0 L14.3,57.0 L14.3,56.5 L13.8,56.0 L13.8,55.0 L13.3,54.5 L13.2,52.0 L13.8,51.5 L13.8,50.0 L14.2,49.5 L14.2,49.0 L15.2,48.0 L15.2,47.5 L20.0,42.8 L20.5,42.8 L21.5,41.8 L22.0,41.8 L22.5,41.2 L23.0,41.2 L23.5,40.8 L24.0,40.8 L24.5,40.2 L25.0,40.2 L25.5,39.8 L26.0,39.8 L26.5,39.2 L27.0,39.2 L27.5,38.8 L28.5,38.8 L29.0,38.2 L30.0,38.2 L30.5,37.8 L32.0,37.8 L32.5,37.3 L34.5,37.3 L35.0,36.8 L38.5,36.8 L39.0,36.3Z M26.8,56.0 L26.5,56.3 L25.5,56.3 L25.0,56.8 L24.5,56.8 L24.0,57.3 L23.5,57.3 L23.0,57.8 L22.5,57.8 L22.0,58.3 L21.5,58.3 L20.5,59.3 L20.0,59.3 L16.9,62.5 L16.9,63.0 L16.4,63.5 L16.4,65.5 L17.0,66.1 L18.0,66.1 L18.5,66.6 L19.0,66.1 L21.0,66.1 L21.5,65.6 L22.5,65.6 L23.0,65.1 L23.5,65.1 L24.0,64.6 L24.5,64.6 L25.0,64.1 L25.5,64.1 L26.0,63.6 L26.5,63.6 L27.5,62.7 L28.0,62.7 L31.2,59.5 L31.2,59.0 L31.7,58.5 L31.7,56.5 L31.0,55.8 L27.0,55.8 L26.8,56.0Z" fill="#38ecff" fill-rule="evenodd"/><path d="M40.0,16.3 L56.0,16.2 L56.5,16.7 L59.5,16.7 L60.0,17.2 L62.0,17.2 L62.5,17.7 L64.0,17.7 L64.5,18.2 L65.5,18.2 L66.0,18.7 L67.5,18.7 L68.0,19.2 L69.0,19.2 L69.5,19.7 L70.0,19.7 L70.5,20.2 L71.5,20.2 L72.0,20.7 L72.5,20.7 L73.0,21.2 L73.5,21.2 L74.0,21.7 L74.5,21.7 L75.0,22.2 L75.5,22.2 L76.0,22.7 L76.5,22.7 L77.0,23.2 L77.5,23.2 L78.5,24.2 L79.0,24.2 L80.5,25.7 L81.0,25.7 L86.3,31.0 L86.3,31.5 L87.3,32.5 L87.3,33.0 L87.8,33.5 L87.8,34.0 L88.3,34.5 L88.3,35.0 L88.8,35.5 L88.8,36.0 L89.3,36.5 L89.3,38.0 L89.8,38.5 L89.8,45.5 L89.3,46.0 L89.3,47.5 L88.8,48.0 L88.8,48.5 L88.3,49.0 L88.3,49.5 L87.8,50.0 L87.8,50.5 L87.3,51.0 L87.3,51.5 L86.3,52.5 L86.3,53.0 L81.0,58.2 L80.5,58.2 L79.0,59.7 L78.5,59.7 L77.5,60.7 L77.0,60.7 L76.5,61.2 L76.0,61.2 L75.5,61.7 L75.0,61.7 L74.5,62.2 L74.0,62.2 L73.5,62.7 L73.0,62.7 L72.5,63.2 L72.0,63.2 L71.5,63.7 L70.5,63.7 L70.0,64.2 L69.5,64.2 L69.0,64.7 L68.0,64.7 L67.5,65.1 L66.0,65.2 L65.5,65.6 L64.5,65.6 L64.0,66.1 L62.5,66.1 L62.0,66.6 L60.0,66.6 L59.5,67.1 L56.5,67.1 L56.0,67.6 L40.0,67.6 L39.5,67.1 L36.5,67.1 L36.0,66.6 L34.0,66.6 L33.5,66.1 L32.0,66.1 L31.5,65.6 L30.5,65.6 L30.0,65.1 L28.5,65.1 L28.0,64.6 L27.0,64.6 L26.5,64.1 L25.0,64.3 L24.5,64.8 L24.0,64.8 L23.5,65.3 L23.0,65.3 L22.5,65.8 L21.5,65.8 L21.0,66.3 L19.0,66.3 L18.5,66.8 L18.0,66.3 L17.0,66.3 L16.2,65.5 L16.2,63.5 L16.7,63.0 L16.7,62.5 L18.1,61.0 L17.0,59.8 L16.5,59.8 L9.8,53.0 L9.8,52.5 L8.8,51.5 L8.8,51.0 L8.3,50.5 L8.3,50.0 L7.8,49.5 L7.8,49.0 L7.3,48.5 L7.3,48.0 L6.8,47.5 L6.8,46.0 L6.3,45.5 L6.3,42.0 L6.3,38.5 L6.8,38.0 L6.8,36.5 L7.3,36.0 L7.3,35.5 L7.8,35.0 L7.8,34.5 L8.3,34.0 L8.3,33.5 L8.8,33.0 L8.8,32.5 L9.8,31.5 L9.8,31.0 L15.0,25.8 L15.5,25.8 L17.0,24.3 L17.5,24.3 L18.5,23.3 L19.0,23.3 L19.5,22.8 L20.0,22.8 L20.5,22.3 L21.0,22.3 L21.5,21.8 L22.0,21.8 L22.5,21.3 L23.0,21.3 L23.5,20.8 L24.0,20.8 L24.5,20.3 L25.5,20.3 L26.0,19.8 L26.5,19.8 L27.0,19.3 L28.0,19.3 L28.5,18.8 L30.0,18.8 L30.5,18.3 L31.5,18.3 L32.0,17.8 L33.5,17.8 L34.0,17.3 L36.0,17.3 L36.5,16.8 L39.5,16.8 L40.0,16.3Z M38.8,36.5 L38.5,36.8 L35.0,36.8 L34.5,37.3 L32.5,37.3 L32.0,37.8 L30.5,37.8 L30.0,38.2 L29.0,38.2 L28.5,38.8 L27.5,38.8 L27.0,39.2 L26.5,39.2 L26.0,39.8 L25.5,39.8 L25.0,40.2 L24.5,40.2 L24.0,40.8 L23.5,40.8 L23.0,41.2 L22.5,41.2 L22.0,41.8 L21.5,41.8 L20.5,42.8 L20.0,42.8 L15.2,47.5 L15.2,48.0 L14.2,49.0 L14.2,49.5 L13.8,50.0 L13.8,51.5 L13.2,52.0 L13.3,54.5 L13.8,55.0 L13.8,56.0 L14.3,56.5 L14.3,57.0 L15.3,58.0 L15.4,58.5 L16.5,59.6 L17.0,59.6 L18.3,61.0 L16.8,62.5 L16.8,63.0 L16.3,63.5 L16.3,65.5 L17.0,66.2 L18.0,66.2 L18.5,66.7 L19.0,66.2 L21.0,66.2 L21.5,65.7 L22.5,65.7 L23.0,65.2 L23.5,65.2 L24.0,64.7 L24.5,64.7 L25.0,64.2 L26.5,63.9 L27.0,63.4 L27.5,63.2 L28.0,63.2 L28.5,63.7 L33.0,63.7 L33.5,63.2 L37.0,63.2 L37.5,62.7 L39.5,62.7 L40.0,62.2 L41.5,62.2 L42.0,61.7 L43.0,61.7 L43.5,61.2 L44.5,61.2 L45.0,60.7 L45.5,60.7 L46.0,60.2 L46.5,60.2 L47.0,59.7 L47.5,59.7 L48.0,59.2 L48.5,59.2 L49.0,58.7 L49.5,58.7 L50.0,58.2 L50.5,58.2 L51.5,57.2 L52.0,57.2 L56.7,52.5 L56.7,52.0 L57.7,51.0 L57.7,50.5 L58.2,50.0 L58.2,48.5 L58.7,48.0 L58.7,45.5 L58.2,45.0 L58.2,44.0 L57.7,43.5 L57.7,43.0 L56.7,42.0 L56.7,41.5 L55.5,40.3 L55.0,40.3 L54.0,39.3 L53.5,39.3 L53.0,38.8 L52.5,38.8 L52.0,38.3 L51.5,38.3 L51.0,37.8 L50.0,37.8 L49.5,37.3 L48.0,37.3 L47.5,36.8 L44.0,36.8 L43.5,36.3 L39.0,36.3 L38.8,36.5Z" fill="#38ffd4" fill-rule="evenodd"/><path d="M49.5,6.5 L56.0,6.4 L63.0,6.7 L69.5,7.4 L76.0,8.7 L81.0,10.2 L85.5,12.1 L89.5,14.5 L93.0,17.4 L96.7,21.5 L100.0,26.5 L102.6,32.0 L103.7,35.0 L104.5,38.0 L105.3,43.5 L105.3,46.0 L105.0,48.5 L104.6,50.5 L103.8,52.5 L103.0,54.0 L101.8,55.5 L99.4,57.5 L95.6,59.5 L91.3,61.0 L86.0,62.2 L78.1,63.5 L70.5,64.3 L69.5,64.5 L69.0,65.0 L68.0,65.0 L67.5,65.4 L66.0,65.5 L65.5,65.9 L64.5,65.9 L64.0,66.4 L62.5,66.4 L62.0,66.9 L60.0,66.9 L59.5,67.4 L56.5,67.4 L56.0,67.8 L40.0,67.8 L39.5,67.4 L36.5,67.3 L36.0,66.9 L34.0,66.9 L33.5,66.4 L32.0,66.4 L31.5,65.9 L30.5,65.9 L30.0,65.4 L28.5,65.4 L28.0,64.9 L27.0,64.9 L26.5,64.4 L25.0,64.5 L24.5,65.0 L24.0,65.0 L23.5,65.4 L23.0,65.4 L22.5,65.9 L21.5,65.9 L21.0,66.4 L19.0,66.4 L18.5,66.9 L18.0,66.4 L17.0,66.4 L16.1,65.5 L16.0,63.5 L16.5,63.0 L16.5,62.5 L18.0,61.0 L12.3,59.0 L9.0,57.5 L5.7,55.5 L3.2,53.5 L1.4,51.5 L-0.1,49.5 L-1.1,47.5 L-2.0,45.2 L-2.0,34.3 L-1.0,31.5 L0.6,28.5 L2.8,25.5 L5.0,23.1 L9.0,19.6 L13.5,16.6 L18.5,13.9 L24.0,11.6 L30.0,9.7 L36.0,8.2 L42.5,7.1 L49.5,6.5Z M39.8,16.5 L39.5,16.8 L36.5,16.8 L36.0,17.3 L34.0,17.3 L33.5,17.8 L32.0,17.8 L31.5,18.3 L30.5,18.3 L30.0,18.8 L28.5,18.8 L28.0,19.3 L27.0,19.3 L26.5,19.8 L26.0,19.8 L25.5,20.3 L24.5,20.3 L24.0,20.8 L23.5,20.8 L23.0,21.3 L22.5,21.3 L22.0,21.8 L21.5,21.8 L21.0,22.3 L20.5,22.3 L20.0,22.8 L19.5,22.8 L19.0,23.3 L18.5,23.3 L17.5,24.3 L17.0,24.3 L15.5,25.8 L15.0,25.8 L9.8,31.0 L9.8,31.5 L8.8,32.5 L8.8,33.0 L8.3,33.5 L8.3,34.0 L7.8,34.5 L7.8,35.0 L7.3,35.5 L7.3,36.0 L6.8,36.5 L6.8,38.0 L6.3,38.5 L6.3,42.0 L6.3,45.5 L6.8,46.0 L6.8,47.5 L7.3,48.0 L7.3,48.5 L7.8,49.0 L7.8,49.5 L8.3,50.0 L8.3,50.5 L8.8,51.0 L8.8,51.5 L9.8,52.5 L9.8,53.0 L16.5,59.8 L17.0,59.8 L18.1,61.0 L16.7,62.5 L16.7,63.0 L16.2,63.5 L16.2,65.5 L17.0,66.3 L18.0,66.3 L18.5,66.8 L19.0,66.3 L21.0,66.3 L21.5,65.8 L22.5,65.8 L23.0,65.3 L23.5,65.3 L24.0,64.8 L24.5,64.8 L25.0,64.3 L26.5,64.1 L27.0,64.6 L28.0,64.6 L28.5,65.1 L30.0,65.1 L30.5,65.6 L31.5,65.6 L32.0,66.1 L33.5,66.1 L34.0,66.6 L36.0,66.6 L36.5,67.1 L39.5,67.1 L40.0,67.6 L56.0,67.6 L56.5,67.1 L59.5,67.1 L60.0,66.6 L62.0,66.6 L62.5,66.1 L64.0,66.1 L64.5,65.6 L65.5,65.6 L66.0,65.2 L67.5,65.1 L68.0,64.7 L69.0,64.7 L69.5,64.2 L70.0,64.2 L70.5,63.7 L71.5,63.7 L72.0,63.2 L72.5,63.2 L73.0,62.7 L73.5,62.7 L74.0,62.2 L74.5,62.2 L75.0,61.7 L75.5,61.7 L76.0,61.2 L76.5,61.2 L77.0,60.7 L77.5,60.7 L78.5,59.7 L79.0,59.7 L80.5,58.2 L81.0,58.2 L86.3,53.0 L86.3,52.5 L87.3,51.5 L87.3,51.0 L87.8,50.5 L87.8,50.0 L88.3,49.5 L88.3,49.0 L88.8,48.5 L88.8,48.0 L89.3,47.5 L89.3,46.0 L89.8,45.5 L89.8,38.5 L89.3,38.0 L89.3,36.5 L88.8,36.0 L88.8,35.5 L88.3,35.0 L88.3,34.5 L87.8,34.0 L87.8,33.5 L87.3,33.0 L87.3,32.5 L86.3,31.5 L86.3,31.0 L81.0,25.7 L80.5,25.7 L79.0,24.2 L78.5,24.2 L77.5,23.2 L77.0,23.2 L76.5,22.7 L76.0,22.7 L75.5,22.2 L75.0,22.2 L74.5,21.7 L74.0,21.7 L73.5,21.2 L73.0,21.2 L72.5,20.7 L72.0,20.7 L71.5,20.2 L70.5,20.2 L70.0,19.7 L69.5,19.7 L69.0,19.2 L68.0,19.2 L67.5,18.7 L66.0,18.7 L65.5,18.2 L64.5,18.2 L64.0,17.7 L62.5,17.7 L62.0,17.2 L60.0,17.2 L59.5,16.7 L56.5,16.7 L56.0,16.2 L40.0,16.3 L39.8,16.5Z" fill="#38ff8e" fill-rule="evenodd"/><path d="M-1.5,-2.0 L116.4,-2.0 L115.0,1.5 L114.3,5.0 L114.2,9.0 L114.8,13.0 L117.0,20.0 L121.7,32.5 L126.5,46.0 L130.1,55.0 L130.6,57.5 L130.2,59.0 L129.5,60.0 L128.3,61.0 L125.3,62.5 L120.3,64.0 L115.6,65.0 L109.2,66.0 L100.6,67.0 L89.3,68.0 L77.5,68.8 L59.0,69.4 L41.0,69.1 L27.0,68.4 L-2.0,66.1 L-2.0,45.2 L-0.9,48.0 L0.6,50.5 L2.2,52.5 L4.5,54.6 L7.2,56.5 L10.0,58.0 L13.5,59.5 L18.0,61.0 L16.5,62.5 L16.5,63.0 L16.0,63.5 L16.1,65.5 L17.0,66.4 L18.0,66.4 L18.5,66.9 L19.0,66.4 L21.0,66.4 L21.5,65.9 L22.5,65.9 L23.0,65.4 L23.5,65.4 L24.0,65.0 L24.5,65.0 L25.0,64.5 L26.5,64.4 L27.0,64.9 L28.0,64.9 L28.5,65.4 L30.0,65.4 L30.5,65.9 L31.5,65.9 L32.0,66.4 L33.5,66.4 L34.0,66.9 L36.0,66.9 L36.5,67.3 L39.5,67.4 L40.0,67.8 L56.0,67.8 L56.5,67.4 L59.5,67.4 L60.0,66.9 L62.0,66.9 L62.5,66.4 L64.0,66.4 L64.5,65.9 L65.5,65.9 L66.0,65.5 L67.5,65.4 L68.0,65.0 L69.0,65.0 L69.5,64.5 L70.5,64.3 L79.0,63.4 L87.2,62.0 L92.9,60.5 L96.8,59.0 L99.0,57.8 L100.7,56.5 L102.2,55.0 L103.3,53.5 L104.2,51.5 L104.8,49.5 L105.2,47.5 L105.3,45.0 L105.1,41.5 L104.5,38.0 L103.5,34.4 L102.0,30.5 L100.0,26.5 L98.0,23.3 L95.5,20.0 L93.0,17.4 L90.5,15.3 L87.5,13.2 L84.5,11.6 L81.5,10.4 L78.0,9.2 L74.0,8.3 L69.5,7.4 L64.5,6.8 L58.5,6.4 L53.0,6.4 L47.5,6.6 L42.0,7.2 L36.5,8.1 L31.5,9.2 L26.5,10.7 L21.5,12.6 L17.0,14.6 L13.0,16.9 L9.5,19.2 L6.1,22.0 L3.2,25.0 L1.0,28.0 L-0.7,31.0 L-2.0,34.3 L-2.0,-2.0 L-1.5,-2.0Z" fill="#38ff50" fill-rule="evenodd"/><path d="M116.5,-2.0 L177.0,-2.0 L177.0,38.7 L175.5,38.2 L173.5,38.0 L171.5,38.2 L170.0,38.7 L168.0,39.7 L166.5,40.8 L165.0,42.4 L164.0,43.8 L162.4,47.0 L161.5,51.0 L161.2,54.5 L161.4,61.5 L161.1,64.0 L160.7,65.0 L160.0,66.2 L159.3,67.0 L158.0,67.9 L156.5,68.6 L154.5,69.3 L150.0,69.8 L130.0,70.0 L83.5,72.1 L65.5,72.7 L53.0,72.8 L40.0,72.6 L32.5,72.3 L22.0,71.6 L-2.0,70.9 L-2.0,66.1 L21.0,68.0 L38.5,69.1 L55.0,69.4 L71.5,69.1 L91.0,67.9 L100.6,67.0 L109.5,66.0 L115.6,65.0 L121.5,63.7 L125.3,62.5 L128.3,61.0 L129.5,60.0 L130.4,58.5 L130.5,57.0 L130.3,55.5 L126.5,46.0 L121.7,32.5 L116.6,19.0 L115.3,15.0 L114.5,11.5 L114.1,8.0 L114.3,4.5 L115.2,1.0 L116.5,-2.0Z" fill="#57ff38" fill-rule="evenodd"/><path d="M170.5,38.5 L172.0,38.1 L174.0,38.0 L175.5,38.2 L177.0,38.7 L177.0,66.3 L174.5,64.0 L174.0,63.8 L173.5,64.1 L169.7,68.0 L165.8,71.0 L161.5,73.3 L157.5,74.5 L154.5,75.0 L151.5,75.1 L136.5,74.5 L125.5,74.4 L73.0,76.1 L56.5,76.3 L36.0,76.0 L32.5,75.7 L25.5,74.7 L22.0,74.5 L18.5,74.5 L10.0,75.1 L-2.0,74.9 L-2.0,70.9 L22.0,71.6 L38.5,72.5 L60.5,72.8 L81.5,72.2 L130.0,70.0 L149.0,69.9 L154.0,69.4 L156.0,68.8 L158.0,67.9 L159.5,66.8 L160.5,65.5 L161.1,64.0 L161.4,62.0 L161.2,55.0 L161.3,52.0 L161.7,49.5 L162.4,47.0 L163.9,44.0 L165.8,41.5 L168.0,39.7 L170.5,38.5Z" fill="#96ff38" fill-rule="evenodd"/><path d="M174.0,63.8 L175.0,64.4 L177.0,66.3 L177.0,75.8 L174.0,75.9 L172.5,76.3 L171.1,77.0 L169.8,78.0 L169.0,79.0 L168.6,80.0 L168.5,81.0 L168.9,82.5 L169.9,84.0 L177.0,90.5 L177.0,105.3 L175.3,107.0 L173.0,108.4 L171.0,109.1 L168.5,109.6 L165.5,109.5 L162.0,108.6 L159.0,107.1 L156.0,104.9 L153.3,102.0 L151.0,98.4 L149.4,94.5 L147.5,88.0 L146.1,85.5 L144.6,84.0 L142.5,82.8 L140.0,81.9 L136.5,81.1 L130.2,80.5 L121.0,80.4 L102.5,80.8 L64.5,82.1 L53.0,82.1 L41.0,81.9 L38.0,81.8 L36.0,81.4 L27.5,78.3 L24.5,77.6 L21.5,77.4 L19.0,77.6 L16.5,78.0 L9.5,80.1 L7.5,80.5 L5.0,80.7 L-2.0,80.6 L-2.0,74.9 L10.0,75.1 L18.5,74.5 L22.0,74.5 L25.5,74.7 L35.5,76.0 L54.5,76.3 L72.0,76.1 L127.0,74.4 L137.0,74.5 L150.5,75.1 L154.5,75.0 L157.0,74.6 L159.5,74.0 L162.0,73.1 L164.5,71.8 L168.6,69.0 L170.8,67.0 L173.0,64.5 L174.0,63.8Z" fill="#c8f83c" fill-rule="evenodd"/><path d="M173.5,76.0 L175.0,75.7 L177.0,75.8 L177.0,90.5 L175.5,89.0 L170.3,84.5 L169.1,83.0 L168.5,81.5 L168.6,80.0 L169.5,78.4 L171.1,77.0 L173.5,76.0Z M20.0,77.5 L23.2,77.5 L26.5,78.0 L29.8,79.0 L35.5,81.3 L37.5,81.7 L40.5,81.9 L52.0,82.1 L64.0,82.1 L104.5,80.7 L124.0,80.4 L129.5,80.5 L134.0,80.8 L138.0,81.4 L141.0,82.2 L142.9,83.0 L144.5,83.9 L145.7,85.0 L146.5,86.0 L147.7,88.5 L149.7,95.5 L151.6,99.5 L152.9,101.5 L154.6,103.5 L156.5,105.3 L158.5,106.8 L161.0,108.2 L163.5,109.1 L166.0,109.5 L168.5,109.6 L171.0,109.1 L173.0,108.4 L175.3,107.0 L177.0,105.3 L177.0,132.5 L-2.0,132.5 L-2.0,80.6 L5.0,80.7 L7.5,80.5 L9.5,80.1 L16.0,78.1 L20.0,77.5Z M20.5,82.5 L18.0,83.1 L17.0,83.6 L16.1,84.5 L15.5,85.5 L15.2,86.5 L15.2,87.5 L15.5,89.0 L16.0,90.0 L17.0,91.2 L18.1,92.0 L19.5,92.7 L21.0,93.0 L22.5,93.1 L25.0,92.4 L27.0,91.1 L28.1,89.5 L28.6,87.5 L28.5,86.5 L28.2,85.5 L27.0,84.0 L25.5,83.1 L23.0,82.5 L20.5,82.5Z" fill="#f6f23a" fill-rule="evenodd"/><path d="M20.5,82.5 L23.0,82.5 L25.5,83.1 L27.0,84.0 L28.2,85.5 L28.5,86.5 L28.6,87.5 L28.1,89.5 L27.0,91.1 L25.0,92.4 L22.5,93.1 L21.0,93.0 L19.5,92.7 L18.1,92.0 L17.0,91.2 L16.0,90.0 L15.5,89.0 L15.2,87.5 L15.2,86.5 L15.5,85.5 L16.1,84.5 L17.0,83.6 L18.0,83.1 L20.5,82.5Z" fill="#fcc83e" fill-rule="evenodd"/><path d="M174.4,139.0 L183.5,137.3 M142.1,139.0 L183.5,131.3 M108.6,139.0 L183.5,125.3 M73.2,139.0 L131.5,128.9 L183.5,119.3 M40.0,139.0 L64.0,134.2 L127.5,123.6 L183.5,113.4 M13.2,139.0 L33.0,133.8 L52.5,129.8 L124.5,118.1 L183.5,107.4 M-8.0,138.7 L8.0,133.7 L20.5,130.1 L32.0,127.2 L43.5,124.8 L60.5,121.8 L100.0,116.0 L122.0,112.5 L183.5,101.4 M-8.0,132.0 L8.0,126.8 L19.5,123.4 L30.0,120.7 L40.5,118.4 L56.0,115.9 L94.5,110.7 L117.5,107.2 L141.5,103.1 L183.5,95.4 M-8.0,125.3 L7.5,119.9 L18.0,116.6 L27.5,114.0 L37.0,112.0 L51.0,109.8 L89.5,105.3 L113.5,101.9 L139.0,97.7 L183.5,89.4 M-8.0,118.4 L8.0,112.5 L17.5,109.3 L26.0,106.9 L34.0,105.1 L46.0,103.4 L84.0,99.8 L109.0,96.7 L136.5,92.2 L183.5,83.3 M-8.0,111.5 L17.0,101.6 L24.0,99.4 L30.5,97.9 L36.0,97.1 L42.0,96.5 L67.5,95.1 L80.5,94.1 L104.5,91.4 L119.0,89.3 L134.5,86.7 L170.5,79.6 L183.5,77.3 M-8.0,104.4 L17.5,92.6 L22.5,90.8 L27.0,89.7 L31.0,89.1 L35.5,88.9 L57.5,89.0 L71.0,88.7 L84.5,87.8 L98.0,86.4 L113.5,84.4 L130.5,81.5 L151.5,77.6 L168.5,73.8 L183.5,71.2 M51.7,59.0 L52.6,58.9 M79.9,58.9 L80.8,59.0 M46.1,59.5 L46.6,59.4 M86.9,59.4 L87.8,59.5 M42.0,60.0 L42.0,60.0 M93.0,60.0 L93.2,60.0 M97.4,60.4 L97.9,60.5 M35.9,61.0 L36.0,61.0 M102.0,61.0 L102.1,61.0 M33.4,61.5 L33.5,61.5 M105.4,61.4 L105.9,61.5 M109.5,62.0 L109.5,62.0 M29.4,62.5 L29.5,62.5 M112.4,62.4 L112.9,62.5 M116.0,63.0 L116.2,63.0 M118.9,63.4 L119.3,63.5 M121.9,63.9 L122.3,64.0 M125.0,64.5 L125.2,64.5 M128.0,65.0 L128.0,65.0 M157.5,70.5 L159.0,69.5 L163.0,68.5 L183.5,65.2 M130.4,65.4 L130.8,65.5 M136.0,66.5 L136.2,66.5 M146.5,68.5 L146.6,68.5 M149.0,69.0 L149.1,69.0 M155.5,71.0 L155.5,71.0 M150.0,72.0 L150.2,72.0 M147.5,72.5 L147.6,72.5 M145.0,73.0 L145.0,73.0 M137.0,74.5 L137.2,74.5 M134.5,75.0 L134.6,75.0 M-8.0,97.2 L2.9,91.5 L11.4,86.0 L14.6,83.5 L17.3,81.0 L19.5,78.5 L21.2,76.0 M129.0,76.0 L129.1,76.0 M22.9,76.5 L23.0,76.5 M125.9,76.6 L126.3,76.5 M114.0,78.5 L114.2,78.5 M30.5,79.0 L30.5,79.0 M110.4,79.1 L110.9,79.0 M106.9,79.6 L107.4,79.5 M34.9,80.0 L35.0,80.0 M103.5,80.0 L103.7,80.0 M37.5,80.5 L37.5,80.5 M99.5,80.5 L99.6,80.5 M95.0,81.0 L95.2,81.0 M44.3,81.5 L44.5,81.5 M89.4,81.6 L90.1,81.5 M49.2,82.0 L49.5,82.0 M82.9,82.1 L83.9,82.0 M57.1,82.5 L58.6,82.6 M72.9,82.6 L74.7,82.5 M-8.0,90.8 L-3.0,87.9 L1.5,85.0 L4.9,82.5 L7.7,80.0 L9.5,78.0 L11.0,75.8 L13.7,69.5 L14.5,68.0 L16.0,66.3 L18.1,64.5 L22.0,62.3 L27.5,60.2 L34.0,58.4 L41.0,57.1 L50.5,55.9 L61.0,55.2 L72.5,55.1 L84.5,55.5 L95.0,56.2 L106.0,57.3 L144.0,62.3 L154.0,63.1 L162.0,62.6 L183.5,59.7 M-8.0,84.3 L-2.0,80.5 L3.0,76.5 L6.5,73.0 L12.7,65.5 L15.0,63.4 L18.0,61.4 L23.0,58.8 L28.5,56.8 L35.5,55.0 L43.0,53.6 L52.0,52.4 L62.0,51.7 L72.5,51.5 L83.5,51.6 L102.0,52.7 L140.5,56.5 L153.0,57.2 L164.5,56.6 L183.5,54.4 M-8.0,78.1 L-3.5,75.1 L0.5,72.0 L11.8,62.0 L15.0,59.7 L18.0,57.9 L23.5,55.4 L30.0,53.2 L37.5,51.3 L45.5,49.9 L54.0,48.8 L63.0,48.1 L73.0,47.8 L83.5,47.8 L103.5,48.6 L140.0,51.2 L152.5,51.6 L165.5,51.0 L183.7,49.0 M-8.0,64.8 L8.5,54.5 L14.0,51.5 L19.5,49.0 L26.0,46.7 L33.0,44.6 L41.0,42.8 L49.5,41.4 L65.5,39.6 L84.0,38.8 L101.5,38.8 L137.5,39.6 L152.0,39.4 L166.5,38.6 L183.5,36.9 M-8.0,53.1 L8.2,45.0 L15.0,42.1 L21.5,39.7 L29.0,37.4 L36.5,35.5 L44.5,33.8 L53.0,32.4 L66.0,30.9 L80.5,29.8 L97.5,29.1 L132.5,28.5 L147.5,28.0 L165.0,26.9 L183.5,25.0 M-8.0,42.3 L8.5,35.3 L23.0,30.4 L30.5,28.3 L38.5,26.4 L55.0,23.3 L68.5,21.6 L83.0,20.2 L99.0,19.2 L148.0,16.7 L165.5,15.2 L183.5,13.3 M-8.0,31.8 L8.5,25.7 L24.0,20.9 L40.0,17.0 L57.0,13.9 L70.5,12.0 L85.5,10.4 L149.0,5.4 L166.0,3.8 L183.5,1.8 M-8.0,21.5 L9.0,15.8 L24.5,11.3 L40.5,7.6 L57.0,4.5 L72.0,2.2 L88.5,0.2 L145.0,-5.3 L169.8,-8.0 M-8.0,11.2 L12.5,4.9 L32.0,-0.1 L52.5,-4.4 L74.9,-8.0 M-8.0,0.8 L8.0,-3.9 L23.7,-8.0" fill="none" stroke="#111" stroke-width="0.9" stroke-linejoin="round"/><path d="M163.3,131.2 L167.9,128.2 L162.6,127.1 M130.8,131.1 L135.4,128.2 L130.1,127.0 M163.0,125.3 L167.6,122.3 L162.3,121.1 M61.1,136.9 L65.7,133.9 L60.4,132.7 M95.8,131.0 L100.4,128.1 L95.1,126.9 M130.5,125.2 L135.1,122.2 L129.8,121.0 M162.8,119.3 L167.3,116.3 L162.0,115.2 M28.8,137.0 L33.2,133.8 L27.8,132.9 M60.8,130.4 L65.3,127.5 L60.1,126.3 M95.5,124.9 L100.1,122.1 L94.8,120.8 M130.2,119.2 L134.8,116.3 L129.5,115.1 M162.5,113.4 L167.0,110.4 L161.7,109.3 M28.4,130.2 L32.8,127.0 L27.5,126.1 M60.4,123.9 L65.0,121.1 L59.8,119.8 M95.1,118.8 L99.8,116.0 L94.5,114.7 M129.9,113.3 L134.5,110.3 L129.2,109.1 M162.2,107.5 L166.7,104.5 L161.4,103.3 M28.1,123.3 L32.5,120.1 L27.1,119.2 M60.0,117.4 L64.7,114.7 L59.5,113.2 M94.8,112.8 L99.5,110.0 L94.2,108.6 M129.6,107.4 L134.2,104.4 L128.9,103.2 M161.9,101.5 L166.4,98.5 L161.1,97.4 M27.7,116.1 L32.1,113.0 L26.8,112.0 M59.6,110.8 L64.4,108.2 L59.2,106.7 M94.5,106.8 L99.2,104.0 L93.9,102.6 M129.3,101.5 L133.9,98.6 L128.6,97.4 M161.6,95.6 L166.1,92.6 L160.8,91.5 M27.3,108.6 L31.7,105.6 L26.4,104.5 M59.3,104.3 L64.1,101.7 L58.9,100.1 M94.2,100.8 L98.9,98.1 L93.6,96.6 M129.0,95.6 L133.6,92.7 L128.3,91.5 M161.3,89.6 L165.8,86.6 L160.5,85.5 M26.8,100.7 L31.4,97.7 L26.1,96.5 M58.9,97.7 L63.7,95.3 L58.6,93.5 M93.9,94.9 L98.6,92.2 L93.4,90.7 M128.8,89.8 L133.3,86.9 L128.0,85.7 M161.0,83.7 L165.5,80.6 L160.2,79.5 M26.1,91.7 L30.9,89.2 L25.8,87.5 M58.5,91.1 L63.4,88.9 L58.4,86.9 M93.6,89.1 L98.3,86.4 L93.1,84.9 M128.5,84.1 L133.0,81.1 L127.7,79.9 M160.7,77.6 L165.2,74.5 L159.9,73.5 M160.4,71.1 L164.9,68.1 L159.6,67.0 M20.0,65.4 L23.8,61.5 L18.4,61.5 M52.7,57.7 L57.5,55.4 L52.4,53.5 M82.4,57.4 L87.5,55.6 L82.6,53.2 M114.1,60.3 L119.3,58.9 L114.7,56.2 M145.9,64.7 L151.0,63.0 L146.2,60.6 M20.6,62.0 L24.5,58.2 L19.1,58.1 M53.4,54.3 L58.2,51.9 L53.1,50.2 M83.2,53.7 L88.3,51.8 L83.4,49.5 M115.0,56.0 L120.2,54.4 L115.5,51.8 M147.2,59.2 L152.2,57.1 L147.2,55.0 M21.2,58.5 L25.2,54.8 L19.7,54.5 M54.1,50.9 L58.9,48.4 L53.8,46.7 M84.0,49.8 L89.0,47.9 L84.1,45.7 M116.0,51.6 L121.1,49.9 L116.3,47.4 M148.3,53.7 L153.3,51.6 L148.3,49.5 M22.7,49.9 L26.8,46.4 L21.4,45.9 M55.8,42.6 L60.6,40.0 L55.4,38.4 M85.9,40.8 L90.9,38.7 L85.9,36.6 M118.2,41.3 L123.3,39.3 L118.3,37.1 M150.9,41.6 L155.8,39.3 L150.7,37.4 M24.4,40.9 L28.6,37.5 L23.2,36.9 M57.6,33.9 L62.4,31.2 L57.2,29.7 M87.9,31.5 L92.8,29.2 L87.7,27.3 M120.4,30.8 L125.4,28.6 L120.4,26.6 M153.3,29.8 L158.1,27.4 L153.0,25.6 M26.2,31.6 L30.5,28.3 L25.1,27.5 M59.5,24.8 L64.2,22.1 L59.0,20.6 M89.9,21.8 L94.7,19.4 L89.6,17.6 M122.7,20.2 L127.6,17.8 L122.5,16.0 M155.7,18.2 L160.5,15.7 L155.3,14.0 M28.0,21.9 L32.4,18.7 L27.0,17.9 M61.4,15.3 L66.1,12.6 L60.9,11.2 M91.9,11.9 L96.7,9.4 L91.6,7.7 M124.9,9.4 L129.7,7.0 L124.6,5.2 M158.0,6.7 L162.8,4.1 L157.6,2.5 M29.9,12.1 L34.3,8.9 L29.0,8.0 M63.4,5.6 L68.1,2.8 L62.8,1.4 M94.0,1.7 L98.8,-0.9 L93.6,-2.5 M31.9,2.0 L36.3,-1.1 L31.0,-2.1" fill="none" stroke="#111" stroke-width="0.9" stroke-linejoin="miter"/><path d="M16.2,70.6 L16.3,69.9 L16.4,69.3 L16.7,68.7 L17.1,68.0 L18.2,66.8 L19.7,65.6 L21.6,64.5 L24.0,63.4 L26.7,62.4 L29.8,61.4 L33.2,60.6 L36.6,59.9 L40.7,59.2 L44.6,58.7 L48.7,58.3 L53.1,58.0 L57.5,57.9 L62.2,57.8 L70.7,58.0 L80.0,58.5 L90.1,59.4 L101.1,60.8 L112.3,62.4 L125.3,64.5 L139.7,67.1 L157.8,70.6 L139.7,74.1 L125.3,76.7 L112.3,78.8 L101.1,80.4 L90.1,81.8 L80.0,82.7 L70.7,83.2 L62.2,83.4 L57.5,83.3 L53.1,83.2 L48.7,82.9 L44.6,82.5 L40.7,82.0 L36.6,81.3 L33.2,80.6 L29.8,79.8 L26.7,78.8 L24.0,77.8 L21.6,76.7 L19.7,75.6 L18.2,74.4 L17.1,73.2 L16.7,72.5 L16.4,71.9 L16.3,71.3 L16.2,70.6Z" fill="#fff" stroke="#222" stroke-width="0.8"/>
</g>
<rect x="0" y="0" width="1" height="130.4" fill="#8c8c8c"/>
<rect x="175.2" y="0" width="0.9" height="130.4" fill="#d4d4dc"/>
<rect x="1" y="130.4" width="175.2" height="0.8" fill="#dcdce4"/>
</g>
<g transform="translate(331,302)"><g clip-path="url(#cp_r3c2)">
<rect x="0" y="0" width="175.5" height="131" fill="#fff"/><path d="M28.5,56.3 L32.0,56.3 L32.2,56.5 L32.2,57.0 L32.7,57.5 L32.7,58.5 L32.2,59.0 L32.2,59.5 L31.7,60.0 L31.7,60.5 L27.5,64.6 L27.0,64.6 L26.0,65.6 L25.5,65.6 L25.0,66.1 L24.5,66.1 L24.0,66.6 L23.5,66.6 L23.0,67.1 L22.0,67.1 L21.5,67.6 L18.0,67.6 L17.9,67.0 L17.4,66.5 L17.4,65.5 L17.9,65.0 L17.9,64.5 L18.4,64.0 L18.4,63.5 L19.0,62.9 L22.5,59.3 L23.0,59.3 L24.0,58.3 L24.5,58.3 L25.0,57.8 L25.5,57.8 L26.0,57.3 L26.5,57.3 L27.0,56.8 L28.0,56.8 L28.5,56.3Z" fill="#38adff" fill-rule="evenodd"/><path d="M55.0,39.8 L70.0,39.8 L70.5,40.3 L76.5,40.3 L77.0,40.8 L80.0,40.8 L80.5,41.3 L83.0,41.3 L83.5,41.8 L85.5,41.8 L86.0,42.3 L87.5,42.3 L88.0,42.8 L89.0,42.8 L89.5,43.3 L90.5,43.3 L91.0,43.8 L91.5,43.8 L92.0,44.3 L93.0,44.3 L94.0,45.3 L94.5,45.3 L96.7,47.5 L96.7,50.5 L94.0,53.2 L93.5,53.2 L92.5,54.2 L92.0,54.2 L91.5,54.7 L91.0,54.7 L90.5,55.2 L90.0,55.2 L89.5,55.7 L88.5,55.7 L88.0,56.2 L87.5,56.2 L87.0,56.7 L86.0,56.7 L85.5,57.2 L84.5,57.2 L84.0,57.7 L82.5,57.7 L82.0,58.2 L81.0,58.2 L80.5,58.7 L78.5,58.7 L78.0,59.2 L76.5,59.2 L76.0,59.7 L73.5,59.7 L73.0,60.2 L70.5,60.2 L70.0,60.7 L67.0,60.7 L66.5,61.2 L62.5,61.2 L62.0,61.7 L55.5,61.7 L55.0,62.2 L40.0,62.2 L39.5,61.7 L33.5,61.7 L33.0,61.2 L31.5,61.2 L31.0,61.4 L27.5,64.9 L27.0,64.9 L26.0,65.7 L25.5,65.7 L25.0,66.2 L24.5,66.2 L24.0,66.7 L23.5,66.7 L23.0,67.2 L22.0,67.2 L21.5,67.7 L18.0,67.7 L17.8,67.5 L17.8,67.0 L17.3,66.5 L17.3,65.5 L17.8,65.0 L17.8,64.5 L18.3,64.0 L18.3,63.5 L22.1,59.5 L22.0,59.2 L21.0,59.2 L20.5,58.7 L19.5,58.7 L19.0,58.2 L18.5,58.2 L18.0,57.7 L17.0,57.7 L16.0,56.7 L15.5,56.7 L13.3,54.5 L13.2,51.5 L16.0,48.8 L16.5,48.8 L17.5,47.8 L18.0,47.8 L18.5,47.2 L19.0,47.2 L19.5,46.8 L20.0,46.8 L20.5,46.2 L21.5,46.2 L22.0,45.8 L22.5,45.8 L23.0,45.2 L24.0,45.2 L24.5,44.7 L25.5,44.7 L26.0,44.2 L27.5,44.2 L28.0,43.7 L29.0,43.7 L29.5,43.2 L31.5,43.2 L32.0,42.7 L33.5,42.7 L34.0,42.2 L36.5,42.2 L37.0,41.8 L39.5,41.8 L40.0,41.3 L43.0,41.3 L43.5,40.8 L47.5,40.8 L48.0,40.3 L54.5,40.3 L55.0,39.8Z M28.3,56.5 L28.0,56.8 L27.0,56.8 L26.5,57.3 L26.0,57.3 L25.5,57.8 L25.0,57.8 L24.5,58.3 L24.0,58.3 L23.0,59.3 L22.5,59.3 L19.0,62.9 L18.4,63.5 L18.4,64.0 L17.9,64.5 L17.9,65.0 L17.4,65.5 L17.4,66.5 L17.9,67.0 L18.0,67.6 L21.5,67.6 L22.0,67.1 L23.0,67.1 L23.5,66.6 L24.0,66.6 L24.5,66.1 L25.0,66.1 L25.5,65.6 L26.0,65.6 L27.0,64.6 L27.5,64.6 L31.7,60.5 L31.7,60.0 L32.2,59.5 L32.2,59.0 L32.7,58.5 L32.7,57.5 L32.2,57.0 L32.2,56.5 L32.0,56.3 L28.5,56.3 L28.3,56.5Z" fill="#38ecff" fill-rule="evenodd"/><path d="M57.5,19.7 L69.0,19.7 L69.5,20.2 L75.5,20.2 L76.0,20.7 L79.5,20.7 L80.0,21.2 L82.5,21.2 L83.0,21.7 L85.0,21.7 L85.5,22.2 L87.5,22.3 L88.0,22.8 L89.5,22.8 L90.0,23.3 L91.0,23.3 L91.5,23.8 L93.0,23.8 L93.5,24.3 L94.5,24.3 L95.0,24.8 L95.5,24.8 L96.0,25.3 L97.0,25.3 L97.5,25.8 L98.0,25.8 L98.5,26.4 L99.5,26.4 L100.0,26.9 L100.5,26.9 L101.0,27.4 L101.5,27.4 L102.5,28.4 L103.0,28.4 L103.5,28.9 L104.0,28.9 L105.0,29.9 L105.5,29.9 L107.0,31.4 L107.5,31.5 L109.5,33.5 L109.5,34.0 L111.0,35.5 L111.0,36.0 L111.5,36.5 L111.5,37.0 L112.0,37.5 L112.0,38.5 L112.5,39.0 L112.5,44.5 L112.1,45.0 L112.1,46.0 L111.6,46.5 L111.6,47.0 L111.1,47.5 L111.1,48.0 L110.1,49.0 L110.1,49.5 L105.5,54.2 L105.0,54.2 L103.5,55.7 L103.0,55.7 L102.0,56.7 L101.5,56.7 L101.0,57.2 L100.5,57.2 L100.0,57.7 L99.5,57.7 L98.5,58.7 L98.0,58.7 L97.5,59.2 L97.0,59.2 L96.5,59.7 L95.5,59.7 L95.0,60.2 L94.5,60.2 L94.0,60.7 L93.5,60.7 L93.0,61.2 L92.0,61.2 L91.5,61.7 L90.5,61.7 L90.0,62.2 L89.5,62.2 L89.0,62.7 L88.0,62.7 L87.5,63.2 L86.0,63.2 L85.5,63.7 L84.5,63.7 L84.0,64.2 L82.5,64.2 L82.0,64.6 L80.5,64.6 L80.0,65.1 L78.5,65.1 L78.0,65.6 L76.0,65.6 L75.5,66.1 L73.0,66.1 L72.5,66.6 L70.0,66.6 L69.5,67.1 L65.5,67.1 L65.0,67.6 L59.0,67.6 L58.5,68.1 L47.0,68.1 L46.5,67.6 L40.5,67.6 L40.0,67.1 L36.5,67.1 L36.0,66.6 L33.5,66.6 L33.0,66.1 L31.0,66.1 L30.5,65.6 L28.5,65.6 L28.0,65.1 L27.0,65.1 L26.5,65.3 L26.0,65.8 L25.5,65.8 L25.0,66.3 L24.5,66.3 L24.0,66.8 L23.5,66.8 L23.0,67.3 L22.0,67.3 L21.5,67.8 L18.0,67.8 L17.7,67.5 L17.7,67.0 L17.2,66.5 L17.2,65.5 L17.7,65.0 L17.7,64.5 L18.2,64.0 L18.2,63.5 L18.7,63.0 L18.9,62.5 L18.5,62.1 L18.0,62.1 L17.5,61.7 L16.5,61.6 L16.0,61.2 L15.5,61.2 L15.0,60.7 L14.5,60.7 L13.5,59.7 L13.0,59.7 L12.5,59.2 L12.0,59.2 L11.0,58.2 L10.5,58.2 L9.0,56.7 L8.5,56.7 L6.3,54.5 L6.3,54.0 L4.8,52.5 L4.8,52.0 L4.3,51.5 L4.3,51.0 L3.8,50.5 L3.8,49.5 L3.3,49.0 L3.3,43.5 L3.8,43.0 L3.8,42.0 L4.3,41.5 L4.3,41.0 L4.8,40.5 L4.8,40.0 L5.8,39.0 L5.8,38.5 L10.5,33.8 L11.0,33.8 L12.5,32.3 L13.0,32.3 L14.0,31.3 L14.5,31.3 L15.0,30.8 L15.5,30.8 L16.0,30.3 L16.5,30.3 L17.5,29.3 L18.0,29.3 L18.5,28.8 L19.0,28.7 L19.5,28.2 L20.5,28.2 L21.0,27.7 L21.5,27.7 L22.0,27.2 L22.5,27.2 L23.0,26.7 L24.0,26.7 L24.5,26.2 L25.5,26.2 L26.0,25.7 L26.5,25.7 L27.0,25.2 L28.0,25.2 L28.5,24.7 L30.0,24.7 L30.5,24.2 L31.5,24.2 L32.0,23.7 L33.5,23.7 L34.0,23.2 L35.5,23.2 L36.0,22.7 L37.5,22.7 L38.0,22.2 L40.0,22.2 L40.5,21.7 L43.0,21.7 L43.5,21.2 L46.0,21.2 L46.5,20.7 L50.5,20.7 L51.0,20.2 L57.0,20.2 L57.5,19.7Z M54.8,40.0 L54.5,40.3 L48.0,40.3 L47.5,40.8 L43.5,40.8 L43.0,41.3 L40.0,41.3 L39.5,41.8 L37.0,41.8 L36.5,42.2 L34.0,42.2 L33.5,42.7 L32.0,42.7 L31.5,43.2 L29.5,43.2 L29.0,43.7 L28.0,43.7 L27.5,44.2 L26.0,44.2 L25.5,44.7 L24.5,44.7 L24.0,45.2 L23.0,45.2 L22.5,45.8 L22.0,45.8 L21.5,46.2 L20.5,46.2 L20.0,46.8 L19.5,46.8 L19.0,47.2 L18.5,47.2 L18.0,47.8 L17.5,47.8 L16.5,48.8 L16.0,48.8 L13.2,51.5 L13.3,54.5 L15.5,56.7 L16.0,56.7 L17.0,57.7 L18.0,57.7 L18.5,58.2 L19.0,58.2 L19.5,58.7 L20.5,58.7 L21.0,59.2 L22.0,59.2 L22.1,59.5 L18.3,63.5 L18.3,64.0 L17.8,64.5 L17.8,65.0 L17.3,65.5 L17.3,66.5 L17.8,67.0 L17.8,67.5 L18.0,67.7 L21.5,67.7 L22.0,67.2 L23.0,67.2 L23.5,66.7 L24.0,66.7 L24.5,66.2 L25.0,66.2 L25.5,65.7 L26.0,65.7 L27.0,64.9 L27.5,64.9 L31.0,61.4 L31.5,61.2 L33.0,61.2 L33.5,61.7 L39.5,61.7 L40.0,62.2 L55.0,62.2 L55.5,61.7 L62.0,61.7 L62.5,61.2 L66.5,61.2 L67.0,60.7 L70.0,60.7 L70.5,60.2 L73.0,60.2 L73.5,59.7 L76.0,59.7 L76.5,59.2 L78.0,59.2 L78.5,58.7 L80.5,58.7 L81.0,58.2 L82.0,58.2 L82.5,57.7 L84.0,57.7 L84.5,57.2 L85.5,57.2 L86.0,56.7 L87.0,56.7 L87.5,56.2 L88.0,56.2 L88.5,55.7 L89.5,55.7 L90.0,55.2 L90.5,55.2 L91.0,54.7 L91.5,54.7 L92.0,54.2 L92.5,54.2 L93.5,53.2 L94.0,53.2 L96.7,50.5 L96.7,47.5 L94.5,45.3 L94.0,45.3 L93.0,44.3 L92.0,44.3 L91.5,43.8 L91.0,43.8 L90.5,43.3 L89.5,43.3 L89.0,42.8 L88.0,42.8 L87.5,42.3 L86.0,42.3 L85.5,41.8 L83.5,41.8 L83.0,41.3 L80.5,41.3 L80.0,40.8 L77.0,40.8 L76.5,40.3 L70.5,40.3 L70.0,39.8 L55.0,39.8 L54.8,40.0Z" fill="#38ffd4" fill-rule="evenodd"/><path d="M54.0,6.5 L61.5,6.4 L68.5,6.7 L75.0,7.4 L81.0,8.5 L85.5,9.8 L90.0,11.8 L93.5,14.0 L97.0,16.8 L100.0,19.9 L102.8,23.5 L105.1,27.0 L107.2,31.0 L107.5,31.0 L110.0,33.5 L110.0,34.0 L111.4,35.5 L111.4,36.0 L111.9,36.5 L111.9,37.0 L112.4,37.5 L112.4,38.5 L112.9,39.0 L113.0,44.5 L112.5,45.0 L112.5,46.0 L112.0,46.5 L112.0,47.0 L111.5,47.5 L111.5,48.0 L111.0,48.5 L110.4,51.0 L109.7,53.0 L108.9,54.5 L107.8,56.0 L106.1,57.5 L104.0,58.8 L101.4,60.0 L98.5,61.0 L94.2,62.0 L88.0,63.0 L87.5,63.5 L86.0,63.5 L85.5,64.0 L84.5,64.0 L84.0,64.5 L82.5,64.5 L82.0,64.9 L80.5,64.9 L80.0,65.4 L78.5,65.4 L78.0,65.9 L76.0,65.9 L75.5,66.4 L73.0,66.4 L72.5,66.9 L70.0,66.9 L69.5,67.4 L65.5,67.4 L65.0,67.8 L59.0,67.8 L58.5,68.3 L47.0,68.3 L46.5,67.8 L40.5,67.8 L40.0,67.3 L36.5,67.3 L36.0,66.9 L33.5,66.9 L33.0,66.4 L31.0,66.4 L30.5,65.9 L28.5,65.9 L28.0,65.4 L27.0,65.4 L26.5,65.4 L26.0,65.9 L25.5,65.9 L25.0,66.4 L24.5,66.4 L24.0,66.9 L23.5,66.9 L23.0,67.4 L22.0,67.4 L21.5,67.9 L18.0,67.9 L17.6,67.5 L17.6,67.0 L17.1,66.5 L17.1,65.5 L17.6,65.0 L17.6,64.5 L18.0,64.0 L18.0,63.5 L18.5,63.0 L18.6,62.5 L18.0,62.4 L17.5,62.0 L16.5,61.9 L16.0,61.5 L15.5,61.5 L15.0,61.0 L14.5,61.0 L13.5,60.0 L13.0,60.0 L12.5,59.5 L12.0,59.5 L11.0,58.5 L10.5,58.5 L9.0,57.1 L8.5,57.0 L4.7,54.5 L1.5,51.5 L-0.1,49.5 L-1.2,47.5 L-2.0,45.7 L-2.0,33.8 L-0.2,30.0 L1.4,27.5 L3.1,25.5 L5.5,23.0 L7.9,21.0 L13.5,17.3 L20.5,13.8 L28.5,10.8 L36.5,8.8 L45.0,7.3 L54.0,6.5Z M57.2,20.0 L57.0,20.2 L51.0,20.2 L50.5,20.7 L46.5,20.7 L46.0,21.2 L43.5,21.2 L43.0,21.7 L40.5,21.7 L40.0,22.2 L38.0,22.2 L37.5,22.7 L36.0,22.7 L35.5,23.2 L34.0,23.2 L33.5,23.7 L32.0,23.7 L31.5,24.2 L30.5,24.2 L30.0,24.7 L28.5,24.7 L28.0,25.2 L27.0,25.2 L26.5,25.7 L26.0,25.7 L25.5,26.2 L24.5,26.2 L24.0,26.7 L23.0,26.7 L22.5,27.2 L22.0,27.2 L21.5,27.7 L21.0,27.7 L20.5,28.2 L19.5,28.2 L19.0,28.7 L18.5,28.8 L18.0,29.3 L17.5,29.3 L16.5,30.3 L16.0,30.3 L15.5,30.8 L15.0,30.8 L14.5,31.3 L14.0,31.3 L13.0,32.3 L12.5,32.3 L11.0,33.8 L10.5,33.8 L5.8,38.5 L5.8,39.0 L4.8,40.0 L4.8,40.5 L4.3,41.0 L4.3,41.5 L3.8,42.0 L3.8,43.0 L3.3,43.5 L3.3,49.0 L3.8,49.5 L3.8,50.5 L4.3,51.0 L4.3,51.5 L4.8,52.0 L4.8,52.5 L6.3,54.0 L6.3,54.5 L8.5,56.7 L9.0,56.7 L10.5,58.2 L11.0,58.2 L12.0,59.2 L12.5,59.2 L13.0,59.7 L13.5,59.7 L14.5,60.7 L15.0,60.7 L15.5,61.2 L16.0,61.2 L16.5,61.6 L17.5,61.7 L18.0,62.1 L18.5,62.1 L18.9,62.5 L18.7,63.0 L18.2,63.5 L18.2,64.0 L17.7,64.5 L17.7,65.0 L17.2,65.5 L17.2,66.5 L17.7,67.0 L17.7,67.5 L18.0,67.8 L21.5,67.8 L22.0,67.3 L23.0,67.3 L23.5,66.8 L24.0,66.8 L24.5,66.3 L25.0,66.3 L25.5,65.8 L26.0,65.8 L26.5,65.3 L27.0,65.1 L28.0,65.1 L28.5,65.6 L30.5,65.6 L31.0,66.1 L33.0,66.1 L33.5,66.6 L36.0,66.6 L36.5,67.1 L40.0,67.1 L40.5,67.6 L46.5,67.6 L47.0,68.1 L58.5,68.1 L59.0,67.6 L65.0,67.6 L65.5,67.1 L69.5,67.1 L70.0,66.6 L72.5,66.6 L73.0,66.1 L75.5,66.1 L76.0,65.6 L78.0,65.6 L78.5,65.1 L80.0,65.1 L80.5,64.6 L82.0,64.6 L82.5,64.2 L84.0,64.2 L84.5,63.7 L85.5,63.7 L86.0,63.2 L87.5,63.2 L88.0,62.7 L89.0,62.7 L89.5,62.2 L90.0,62.2 L90.5,61.7 L91.5,61.7 L92.0,61.2 L93.0,61.2 L93.5,60.7 L94.0,60.7 L94.5,60.2 L95.0,60.2 L95.5,59.7 L96.5,59.7 L97.0,59.2 L97.5,59.2 L98.0,58.7 L98.5,58.7 L99.5,57.7 L100.0,57.7 L100.5,57.2 L101.0,57.2 L101.5,56.7 L102.0,56.7 L103.0,55.7 L103.5,55.7 L105.0,54.2 L105.5,54.2 L110.1,49.5 L110.1,49.0 L111.1,48.0 L111.1,47.5 L111.6,47.0 L111.6,46.5 L112.1,46.0 L112.1,45.0 L112.5,44.5 L112.5,39.0 L112.0,38.5 L112.0,37.5 L111.5,37.0 L111.5,36.5 L111.0,36.0 L111.0,35.5 L109.5,34.0 L109.5,33.5 L107.5,31.5 L107.0,31.4 L105.5,29.9 L105.0,29.9 L104.0,28.9 L103.5,28.9 L103.0,28.4 L102.5,28.4 L101.5,27.4 L101.0,27.4 L100.5,26.9 L100.0,26.9 L99.5,26.4 L98.5,26.4 L98.0,25.8 L97.5,25.8 L97.0,25.3 L96.0,25.3 L95.5,24.8 L95.0,24.8 L94.5,24.3 L93.5,24.3 L93.0,23.8 L91.5,23.8 L91.0,23.3 L90.0,23.3 L89.5,22.8 L88.0,22.8 L87.5,22.3 L85.5,22.2 L85.0,21.7 L83.0,21.7 L82.5,21.2 L80.0,21.2 L79.5,20.7 L76.0,20.7 L75.5,20.2 L69.5,20.2 L69.0,19.7 L57.5,19.7 L57.2,20.0Z" fill="#38ff8e" fill-rule="evenodd"/><path d="M-1.5,-2.0 L117.0,-2.0 L116.2,0.5 L115.8,3.5 L116.0,6.5 L116.7,9.5 L118.6,14.5 L125.9,28.5 L129.1,36.0 L134.9,54.0 L135.3,56.5 L134.9,58.5 L134.2,59.5 L133.2,60.5 L130.6,62.0 L126.4,63.5 L121.0,64.8 L114.4,66.0 L106.5,67.0 L87.5,68.5 L67.0,69.3 L46.5,69.1 L35.5,68.7 L22.0,67.9 L18.0,68.0 L17.5,67.6 L-2.0,66.2 L-2.0,45.7 L-1.0,48.0 L0.3,50.0 L1.9,52.0 L4.1,54.0 L8.5,57.0 L9.0,57.1 L10.5,58.5 L11.0,58.5 L12.0,59.5 L12.5,59.5 L13.0,60.0 L13.5,60.0 L14.5,61.0 L15.0,61.0 L15.5,61.5 L16.0,61.5 L16.5,61.9 L17.5,62.0 L18.0,62.4 L18.6,62.5 L18.5,63.0 L18.0,63.5 L18.0,64.0 L17.6,64.5 L17.6,65.0 L17.1,65.5 L17.1,66.5 L17.6,67.0 L17.6,67.5 L18.0,67.9 L21.5,67.9 L22.0,67.4 L23.0,67.4 L23.5,66.9 L24.0,66.9 L24.5,66.4 L25.0,66.4 L25.5,65.9 L26.0,65.9 L26.5,65.4 L28.0,65.4 L28.5,65.9 L30.5,65.9 L31.0,66.4 L33.0,66.4 L33.5,66.9 L36.0,66.9 L36.5,67.3 L40.0,67.3 L40.5,67.8 L46.5,67.8 L47.0,68.3 L58.5,68.3 L59.0,67.8 L65.0,67.8 L65.5,67.4 L69.5,67.4 L70.0,66.9 L72.5,66.9 L73.0,66.4 L75.5,66.4 L76.0,65.9 L78.0,65.9 L78.5,65.4 L80.0,65.4 L80.5,64.9 L82.0,64.9 L82.5,64.5 L84.0,64.5 L84.5,64.0 L85.5,64.0 L86.0,63.5 L87.5,63.5 L88.0,63.0 L93.5,62.1 L97.5,61.2 L102.6,59.5 L106.1,57.5 L107.3,56.5 L108.6,55.0 L109.9,52.5 L111.0,48.5 L111.5,48.0 L111.5,47.5 L112.0,47.0 L112.0,46.5 L112.5,46.0 L112.5,45.0 L113.0,44.5 L112.9,39.0 L112.4,38.5 L112.4,37.5 L111.9,37.0 L111.9,36.5 L111.4,36.0 L111.4,35.5 L110.0,34.0 L110.0,33.5 L107.5,31.0 L107.2,31.0 L104.8,26.5 L101.7,22.0 L99.2,19.0 L96.5,16.4 L94.0,14.3 L91.5,12.7 L88.5,11.1 L85.5,9.8 L82.5,8.9 L79.0,8.1 L70.5,6.8 L64.5,6.4 L58.5,6.4 L52.0,6.6 L46.0,7.2 L40.0,8.1 L34.5,9.2 L29.0,10.7 L24.0,12.4 L19.0,14.4 L14.5,16.7 L10.5,19.1 L7.0,21.7 L4.0,24.5 L1.4,27.5 L-0.5,30.5 L-2.0,33.8 L-2.0,-2.0 L-1.5,-2.0Z" fill="#38ff50" fill-rule="evenodd"/><path d="M117.0,-2.0 L177.0,-2.0 L177.0,45.9 L174.5,45.5 L172.0,45.9 L169.5,47.2 L167.7,49.0 L166.2,51.5 L165.3,54.0 L164.7,56.5 L163.8,62.0 L163.2,64.0 L162.0,66.0 L160.2,67.5 L159.0,68.1 L157.0,68.7 L152.5,69.3 L134.0,69.8 L98.0,71.7 L73.0,72.6 L59.0,72.7 L45.0,72.6 L37.5,72.3 L25.0,71.6 L-2.0,71.0 L-2.0,66.2 L17.5,67.6 L18.0,68.0 L22.0,67.9 L41.6,69.0 L59.5,69.3 L77.5,69.0 L98.5,67.7 L106.5,67.0 L114.4,66.0 L120.2,65.0 L125.5,63.8 L129.4,62.5 L132.5,61.0 L134.2,59.5 L135.1,58.0 L135.3,56.5 L134.9,54.0 L130.3,39.5 L128.1,33.5 L125.1,27.0 L119.0,15.3 L116.8,10.0 L116.0,6.5 L115.8,3.5 L116.2,0.5 L117.0,-2.0Z" fill="#57ff38" fill-rule="evenodd"/><path d="M174.0,45.5 L175.5,45.5 L177.0,45.9 L177.0,63.8 L176.0,62.3 L175.5,61.9 L174.5,61.7 L174.0,62.0 L173.0,63.2 L170.7,67.0 L169.4,68.5 L167.7,70.0 L165.6,71.5 L163.5,72.5 L161.0,73.4 L158.5,74.0 L152.5,74.4 L138.5,74.2 L128.0,74.3 L83.5,75.9 L63.0,76.2 L41.5,76.0 L37.5,75.7 L29.5,74.7 L25.0,74.4 L21.0,74.5 L10.5,75.1 L-2.0,74.9 L-2.0,71.0 L25.0,71.6 L43.0,72.5 L67.0,72.7 L91.0,72.0 L132.0,69.8 L151.0,69.4 L155.7,69.0 L158.0,68.5 L160.0,67.6 L161.5,66.5 L162.4,65.5 L163.2,64.0 L163.7,62.5 L164.7,56.5 L165.3,54.0 L166.7,50.5 L168.2,48.5 L170.0,46.9 L172.0,45.9 L174.0,45.5Z" fill="#96ff38" fill-rule="evenodd"/><path d="M174.0,62.0 L174.5,61.7 L175.5,61.9 L176.0,62.3 L177.0,63.8 L177.0,75.9 L175.5,75.7 L174.0,75.9 L171.4,77.0 L170.2,78.0 L169.3,79.0 L168.4,80.5 L168.3,81.5 L168.8,83.0 L170.5,84.5 L173.0,85.7 L177.0,87.0 L177.0,119.2 L174.5,119.7 L172.5,119.8 L170.0,119.5 L167.5,118.9 L165.5,118.1 L163.3,117.0 L161.2,115.5 L159.4,114.0 L157.5,112.0 L155.7,109.5 L154.3,107.0 L153.2,104.5 L152.4,101.5 L151.8,97.0 L152.1,89.0 L152.0,87.5 L151.7,86.5 L150.7,85.0 L149.4,84.0 L147.0,82.9 L143.5,81.8 L139.5,81.1 L135.5,80.7 L124.5,80.4 L112.0,80.6 L71.5,81.9 L58.5,82.1 L46.5,81.9 L44.0,81.8 L41.5,81.3 L34.5,78.9 L31.0,77.9 L28.0,77.4 L24.5,77.2 L21.5,77.4 L18.5,77.8 L10.5,80.0 L8.0,80.5 L5.0,80.7 L-2.0,80.6 L-2.0,74.9 L10.5,75.1 L21.0,74.5 L25.0,74.4 L29.5,74.7 L37.5,75.7 L41.5,76.0 L62.0,76.3 L83.0,75.9 L129.0,74.3 L138.5,74.2 L152.0,74.4 L157.0,74.2 L160.0,73.7 L162.5,72.9 L165.0,71.8 L167.1,70.5 L168.9,69.0 L170.3,67.5 L171.7,65.5 L173.0,63.2 L174.0,62.0Z" fill="#c8f83c" fill-rule="evenodd"/><path d="M174.0,75.9 L175.5,75.7 L177.0,75.9 L177.0,87.0 L173.0,85.7 L170.5,84.5 L169.0,83.2 L168.3,82.0 L168.4,80.5 L168.9,79.5 L169.7,78.5 L171.5,77.0 L174.0,75.9Z M20.5,77.5 L25.0,77.2 L29.5,77.7 L33.5,78.6 L41.5,81.3 L44.0,81.8 L46.5,81.9 L58.5,82.1 L71.0,82.0 L113.0,80.6 L126.5,80.4 L132.5,80.5 L138.4,81.0 L143.0,81.7 L146.5,82.7 L148.5,83.5 L150.1,84.5 L151.1,85.5 L151.7,86.5 L152.0,87.5 L152.1,89.0 L151.8,97.0 L152.4,101.5 L153.2,104.5 L154.3,107.0 L155.7,109.5 L157.5,112.0 L159.5,114.1 L161.8,116.0 L164.0,117.4 L166.5,118.6 L169.0,119.3 L172.0,119.7 L174.5,119.7 L177.0,119.2 L177.0,132.5 L-2.0,132.5 L-2.0,80.6 L5.0,80.7 L8.0,80.5 L10.5,80.0 L17.0,78.1 L20.5,77.5Z M21.1,82.0 L19.5,82.5 L17.8,83.5 L16.8,84.5 L16.1,86.0 L16.0,87.5 L16.4,89.0 L17.4,90.5 L19.0,91.9 L20.5,92.7 L22.5,93.4 L24.5,93.6 L26.5,93.5 L28.5,93.1 L30.0,92.4 L31.5,91.5 L32.8,90.0 L33.6,88.5 L33.7,86.5 L33.0,84.9 L31.5,83.4 L29.5,82.4 L27.0,81.8 L24.0,81.7 L21.1,82.0Z" fill="#f6f23a" fill-rule="evenodd"/><path d="M21.5,81.9 L24.5,81.7 L27.5,81.9 L29.8,82.5 L31.7,83.5 L33.1,85.0 L33.7,86.5 L33.6,88.5 L32.8,90.0 L31.5,91.5 L30.0,92.4 L28.5,93.1 L26.5,93.5 L24.5,93.6 L22.5,93.4 L20.5,92.7 L19.0,91.9 L17.4,90.5 L16.4,89.0 L16.0,87.5 L16.1,86.0 L16.8,84.5 L17.8,83.5 L19.5,82.5 L21.5,81.9Z" fill="#fcc83e" fill-rule="evenodd"/><path d="M178.5,139.0 L183.5,137.8 M158.2,139.0 L183.5,133.2 M137.3,139.0 L183.5,128.6 M115.8,139.0 L183.5,124.0 M93.7,139.0 L183.5,119.4 M71.6,139.0 L91.5,134.6 L148.0,122.7 L183.5,114.8 M51.1,139.0 L63.5,135.8 L78.0,132.5 L140.5,119.6 L183.5,110.2 M33.2,139.0 L50.0,134.0 L68.5,129.4 L138.0,115.5 L183.5,105.6 M17.7,139.0 L29.0,134.9 L39.0,131.7 L49.0,128.8 L60.0,126.1 L77.2,122.5 L136.0,111.3 L183.5,101.0 M3.9,139.0 L18.5,133.2 L30.5,128.8 L41.5,125.3 L53.0,122.3 L71.0,118.6 L111.5,111.3 L133.5,107.2 L154.5,102.8 L183.5,96.4 M-8.0,138.7 L12.0,130.2 L24.5,125.2 L36.0,121.3 L47.5,118.1 L65.5,114.3 L107.0,107.4 L130.5,103.1 L153.0,98.6 L183.5,91.8 M-8.0,133.4 L12.5,124.3 L24.0,119.6 L34.5,115.9 L45.0,112.9 L61.0,109.8 L102.0,103.5 L126.5,99.3 L151.0,94.4 L183.5,87.2 M-8.0,128.0 L12.5,118.4 L23.0,113.9 L32.5,110.4 L42.0,107.7 L48.5,106.3 L56.3,105.0 L96.5,99.6 L122.5,95.4 L150.0,90.1 L183.5,82.6 M-8.0,122.5 L14.0,111.7 L22.5,107.7 L31.0,104.4 L39.0,102.1 L51.0,100.0 L90.5,95.7 L117.5,91.7 L133.0,89.0 L148.5,85.9 L183.5,78.0 M-8.0,117.0 L22.5,100.9 L29.0,98.1 L35.5,96.2 L40.5,95.2 L47.0,94.4 L73.5,92.5 L88.0,91.2 L112.5,88.0 L130.0,85.0 L148.5,81.4 L183.5,73.3 M-8.0,111.4 L4.1,104.5 L23.0,92.7 L27.5,90.6 L32.0,89.2 L36.0,88.6 L40.5,88.3 L63.0,88.0 L77.5,87.3 L91.0,86.2 L105.5,84.5 L125.0,81.4 L148.0,77.1 L158.5,74.8 L171.0,71.3 L183.5,68.7 M57.0,58.5 L58.1,58.4 M77.4,58.4 L78.8,58.5 M49.9,59.0 L50.6,58.9 M86.4,58.9 L87.2,59.0 M45.2,59.5 L45.5,59.5 M92.4,59.4 L93.2,59.5 M98.0,60.0 L98.2,60.0 M102.5,60.5 L102.6,60.5 M35.9,61.0 L36.0,61.0 M106.5,61.0 L106.6,61.0 M109.9,61.4 L110.4,61.5 M113.4,61.9 L113.9,62.0 M117.0,62.5 L117.2,62.5 M119.9,62.9 L120.4,63.0 M159.2,70.2 L159.5,70.4 L162.0,68.8 L165.5,67.7 L183.5,64.0 M24.0,64.5 L24.0,64.5 M128.9,64.4 L129.3,64.5 M132.0,65.0 L132.2,65.0 M137.5,66.0 L137.6,66.0 M145.5,67.5 L145.6,67.5 M148.0,68.0 L148.2,68.0 M156.0,69.5 L156.1,69.5 M154.0,71.5 L154.1,71.5 M151.5,72.0 L151.5,72.0 M138.5,74.5 L138.7,74.5 M136.0,75.0 L136.0,75.0 M21.5,75.5 L21.5,75.5 M22.5,76.0 L22.5,76.0 M130.5,76.0 L130.6,76.0 M127.4,76.6 L127.8,76.5 M-8.0,105.8 L4.3,98.0 L9.7,94.0 L13.9,90.5 L17.6,87.0 L20.6,83.5 L22.7,80.5 L24.5,77.0 M122.0,77.5 L122.0,77.5 M119.0,78.0 L119.0,78.0 M115.4,78.6 L115.8,78.5 M112.5,79.0 L112.5,79.0 M109.0,79.5 L109.0,79.5 M35.4,80.0 L35.5,80.0 M104.9,80.1 L105.3,80.0 M38.0,80.5 L38.0,80.5 M101.0,80.5 L101.3,80.5 M41.0,81.0 L41.0,81.0 M96.4,81.1 L96.9,81.0 M44.6,81.5 L45.1,81.6 M91.5,81.5 L92.0,81.5 M49.3,82.0 L49.5,82.0 M85.5,82.0 L86.0,82.0 M56.4,82.5 L57.6,82.6 M75.9,82.6 L77.6,82.5 M-8.0,100.6 L-1.5,96.3 L4.2,92.0 L8.7,88.0 L11.7,84.5 L13.4,82.0 L14.5,79.5 L15.1,76.5 L15.3,70.5 L16.0,68.5 L17.6,66.5 L20.5,64.3 L25.0,62.1 L30.5,60.2 L36.5,58.8 L46.5,57.1 L57.5,56.1 L70.0,55.7 L83.0,56.0 L94.5,56.7 L106.5,57.8 L120.2,59.5 L147.0,63.3 L156.5,64.0 L163.0,63.4 L183.5,59.8 M-8.0,95.4 L-3.2,92.0 L1.0,88.7 L4.4,85.5 L7.0,82.6 L8.9,80.0 L10.3,77.5 L13.9,68.5 L15.3,66.5 L17.3,64.5 L21.0,62.0 L25.5,59.9 L31.5,57.8 L38.0,56.2 L47.5,54.6 L58.0,53.6 L69.5,53.1 L81.5,53.1 L92.0,53.6 L103.0,54.3 L143.0,58.6 L155.0,59.2 L159.5,59.1 L165.0,58.5 L183.5,55.6 M-8.0,90.2 L-1.5,85.1 L3.5,80.1 L7.0,75.6 L12.3,67.0 L14.4,64.5 L16.7,62.5 L21.0,59.8 L26.5,57.3 L33.0,55.2 L40.0,53.6 L49.0,52.1 L59.0,51.0 L70.0,50.4 L81.5,50.3 L100.5,51.1 L141.0,54.3 L154.5,54.8 L166.0,54.0 L183.5,51.5 M-8.0,85.1 L-3.5,81.4 L0.1,78.0 L4.0,73.7 L10.9,65.0 L13.5,62.5 L16.5,60.1 L21.5,57.2 L27.0,54.9 L34.0,52.6 L41.5,50.9 L50.0,49.5 L59.5,48.4 L70.0,47.8 L81.0,47.5 L99.0,47.9 L139.0,50.3 L154.0,50.6 L166.5,49.7 L183.5,47.3 M-8.0,80.1 L-1.0,73.9 L10.0,62.5 L13.0,60.0 L16.5,57.5 L22.0,54.6 L28.0,52.2 L35.5,49.9 L43.5,48.1 L51.0,46.9 L58.5,46.0 L75.5,44.8 L86.0,44.7 L97.5,44.8 L136.0,46.4 L149.5,46.5 L157.0,46.3 L164.5,45.7 L183.5,43.3 M-8.0,75.3 L-3.0,71.1 L8.5,60.5 L12.5,57.4 L17.0,54.6 L23.0,51.7 L29.5,49.2 L37.0,47.1 L45.0,45.3 L59.5,43.2 L76.0,42.0 L96.5,41.7 L135.0,42.6 L149.0,42.6 L165.0,41.6 L183.5,39.2 M-8.0,63.9 L1.3,57.0 L7.0,53.1 L12.5,49.9 L18.5,46.8 L25.0,44.2 L32.5,41.7 L40.0,39.7 L48.5,37.9 L62.0,35.9 L77.5,34.4 L96.0,33.6 L133.0,33.0 L148.0,32.4 L165.0,31.1 L183.5,28.7 M-8.0,53.8 L0.0,48.9 L6.9,45.0 L13.5,41.7 L20.0,38.9 L27.0,36.4 L34.5,34.1 L42.5,32.1 L51.0,30.3 L64.5,28.2 L79.5,26.5 L96.5,25.3 L132.0,23.5 L147.5,22.5 L165.0,20.8 L183.5,18.4 M-8.0,44.4 L7.0,36.8 L14.0,33.7 L21.0,31.0 L28.5,28.5 L36.0,26.4 L44.5,24.3 L53.0,22.5 L66.5,20.3 L81.0,18.4 L97.0,16.9 L147.5,12.8 L165.0,10.8 L183.5,8.2 M-8.0,35.4 L7.5,28.4 L22.5,22.8 L38.0,18.2 L55.0,14.4 L68.0,12.1 L83.0,10.0 L148.0,3.1 L165.5,0.8 L183.5,-1.9 M-8.0,26.6 L7.5,20.1 L22.0,15.0 L37.0,10.6 L53.5,6.8 L69.0,3.9 L86.0,1.3 L158.5,-8.0 M-8.0,17.7 L3.5,13.2 L14.5,9.3 L25.5,5.8 L37.0,2.6 L49.0,-0.3 L61.5,-3.0 L75.5,-5.5 L90.8,-8.0 M-8.0,8.9 L5.5,3.9 L19.0,-0.5 L32.5,-4.5 L46.4,-8.0 M-8.0,0.0 L4.0,-4.2 L15.6,-8.0" fill="none" stroke="#111" stroke-width="0.9" stroke-linejoin="round"/><path d="M163.7,135.3 L168.1,132.1 L162.7,131.2 M163.4,130.7 L167.9,127.5 L162.5,126.6 M128.6,133.7 L133.0,130.6 L127.7,129.5 M163.2,126.1 L167.6,123.0 L162.3,122.0 M93.7,136.2 L98.1,133.1 L92.8,132.1 M128.3,129.0 L132.8,125.9 L127.4,124.9 M163.0,121.5 L167.4,118.4 L162.1,117.4 M93.4,131.4 L97.9,128.3 L92.6,127.3 M128.1,124.4 L132.5,121.3 L127.2,120.2 M162.7,117.0 L167.2,113.8 L161.8,112.9 M58.6,133.9 L63.0,130.7 L57.7,129.8 M93.1,126.5 L97.7,123.5 L92.3,122.4 M127.8,119.7 L132.3,116.7 L127.0,115.6 M162.5,112.4 L166.9,109.3 L161.6,108.3 M58.3,128.6 L62.8,125.5 L57.4,124.5 M92.9,121.7 L97.4,118.7 L92.1,117.5 M127.6,115.1 L132.1,112.1 L126.8,111.0 M162.3,107.9 L166.7,104.7 L161.4,103.8 M26.4,132.4 L30.4,128.8 L25.0,128.5 M58.0,123.3 L62.5,120.2 L57.2,119.2 M92.6,116.8 L97.2,113.9 L91.9,112.7 M127.4,110.5 L131.9,107.5 L126.5,106.4 M162.1,103.3 L166.5,100.2 L161.2,99.2 M26.1,126.8 L30.1,123.2 L24.7,122.8 M57.7,117.9 L62.2,114.9 L56.9,113.8 M92.3,112.0 L96.9,109.1 L91.7,107.9 M127.1,105.9 L131.6,102.9 L126.3,101.8 M161.8,98.8 L166.3,95.7 L160.9,94.7 M25.8,121.0 L29.8,117.4 L24.4,117.1 M57.4,112.5 L62.0,109.6 L56.7,108.4 M92.1,107.2 L96.7,104.4 L91.4,103.1 M126.9,101.4 L131.4,98.4 L126.1,97.3 M161.6,94.3 L166.0,91.1 L160.7,90.2 M25.5,115.0 L29.5,111.4 L24.1,111.1 M57.0,107.0 L61.7,104.2 L56.4,102.8 M91.8,102.4 L96.5,99.6 L91.2,98.3 M126.6,96.9 L131.2,93.9 L125.9,92.7 M161.4,89.8 L165.8,86.6 L160.5,85.7 M25.2,108.7 L29.2,105.0 L23.8,104.8 M56.7,101.4 L61.4,98.8 L56.2,97.3 M91.5,97.7 L96.2,94.9 L91.0,93.5 M126.4,92.3 L130.9,89.4 L125.6,88.2 M161.2,85.3 L165.6,82.1 L160.2,81.2 M24.9,101.8 L28.9,98.1 L23.5,97.9 M56.3,95.8 L61.1,93.4 L56.0,91.6 M91.3,93.0 L96.0,90.3 L90.8,88.8 M126.2,87.9 L130.7,84.9 L125.4,83.7 M161.0,80.8 L165.4,77.5 L160.0,76.7 M24.5,93.9 L28.5,90.2 L23.1,89.9 M55.9,90.2 L60.9,88.0 L55.8,86.0 M91.0,88.3 L95.8,85.7 L90.6,84.2 M126.0,83.4 L130.5,80.5 L125.2,79.3 M160.9,76.3 L165.1,72.9 L159.7,72.3 M160.6,71.3 L164.9,67.9 L159.5,67.2 M15.6,71.2 L17.8,66.3 L12.7,68.2 M45.0,59.3 L49.7,56.7 L44.6,55.1 M77.3,57.8 L82.4,55.9 L77.5,53.6 M109.1,60.2 L114.3,58.7 L109.6,56.0 M140.7,64.6 L146.0,63.1 L141.3,60.4 M15.6,68.3 L18.4,63.6 L13.1,64.9 M45.5,57.0 L50.2,54.3 L45.0,52.8 M77.9,55.1 L83.0,53.2 L78.0,50.9 M109.8,57.0 L115.0,55.5 L110.2,52.9 M141.7,60.6 L146.8,58.9 L142.0,56.4 M15.8,65.4 L18.9,61.0 L13.5,61.9 M46.0,54.5 L50.7,51.8 L45.5,50.4 M78.5,52.4 L83.5,50.4 L78.6,48.2 M110.5,53.8 L115.7,52.2 L110.8,49.7 M142.6,56.6 L147.6,54.7 L142.7,52.4 M16.1,62.6 L19.4,58.3 L14.0,59.0 M46.5,52.1 L51.2,49.3 L46.0,47.9 M79.1,49.6 L84.1,47.5 L79.1,45.4 M111.2,50.6 L116.3,48.9 L111.5,46.4 M143.4,52.6 L148.5,50.6 L143.5,48.4 M16.5,59.7 L20.0,55.6 L14.6,56.0 M47.1,49.5 L51.7,46.8 L46.5,45.4 M79.7,46.8 L84.7,44.7 L79.6,42.6 M111.9,47.4 L117.0,45.5 L112.1,43.2 M144.3,48.7 L149.3,46.5 L144.3,44.5 M16.9,56.8 L20.5,52.8 L15.1,53.0 M47.6,46.9 L52.3,44.2 L47.0,42.8 M80.3,43.9 L85.2,41.7 L80.2,39.7 M112.6,44.1 L117.7,42.1 L112.7,39.9 M145.2,44.8 L150.1,42.5 L145.0,40.6 M18.2,49.1 L22.0,45.3 L16.6,45.2 M49.1,39.9 L53.7,37.0 L48.4,35.7 M81.9,36.2 L86.8,33.9 L81.7,32.0 M114.5,35.3 L119.5,33.2 L114.4,31.1 M147.3,34.6 L152.2,32.2 L147.0,30.4 M19.6,41.3 L23.6,37.6 L18.2,37.3 M50.6,32.5 L55.2,29.6 L49.9,28.3 M83.6,28.3 L88.4,25.8 L83.3,24.1 M116.4,26.4 L121.3,24.1 L116.2,22.2 M149.4,24.5 L154.2,22.0 L149.0,20.3 M21.1,33.2 L25.2,29.6 L19.8,29.2 M52.2,24.8 L56.7,21.8 L51.4,20.6 M85.3,20.1 L90.1,17.5 L84.9,15.9 M118.3,17.3 L123.1,14.9 L118.0,13.1 M151.5,14.5 L156.2,11.8 L151.0,10.3 M22.7,24.9 L26.8,21.4 L21.4,20.9 M53.8,16.8 L58.3,13.8 L53.0,12.6 M87.1,11.6 L91.8,9.0 L86.6,7.4 M120.2,8.1 L125.0,5.5 L119.8,4.0 M153.5,4.5 L158.2,1.8 L153.0,0.3 M24.3,16.4 L28.5,13.0 L23.1,12.4 M55.5,8.5 L60.0,5.5 L54.7,4.4 M88.9,3.0 L93.5,0.2 L88.3,-1.2 M26.0,7.8 L30.2,4.4 L24.8,3.8" fill="none" stroke="#111" stroke-width="0.9" stroke-linejoin="miter"/><path d="M69.7,46.5 L69.7,46.8 L69.7,47.2 L69.6,47.5 L69.5,47.8 L69.3,48.2 L69.0,48.5 L68.7,48.9 L68.4,49.3 L68.0,49.6 L67.5,50.0 L67.0,50.3 L66.5,50.7 L65.9,51.1 L65.3,51.4 L64.6,51.8 L63.9,52.1 L63.1,52.5 L62.3,52.8 L61.5,53.1 L60.6,53.4 L59.7,53.7 L58.8,54.0 L57.8,54.3 L56.9,54.6 L55.9,54.9 L54.9,55.1 L53.9,55.3 L52.9,55.6 L51.8,55.8 L50.8,56.0 L49.7,56.1 L48.7,56.3 L47.7,56.4 L46.6,56.5 L45.6,56.6 L44.6,56.7 L43.6,56.8 L42.6,56.8 L41.7,56.8 L40.7,56.9 L39.8,56.8 L39.0,56.8 L38.1,56.8 L37.3,56.7 L36.5,56.6 L35.8,56.5 L35.1,56.4 L34.4,56.2 L33.8,56.1 L33.2,55.9 L32.7,55.7 L32.2,55.5 L31.8,55.3 L31.4,55.0 L31.1,54.8 L30.8,54.5 L30.6,54.2 L30.4,53.9 L30.3,53.6 L30.3,53.3 L30.3,53.0 L30.3,52.7 L30.4,52.3 L30.6,52.0 L30.8,51.6 L31.1,51.3 L31.4,50.9 L31.8,50.6 L32.2,50.2 L32.7,49.8 L33.2,49.5 L33.8,49.1 L34.4,48.8 L35.1,48.4 L35.8,48.1 L36.5,47.7 L37.3,47.4 L38.1,47.0 L39.0,46.7 L39.8,46.4 L40.7,46.1 L41.7,45.8 L42.6,45.5 L43.6,45.3 L44.6,45.0 L45.6,44.8 L46.6,44.5 L47.7,44.3 L48.7,44.1 L49.7,44.0 L50.8,43.8 L51.8,43.7 L52.9,43.5 L53.9,43.4 L54.9,43.3 L55.9,43.3 L56.9,43.2 L57.8,43.2 L58.8,43.1 L59.7,43.2 L60.6,43.2 L61.5,43.2 L62.3,43.3 L63.1,43.4 L63.9,43.5 L64.6,43.6 L65.3,43.7 L65.9,43.9 L66.5,44.0 L67.0,44.2 L67.5,44.4 L68.0,44.6 L68.4,44.9 L68.7,45.1 L69.0,45.4 L69.3,45.6 L69.5,45.9 L69.6,46.2 L69.7,46.5 M75.9,47.8 L76.0,48.0 L75.9,48.3 L75.8,48.6 L75.7,48.9 L75.6,49.1 L75.4,49.4 L75.2,49.7 L74.9,49.9 L74.6,50.2 L74.3,50.5 L73.9,50.7 L73.5,51.0 L73.1,51.2 L72.6,51.5 L72.1,51.7 L71.6,51.9 L71.0,52.1 L70.5,52.3 L69.9,52.5 L69.2,52.7 L68.6,52.9 L67.9,53.1 L67.3,53.2 L66.6,53.4 L65.9,53.5 L65.2,53.6 L64.4,53.8 L63.7,53.8 L63.0,53.9 L62.3,54.0 L61.5,54.1 L60.8,54.1 L60.0,54.1 L59.3,54.1 L58.6,54.1 L57.9,54.1 L57.2,54.1 L56.5,54.0 L55.8,54.0 L55.2,53.9 L54.6,53.8 L53.9,53.7 L53.4,53.6 L52.8,53.5 L52.2,53.3 L51.7,53.2 L51.2,53.0 L50.8,52.8 L50.4,52.7 L50.0,52.5 L49.6,52.3 L49.3,52.0 L49.0,51.8 L48.8,51.6 L48.5,51.4 L48.4,51.1 L48.2,50.9 L48.1,50.6 L48.1,50.4 L48.0,50.1 L48.1,49.8 L48.1,49.6 L48.2,49.3 L48.3,49.0 L48.5,48.7 L48.7,48.5 L49.0,48.2 L49.2,47.9 L49.6,47.7 L49.9,47.4 L50.3,47.2 L50.7,46.9 L51.2,46.7 L51.6,46.4 L52.2,46.2 L52.7,46.0 L53.2,45.8 L53.8,45.6 L54.4,45.4 L55.1,45.2 L55.7,45.0 L56.4,44.8 L57.1,44.7 L57.8,44.5 L58.5,44.4 L59.2,44.3 L59.9,44.2 L60.6,44.1 L61.4,44.0 L62.1,44.0 L62.9,43.9 L63.6,43.9 L64.3,43.9 L65.0,43.9 L65.8,43.9 L66.5,43.9 L67.1,43.9 L67.8,44.0 L68.5,44.1 L69.1,44.1 L69.8,44.2 L70.4,44.3 L70.9,44.5 L71.5,44.6 L72.0,44.7 L72.5,44.9 L73.0,45.1 L73.4,45.2 L73.8,45.4 L74.2,45.6 L74.5,45.8 L74.8,46.1 L75.1,46.3 L75.3,46.5 L75.5,46.8 L75.7,47.0 L75.8,47.3 L75.9,47.5 L75.9,47.8" fill="none" stroke="#111" stroke-width="0.85"/><path d="M63.9,50.4 L60.8,53.4 L65.1,53.6 M47.4,52.6 L48.7,48.4 L44.9,50.4" fill="none" stroke="#111" stroke-width="0.9"/><ellipse cx="30" cy="58" rx="4.6" ry="4.2" transform="rotate(0.0 30 58)" fill="#111" stroke="none" stroke-width="0.8"/><ellipse cx="60" cy="49" rx="3.0" ry="2.8" transform="rotate(0.0 60 49)" fill="#111" stroke="none" stroke-width="0.8"/><path d="M16.9,70.6 L17.0,69.9 L17.1,69.2 L17.4,68.6 L17.8,67.9 L18.9,66.6 L20.4,65.4 L22.4,64.2 L24.8,63.1 L27.5,62.0 L30.7,61.0 L34.2,60.1 L37.6,59.3 L41.8,58.6 L45.7,58.1 L49.9,57.7 L54.3,57.4 L58.8,57.2 L63.5,57.1 L72.2,57.3 L81.7,57.8 L91.8,58.8 L103.1,60.1 L114.5,61.8 L127.6,64.0 L142.2,66.7 L160.6,70.3 L142.2,74.0 L127.6,76.7 L114.5,79.0 L103.1,80.7 L91.9,82.1 L81.7,83.1 L72.2,83.7 L63.6,83.9 L58.9,83.8 L54.3,83.7 L50.0,83.4 L45.8,83.0 L41.8,82.5 L37.7,81.8 L34.2,81.1 L30.7,80.2 L27.6,79.2 L24.8,78.1 L22.4,77.0 L20.4,75.8 L18.9,74.6 L17.8,73.3 L17.4,72.6 L17.1,72.0 L17.0,71.3 L16.9,70.6Z" fill="#fff" stroke="#222" stroke-width="0.8"/>
</g>
<rect x="0" y="0" width="1" height="130.4" fill="#8c8c8c"/>
<rect x="175.2" y="0" width="0.9" height="130.4" fill="#d4d4dc"/>
<rect x="1" y="130.4" width="175.2" height="0.8" fill="#dcdce4"/>
</g>
<g transform="translate(524,302)"><g clip-path="url(#cp_r3c3)">
<rect x="0" y="0" width="175.5" height="131" fill="#fff"/><path d="M42.0,37.9 L44.5,37.7 L47.0,37.9 L49.2,38.5 L51.0,39.5 L52.3,41.0 L52.7,42.5 L52.5,44.0 L51.7,45.5 L50.1,47.0 L48.5,48.0 L46.5,48.9 L44.0,49.5 L41.5,49.7 L39.0,49.5 L37.0,48.9 L35.3,48.0 L33.9,46.5 L33.4,45.0 L33.6,43.5 L34.3,42.0 L35.8,40.5 L37.5,39.4 L39.5,38.5 L42.0,37.9Z" fill="#3838ff" fill-rule="evenodd"/><path d="M41.5,35.4 L45.0,35.1 L48.5,35.3 L51.5,36.1 L54.1,37.5 L55.2,38.5 L55.9,39.5 L56.6,41.5 L56.6,42.5 L56.3,44.0 L55.2,46.0 L53.2,48.0 L50.5,49.7 L47.5,50.9 L44.0,51.6 L40.5,51.8 L37.0,51.4 L34.2,50.5 L32.0,49.2 L30.5,47.5 L29.7,45.5 L29.8,43.5 L30.2,42.5 L31.0,41.1 L33.0,39.0 L35.3,37.5 L38.0,36.3 L41.5,35.4Z M41.6,38.0 L39.0,38.7 L37.0,39.7 L35.2,41.0 L34.0,42.5 L33.4,44.0 L33.5,45.5 L34.2,47.0 L35.3,48.0 L37.0,48.9 L39.0,49.5 L41.5,49.7 L44.0,49.5 L46.5,48.9 L48.5,48.0 L50.1,47.0 L51.7,45.5 L52.5,44.0 L52.7,42.5 L52.3,41.0 L51.0,39.5 L49.2,38.5 L47.0,37.9 L44.5,37.7 L41.6,38.0Z M18.5,58.4 L19.5,58.2 L19.9,58.5 L19.8,59.0 L19.0,59.8 L18.0,60.1 L17.8,60.0 L17.6,59.5 L17.9,59.0 L18.5,58.4Z" fill="#3876ff" fill-rule="evenodd"/><path d="M44.5,31.5 L49.0,31.6 L53.0,32.3 L56.5,33.7 L58.0,34.7 L59.5,36.0 L60.5,37.3 L61.1,38.5 L61.6,40.0 L61.6,41.5 L61.4,43.0 L60.8,44.5 L59.2,47.0 L56.4,49.5 L52.5,51.7 L48.5,53.1 L44.0,54.0 L39.5,54.1 L35.5,53.6 L31.0,52.2 L29.5,51.5 L28.1,50.5 L26.8,49.0 L26.0,47.5 L25.5,46.0 L25.3,44.5 L25.5,43.0 L25.9,41.5 L26.7,40.0 L27.8,38.5 L29.3,37.0 L31.0,35.7 L35.0,33.6 L39.5,32.2 L44.5,31.5Z M41.2,35.5 L38.0,36.3 L35.0,37.7 L32.4,39.5 L30.7,41.5 L30.2,42.5 L29.7,44.0 L29.8,46.0 L30.8,48.0 L32.4,49.5 L35.0,50.8 L38.0,51.6 L41.0,51.8 L44.5,51.6 L48.0,50.7 L50.8,49.5 L53.2,48.0 L55.2,46.0 L56.3,44.0 L56.6,42.5 L56.6,41.5 L55.9,39.5 L55.2,38.5 L54.1,37.5 L51.5,36.1 L48.5,35.3 L45.0,35.1 L41.2,35.5Z M19.5,55.9 L21.5,55.6 L22.5,56.0 L22.9,57.0 L22.4,58.5 L21.3,60.0 L19.5,61.3 L17.5,61.9 L16.0,61.7 L15.5,61.3 L15.2,60.5 L15.7,59.0 L16.5,58.0 L17.5,57.1 L19.5,55.9Z M18.4,58.5 L17.6,59.5 L17.8,60.0 L18.0,60.1 L19.0,59.8 L19.8,59.0 L19.9,58.5 L19.5,58.2 L18.4,58.5Z" fill="#38adff" fill-rule="evenodd"/><path d="M42.5,23.5 L45.5,23.3 L49.0,23.5 L52.0,23.9 L55.0,24.6 L58.0,25.7 L60.5,26.8 L63.0,28.4 L65.0,30.0 L66.9,32.0 L68.2,34.0 L69.0,36.0 L69.5,38.0 L69.5,40.5 L69.0,42.5 L68.2,44.5 L67.0,46.5 L64.8,49.0 L61.6,51.5 L57.9,53.5 L53.5,55.2 L48.0,56.4 L42.0,57.0 L36.5,56.7 L30.0,55.6 L28.0,55.6 L26.5,56.4 L23.1,60.0 L21.5,61.2 L20.0,62.1 L18.5,62.8 L17.0,63.1 L15.5,63.0 L14.5,62.6 L14.0,62.0 L13.7,61.0 L13.8,60.0 L14.5,58.5 L16.5,56.0 L20.7,52.5 L21.3,51.5 L21.1,50.0 L19.4,45.5 L19.1,44.0 L19.1,42.0 L19.4,40.0 L20.1,38.0 L21.0,36.0 L22.3,34.0 L24.0,31.9 L26.0,30.0 L28.5,28.2 L31.0,26.7 L33.5,25.6 L36.5,24.6 L39.5,23.9 L42.5,23.5Z M44.4,31.5 L39.5,32.2 L35.0,33.6 L31.0,35.7 L29.3,37.0 L27.8,38.5 L26.7,40.0 L25.9,41.5 L25.5,43.0 L25.3,44.5 L25.5,46.0 L26.0,47.5 L26.8,49.0 L28.1,50.5 L29.5,51.5 L31.0,52.2 L35.5,53.6 L39.5,54.1 L44.0,54.0 L48.5,53.1 L52.5,51.7 L56.4,49.5 L59.2,47.0 L60.8,44.5 L61.4,43.0 L61.6,41.5 L61.6,40.0 L61.1,38.5 L60.3,37.0 L59.5,36.0 L58.0,34.7 L56.5,33.7 L53.0,32.3 L49.0,31.6 L44.4,31.5Z M19.4,56.0 L17.0,57.5 L15.7,59.0 L15.2,60.5 L15.5,61.3 L16.0,61.7 L17.5,61.9 L19.5,61.3 L21.3,60.0 L22.4,58.5 L22.9,57.0 L22.5,56.0 L22.0,55.7 L21.0,55.6 L19.4,56.0Z" fill="#38ecff" fill-rule="evenodd"/><path d="M38.5,14.5 L43.0,14.1 L47.5,14.1 L52.0,14.5 L56.5,15.4 L60.5,16.6 L64.5,18.2 L68.0,20.1 L71.4,22.5 L74.1,25.0 L76.5,28.0 L78.2,31.0 L79.3,34.0 L79.8,37.0 L79.7,40.0 L79.1,43.0 L77.9,46.0 L76.6,48.0 L75.0,50.0 L73.0,52.0 L71.0,53.5 L68.6,55.0 L66.0,56.3 L60.0,58.4 L56.5,59.2 L52.5,59.9 L45.0,60.5 L38.5,60.3 L30.5,59.2 L28.5,59.2 L27.5,59.3 L26.0,59.9 L21.5,62.5 L18.5,63.8 L17.0,64.1 L15.5,64.2 L14.5,64.1 L13.5,63.7 L12.4,62.5 L12.1,61.5 L12.1,60.5 L12.7,58.5 L14.7,54.5 L14.9,53.0 L14.5,52.0 L12.4,49.0 L11.1,46.5 L10.2,43.5 L9.9,40.5 L10.0,38.0 L10.4,35.5 L11.1,33.0 L12.2,30.5 L14.1,27.5 L16.5,24.6 L19.5,22.0 L22.4,20.0 L26.0,18.1 L30.0,16.5 L34.0,15.3 L38.5,14.5Z M42.0,23.5 L39.0,24.0 L36.0,24.7 L33.0,25.8 L30.5,27.0 L28.0,28.5 L25.5,30.5 L23.5,32.5 L22.0,34.4 L20.7,36.5 L19.9,38.5 L19.3,40.5 L19.1,42.5 L19.4,45.5 L21.1,50.0 L21.3,51.5 L20.7,52.5 L16.5,56.0 L14.5,58.5 L13.8,60.0 L13.7,61.0 L14.0,62.0 L14.5,62.6 L15.5,63.0 L17.0,63.1 L18.5,62.8 L20.0,62.1 L21.5,61.2 L23.1,60.0 L26.5,56.4 L28.0,55.6 L30.0,55.6 L36.5,56.7 L42.0,57.0 L48.0,56.4 L53.5,55.2 L57.9,53.5 L61.6,51.5 L64.8,49.0 L67.0,46.5 L68.2,44.5 L69.0,42.5 L69.5,40.5 L69.5,38.0 L69.0,35.9 L68.0,33.7 L66.5,31.5 L65.0,30.0 L63.0,28.4 L60.5,26.8 L58.0,25.7 L55.0,24.6 L52.0,23.9 L48.5,23.4 L45.5,23.3 L42.0,23.5Z" fill="#38ffd4" fill-rule="evenodd"/><path d="M42.0,4.5 L47.5,4.5 L53.5,5.0 L59.0,5.9 L64.5,7.3 L69.5,9.1 L74.0,11.3 L78.4,14.0 L82.0,17.0 L85.0,20.2 L87.7,24.0 L89.7,28.0 L91.2,32.5 L91.9,37.0 L92.0,41.0 L91.3,45.0 L89.9,48.5 L88.4,51.0 L86.7,53.0 L84.4,55.0 L82.0,56.6 L79.3,58.0 L75.6,59.5 L71.0,60.9 L66.5,62.0 L57.0,63.5 L47.5,64.0 L39.5,63.8 L28.5,62.5 L26.5,62.4 L24.5,62.8 L19.5,64.5 L17.0,65.1 L14.5,65.3 L12.5,64.8 L11.3,64.0 L10.2,62.5 L9.5,59.0 L9.0,57.8 L8.0,56.8 L3.9,54.0 L1.8,52.0 L-0.3,49.0 L-1.9,45.5 L-2.0,31.2 L-0.3,27.0 L2.5,22.5 L6.0,18.5 L10.5,14.7 L16.0,11.3 L21.5,8.7 L28.0,6.6 L35.0,5.2 L42.0,4.5Z M38.4,14.5 L34.0,15.3 L30.0,16.5 L26.0,18.1 L22.4,20.0 L19.5,22.0 L16.5,24.6 L14.1,27.5 L12.2,30.5 L11.1,33.0 L10.4,35.5 L10.0,38.0 L9.9,40.5 L10.2,43.5 L11.1,46.5 L12.4,49.0 L14.5,52.0 L14.9,53.0 L14.7,54.5 L12.7,58.5 L12.1,60.5 L12.1,61.5 L12.4,62.5 L13.5,63.7 L14.5,64.1 L15.5,64.2 L17.0,64.1 L18.5,63.8 L21.5,62.5 L26.0,59.9 L27.5,59.3 L28.5,59.2 L30.5,59.2 L38.5,60.3 L45.0,60.5 L52.5,59.9 L56.5,59.2 L60.0,58.4 L66.0,56.3 L68.6,55.0 L71.0,53.5 L73.0,52.0 L75.0,50.0 L76.6,48.0 L78.0,45.7 L79.2,42.5 L79.8,39.5 L79.7,36.5 L79.1,33.5 L78.0,30.5 L76.2,27.5 L74.0,24.9 L71.0,22.2 L67.8,20.0 L64.0,18.0 L60.0,16.4 L56.0,15.3 L52.0,14.5 L47.5,14.1 L43.0,14.1 L38.4,14.5Z" fill="#38ff8e" fill-rule="evenodd"/><path d="M-1.5,-2.0 L117.6,-2.0 L115.5,1.0 L113.8,4.0 L112.4,7.0 L111.3,10.5 L110.6,13.5 L110.3,17.0 L110.3,20.5 L110.7,24.0 L111.4,27.5 L112.4,31.0 L113.7,34.5 L115.1,37.5 L116.8,40.5 L118.8,43.5 L126.6,53.0 L127.4,55.0 L127.2,56.5 L126.4,57.5 L125.7,58.0 L123.5,59.0 L120.0,60.0 L116.0,60.7 L109.5,61.4 L93.0,62.7 L67.5,66.0 L54.5,67.0 L48.0,67.1 L42.0,66.9 L24.5,65.2 L22.0,65.4 L16.5,66.4 L13.5,66.5 L12.0,66.3 L10.5,65.8 L7.0,63.8 L5.5,63.2 L3.0,62.8 L-2.0,62.5 L-2.0,45.2 L-0.3,49.0 L1.8,52.0 L3.9,54.0 L8.0,56.8 L9.0,57.8 L9.5,59.0 L9.9,61.5 L10.5,63.0 L11.5,64.2 L13.0,65.0 L15.0,65.3 L17.0,65.1 L19.5,64.5 L24.5,62.8 L27.0,62.4 L41.0,63.9 L46.5,64.0 L52.0,63.9 L60.8,63.0 L69.0,61.5 L72.6,60.5 L76.5,59.2 L79.3,58.0 L82.1,56.5 L84.4,55.0 L86.2,53.5 L88.0,51.5 L89.4,49.5 L90.4,47.5 L91.3,45.0 L91.8,42.5 L92.0,39.5 L91.9,36.5 L91.3,33.0 L90.3,29.5 L89.0,26.5 L87.4,23.5 L85.5,20.8 L83.5,18.5 L80.9,16.0 L78.0,13.7 L75.0,11.9 L71.5,10.0 L67.5,8.4 L64.0,7.2 L59.5,6.0 L55.5,5.2 L51.0,4.7 L46.5,4.4 L42.5,4.5 L38.0,4.8 L33.5,5.4 L29.0,6.4 L24.5,7.7 L20.5,9.1 L17.0,10.7 L13.5,12.7 L10.5,14.7 L7.6,17.0 L5.0,19.5 L2.8,22.0 L0.8,25.0 L-0.8,28.0 L-2.0,31.2 L-2.0,-2.0 L-1.5,-2.0Z" fill="#38ff50" fill-rule="evenodd"/><path d="M117.5,-1.8 L117.6,-2.0 L177.0,-2.0 L177.0,43.6 L175.0,43.9 L173.0,44.8 L171.5,46.0 L170.0,47.7 L168.9,49.5 L168.1,51.5 L166.4,58.5 L165.7,60.5 L164.4,62.5 L162.5,64.1 L160.5,65.0 L158.5,65.5 L152.5,66.1 L121.0,67.3 L89.0,68.0 L62.0,69.6 L54.0,70.0 L48.0,70.0 L42.0,69.7 L22.0,67.6 L12.5,68.1 L5.0,67.3 L-2.0,67.4 L-2.0,62.5 L3.0,62.8 L5.5,63.2 L7.0,63.8 L10.5,65.8 L12.0,66.3 L13.5,66.5 L16.5,66.4 L22.0,65.4 L24.5,65.2 L41.5,66.9 L47.0,67.1 L53.0,67.1 L65.0,66.2 L92.5,62.8 L113.8,61.0 L121.0,59.8 L123.5,59.0 L125.7,58.0 L126.9,57.0 L127.4,56.0 L127.4,55.0 L127.1,54.0 L125.5,51.5 L118.8,43.5 L115.5,38.3 L113.9,35.0 L112.4,31.0 L111.3,27.0 L110.6,23.0 L110.3,19.5 L110.3,16.5 L110.7,13.0 L111.4,10.0 L112.4,7.0 L113.8,4.0 L115.5,1.0 L117.5,-1.8Z" fill="#57ff38" fill-rule="evenodd"/><path d="M175.0,43.9 L177.0,43.6 L177.0,58.4 L175.5,59.6 L172.0,64.5 L169.2,67.0 L167.0,68.3 L165.0,69.1 L162.5,69.9 L160.0,70.4 L153.5,70.9 L130.5,71.4 L85.5,72.0 L54.0,73.2 L48.5,73.1 L43.0,72.7 L19.0,69.7 L16.0,69.8 L-2.0,71.0 L-2.0,67.4 L0.5,67.3 L5.5,67.3 L12.5,68.1 L22.0,67.6 L41.5,69.6 L47.0,69.9 L52.5,70.0 L61.5,69.7 L88.0,68.0 L125.0,67.2 L151.5,66.2 L157.5,65.7 L160.0,65.1 L161.6,64.5 L163.3,63.5 L164.5,62.4 L165.4,61.0 L166.1,59.5 L167.8,52.5 L169.2,49.0 L170.5,47.0 L172.0,45.5 L173.5,44.5 L175.0,43.9Z" fill="#96ff38" fill-rule="evenodd"/><path d="M177.0,58.4 L177.0,70.3 L174.0,71.1 L167.5,74.1 L164.5,75.2 L161.5,76.0 L158.0,76.5 L152.0,76.8 L131.5,77.2 L87.0,77.6 L62.0,78.4 L56.0,78.4 L52.0,78.1 L47.0,77.4 L28.5,73.9 L21.0,72.0 L18.0,71.7 L14.5,72.0 L7.5,73.6 L-2.0,75.3 L-2.0,71.0 L17.5,69.7 L21.5,69.9 L29.5,71.1 L43.0,72.7 L53.0,73.2 L60.0,73.1 L86.5,72.0 L125.0,71.5 L152.0,70.9 L158.0,70.6 L161.0,70.2 L164.0,69.5 L166.5,68.5 L168.5,67.4 L171.5,65.0 L173.2,63.0 L175.5,59.6 L177.0,58.4Z" fill="#c8f83c" fill-rule="evenodd"/><path d="M176.0,70.5 L177.0,70.3 L177.0,132.5 L-2.0,132.5 L-2.0,107.4 L0.3,111.5 L3.0,114.9 L6.0,117.7 L9.5,119.9 L13.5,121.6 L17.5,122.4 L21.5,122.5 L25.5,121.9 L29.5,120.4 L33.0,118.4 L36.0,116.0 L39.0,112.5 L41.5,108.5 L43.1,104.5 L44.2,100.0 L44.5,96.0 L44.3,92.5 L43.4,89.0 L42.1,86.5 L40.0,84.0 L38.1,82.5 L36.4,81.5 L34.3,80.5 L28.5,78.3 L22.0,74.6 L20.0,73.9 L17.5,73.7 L15.5,74.0 L13.5,74.8 L11.4,76.0 L7.5,78.7 L1.7,82.0 L-0.6,84.0 L-2.0,85.9 L-2.0,75.3 L7.5,73.6 L14.5,72.0 L18.0,71.7 L21.0,72.0 L28.5,73.9 L47.0,77.4 L52.0,78.1 L56.0,78.4 L62.0,78.4 L86.5,77.6 L123.0,77.4 L151.5,76.8 L158.5,76.4 L163.0,75.6 L167.0,74.3 L173.0,71.5 L176.0,70.5Z" fill="#f6f23a" fill-rule="evenodd"/><path d="M15.5,74.0 L17.0,73.7 L18.5,73.7 L21.5,74.4 L23.8,75.5 L28.0,78.1 L34.3,80.5 L37.5,82.1 L40.0,84.0 L42.1,86.5 L43.4,89.0 L44.2,92.0 L44.5,94.5 L44.5,97.0 L43.8,102.0 L42.2,107.0 L40.9,109.5 L39.5,111.8 L36.5,115.5 L34.5,117.3 L32.5,118.8 L30.5,119.9 L28.0,121.1 L26.0,121.7 L23.5,122.3 L19.5,122.6 L16.0,122.2 L12.0,121.1 L8.5,119.4 L5.5,117.3 L2.5,114.4 L-0.1,111.0 L-2.0,107.4 L-2.0,85.9 L-0.1,83.5 L2.0,81.8 L7.5,78.7 L12.5,75.3 L15.5,74.0Z M17.4,76.0 L15.5,76.7 L14.2,78.0 L13.5,79.5 L13.5,81.5 L14.1,83.0 L15.5,84.5 L17.0,85.1 L19.0,85.2 L20.5,84.7 L22.0,83.3 L22.7,81.5 L22.7,80.0 L22.2,78.5 L20.9,77.0 L20.0,76.4 L19.0,76.1 L17.4,76.0Z" fill="#fcc83e" fill-rule="evenodd"/><path d="M17.5,76.0 L19.5,76.2 L20.9,77.0 L22.2,78.5 L22.7,80.0 L22.7,81.5 L22.0,83.3 L20.5,84.7 L19.0,85.2 L17.0,85.1 L15.5,84.5 L14.1,83.0 L13.5,81.4 L13.5,79.5 L14.2,78.0 L15.5,76.7 L16.5,76.2 L17.5,76.0Z" fill="#fb7c3a" fill-rule="evenodd"/><path d="M174.2,139.0 L183.5,136.5 M156.1,139.0 L183.5,131.8 M137.5,139.0 L183.5,127.1 M118.4,139.0 L183.5,122.3 M98.8,139.0 L183.5,117.6 M79.3,139.0 L100.3,133.5 L152.5,120.8 L183.5,112.9 M60.8,139.0 L74.0,135.1 L89.5,131.0 L150.0,116.6 L183.5,108.2 M44.1,139.0 L60.5,133.5 L79.0,128.4 L95.5,124.4 L148.0,112.4 L183.5,103.5 M29.4,139.0 L39.5,134.9 L49.0,131.5 L59.0,128.3 L70.0,125.2 L88.5,120.8 L146.0,108.1 L183.5,98.9 M16.3,139.0 L29.0,133.2 L40.0,128.7 L50.5,125.1 L62.0,121.7 L81.5,117.0 L144.0,103.8 L162.5,99.5 L183.5,94.2 M4.6,139.0 L20.0,131.2 L32.0,125.8 L43.5,121.3 L55.0,117.8 L64.0,115.4 L75.0,113.0 L118.5,104.5 L141.5,99.7 L161.0,95.2 L183.5,89.5 M-6.4,139.0 L14.5,127.8 L27.0,121.6 L38.5,116.8 L49.5,113.2 L58.0,111.0 L68.5,108.8 L113.5,100.6 L138.5,95.6 L160.0,90.8 L183.5,84.8 M-8.0,134.2 L14.0,121.8 L25.5,115.7 L36.0,111.1 L46.0,107.8 L54.0,105.8 L63.0,104.0 L107.5,96.8 L134.5,91.8 L158.5,86.6 L183.5,80.1 M-8.0,128.3 L15.5,114.3 L24.5,109.2 L33.5,105.1 L42.0,102.2 L48.5,100.6 L56.5,99.1 L100.5,93.1 L129.5,88.1 L157.5,82.3 L183.5,75.4 M-8.0,122.4 L23.5,102.2 L31.0,98.4 L38.0,96.0 L43.5,94.7 L50.0,93.7 L92.0,89.3 L107.0,87.2 L122.5,84.7 L141.0,81.3 L157.5,77.8 L164.5,76.0 L183.5,70.6 M-8.0,116.3 L4.0,108.0 L23.5,93.3 L28.5,90.5 L33.5,88.7 L38.0,87.8 L43.5,87.3 L69.0,86.2 L85.0,85.0 L99.0,83.5 L114.0,81.5 L135.5,77.8 L158.5,73.1 L164.5,71.6 L174.5,68.2 L183.5,65.8 M54.0,55.0 L55.1,54.9 M76.9,54.9 L78.2,55.0 M47.0,55.5 L47.5,55.5 M85.4,55.4 L86.4,55.5 M42.3,56.0 L42.5,56.0 M92.0,56.0 L92.4,56.0 M38.6,56.5 L39.1,56.4 M96.9,56.4 L97.5,56.5 M101.4,56.9 L101.9,57.0 M32.9,57.5 L33.0,57.5 M105.4,57.4 L106.0,57.5 M109.5,58.0 L109.8,58.0 M28.4,58.5 L28.5,58.5 M112.9,58.4 L113.4,58.5 M116.5,59.0 L116.7,59.0 M123.0,60.0 L123.1,60.0 M126.0,60.5 L126.1,60.5 M163.9,67.6 L164.5,67.4 L164.6,67.0 L166.0,66.0 L169.0,64.8 L174.5,63.2 L183.5,61.0 M20.5,61.0 L20.5,61.0 M129.0,61.0 L129.0,61.0 M134.5,62.0 L134.7,62.0 M140.0,63.0 L140.1,63.0 M142.4,63.4 L142.7,63.5 M150.5,65.0 L150.5,65.0 M153.0,65.5 L153.1,65.5 M155.5,66.0 L155.7,66.0 M12.5,67.0 L12.5,67.0 M13.0,69.5 L13.0,69.5 M155.0,69.5 L155.2,69.5 M152.5,70.0 L152.6,70.0 M150.0,70.5 L150.0,70.5 M15.0,71.5 L15.0,71.5 M142.0,72.0 L142.2,72.0 M139.5,72.5 L139.5,72.5 M134.0,73.5 L134.1,73.5 M130.9,74.1 L131.3,74.0 M125.5,75.0 L125.5,75.0 M-8.0,110.1 L-1.8,105.5 L3.7,101.0 L8.8,96.5 L13.2,92.0 L16.6,88.0 L19.8,83.5 L22.3,79.0 L23.3,76.5 L23.5,75.5 M118.9,76.1 L119.3,76.0 M26.9,76.5 L27.0,76.5 M116.0,76.5 L116.1,76.5 M28.8,77.0 L29.1,77.1 M112.5,77.0 L112.7,77.0 M31.0,77.5 L31.0,77.5 M109.0,77.5 L109.1,77.5 M33.4,78.0 L33.5,78.0 M105.0,78.0 L105.2,78.0 M100.4,78.6 L101.1,78.5 M39.3,79.0 L39.5,79.0 M95.9,79.1 L96.5,79.0 M43.2,79.5 L43.5,79.5 M90.4,79.6 L91.3,79.5 M48.2,80.0 L48.5,80.0 M83.9,80.1 L85.0,80.0 M56.0,80.5 L57.6,80.6 M73.9,80.6 L75.8,80.5 M-8.0,104.1 L-1.3,98.5 L3.8,93.5 L7.6,89.0 L10.5,84.5 L11.7,81.5 L12.3,78.5 L12.2,75.5 L11.1,70.5 L10.9,68.5 L11.3,66.5 L12.4,64.5 L15.0,62.1 L19.0,59.8 L24.0,57.8 L30.0,56.0 L40.5,54.0 L52.5,52.7 L65.5,52.1 L79.5,52.3 L92.5,53.0 L106.0,54.2 L120.8,56.0 L149.0,59.9 L155.0,60.6 L159.5,60.8 L162.5,60.6 L166.0,60.2 L183.5,56.5 M-8.0,97.9 L-3.7,94.0 L0.0,90.1 L2.8,86.5 L5.0,83.1 L6.5,80.0 L7.5,77.0 L8.7,69.5 L9.3,67.0 L10.2,65.0 L11.6,63.0 L15.0,60.1 L19.5,57.6 L25.0,55.4 L32.0,53.4 L40.5,51.7 L49.5,50.5 L59.5,49.7 L70.5,49.4 L84.5,49.6 L99.5,50.4 L115.0,51.8 L144.0,54.9 L155.0,55.6 L160.5,55.5 L166.0,55.0 L183.5,51.9 M-8.0,91.6 L-2.8,86.0 L1.0,80.8 L3.5,76.0 L7.4,66.0 L8.9,63.5 L11.0,61.0 L15.0,57.9 L20.0,55.2 L26.5,52.8 L34.0,50.7 L42.0,49.1 L51.0,47.9 L60.5,47.1 L71.0,46.6 L84.0,46.6 L98.0,47.1 L112.0,48.0 L141.0,50.4 L153.0,50.9 L159.5,50.8 L166.0,50.2 L173.5,49.2 L183.5,47.4 M-8.0,85.3 L-4.5,81.2 L-1.5,77.1 L6.3,63.5 L8.3,61.0 L10.9,58.5 L15.5,55.3 L21.5,52.4 L28.5,49.9 L36.5,47.8 L44.5,46.3 L53.0,45.2 L62.0,44.4 L72.0,43.8 L84.0,43.7 L97.0,43.9 L138.5,46.2 L151.5,46.5 L159.0,46.2 L166.0,45.6 L174.0,44.6 L183.5,43.0 M-8.0,79.1 L-4.0,74.1 L4.6,62.0 L7.5,58.8 L11.0,55.8 L16.0,52.7 L22.5,49.7 L30.0,47.1 L39.0,44.9 L46.5,43.5 L55.0,42.4 L63.5,41.6 L73.0,41.0 L84.0,40.7 L96.0,40.7 L136.5,42.1 L150.5,42.2 L158.5,41.8 L166.0,41.2 L183.5,38.6 M-8.0,67.0 L-1.5,60.0 L3.3,55.5 L8.0,51.8 L13.3,48.5 L19.5,45.4 L26.5,42.8 L34.5,40.4 L43.5,38.3 L58.0,36.0 L74.5,34.4 L95.0,33.6 L133.5,33.4 L148.5,32.9 L165.5,31.5 L183.5,28.9 M-8.0,57.2 L-1.7,52.0 L3.8,48.0 L9.5,44.4 L15.5,41.4 L22.5,38.4 L30.0,35.8 L38.0,33.6 L47.0,31.6 L60.5,29.4 L76.0,27.7 L94.5,26.4 L132.0,24.9 L147.5,24.0 L165.0,22.2 L183.5,19.5 M-8.0,48.8 L-1.5,44.3 L4.5,40.6 L11.0,37.2 L17.5,34.3 L24.5,31.6 L32.0,29.1 L40.0,27.0 L49.0,25.0 L62.0,22.7 L77.0,20.7 L94.5,19.1 L131.0,16.5 L147.0,15.2 L165.0,13.0 L183.5,10.2 M-8.0,40.9 L-1.0,36.7 L5.5,33.2 L12.0,30.1 L19.0,27.2 L26.5,24.5 L34.0,22.2 L42.0,20.1 L50.5,18.2 L63.5,15.8 L78.0,13.6 L94.5,11.7 L147.0,6.4 L165.0,4.0 L183.5,1.0 M-8.0,33.2 L-1.0,29.4 L6.0,26.0 L13.0,22.9 L20.0,20.2 L35.0,15.4 L52.0,11.1 L65.0,8.6 L80.0,6.2 L147.0,-2.2 L165.0,-4.9 L182.8,-8.0 M-8.0,25.5 L4.6,19.5 L17.5,14.3 L31.0,9.8 L45.5,5.8 L60.5,2.4 L77.5,-0.7 L96.0,-3.6 L127.7,-8.0 M-8.0,17.9 L1.5,13.6 L11.0,9.7 L20.5,6.2 L30.5,3.0 L41.0,-0.1 L52.0,-2.8 L64.0,-5.5 L77.0,-8.0 M-8.0,10.3 L4.5,4.9 L17.0,0.2 L30.0,-4.0 L44.0,-8.0 M-8.0,2.6 L6.0,-3.1 L19.7,-8.0 M-8.0,-5.2 L-0.9,-8.0" fill="none" stroke="#111" stroke-width="0.9" stroke-linejoin="round"/><path d="M151.3,132.8 L155.6,129.6 L150.2,128.8 M116.4,136.7 L120.8,133.4 L115.4,132.6 M151.0,128.1 L155.4,124.8 L150.0,124.0 M116.2,131.8 L120.5,128.5 L115.2,127.7 M150.8,123.4 L155.1,120.1 L149.8,119.3 M81.4,135.3 L85.7,132.0 L80.3,131.2 M115.9,126.9 L120.3,123.7 L115.0,122.8 M150.5,118.7 L154.9,115.4 L149.5,114.6 M81.1,130.0 L85.5,126.8 L80.1,125.9 M115.6,122.0 L120.1,118.8 L114.7,117.9 M150.3,114.0 L154.7,110.8 L149.3,109.9 M46.6,134.5 L50.7,130.9 L45.3,130.5 M80.8,124.7 L85.2,121.5 L79.8,120.6 M115.4,117.1 L119.8,114.0 L114.5,113.0 M150.0,109.3 L154.4,106.1 L149.1,105.2 M46.3,128.6 L50.4,125.1 L45.0,124.6 M80.5,119.4 L84.9,116.3 L79.6,115.3 M115.1,112.2 L119.6,109.1 L114.2,108.1 M149.8,104.7 L154.2,101.5 L148.8,100.6 M19.5,133.8 L23.1,129.8 L17.7,130.0 M45.9,122.7 L50.1,119.2 L44.7,118.6 M80.2,114.1 L84.7,111.1 L79.4,110.0 M114.8,107.4 L119.3,104.3 L114.0,103.3 M149.6,100.0 L154.0,96.9 L148.6,96.0 M19.2,127.7 L22.8,123.6 L17.4,123.9 M45.5,116.5 L49.8,113.1 L44.4,112.5 M79.8,108.8 L84.4,105.8 L79.1,104.6 M114.6,102.6 L119.1,99.6 L113.8,98.4 M149.3,95.5 L153.7,92.3 L148.4,91.4 M19.0,121.4 L22.5,117.2 L17.1,117.6 M45.1,110.2 L49.5,106.9 L44.1,106.1 M79.5,103.4 L84.1,100.6 L78.9,99.3 M114.3,97.8 L118.9,94.8 L113.6,93.7 M149.1,90.9 L153.5,87.7 L148.2,86.8 M18.7,114.7 L22.1,110.5 L16.7,111.0 M44.7,103.5 L49.1,100.5 L43.8,99.4 M79.2,98.2 L83.9,95.4 L78.7,94.0 M114.1,93.0 L118.6,90.1 L113.3,88.9 M148.9,86.4 L153.3,83.2 L147.9,82.3 M18.6,107.6 L21.8,103.2 L16.4,104.0 M44.1,96.6 L48.8,93.8 L43.6,92.5 M78.9,92.9 L83.6,90.3 L78.4,88.7 M113.8,88.3 L118.4,85.4 L113.1,84.2 M148.6,81.9 L153.1,78.8 L147.7,77.8 M18.5,99.4 L21.4,94.8 L16.1,96.0 M43.6,89.3 L48.5,87.0 L43.4,85.1 M78.6,87.7 L83.4,85.2 L78.2,83.5 M113.6,83.7 L118.2,80.8 L112.9,79.5 M148.4,77.4 L152.8,74.4 L147.5,73.3 M20.1,87.4 L20.7,82.0 L16.4,85.3 M17.4,62.6 L21.3,58.8 L15.9,58.7 M50.2,54.9 L55.0,52.5 L49.9,50.7 M82.4,54.4 L87.5,52.6 L82.6,50.2 M114.1,57.2 L119.4,55.8 L114.7,53.1 M145.8,61.7 L151.0,60.2 L146.3,57.5 M17.9,60.4 L21.7,56.6 L16.3,56.5 M50.7,52.4 L55.5,50.0 L50.4,48.2 M83.0,51.6 L88.1,49.7 L83.2,47.4 M114.9,53.8 L120.1,52.3 L115.3,49.7 M146.8,57.3 L151.9,55.5 L147.1,53.1 M18.3,58.1 L22.2,54.3 L16.8,54.2 M51.2,49.9 L56.1,47.4 L50.9,45.7 M83.6,48.7 L88.7,46.7 L83.8,44.5 M115.6,50.4 L120.8,48.7 L116.0,46.2 M147.8,53.0 L152.9,50.9 L147.9,48.8 M18.8,55.7 L22.7,51.9 L17.2,51.8 M51.8,47.4 L56.6,44.8 L51.4,43.2 M84.3,45.7 L89.3,43.7 L84.3,41.5 M116.4,47.0 L121.5,45.2 L116.6,42.8 M148.8,48.6 L153.8,46.4 L148.7,44.4 M19.2,53.2 L23.2,49.4 L17.7,49.2 M52.4,44.7 L57.1,42.1 L51.9,40.6 M84.9,42.8 L89.9,40.7 L84.9,38.6 M117.1,43.5 L122.2,41.6 L117.3,39.3 M149.7,44.4 L154.6,42.0 L149.5,40.2 M20.4,47.2 L24.3,43.5 L18.9,43.3 M53.6,38.6 L58.3,36.0 L53.1,34.5 M86.4,35.9 L91.3,33.7 L86.2,31.7 M118.9,35.5 L123.9,33.4 L118.9,31.3 M151.7,34.9 L156.6,32.4 L151.4,30.7 M21.5,40.9 L25.6,37.3 L20.2,36.9 M55.0,32.3 L59.6,29.5 L54.4,28.1 M87.9,28.9 L92.7,26.5 L87.6,24.7 M120.6,27.5 L125.5,25.2 L120.4,23.3 M153.7,25.6 L158.4,23.0 L153.3,21.4 M22.8,34.3 L26.9,30.7 L21.5,30.3 M56.4,25.7 L61.0,22.8 L55.7,21.5 M89.4,21.6 L94.2,19.1 L89.1,17.4 M122.3,19.3 L127.2,16.8 L122.0,15.1 M155.6,16.4 L160.3,13.7 L155.1,12.2 M24.1,27.5 L28.2,24.0 L22.8,23.5 M57.8,18.8 L62.4,15.9 L57.1,14.7 M91.0,14.2 L95.7,11.6 L90.5,10.0 M124.1,11.0 L128.9,8.4 L123.7,6.8 M157.5,7.2 L162.2,4.4 L156.9,3.1 M25.5,20.4 L29.6,17.0 L24.3,16.4 M59.2,11.8 L63.8,8.8 L58.5,7.6 M92.6,6.6 L97.3,3.9 L92.0,2.4 M125.8,2.6 L130.6,-0.1 L125.3,-1.6 M26.9,13.2 L31.1,9.7 L25.7,9.2 M60.7,4.5 L65.2,1.5 L59.9,0.4 M28.4,5.8 L32.6,2.3 L27.2,1.7" fill="none" stroke="#111" stroke-width="0.9" stroke-linejoin="miter"/><path d="M80.6,40.5 L80.7,41.0 L80.6,41.5 L80.6,42.1 L80.4,42.6 L80.2,43.2 L79.9,43.8 L79.5,44.3 L79.1,44.9 L78.6,45.5 L78.0,46.1 L77.4,46.6 L76.7,47.2 L75.9,47.7 L75.1,48.3 L74.2,48.8 L73.3,49.4 L72.3,49.9 L71.3,50.4 L70.2,50.9 L69.1,51.3 L68.0,51.8 L66.8,52.2 L65.6,52.7 L64.3,53.0 L63.0,53.4 L61.7,53.8 L60.4,54.1 L59.1,54.4 L57.7,54.7 L56.4,54.9 L55.0,55.1 L53.7,55.3 L52.3,55.5 L51.0,55.6 L49.7,55.7 L48.3,55.8 L47.0,55.8 L45.8,55.8 L44.5,55.8 L43.3,55.8 L42.1,55.7 L41.0,55.6 L39.8,55.4 L38.8,55.3 L37.7,55.1 L36.8,54.9 L35.8,54.6 L35.0,54.3 L34.1,54.0 L33.4,53.7 L32.7,53.3 L32.0,53.0 L31.5,52.6 L31.0,52.1 L30.5,51.7 L30.2,51.2 L29.8,50.8 L29.6,50.3 L29.4,49.8 L29.4,49.3 L29.3,48.7 L29.4,48.2 L29.5,47.6 L29.7,47.1 L30.0,46.5 L30.3,45.9 L30.7,45.4 L31.2,44.8 L31.7,44.2 L32.3,43.7 L33.0,43.1 L33.7,42.5 L34.5,42.0 L35.3,41.4 L36.2,40.9 L37.2,40.4 L38.2,39.9 L39.2,39.4 L40.3,38.9 L41.5,38.4 L42.6,38.0 L43.8,37.6 L45.1,37.1 L46.3,36.8 L47.6,36.4 L48.9,36.1 L50.2,35.8 L51.6,35.5 L52.9,35.2 L54.3,35.0 L55.6,34.8 L57.0,34.6 L58.3,34.5 L59.7,34.3 L61.0,34.3 L62.3,34.2 L63.6,34.2 L64.9,34.2 L66.1,34.2 L67.3,34.3 L68.5,34.4 L69.6,34.5 L70.7,34.6 L71.7,34.8 L72.8,35.0 L73.7,35.3 L74.6,35.5 L75.5,35.8 L76.2,36.1 L77.0,36.5 L77.6,36.8 L78.2,37.2 L78.8,37.6 L79.3,38.1 L79.7,38.5 L80.0,39.0 L80.3,39.5 L80.5,40.0 L80.6,40.5 M66.7,41.0 L66.8,41.4 L66.8,41.8 L66.7,42.2 L66.6,42.6 L66.5,42.9 L66.3,43.3 L66.1,43.7 L65.8,44.1 L65.4,44.5 L65.1,44.9 L64.7,45.3 L64.2,45.7 L63.7,46.1 L63.2,46.5 L62.6,46.8 L62.0,47.2 L61.4,47.5 L60.7,47.9 L60.0,48.2 L59.3,48.5 L58.6,48.9 L57.8,49.1 L57.0,49.4 L56.2,49.7 L55.3,49.9 L54.5,50.2 L53.6,50.4 L52.8,50.6 L51.9,50.8 L51.0,50.9 L50.1,51.1 L49.2,51.2 L48.3,51.3 L47.5,51.4 L46.6,51.4 L45.7,51.5 L44.9,51.5 L44.0,51.5 L43.2,51.5 L42.4,51.4 L41.6,51.4 L40.9,51.3 L40.1,51.2 L39.4,51.1 L38.8,50.9 L38.1,50.7 L37.5,50.6 L36.9,50.4 L36.4,50.1 L35.9,49.9 L35.4,49.7 L35.0,49.4 L34.6,49.1 L34.3,48.8 L34.0,48.5 L33.8,48.2 L33.6,47.8 L33.4,47.5 L33.3,47.1 L33.2,46.8 L33.2,46.4 L33.2,46.0 L33.3,45.6 L33.4,45.2 L33.6,44.9 L33.8,44.5 L34.1,44.1 L34.4,43.7 L34.7,43.3 L35.1,42.9 L35.6,42.5 L36.0,42.1 L36.5,41.7 L37.1,41.4 L37.7,41.0 L38.3,40.6 L38.9,40.3 L39.6,39.9 L40.3,39.6 L41.1,39.3 L41.8,39.0 L42.6,38.7 L43.4,38.4 L44.2,38.2 L45.1,37.9 L45.9,37.7 L46.8,37.5 L47.7,37.3 L48.6,37.1 L49.4,37.0 L50.3,36.9 L51.2,36.8 L52.1,36.7 L53.0,36.6 L53.8,36.5 L54.7,36.5 L55.5,36.5 L56.4,36.5 L57.2,36.5 L58.0,36.6 L58.7,36.7 L59.5,36.8 L60.2,36.9 L60.9,37.0 L61.6,37.2 L62.2,37.3 L62.8,37.5 L63.3,37.7 L63.8,38.0 L64.3,38.2 L64.8,38.5 L65.2,38.8 L65.5,39.0 L65.8,39.4 L66.1,39.7 L66.3,40.0 L66.5,40.3 L66.7,40.7 L66.7,41.0" fill="none" stroke="#111" stroke-width="0.85"/><path d="M72.4,48.2 L69.3,51.3 L73.7,51.3 M31.9,45.8 L34.3,42.1 L30.0,43.0 M40.5,50.2 L36.1,50.0 L39.0,53.3" fill="none" stroke="#111" stroke-width="0.9"/><path d="M53.8,42.1 L53.9,42.8 L53.8,43.4 L53.7,44.1 L53.4,44.8 L53.1,45.4 L52.7,46.1 L52.1,46.7 L51.6,47.3 L50.9,47.8 L50.2,48.4 L49.4,48.9 L48.5,49.3 L47.6,49.7 L46.7,50.0 L45.8,50.3 L44.8,50.5 L43.8,50.7 L42.8,50.8 L41.8,50.8 L40.9,50.8 L39.9,50.7 L39.0,50.6 L38.1,50.4 L37.3,50.2 L36.5,49.9 L35.8,49.5 L35.2,49.1 L34.6,48.6 L34.1,48.2 L33.7,47.6 L33.4,47.1 L33.2,46.5 L33.0,45.9 L32.9,45.3 L33.0,44.7 L33.1,44.1 L33.3,43.4 L33.6,42.8 L34.0,42.2 L34.4,41.7 L35.0,41.1 L35.5,40.6 L36.2,40.1 L36.9,39.6 L37.7,39.2 L38.5,38.8 L39.4,38.5 L40.2,38.2 L41.1,38.0 L42.0,37.9 L42.9,37.8 L43.9,37.7 L44.8,37.7 L45.6,37.8 L46.5,37.9 L47.3,38.0 L48.1,38.3 L48.8,38.5 L49.4,38.9 L50.0,39.2 L50.6,39.6 L51.1,40.1 L51.5,40.5 L51.8,41.0 L52.0,41.6 L52.2,42.1 L52.2,42.7 L52.2,43.2 L52.1,43.8 L52.0,44.4 L51.7,44.9 L51.4,45.5 L51.0,46.0 L50.5,46.5 L50.0,47.0 L49.4,47.5 L48.7,47.9 L48.0,48.3 L47.3,48.6 L46.5,48.9 L45.7,49.2 L44.9,49.4 L44.1,49.6 L43.3,49.7 L42.4,49.8 L41.6,49.8 L40.8,49.7 L40.0,49.6 L39.3,49.5 L38.5,49.3 L37.9,49.1 L37.3,48.8 L36.7,48.5 L36.2,48.1 L35.7,47.7 L35.4,47.3 L35.1,46.8 L34.8,46.4 L34.7,45.9 L34.6,45.4 L34.6,44.8 L34.6,44.3 L34.8,43.8 L35.0,43.3 L35.3,42.8 L35.6,42.3 L36.1,41.8 L36.5,41.4 L37.1,40.9 L37.6,40.5 L38.3,40.2 L38.9,39.9 L39.6,39.6 L40.3,39.3 L41.1,39.1 L41.8,39.0 L42.6,38.9 L43.3,38.8 L44.1,38.8 L44.8,38.8 L45.5,38.9 L46.2,39.0 L46.9,39.2 L47.5,39.4 L48.1,39.6 L48.6,39.9 L49.1,40.2 L49.5,40.6 L49.8,40.9 L50.1,41.3 L50.3,41.8 L50.5,42.2 L50.6,42.7 L50.6,43.1 L50.6,43.6 L50.4,44.1 L50.3,44.5 L50.0,45.0 L49.7,45.4 L49.4,45.9 L48.9,46.3 L48.5,46.7 L48.0,47.0 L47.4,47.4 L46.8,47.7 L46.2,47.9 L45.6,48.2 L44.9,48.3 L44.2,48.5 L43.5,48.6 L42.9,48.7 L42.2,48.7 L41.5,48.7 L40.9,48.6 L40.3,48.5 L39.7,48.4 L39.1,48.2 L38.6,48.0 L38.1,47.7 L37.7,47.5 L37.3,47.2 L37.0,46.8 L36.7,46.5 L36.5,46.1 L36.3,45.7 L36.2,45.3 L36.2,44.9 L36.2,44.5 L36.3,44.0 L36.5,43.6 L36.7,43.2 L36.9,42.8 L37.3,42.4 L37.6,42.1 L38.0,41.7 L38.5,41.4 L38.9,41.1 L39.5,40.8 L40.0,40.6 L40.6,40.4 L41.2,40.2 L41.8,40.0 L42.4,39.9 L43.0,39.9 L43.6,39.8 L44.2,39.8 L44.7,39.9 L45.3,40.0 L45.8,40.1 L46.3,40.2 L46.8,40.4 L47.2,40.6 L47.6,40.9 L47.9,41.1 L48.2,41.4 L48.5,41.7 L48.7,42.1 L48.8,42.4 L48.9,42.8 L49.0,43.1 L49.0,43.5 L48.9,43.9 L48.8,44.2 L48.6,44.6 L48.4,44.9 L48.1,45.3 L47.8,45.6 L47.5,45.9 L47.1,46.2 L46.7,46.5 L46.2,46.7 L45.7,46.9 L45.2,47.1 L44.7,47.3 L44.2,47.4 L43.7,47.5 L43.2,47.6 L42.6,47.6 L42.1,47.6 L41.6,47.6 L41.1,47.5 L40.7,47.4 L40.2,47.3 L39.8,47.1 L39.4,47.0 L39.1,46.8 L38.8,46.5 L38.5,46.3 L38.3,46.0 L38.1,45.7 L38.0,45.4 L37.9,45.1 L37.8,44.8 L37.9,44.5 L37.9,44.2 L38.0,43.9 L38.1,43.6 L38.3,43.3 L38.5,43.0 L38.8,42.7 L39.1,42.4 L39.4,42.2 L39.8,41.9 L40.2,41.7 L40.6,41.5 L41.0,41.4 L41.4,41.2 L41.9,41.1 L42.3,41.0 L42.7,40.9 L43.2,40.9 L43.6,40.9 L44.1,40.9 L44.5,41.0 L44.9,41.1 L45.3,41.2 L45.6,41.3 L45.9,41.4 L46.2,41.6 L46.5,41.8 L46.7,42.0 L46.9,42.2 L47.1,42.5 L47.2,42.7 L47.3,43.0 L47.3,43.2 L47.3,43.5 L47.3,43.8 L47.2,44.0 L47.1,44.3 L47.0,44.6 L46.8,44.8 L46.6,45.0 L46.3,45.3 L46.1,45.5 L45.8,45.7 L45.5,45.9 L45.1,46.0 L44.8,46.2 L44.4,46.3 L44.0,46.4 L43.7,46.5 L43.3,46.5 L42.9,46.5 L42.6,46.6 L42.2,46.5 L41.9,46.5 L41.5,46.4 L41.2,46.4 L40.9,46.3 L40.6,46.1 L40.4,46.0 L40.2,45.8 L40.0,45.7 L39.8,45.5 L39.7,45.3 L39.6,45.1 L39.5,44.9 L39.5,44.7 L39.5,44.5 L39.5,44.2 L39.6,44.0 L39.7,43.8 L39.8,43.6 L39.9,43.4 L40.1,43.2 L40.3,43.0 L40.5,42.8 L40.7,42.7 L41.0,42.5 L41.2,42.4 L41.5,42.3 L41.8,42.2 L42.1,42.1 L42.4,42.1 L42.7,42.0 L43.0,42.0 L43.3,42.0 L43.6,42.0 L43.8,42.0 L44.1,42.1 L44.3,42.1 L44.6,42.2 L44.8,42.3 L45.0,42.4 L45.2,42.5 L45.3,42.7 L45.4,42.8 L45.5,43.0 L45.6,43.1 L45.7,43.3 L45.7,43.4 L45.7,43.6 L45.7,43.8 L45.6,43.9 L45.6,44.1 L45.5,44.3 L45.4,44.4 L45.2,44.6 L45.1,44.7 L44.9,44.8 L44.8,45.0 L44.6,45.1 L44.4,45.2 L44.2,45.3 L43.9,45.3 L43.7,45.4 L43.5,45.4 L43.3,45.5 L43.1,45.5 L42.9,45.5 L42.6,45.5 L42.4,45.5 L42.2,45.4 L42.1,45.4 L41.9,45.3 L41.7,45.2 L41.6,45.2 L41.5,45.1 L41.4,45.0 L41.3,44.9 L41.2,44.8 L41.2,44.7 L41.1,44.5 L41.1,44.4 L41.1,44.3 L41.1,44.2 L41.2,44.1 L41.2,44.0 L41.3,43.8 L41.4,43.7 L41.4,43.6 L41.5,43.5 L41.7,43.5 L41.8,43.4 L41.9,43.3 L42.1,43.2 L42.2,43.2 L42.3,43.1 L42.5,43.1 L42.6,43.1 L42.8,43.1 L42.9,43.0 L43.1,43.0 L43.2,43.1 L43.3,43.1 L43.4,43.1 L43.6,43.1 L43.7,43.2 L43.7,43.2 L43.8,43.3 L43.9,43.3 L44.0,43.4 L44.0,43.5 L44.0,43.5 L44.1,43.6 L44.1,43.7 L44.1,43.7 L44.1,43.8" fill="none" stroke="#111" stroke-width="0.9"/><ellipse cx="42.5" cy="44" rx="7" ry="5" transform="rotate(-10 42.5 44)" fill="#111" stroke="none" stroke-width="0.8"/><path d="M12.4,67.7 L12.5,67.0 L12.6,66.3 L12.9,65.6 L13.3,64.9 L14.5,63.6 L16.2,62.3 L18.2,61.1 L20.8,60.0 L23.7,58.9 L27.0,57.8 L30.8,56.9 L34.4,56.2 L38.8,55.4 L43.0,54.9 L47.4,54.5 L52.1,54.2 L56.9,54.0 L61.9,53.9 L71.1,54.1 L81.2,54.7 L92.0,55.7 L103.9,57.1 L115.9,58.9 L129.9,61.2 L145.4,64.0 L164.9,67.7 L145.4,71.4 L129.9,74.2 L115.9,76.5 L103.9,78.3 L92.0,79.7 L81.2,80.7 L71.1,81.3 L61.9,81.5 L56.9,81.4 L52.1,81.2 L47.4,80.9 L43.0,80.5 L38.8,80.0 L34.4,79.2 L30.8,78.5 L27.0,77.6 L23.7,76.5 L20.8,75.4 L18.2,74.3 L16.2,73.1 L14.5,71.8 L13.3,70.5 L12.9,69.8 L12.6,69.1 L12.5,68.4 L12.4,67.7Z" fill="#fff" stroke="#222" stroke-width="0.8"/>
</g>
<rect x="0" y="0" width="1" height="130.4" fill="#8c8c8c"/>
<rect x="175.2" y="0" width="0.9" height="130.4" fill="#d4d4dc"/>
<rect x="1" y="130.4" width="175.2" height="0.8" fill="#dcdce4"/>
</g>
<g transform="translate(138,434)"><g clip-path="url(#cp_r4c1)">
<rect x="0" y="0" width="175.5" height="131" fill="#fff"/><path d="M16.5,59.3 L19.0,59.3 L19.2,59.5 L19.2,61.0 L18.7,61.5 L18.7,62.0 L17.2,63.5 L16.5,64.0 L16.0,64.0 L15.5,64.5 L13.0,64.5 L12.8,64.0 L12.8,63.0 L13.3,62.5 L13.3,62.0 L15.5,59.8 L16.0,59.8 L16.5,59.3Z" fill="#3876ff" fill-rule="evenodd"/><path d="M21.0,55.3 L23.0,55.3 L23.7,56.0 L23.7,58.5 L22.2,60.0 L22.2,60.5 L21.7,61.0 L21.0,61.1 L19.5,62.6 L19.0,62.6 L18.0,63.6 L17.0,63.6 L16.5,64.1 L16.0,64.1 L15.5,64.6 L13.0,64.6 L12.4,64.0 L12.4,61.5 L13.9,60.0 L13.9,59.5 L14.5,58.9 L15.0,58.9 L16.5,57.3 L17.0,57.3 L18.0,56.3 L19.0,56.3 L19.5,55.8 L20.5,55.8 L21.0,55.3Z M16.3,59.5 L16.0,59.8 L15.5,59.8 L13.3,62.0 L13.3,62.5 L12.8,63.0 L12.8,64.0 L13.0,64.5 L15.5,64.5 L16.0,64.0 L16.5,64.0 L17.2,63.5 L18.7,62.0 L18.7,61.5 L19.2,61.0 L19.2,59.5 L19.0,59.3 L16.5,59.3 L16.3,59.5Z" fill="#38adff" fill-rule="evenodd"/><path d="M31.0,31.8 L37.5,31.8 L38.0,32.3 L40.5,32.3 L41.0,32.8 L42.0,32.8 L42.5,33.3 L43.5,33.3 L44.0,33.8 L44.5,33.8 L45.0,34.3 L45.5,34.3 L46.0,34.8 L46.5,34.8 L47.5,35.8 L48.0,35.8 L50.7,38.5 L50.7,39.0 L51.2,39.5 L51.2,40.0 L51.7,40.5 L51.7,41.0 L52.2,41.5 L52.2,42.5 L52.7,43.0 L52.7,47.5 L52.2,48.0 L52.2,49.5 L51.7,50.0 L51.7,50.5 L51.2,51.0 L51.2,51.5 L50.2,52.5 L50.2,53.0 L46.0,57.2 L45.5,57.2 L44.5,58.2 L44.0,58.2 L43.5,58.7 L43.0,58.7 L42.5,59.2 L42.0,59.2 L41.5,59.7 L41.0,59.7 L40.5,60.2 L39.5,60.2 L39.0,60.7 L38.0,60.7 L37.5,61.2 L36.0,61.2 L35.5,61.7 L33.5,61.7 L33.0,62.2 L26.5,62.2 L26.0,61.7 L24.0,61.7 L22.5,61.1 L21.0,61.2 L19.5,62.7 L19.0,62.7 L18.0,63.7 L17.0,63.7 L16.5,64.2 L16.0,64.2 L15.5,64.7 L13.0,64.7 L12.3,64.0 L12.3,61.5 L13.8,60.0 L13.8,59.5 L14.0,59.3 L14.5,58.8 L15.0,58.8 L15.8,58.0 L13.3,55.5 L13.3,55.0 L12.8,54.5 L12.8,54.0 L12.3,53.5 L12.3,53.0 L11.8,52.5 L11.8,51.5 L11.3,51.0 L11.3,46.5 L11.8,46.0 L11.8,44.5 L12.3,44.0 L12.3,43.5 L12.8,43.0 L12.8,42.5 L13.8,41.5 L13.8,41.0 L16.8,38.0 L18.0,36.8 L18.5,36.8 L19.5,35.8 L20.0,35.8 L20.5,35.3 L21.0,35.3 L21.5,34.8 L22.0,34.8 L22.5,34.3 L23.0,34.3 L23.5,33.8 L24.5,33.8 L25.0,33.3 L26.0,33.3 L26.5,32.8 L28.0,32.8 L28.5,32.3 L30.5,32.3 L31.0,31.8Z M20.8,55.5 L20.5,55.8 L19.5,55.8 L19.0,56.3 L18.0,56.3 L17.0,57.3 L16.5,57.3 L15.0,58.9 L14.5,58.9 L13.9,59.5 L13.9,60.0 L12.4,61.5 L12.4,64.0 L13.0,64.6 L15.5,64.6 L16.0,64.1 L16.5,64.1 L17.0,63.6 L18.0,63.6 L19.0,62.6 L19.5,62.6 L21.0,61.1 L21.7,61.0 L22.2,60.5 L22.2,60.0 L23.7,58.5 L23.7,56.0 L23.0,55.3 L21.0,55.3 L20.8,55.5Z" fill="#38ecff" fill-rule="evenodd"/><path d="M34.5,15.2 L49.5,15.2 L50.0,15.7 L52.5,15.7 L53.0,16.2 L54.5,16.2 L55.0,16.7 L56.5,16.7 L57.0,17.2 L58.5,17.2 L59.0,17.7 L60.0,17.7 L60.5,18.2 L61.0,18.2 L61.5,18.7 L62.5,18.8 L63.0,19.3 L63.5,19.3 L64.0,19.8 L64.5,19.8 L65.0,20.3 L65.5,20.3 L66.0,20.8 L66.5,20.8 L67.0,21.3 L67.5,21.3 L68.5,22.3 L69.0,22.3 L70.0,23.3 L70.5,23.3 L76.1,29.0 L76.1,29.5 L77.1,30.5 L77.1,31.0 L78.1,32.0 L78.1,33.0 L78.6,33.5 L78.6,34.0 L79.1,34.5 L79.1,35.5 L79.6,36.0 L79.6,44.0 L79.2,44.5 L79.2,45.5 L78.7,46.0 L78.7,46.5 L78.2,47.0 L78.2,48.0 L77.2,49.0 L77.2,49.5 L76.2,50.5 L76.2,51.0 L70.5,56.7 L70.0,56.7 L69.0,57.7 L68.5,57.7 L67.5,58.7 L67.0,58.7 L66.5,59.2 L66.0,59.2 L65.5,59.7 L65.0,59.7 L64.5,60.2 L64.0,60.2 L63.5,60.7 L63.0,60.7 L62.5,61.2 L61.5,61.2 L61.0,61.7 L60.5,61.7 L60.0,62.1 L59.0,62.2 L58.5,62.6 L57.0,62.6 L56.5,63.1 L55.0,63.1 L54.5,63.6 L53.0,63.6 L52.5,64.1 L50.0,64.1 L49.5,64.6 L34.5,64.6 L34.0,64.1 L31.5,64.1 L31.0,63.6 L29.5,63.6 L29.0,63.1 L27.5,63.1 L27.0,62.6 L25.5,62.6 L25.0,62.1 L24.0,62.1 L22.5,61.3 L22.0,61.3 L21.0,61.3 L19.5,62.8 L19.0,62.8 L18.0,63.8 L17.0,63.8 L16.5,64.3 L16.0,64.3 L15.5,64.8 L13.0,64.8 L12.2,64.0 L12.2,61.5 L13.7,60.0 L13.7,59.5 L14.0,59.1 L14.5,58.6 L15.0,58.6 L15.6,58.0 L15.0,57.7 L14.0,56.7 L13.5,56.7 L7.8,51.0 L7.8,50.5 L6.8,49.5 L6.8,49.0 L5.8,48.0 L5.8,47.0 L5.3,46.5 L5.3,46.0 L4.8,45.5 L4.8,44.5 L4.3,44.0 L4.3,36.0 L4.8,35.5 L4.8,34.5 L5.3,34.0 L5.3,33.5 L5.8,33.0 L5.8,32.0 L6.8,31.0 L6.8,30.5 L7.8,29.5 L7.8,29.0 L10.5,26.3 L13.5,23.3 L14.0,23.2 L15.0,22.3 L15.5,22.2 L16.5,21.3 L17.0,21.2 L17.5,20.7 L18.0,20.7 L18.5,20.2 L19.0,20.2 L19.5,19.7 L20.0,19.7 L20.5,19.2 L21.0,19.2 L21.5,18.7 L22.5,18.7 L23.0,18.2 L23.5,18.2 L24.0,17.7 L25.0,17.7 L25.5,17.2 L27.0,17.2 L27.5,16.7 L29.0,16.7 L29.5,16.2 L31.0,16.2 L31.5,15.7 L34.0,15.7 L34.5,15.2Z M30.8,32.0 L30.5,32.3 L28.5,32.3 L28.0,32.8 L26.5,32.8 L26.0,33.3 L25.0,33.3 L24.5,33.8 L23.5,33.8 L23.0,34.3 L22.5,34.3 L22.0,34.8 L21.5,34.8 L21.0,35.3 L20.5,35.3 L20.0,35.8 L19.5,35.8 L18.5,36.8 L18.0,36.8 L16.8,38.0 L13.8,41.0 L13.8,41.5 L12.8,42.5 L12.8,43.0 L12.3,43.5 L12.3,44.0 L11.8,44.5 L11.8,46.0 L11.3,46.5 L11.3,51.0 L11.8,51.5 L11.8,52.5 L12.3,53.0 L12.3,53.5 L12.8,54.0 L12.8,54.5 L13.3,55.0 L13.3,55.5 L15.8,58.0 L15.0,58.8 L14.5,58.8 L14.0,59.3 L13.8,59.5 L13.8,60.0 L12.3,61.5 L12.3,64.0 L13.0,64.7 L15.5,64.7 L16.0,64.2 L16.5,64.2 L17.0,63.7 L18.0,63.7 L19.0,62.7 L19.5,62.7 L21.0,61.2 L22.5,61.1 L24.0,61.7 L26.0,61.7 L26.5,62.2 L33.0,62.2 L33.5,61.7 L35.5,61.7 L36.0,61.2 L37.5,61.2 L38.0,60.7 L39.0,60.7 L39.5,60.2 L40.5,60.2 L41.0,59.7 L41.5,59.7 L42.0,59.2 L42.5,59.2 L43.0,58.7 L43.5,58.7 L44.0,58.2 L44.5,58.2 L45.5,57.2 L46.0,57.2 L50.2,53.0 L50.2,52.5 L51.2,51.5 L51.2,51.0 L51.7,50.5 L51.7,50.0 L52.2,49.5 L52.2,48.0 L52.7,47.5 L52.7,43.0 L52.2,42.5 L52.2,41.5 L51.7,41.0 L51.7,40.5 L51.2,40.0 L51.2,39.5 L50.7,39.0 L50.7,38.5 L48.0,35.8 L47.5,35.8 L46.5,34.8 L46.0,34.8 L45.5,34.3 L45.0,34.3 L44.5,33.8 L44.0,33.8 L43.5,33.3 L42.5,33.3 L42.0,32.8 L41.0,32.8 L40.5,32.3 L38.0,32.3 L37.5,31.8 L31.0,31.8 L30.8,32.0Z" fill="#38ffd4" fill-rule="evenodd"/><path d="M40.5,4.5 L46.0,4.4 L51.5,4.8 L56.5,5.6 L61.0,6.8 L65.0,8.4 L68.9,10.5 L72.4,13.0 L75.5,15.9 L78.6,19.5 L81.6,24.0 L83.8,28.5 L85.4,33.0 L86.4,38.0 L86.7,42.5 L86.2,47.0 L85.1,50.5 L83.6,53.0 L81.8,55.0 L79.8,56.5 L76.9,58.0 L74.1,59.0 L70.3,60.0 L63.0,61.2 L62.5,61.5 L61.5,61.5 L61.0,62.0 L60.5,62.0 L60.0,62.5 L59.0,62.5 L58.5,62.9 L57.0,62.9 L56.5,63.4 L55.0,63.4 L54.5,63.9 L53.0,63.9 L52.5,64.4 L50.0,64.4 L49.5,64.9 L34.5,64.8 L34.0,64.4 L31.5,64.4 L31.0,63.9 L29.5,63.9 L29.0,63.4 L27.5,63.4 L27.0,62.9 L25.5,62.9 L25.0,62.4 L24.0,62.4 L23.5,62.0 L23.0,61.9 L22.5,61.5 L21.0,61.5 L19.5,62.9 L19.0,62.9 L18.0,63.9 L17.0,63.9 L16.5,64.4 L16.0,64.4 L15.5,64.9 L13.0,64.9 L12.1,64.0 L12.1,61.5 L13.5,60.0 L13.5,59.5 L14.0,59.0 L14.0,58.8 L9.0,57.3 L4.5,55.5 L1.0,53.5 L-2.0,51.1 L-2.0,22.9 L1.5,19.1 L5.5,15.8 L10.0,12.9 L15.5,10.1 L21.5,7.9 L27.5,6.3 L34.0,5.1 L40.5,4.5Z M34.2,15.5 L34.0,15.7 L31.5,15.7 L31.0,16.2 L29.5,16.2 L29.0,16.7 L27.5,16.7 L27.0,17.2 L25.5,17.2 L25.0,17.7 L24.0,17.7 L23.5,18.2 L23.0,18.2 L22.5,18.7 L21.5,18.7 L21.0,19.2 L20.5,19.2 L20.0,19.7 L19.5,19.7 L19.0,20.2 L18.5,20.2 L18.0,20.7 L17.5,20.7 L17.0,21.2 L16.5,21.3 L15.5,22.2 L15.0,22.3 L14.0,23.2 L13.5,23.3 L10.5,26.3 L7.8,29.0 L7.8,29.5 L6.8,30.5 L6.8,31.0 L5.8,32.0 L5.8,33.0 L5.3,33.5 L5.3,34.0 L4.8,34.5 L4.8,35.5 L4.3,36.0 L4.3,44.0 L4.8,44.5 L4.8,45.5 L5.3,46.0 L5.3,46.5 L5.8,47.0 L5.8,48.0 L6.8,49.0 L6.8,49.5 L7.8,50.5 L7.8,51.0 L13.5,56.7 L14.0,56.7 L15.0,57.7 L15.6,58.0 L15.0,58.6 L14.5,58.6 L14.0,59.1 L13.7,59.5 L13.7,60.0 L12.2,61.5 L12.2,64.0 L13.0,64.8 L15.5,64.8 L16.0,64.3 L16.5,64.3 L17.0,63.8 L18.0,63.8 L19.0,62.8 L19.5,62.8 L21.0,61.3 L22.0,61.3 L22.5,61.3 L24.0,62.1 L25.0,62.1 L25.5,62.6 L27.0,62.6 L27.5,63.1 L29.0,63.1 L29.5,63.6 L31.0,63.6 L31.5,64.1 L34.0,64.1 L34.5,64.6 L49.5,64.6 L50.0,64.1 L52.5,64.1 L53.0,63.6 L54.5,63.6 L55.0,63.1 L56.5,63.1 L57.0,62.6 L58.5,62.6 L59.0,62.2 L60.0,62.1 L60.5,61.7 L61.0,61.7 L61.5,61.2 L62.5,61.2 L63.0,60.7 L63.5,60.7 L64.0,60.2 L64.5,60.2 L65.0,59.7 L65.5,59.7 L66.0,59.2 L66.5,59.2 L67.0,58.7 L67.5,58.7 L68.5,57.7 L69.0,57.7 L70.0,56.7 L70.5,56.7 L76.2,51.0 L76.2,50.5 L77.2,49.5 L77.2,49.0 L78.2,48.0 L78.2,47.0 L78.7,46.5 L78.7,46.0 L79.2,45.5 L79.2,44.5 L79.6,44.0 L79.6,36.0 L79.1,35.5 L79.1,34.5 L78.6,34.0 L78.6,33.5 L78.1,33.0 L78.1,32.0 L77.1,31.0 L77.1,30.5 L76.1,29.5 L76.1,29.0 L70.5,23.3 L70.0,23.3 L69.0,22.3 L68.5,22.3 L67.5,21.3 L67.0,21.3 L66.5,20.8 L66.0,20.8 L65.5,20.3 L65.0,20.3 L64.5,19.8 L64.0,19.8 L63.5,19.3 L63.0,19.3 L62.5,18.8 L61.5,18.7 L61.0,18.2 L60.5,18.2 L60.0,17.7 L59.0,17.7 L58.5,17.2 L57.0,17.2 L56.5,16.7 L55.0,16.7 L54.5,16.2 L53.0,16.2 L52.5,15.7 L50.0,15.7 L49.5,15.2 L34.5,15.2 L34.2,15.5Z" fill="#38ff8e" fill-rule="evenodd"/><path d="M-1.5,-2.0 L102.5,-2.0 L100.7,0.5 L99.5,3.0 L98.8,6.0 L98.8,9.0 L99.7,14.0 L104.7,29.0 L106.9,38.0 L108.1,45.0 L108.6,50.0 L108.5,53.0 L107.7,55.5 L106.0,57.5 L103.9,59.0 L100.5,60.5 L95.6,62.0 L90.0,63.2 L83.5,64.3 L76.5,65.1 L68.5,65.8 L52.5,66.5 L35.5,66.3 L26.0,65.8 L15.3,65.0 L13.0,65.0 L12.5,64.7 L-2.0,63.2 L-2.0,51.1 L1.0,53.5 L4.5,55.5 L9.0,57.3 L14.0,58.8 L14.0,59.0 L13.5,59.5 L13.5,60.0 L12.1,61.5 L12.1,64.0 L13.0,64.9 L15.5,64.9 L16.0,64.4 L16.5,64.4 L17.0,63.9 L18.0,63.9 L19.0,62.9 L19.5,62.9 L21.0,61.5 L22.5,61.5 L23.0,61.9 L23.5,62.0 L24.0,62.4 L25.0,62.4 L25.5,62.9 L27.0,62.9 L27.5,63.4 L29.0,63.4 L29.5,63.9 L31.0,63.9 L31.5,64.4 L34.0,64.4 L34.5,64.8 L49.5,64.9 L50.0,64.4 L52.5,64.4 L53.0,63.9 L54.5,63.9 L55.0,63.4 L56.5,63.4 L57.0,62.9 L58.5,62.9 L59.0,62.5 L60.0,62.5 L60.5,62.0 L61.0,62.0 L61.5,61.5 L62.5,61.5 L63.0,61.2 L68.5,60.4 L73.5,59.2 L76.9,58.0 L80.0,56.4 L82.8,54.0 L84.0,52.5 L85.0,50.7 L85.8,48.5 L86.3,46.5 L86.7,42.0 L86.5,39.0 L86.1,36.0 L85.2,32.5 L84.2,29.5 L82.9,26.5 L81.3,23.5 L79.5,20.7 L77.5,18.1 L75.5,15.9 L73.0,13.5 L70.5,11.6 L68.0,9.9 L65.5,8.6 L62.5,7.3 L56.5,5.6 L52.5,4.9 L48.5,4.5 L44.5,4.4 L40.0,4.5 L31.5,5.5 L27.0,6.4 L23.0,7.4 L19.0,8.7 L15.5,10.1 L12.0,11.8 L8.5,13.8 L5.5,15.8 L2.7,18.0 L0.1,20.5 L-2.0,22.9 L-2.0,-2.0 L-1.5,-2.0Z" fill="#38ff50" fill-rule="evenodd"/><path d="M102.5,-2.0 L177.0,-2.0 L177.0,66.7 L154.0,65.8 L132.5,65.8 L113.5,66.6 L73.0,69.3 L61.5,69.7 L50.5,69.9 L40.0,69.8 L29.5,69.5 L-2.0,67.7 L-2.0,63.2 L12.5,64.7 L13.0,65.0 L15.3,65.0 L31.5,66.1 L46.5,66.5 L61.5,66.2 L76.0,65.2 L88.6,63.5 L93.6,62.5 L98.5,61.2 L101.8,60.0 L104.7,58.5 L106.6,57.0 L108.0,55.0 L108.5,53.0 L108.7,50.5 L107.8,43.0 L106.1,34.0 L104.3,27.5 L100.0,15.0 L99.2,12.0 L98.8,9.5 L98.8,6.5 L99.3,3.5 L100.5,0.8 L102.5,-2.0Z" fill="#57ff38" fill-rule="evenodd"/><path d="M126.5,66.0 L139.0,65.7 L151.5,65.7 L164.5,66.1 L177.0,66.7 L177.0,71.5 L153.5,70.8 L130.5,70.8 L109.0,71.4 L66.5,73.1 L48.5,73.5 L31.5,73.1 L26.5,72.9 L18.5,72.1 L9.5,72.0 L-2.0,71.5 L-2.0,67.7 L31.0,69.6 L42.5,69.9 L54.0,69.9 L75.5,69.1 L111.5,66.7 L126.5,66.0Z" fill="#96ff38" fill-rule="evenodd"/><path d="M120.5,71.0 L135.0,70.7 L148.5,70.7 L162.5,71.0 L177.0,71.5 L177.0,132.5 L113.7,132.5 L113.2,132.0 L113.2,131.5 L109.7,128.0 L109.7,127.5 L106.7,124.5 L106.7,124.0 L103.2,120.5 L103.2,120.0 L99.7,116.5 L99.7,116.0 L96.7,113.0 L96.7,112.5 L93.2,109.0 L93.2,108.5 L89.7,105.0 L89.7,104.5 L86.7,101.5 L86.7,101.0 L83.2,97.5 L83.2,97.0 L79.7,93.5 L79.7,93.0 L76.7,90.0 L76.7,89.5 L73.2,86.0 L73.2,85.5 L70.2,82.5 L70.2,82.0 L67.0,79.0 L47.0,79.4 L31.5,79.0 L28.5,78.4 L24.1,76.5 L22.0,75.8 L18.0,75.2 L14.0,75.5 L8.5,77.1 L6.5,77.4 L-2.0,77.2 L-2.0,71.5 L9.5,72.0 L18.5,72.1 L27.0,72.9 L32.0,73.2 L50.5,73.5 L68.0,73.1 L120.5,71.0Z" fill="#c8f83c" fill-rule="evenodd"/><path d="M14.5,75.4 L18.0,75.2 L21.0,75.6 L24.0,76.5 L28.5,78.4 L30.0,78.8 L32.0,79.0 L47.5,79.4 L67.0,79.0 L70.2,82.0 L70.2,82.5 L73.2,85.5 L73.2,86.0 L76.7,89.5 L76.7,90.0 L79.7,93.0 L79.7,93.5 L83.2,97.0 L83.2,97.5 L86.7,101.0 L86.7,101.5 L89.7,104.5 L89.7,105.0 L93.2,108.5 L93.2,109.0 L96.7,112.5 L96.7,113.0 L99.7,116.0 L99.7,116.5 L103.2,120.0 L103.2,120.5 L106.7,124.0 L106.7,124.5 L109.7,127.5 L109.7,128.0 L113.2,131.5 L113.2,132.0 L113.7,132.5 L-2.0,132.5 L-2.0,77.2 L4.5,77.5 L7.0,77.4 L14.5,75.4Z M15.4,81.0 L14.0,82.0 L13.5,83.5 L13.7,85.0 L14.8,86.5 L16.5,87.5 L18.5,87.7 L20.4,87.0 L21.5,86.1 L22.1,85.0 L22.2,83.5 L21.9,82.5 L21.0,81.5 L20.0,81.1 L18.5,80.8 L17.0,80.7 L15.4,81.0Z" fill="#f6f23a" fill-rule="evenodd"/><path d="M15.5,81.0 L17.0,80.7 L18.5,80.8 L20.0,81.1 L21.0,81.5 L21.9,82.5 L22.2,83.5 L22.1,85.0 L21.5,86.1 L20.4,87.0 L18.5,87.7 L16.5,87.5 L14.8,86.5 L13.7,85.0 L13.5,83.5 L14.0,82.0 L14.5,81.5 L15.5,81.0Z" fill="#fcc83e" fill-rule="evenodd"/><path d="M173.5,139.0 L183.5,136.8 M158.4,139.0 L183.5,133.6 M143.1,139.0 L183.5,130.3 M127.4,139.0 L183.5,127.1 M111.3,139.0 L183.5,123.8 M95.0,139.0 L183.5,120.6 M78.6,139.0 L183.5,117.3 M62.7,139.0 L84.0,134.3 L141.0,122.9 L183.5,114.1 M47.8,139.0 L61.0,135.8 L76.5,132.4 L139.0,120.1 L183.5,110.8 M34.4,139.0 L51.0,134.5 L69.0,130.4 L137.5,117.1 L183.5,107.6 M22.3,139.0 L42.0,133.0 L62.5,128.1 L79.5,124.7 L136.0,114.1 L183.5,104.3 M11.3,139.0 L23.5,134.7 L34.5,131.3 L45.0,128.4 L56.5,125.7 L74.5,122.1 L134.5,111.1 L183.5,101.1 M1.2,139.0 L16.0,133.5 L28.0,129.4 L39.5,126.0 L51.5,123.0 L70.5,119.2 L133.0,108.1 L183.5,97.8 M-8.0,138.9 L10.0,131.8 L23.5,126.9 L35.5,123.2 L47.5,120.1 L66.5,116.3 L108.5,109.3 L131.0,105.3 L152.0,101.2 L183.5,94.6 M-8.0,135.1 L10.0,127.9 L22.5,123.2 L34.0,119.6 L45.5,116.6 L63.5,113.1 L105.0,106.5 L128.5,102.5 L150.5,98.2 L183.5,91.3 M-8.0,131.3 L10.0,123.9 L22.0,119.3 L33.0,115.8 L43.5,113.1 L60.0,110.0 L101.5,103.8 L125.5,99.8 L149.0,95.3 L183.5,88.1 M-8.0,127.5 L9.5,120.0 L21.0,115.5 L31.5,112.1 L41.5,109.5 L57.0,106.7 L98.0,101.0 L123.0,97.0 L148.0,92.3 L183.5,84.8 M-8.0,123.7 L9.5,115.9 L20.0,111.6 L29.5,108.3 L39.0,105.9 L53.5,103.3 L94.0,98.2 L120.0,94.2 L147.0,89.3 L183.5,81.6 M-8.0,119.8 L10.0,111.4 L19.5,107.4 L28.5,104.2 L37.0,102.0 L50.0,99.8 L90.0,95.3 L117.0,91.5 L146.0,86.3 L183.5,78.3 M-8.0,115.8 L11.0,106.6 L19.5,102.8 L27.5,99.9 L35.0,97.9 L41.0,96.8 L48.0,96.0 L90.0,92.0 L113.5,88.8 L129.0,86.3 L145.0,83.3 L183.5,75.0 M-8.0,111.9 L12.0,101.5 L19.0,98.1 L26.0,95.4 L32.5,93.7 L37.5,92.8 L44.0,92.1 L70.5,90.4 L84.5,89.2 L97.0,87.9 L110.0,86.1 L127.0,83.4 L145.0,80.1 L155.0,78.1 L171.0,74.3 L183.5,71.8 M-8.0,107.8 L18.5,93.1 L24.0,90.7 L29.5,89.1 L34.0,88.4 L39.5,87.9 L64.0,87.2 L78.5,86.4 L92.0,85.2 L105.5,83.5 L124.0,80.8 L145.0,77.0 L155.0,74.9 L169.0,71.4 L183.5,68.5 M-8.0,103.7 L3.3,97.0 L19.0,86.7 L23.0,84.7 L26.5,83.7 L29.5,83.2 L33.5,83.0 L55.5,83.6 L70.0,83.4 L84.5,82.6 L99.5,81.1 L120.5,78.2 L145.0,73.9 L155.5,71.7 L162.0,69.7 L167.0,68.5 L183.5,65.2 M54.5,55.5 L56.6,55.4 M65.9,55.4 L68.3,55.5 M45.7,56.0 L46.0,56.0 M77.4,55.9 L78.4,56.0 M40.7,56.5 L41.0,56.5 M83.9,56.4 L84.7,56.5 M36.9,57.0 L37.0,57.0 M89.5,57.0 L89.9,57.0 M33.8,57.5 L34.0,57.5 M94.0,57.5 L94.4,57.5 M97.9,57.9 L98.4,58.0 M28.9,58.5 L29.0,58.5 M102.0,58.5 L102.1,58.5 M105.5,59.0 L105.6,59.0 M25.0,59.5 L25.0,59.5 M108.4,59.4 L108.9,59.5 M112.0,60.0 L112.1,60.0 M115.0,60.5 L115.1,60.5 M118.0,61.0 L118.0,61.0 M120.4,61.4 L120.8,61.5 M156.5,68.5 L158.5,67.2 L162.5,66.0 L183.5,61.9 M123.5,62.0 L123.6,62.0 M125.9,62.4 L126.3,62.5 M134.0,64.0 L134.0,64.0 M136.5,64.5 L136.5,64.5 M139.0,65.0 L139.0,65.0 M13.9,69.4 L14.0,69.5 M149.0,70.0 L149.1,70.0 M143.5,71.0 L143.6,71.0 M138.0,72.0 L138.1,72.0 M132.5,73.0 L132.5,73.0 M-8.0,99.6 L2.9,92.5 L11.1,86.0 L14.6,82.5 L17.1,79.5 L19.1,76.5 L20.4,73.9 M129.5,73.5 L129.7,73.5 M126.4,74.1 L126.8,74.0 M22.9,74.5 L23.0,74.5 M123.4,74.6 L123.8,74.5 M24.4,75.0 L24.5,75.0 M120.5,75.0 L120.7,75.0 M27.9,76.0 L28.0,76.0 M114.0,76.0 L114.1,76.0 M29.9,76.5 L30.0,76.5 M110.5,76.5 L110.6,76.5 M106.4,77.1 L107.0,77.0 M102.4,77.6 L103.0,77.5 M98.5,78.0 L98.7,78.0 M41.0,78.5 L41.0,78.5 M93.5,78.5 L93.9,78.5 M45.2,79.0 L45.5,79.0 M88.0,79.0 L88.4,79.0 M50.9,79.5 L51.5,79.5 M80.5,79.5 L81.3,79.5 M-8.0,92.9 L-3.0,89.3 L1.1,86.0 L4.5,82.7 L7.0,79.7 L8.6,77.0 L9.6,74.5 L10.6,68.0 L11.2,66.0 L12.4,64.0 L13.8,62.5 L17.0,60.3 L22.0,58.0 L27.5,56.2 L34.5,54.7 L44.0,53.3 L55.0,52.4 L67.0,52.2 L79.5,52.6 L90.5,53.3 L102.5,54.6 L142.5,60.1 L152.5,61.0 L156.0,60.9 L160.5,60.4 L183.5,56.7 M-8.0,86.1 L-2.5,81.5 L1.7,77.0 L4.6,73.0 L9.4,64.0 L11.0,62.0 L13.3,60.0 L17.5,57.3 L23.0,55.0 L29.5,53.0 L37.0,51.4 L46.5,50.0 L56.5,49.2 L67.5,48.9 L79.0,49.0 L98.5,50.2 L138.5,54.4 L145.5,54.9 L151.5,55.1 L157.0,54.9 L163.5,54.3 L183.5,51.5 M-8.0,79.3 L-4.3,76.0 L-1.0,72.6 L8.3,61.0 L11.0,58.5 L13.5,56.7 L18.5,54.0 L24.5,51.6 L31.5,49.6 L39.5,48.0 L48.5,46.7 L58.0,45.9 L68.0,45.5 L79.0,45.5 L100.0,46.4 L138.0,49.3 L150.5,49.7 L157.0,49.4 L164.0,48.9 L183.5,46.3 M-8.0,72.9 L-3.5,68.7 L6.1,59.0 L9.7,56.0 L14.0,53.3 L19.5,50.6 L26.0,48.2 L33.5,46.2 L42.0,44.5 L50.0,43.4 L59.0,42.6 L68.5,42.1 L79.0,41.9 L98.5,42.3 L136.5,44.3 L150.0,44.4 L164.5,43.5 L183.5,41.2 M-8.0,67.0 L5.4,55.5 L10.0,52.3 L15.0,49.5 L21.0,46.9 L28.0,44.6 L35.5,42.6 L44.0,41.0 L52.0,39.9 L60.5,39.1 L79.5,38.2 L98.0,38.3 L135.0,39.5 L150.0,39.4 L165.0,38.3 L183.5,36.1 M-8.0,59.1 L-0.4,53.5 L5.0,49.9 L10.5,46.7 L16.5,43.9 L23.0,41.4 L30.0,39.2 L38.0,37.3 L46.5,35.7 L62.0,33.8 L80.0,32.7 L97.5,32.4 L133.5,32.4 L149.5,32.0 L165.5,30.7 L183.5,28.5 M-8.0,52.0 L-0.9,47.5 L5.5,43.9 L11.5,40.9 L18.0,38.2 L25.0,35.8 L32.5,33.6 L40.5,31.8 L49.0,30.3 L64.0,28.3 L81.0,27.0 L97.0,26.4 L133.0,25.5 L149.5,24.7 L165.5,23.3 L183.5,21.1 M-8.0,45.3 L-1.0,41.4 L5.8,38.0 L12.5,35.1 L19.0,32.6 L26.5,30.2 L34.0,28.1 L42.0,26.3 L50.5,24.8 L65.0,22.8 L81.5,21.2 L97.0,20.3 L133.0,18.6 L150.5,17.5 L166.5,15.9 L183.5,13.7 M-8.0,38.9 L-0.5,35.1 L6.5,32.0 L13.5,29.2 L20.5,26.7 L28.0,24.4 L35.5,22.5 L52.0,19.1 L64.5,17.3 L78.0,15.8 L94.0,14.4 L145.5,10.8 L164.0,8.9 L183.5,6.4 M-8.0,32.6 L6.5,26.2 L21.0,21.1 L36.5,16.8 L53.0,13.4 L65.5,11.5 L79.5,9.7 L146.0,3.8 L164.5,1.7 L183.5,-0.9 M-8.0,26.3 L7.0,20.2 L21.5,15.3 L37.0,11.1 L54.0,7.6 L67.0,5.5 L81.0,3.6 L146.5,-3.2 L164.5,-5.4 L182.8,-8.0 M-8.0,20.1 L5.5,14.8 L19.0,10.3 L33.0,6.4 L47.5,3.1 L62.5,0.3 L79.0,-2.1 L97.0,-4.4 L129.0,-8.0 M-8.0,13.8 L2.0,10.1 L12.0,6.7 L22.0,3.6 L32.0,0.9 L42.5,-1.6 L53.5,-3.9 L77.5,-8.0 M-8.0,7.6 L5.0,2.9 L18.0,-1.2 L31.0,-4.7 L44.7,-8.0 M-8.0,1.3 L6.5,-3.7 L20.9,-8.0 M-8.0,-5.1 L0.7,-8.0" fill="none" stroke="#111" stroke-width="0.9" stroke-linejoin="round"/><path d="M161.2,134.0 L165.6,130.9 L160.3,129.9 M161.0,130.8 L165.5,127.7 L160.2,126.7 M126.2,134.7 L130.7,131.7 L125.4,130.6 M160.9,127.5 L165.3,124.4 L160.0,123.4 M126.0,131.4 L130.5,128.4 L125.2,127.3 M160.7,124.3 L165.2,121.2 L159.8,120.2 M91.2,135.0 L95.7,132.0 L90.4,130.9 M125.9,128.1 L130.4,125.1 L125.0,124.0 M160.5,121.1 L165.0,118.0 L159.7,117.0 M91.0,131.6 L95.5,128.6 L90.2,127.5 M125.7,124.9 L130.2,121.8 L124.9,120.7 M160.4,117.8 L164.8,114.8 L159.5,113.7 M56.3,135.3 L60.7,132.2 L55.4,131.2 M90.8,128.2 L95.4,125.2 L90.1,124.0 M125.5,121.6 L130.0,118.6 L124.7,117.5 M160.2,114.6 L164.7,111.5 L159.4,110.5 M56.1,131.6 L60.5,128.5 L55.2,127.5 M90.7,124.7 L95.2,121.8 L89.9,120.6 M125.4,118.3 L129.9,115.3 L124.6,114.2 M160.1,111.4 L164.5,108.3 L159.2,107.3 M21.7,137.5 L25.8,134.0 L20.4,133.5 M55.9,128.0 L60.3,124.9 L55.0,123.8 M90.5,121.3 L95.0,118.4 L89.7,117.2 M125.2,115.0 L129.7,112.0 L124.4,110.9 M159.9,108.2 L164.4,105.1 L159.0,104.1 M21.5,133.7 L25.6,130.2 L20.2,129.7 M55.7,124.2 L60.2,121.2 L54.8,120.1 M90.3,117.9 L94.9,115.0 L89.6,113.8 M125.0,111.8 L129.5,108.8 L124.2,107.7 M159.7,105.0 L164.2,101.9 L158.9,100.8 M21.3,129.8 L25.4,126.3 L20.0,125.8 M55.5,120.5 L60.0,117.5 L54.7,116.4 M90.1,114.5 L94.7,111.6 L89.4,110.3 M124.9,108.5 L129.4,105.6 L124.1,104.4 M159.6,101.7 L164.0,98.7 L158.7,97.6 M21.1,125.9 L25.2,122.3 L19.8,121.9 M55.2,116.7 L59.8,113.8 L54.5,112.6 M89.9,111.1 L94.5,108.2 L89.3,106.9 M124.7,105.3 L129.2,102.3 L123.9,101.2 M159.4,98.5 L163.9,95.5 L158.6,94.4 M20.9,121.9 L25.0,118.3 L19.6,117.9 M55.0,112.9 L59.6,110.0 L54.3,108.8 M89.7,107.7 L94.3,104.9 L89.1,103.5 M124.5,102.1 L129.1,99.1 L123.8,97.9 M159.3,95.3 L163.7,92.2 L158.4,91.2 M20.8,117.8 L24.8,114.2 L19.4,113.8 M54.8,109.1 L59.4,106.3 L54.2,105.0 M89.5,104.3 L94.2,101.5 L88.9,100.1 M124.4,98.9 L128.9,95.9 L123.6,94.7 M159.1,92.1 L163.6,89.0 L158.2,88.0 M20.6,113.5 L24.6,109.9 L19.2,109.6 M54.5,105.3 L59.2,102.5 L54.0,101.1 M89.3,100.9 L94.0,98.2 L88.8,96.8 M124.2,95.7 L128.7,92.7 L123.4,91.5 M159.0,88.9 L163.4,85.8 L158.1,84.8 M20.4,109.2 L24.4,105.6 L19.0,105.2 M54.3,101.4 L59.0,98.7 L53.8,97.2 M89.2,97.6 L93.8,94.9 L88.6,93.4 M124.0,92.5 L128.6,89.5 L123.3,88.3 M158.8,85.8 L163.2,82.6 L157.9,81.7 M20.1,104.6 L24.2,101.0 L18.7,100.7 M54.0,97.5 L58.9,95.0 L53.7,93.3 M89.0,94.2 L93.7,91.6 L88.5,90.1 M123.9,89.3 L128.4,86.4 L123.1,85.2 M158.7,82.6 L163.1,79.4 L157.7,78.5 M20.0,99.8 L23.9,96.1 L18.5,95.9 M53.8,93.5 L58.7,91.2 L53.5,89.4 M88.8,90.9 L93.5,88.3 L88.3,86.8 M123.7,86.1 L128.3,83.2 L123.0,82.0 M158.5,79.4 L162.9,76.2 L157.6,75.3 M19.7,94.5 L23.6,90.8 L18.2,90.6 M53.5,89.6 L58.5,87.4 L53.4,85.4 M88.6,87.6 L93.4,85.0 L88.2,83.5 M123.5,83.0 L128.1,80.1 L122.8,78.8 M158.4,76.2 L162.8,72.9 L157.4,72.1 M19.4,88.3 L23.3,84.6 L17.9,84.4 M53.3,85.7 L58.3,83.6 L53.3,81.5 M88.4,84.4 L93.2,81.8 L88.0,80.2 M123.4,79.9 L128.0,76.9 L122.7,75.7 M158.3,72.9 L162.6,69.5 L157.2,68.9 M158.0,69.2 L162.4,66.0 L157.1,65.1 M15.1,63.4 L18.7,59.4 L13.3,59.6 M45.2,55.2 L50.0,52.7 L44.9,51.0 M77.4,54.5 L82.5,52.8 L77.7,50.3 M109.1,57.5 L114.4,56.1 L109.7,53.3 M140.8,62.1 L146.0,60.5 L141.2,57.9 M15.6,60.4 L19.3,56.5 L13.9,56.6 M45.9,52.1 L50.7,49.6 L45.5,47.9 M78.2,51.1 L83.2,49.2 L78.3,46.9 M110.0,53.4 L115.2,51.8 L110.5,49.2 M142.0,56.9 L147.1,55.0 L142.2,52.7 M16.1,57.3 L19.9,53.4 L14.5,53.4 M46.5,49.0 L51.3,46.4 L46.1,44.8 M78.9,47.5 L84.0,45.6 L79.0,43.3 M110.9,49.3 L116.1,47.6 L111.3,45.1 M143.1,51.7 L148.1,49.7 L143.2,47.5 M16.7,54.0 L20.5,50.2 L15.1,50.1 M47.2,45.8 L51.9,43.2 L46.7,41.6 M79.7,43.9 L84.7,41.9 L79.7,39.7 M111.8,45.1 L116.9,43.3 L112.1,40.9 M144.2,46.6 L149.2,44.5 L144.2,42.4 M17.3,50.6 L21.2,46.8 L15.8,46.6 M47.9,42.5 L52.6,39.9 L47.4,38.3 M80.4,40.3 L85.4,38.2 L80.4,36.1 M112.7,40.9 L117.8,39.0 L112.9,36.7 M145.3,41.6 L150.2,39.3 L145.1,37.4 M18.2,45.3 L22.2,41.7 L16.8,41.3 M48.9,37.4 L53.6,34.7 L48.4,33.3 M81.6,34.7 L86.6,32.5 L81.5,30.5 M114.1,34.5 L119.1,32.4 L114.1,30.3 M146.8,34.2 L151.7,31.8 L146.6,30.0 M19.2,39.9 L23.3,36.3 L17.9,35.9 M50.0,32.2 L54.7,29.4 L49.5,28.0 M82.8,29.0 L87.7,26.7 L82.7,24.8 M115.5,28.0 L120.4,25.8 L115.4,23.8 M148.4,26.9 L153.2,24.4 L148.0,22.7 M20.3,34.3 L24.4,30.8 L19.0,30.3 M51.1,26.7 L55.8,23.9 L50.5,22.6 M84.1,23.1 L88.9,20.7 L83.8,19.0 M116.8,21.5 L121.7,19.2 L116.7,17.3 M149.9,19.6 L154.7,17.1 L149.5,15.5 M21.4,28.6 L25.6,25.1 L20.2,24.5 M52.3,21.2 L56.9,18.3 L51.7,17.0 M85.3,17.2 L90.1,14.7 L85.0,13.0 M118.2,14.9 L123.1,12.5 L118.0,10.7 M151.4,12.4 L156.1,9.8 L150.9,8.2 M22.5,22.7 L26.7,19.3 L21.3,18.7 M53.5,15.4 L58.1,12.6 L52.8,11.3 M86.6,11.1 L91.4,8.6 L86.2,6.9 M119.6,8.3 L124.4,5.8 L119.3,4.1 M152.8,5.2 L157.6,2.5 L152.4,1.0 M23.6,16.8 L27.9,13.4 L22.5,12.7 M54.6,9.6 L59.2,6.7 L54.0,5.4 M87.9,4.9 L92.6,2.3 L87.4,0.7 M121.0,1.6 L125.8,-1.0 L120.6,-2.6 M24.8,10.7 L29.1,7.4 L23.7,6.7 M55.9,3.6 L60.4,0.7 L55.2,-0.5 M26.0,4.6 L30.3,1.3 L24.9,0.5" fill="none" stroke="#111" stroke-width="0.9" stroke-linejoin="miter"/><path d="M13.0,67.2 L13.1,66.5 L13.2,65.9 L13.5,65.2 L13.9,64.6 L15.0,63.4 L16.6,62.2 L18.6,61.0 L21.0,60.0 L23.8,58.9 L26.9,58.0 L30.4,57.2 L33.9,56.5 L38.1,55.9 L42.0,55.4 L46.2,55.0 L50.6,54.8 L55.2,54.7 L59.9,54.6 L68.6,54.9 L78.1,55.5 L88.3,56.6 L99.5,58.0 L110.9,59.8 L124.0,62.1 L138.7,64.9 L157.1,68.6 L138.6,71.9 L123.9,74.4 L110.8,76.5 L99.3,78.0 L88.1,79.3 L77.9,80.1 L68.3,80.6 L59.7,80.7 L54.9,80.6 L50.4,80.3 L46.0,80.0 L41.8,79.6 L37.8,79.0 L33.7,78.3 L30.2,77.6 L26.7,76.7 L23.6,75.7 L20.8,74.6 L18.5,73.5 L16.5,72.3 L15.0,71.1 L13.9,69.8 L13.5,69.2 L13.2,68.5 L13.0,67.9 L13.0,67.2Z" fill="#fff" stroke="#222" stroke-width="0.8"/>
</g>
<rect x="0" y="0" width="1" height="130.4" fill="#8c8c8c"/>
<rect x="175.2" y="0" width="0.9" height="130.4" fill="#d4d4dc"/>
<rect x="1" y="130.4" width="175.2" height="0.8" fill="#dcdce4"/>
</g>
<g transform="translate(331,434)"><g clip-path="url(#cp_r4c2)">
<rect x="0" y="0" width="175.5" height="131" fill="#fff"/><path d="M28.0,52.8 L30.0,52.8 L30.5,53.3 L31.0,53.3 L31.2,53.5 L31.2,54.0 L31.7,54.5 L31.7,56.0 L31.2,56.5 L31.2,57.0 L30.7,57.5 L30.7,58.0 L26.6,62.0 L26.0,62.1 L25.0,63.1 L24.5,63.1 L24.0,63.6 L23.5,63.6 L23.0,64.1 L22.5,64.1 L22.0,64.6 L20.5,64.6 L20.0,65.1 L18.0,65.1 L17.5,64.6 L17.0,64.6 L16.9,64.0 L16.4,63.5 L16.4,62.0 L16.9,61.5 L16.9,61.0 L17.4,60.5 L17.4,60.0 L21.5,55.8 L22.0,55.8 L23.0,54.8 L23.5,54.8 L24.0,54.3 L24.5,54.3 L25.0,53.8 L25.5,53.8 L26.0,53.3 L27.5,53.3 L28.0,52.8Z" fill="#38adff" fill-rule="evenodd"/><path d="M41.5,28.8 L49.0,28.8 L49.5,29.3 L53.5,29.3 L54.0,29.8 L56.0,29.8 L56.5,30.3 L58.0,30.3 L58.5,30.8 L59.5,30.8 L60.0,31.3 L61.0,31.3 L61.5,31.8 L62.0,31.8 L62.5,32.3 L63.0,32.3 L63.5,32.8 L64.0,32.8 L64.5,33.3 L65.0,33.3 L65.5,33.8 L66.0,33.8 L67.5,35.3 L68.0,35.3 L69.7,37.0 L69.7,37.5 L70.7,38.5 L70.7,39.0 L71.2,39.5 L71.2,40.0 L71.7,40.5 L71.7,45.5 L71.2,46.0 L71.2,47.0 L70.7,47.5 L70.7,48.0 L69.7,49.0 L69.7,49.5 L66.0,53.2 L65.5,53.2 L64.5,54.2 L64.0,54.2 L63.0,55.2 L62.5,55.2 L62.0,55.7 L61.5,55.7 L61.0,56.2 L60.5,56.2 L60.0,56.7 L59.5,56.7 L59.0,57.2 L58.5,57.2 L58.0,57.7 L57.0,57.7 L56.5,58.2 L55.5,58.2 L55.0,58.7 L54.0,58.7 L53.5,59.2 L52.0,59.2 L51.5,59.7 L50.0,59.7 L49.5,60.2 L47.5,60.2 L47.0,60.7 L43.0,60.7 L42.5,61.2 L35.0,61.2 L34.5,60.7 L30.5,60.7 L30.0,60.2 L29.0,60.2 L28.5,60.4 L26.9,62.0 L26.0,62.2 L25.0,63.2 L24.5,63.2 L24.0,63.7 L23.5,63.7 L23.0,64.2 L22.5,64.2 L22.0,64.7 L20.5,64.7 L20.0,65.2 L18.0,65.2 L17.5,64.7 L17.0,64.7 L16.8,64.5 L16.8,64.0 L16.3,63.5 L16.3,62.0 L16.8,61.5 L16.8,61.0 L17.3,60.5 L17.3,60.0 L19.6,57.5 L19.8,57.0 L19.5,56.7 L19.0,56.7 L18.5,56.2 L18.0,56.2 L16.5,54.7 L16.0,54.7 L14.3,53.0 L14.3,52.5 L13.3,51.5 L13.3,51.0 L12.8,50.5 L12.8,50.0 L12.3,49.5 L12.2,44.5 L12.8,44.0 L12.8,43.0 L13.2,42.5 L13.2,42.0 L14.2,41.0 L14.2,40.5 L18.0,36.8 L18.5,36.8 L19.5,35.8 L20.0,35.8 L21.0,34.8 L21.5,34.8 L22.0,34.3 L22.5,34.3 L23.0,33.8 L23.5,33.8 L24.0,33.3 L24.5,33.3 L25.0,32.8 L25.5,32.8 L26.0,32.3 L27.0,32.3 L27.5,31.8 L28.5,31.8 L29.0,31.3 L30.0,31.3 L30.5,30.8 L32.0,30.8 L32.5,30.3 L34.0,30.3 L34.5,29.8 L36.5,29.8 L37.0,29.3 L41.0,29.3 L41.5,28.8Z M27.8,53.0 L27.5,53.3 L26.0,53.3 L25.5,53.8 L25.0,53.8 L24.5,54.3 L24.0,54.3 L23.5,54.8 L23.0,54.8 L22.0,55.8 L21.5,55.8 L17.4,60.0 L17.4,60.5 L16.9,61.0 L16.9,61.5 L16.4,62.0 L16.4,63.5 L16.9,64.0 L17.0,64.6 L17.5,64.6 L18.0,65.1 L20.0,65.1 L20.5,64.6 L22.0,64.6 L22.5,64.1 L23.0,64.1 L23.5,63.6 L24.0,63.6 L24.5,63.1 L25.0,63.1 L26.0,62.1 L26.6,62.0 L30.7,58.0 L30.7,57.5 L31.2,57.0 L31.2,56.5 L31.7,56.0 L31.7,54.5 L31.2,54.0 L31.2,53.5 L31.0,53.3 L30.5,53.3 L30.0,52.8 L28.0,52.8 L27.8,53.0Z" fill="#38ecff" fill-rule="evenodd"/><path d="M37.5,11.3 L52.5,11.3 L53.0,11.8 L55.5,11.8 L56.0,12.3 L58.0,12.3 L58.5,12.8 L60.0,12.8 L60.5,13.3 L61.5,13.3 L62.0,13.8 L63.0,13.8 L63.5,14.3 L64.5,14.3 L65.0,14.8 L65.5,14.8 L66.0,15.3 L67.0,15.3 L67.5,15.8 L68.0,15.8 L68.5,16.3 L69.0,16.3 L69.5,16.8 L70.0,16.8 L70.5,17.3 L71.0,17.3 L72.0,18.3 L72.5,18.3 L73.5,19.3 L74.0,19.3 L75.5,20.8 L76.0,20.8 L80.2,25.0 L80.2,25.5 L81.7,27.0 L81.7,27.5 L82.2,28.0 L82.2,28.5 L82.7,29.0 L82.7,29.5 L83.2,30.0 L83.2,30.5 L83.7,31.0 L83.7,32.0 L84.2,32.5 L84.2,33.5 L84.7,34.0 L84.7,42.0 L84.2,42.5 L84.2,43.5 L83.7,44.0 L83.7,45.0 L83.2,45.5 L83.2,46.0 L82.7,46.5 L82.7,47.0 L82.2,47.5 L82.2,48.0 L81.7,48.5 L81.7,49.0 L80.2,50.5 L80.2,51.0 L76.0,55.2 L75.5,55.2 L74.0,56.7 L73.5,56.7 L72.5,57.7 L72.0,57.7 L71.0,58.7 L70.5,58.7 L70.0,59.2 L69.5,59.2 L69.0,59.7 L68.5,59.7 L68.0,60.2 L67.5,60.2 L67.0,60.7 L66.0,60.7 L65.5,61.2 L65.0,61.2 L64.5,61.7 L63.5,61.7 L63.0,62.2 L62.0,62.2 L61.5,62.6 L60.5,62.6 L60.0,63.1 L58.5,63.1 L58.0,63.6 L56.0,63.6 L55.5,64.1 L53.0,64.1 L52.5,64.6 L37.5,64.6 L37.0,64.1 L34.5,64.1 L34.0,63.6 L32.0,63.6 L31.5,63.1 L30.0,63.1 L29.5,62.7 L28.5,62.7 L28.0,62.2 L26.0,62.3 L25.0,63.3 L24.5,63.3 L24.0,63.8 L23.5,63.8 L23.0,64.3 L22.5,64.3 L22.0,64.8 L20.5,64.8 L20.0,65.3 L18.0,65.3 L17.5,64.8 L17.0,64.8 L16.7,64.5 L16.7,64.0 L16.2,63.5 L16.2,62.0 L16.7,61.5 L16.6,61.0 L17.1,60.5 L17.1,60.0 L18.6,58.5 L18.5,58.2 L18.0,57.7 L17.5,57.7 L16.5,56.7 L16.0,56.7 L14.5,55.2 L14.0,55.2 L9.8,51.0 L9.8,50.5 L8.3,49.0 L8.3,48.5 L7.8,48.0 L7.8,47.5 L7.3,47.0 L7.3,46.5 L6.8,46.0 L6.8,45.5 L6.3,45.0 L6.3,44.0 L5.8,43.5 L5.8,42.5 L5.3,42.0 L5.3,34.0 L5.8,33.5 L5.8,32.5 L6.3,32.0 L6.3,31.0 L6.8,30.5 L6.8,30.0 L7.3,29.5 L7.3,29.0 L7.8,28.5 L7.8,28.0 L8.3,27.5 L8.3,27.0 L9.8,25.5 L9.8,25.0 L14.0,20.8 L14.5,20.8 L16.0,19.3 L16.5,19.3 L17.5,18.3 L18.0,18.3 L19.0,17.3 L19.5,17.3 L20.0,16.8 L20.5,16.8 L21.0,16.3 L21.5,16.3 L22.0,15.8 L22.5,15.8 L23.0,15.3 L24.0,15.3 L24.5,14.8 L25.0,14.8 L25.5,14.3 L26.5,14.3 L27.0,13.8 L28.0,13.8 L28.5,13.3 L29.5,13.3 L30.0,12.8 L31.5,12.8 L32.0,12.3 L34.0,12.3 L34.5,11.8 L37.0,11.8 L37.5,11.3Z M41.3,29.0 L41.0,29.3 L37.0,29.3 L36.5,29.8 L34.5,29.8 L34.0,30.3 L32.5,30.3 L32.0,30.8 L30.5,30.8 L30.0,31.3 L29.0,31.3 L28.5,31.8 L27.5,31.8 L27.0,32.3 L26.0,32.3 L25.5,32.8 L25.0,32.8 L24.5,33.3 L24.0,33.3 L23.5,33.8 L23.0,33.8 L22.5,34.3 L22.0,34.3 L21.5,34.8 L21.0,34.8 L20.0,35.8 L19.5,35.8 L18.5,36.8 L18.0,36.8 L14.2,40.5 L14.2,41.0 L13.2,42.0 L13.2,42.5 L12.8,43.0 L12.8,44.0 L12.2,44.5 L12.3,49.5 L12.8,50.0 L12.8,50.5 L13.3,51.0 L13.3,51.5 L14.3,52.5 L14.3,53.0 L16.0,54.7 L16.5,54.7 L18.0,56.2 L18.5,56.2 L19.0,56.7 L19.5,56.7 L19.8,57.0 L19.6,57.5 L17.3,60.0 L17.3,60.5 L16.8,61.0 L16.8,61.5 L16.3,62.0 L16.3,63.5 L16.8,64.0 L16.8,64.5 L17.0,64.7 L17.5,64.7 L18.0,65.2 L20.0,65.2 L20.5,64.7 L22.0,64.7 L22.5,64.2 L23.0,64.2 L23.5,63.7 L24.0,63.7 L24.5,63.2 L25.0,63.2 L26.0,62.2 L26.9,62.0 L28.5,60.4 L29.0,60.2 L30.0,60.2 L30.5,60.7 L34.5,60.7 L35.0,61.2 L42.5,61.2 L43.0,60.7 L47.0,60.7 L47.5,60.2 L49.5,60.2 L50.0,59.7 L51.5,59.7 L52.0,59.2 L53.5,59.2 L54.0,58.7 L55.0,58.7 L55.5,58.2 L56.5,58.2 L57.0,57.7 L58.0,57.7 L58.5,57.2 L59.0,57.2 L59.5,56.7 L60.0,56.7 L60.5,56.2 L61.0,56.2 L61.5,55.7 L62.0,55.7 L62.5,55.2 L63.0,55.2 L64.0,54.2 L64.5,54.2 L65.5,53.2 L66.0,53.2 L69.7,49.5 L69.7,49.0 L70.7,48.0 L70.7,47.5 L71.2,47.0 L71.2,46.0 L71.7,45.5 L71.7,40.5 L71.2,40.0 L71.2,39.5 L70.7,39.0 L70.7,38.5 L69.7,37.5 L69.7,37.0 L68.0,35.3 L67.5,35.3 L66.0,33.8 L65.5,33.8 L65.0,33.3 L64.5,33.3 L64.0,32.8 L63.5,32.8 L63.0,32.3 L62.5,32.3 L62.0,31.8 L61.5,31.8 L61.0,31.3 L60.0,31.3 L59.5,30.8 L58.5,30.8 L58.0,30.3 L56.5,30.3 L56.0,29.8 L54.0,29.8 L53.5,29.3 L49.5,29.3 L49.0,28.8 L41.5,28.8 L41.3,29.0Z" fill="#38ffd4" fill-rule="evenodd"/><path d="M40.0,4.5 L46.5,4.4 L53.0,4.7 L59.5,5.7 L65.5,7.0 L71.0,8.9 L75.5,11.0 L79.5,13.4 L83.0,16.4 L86.5,20.3 L89.4,25.0 L91.6,30.0 L93.1,35.5 L93.5,38.5 L93.6,41.0 L93.1,45.5 L92.6,47.5 L91.7,49.5 L90.7,51.0 L89.5,52.5 L87.7,54.0 L85.4,55.5 L82.5,56.9 L79.7,58.0 L73.5,59.7 L66.0,61.1 L65.5,61.5 L65.0,61.5 L64.5,62.0 L63.5,62.0 L63.0,62.5 L62.0,62.5 L61.5,62.9 L60.5,62.9 L60.0,63.4 L58.5,63.4 L58.0,63.9 L56.0,63.9 L55.5,64.4 L53.0,64.4 L52.5,64.9 L37.5,64.9 L37.0,64.4 L34.5,64.4 L34.0,63.9 L32.0,63.9 L31.5,63.4 L30.0,63.4 L29.5,63.0 L28.5,63.0 L28.0,62.5 L26.0,62.5 L25.0,63.5 L24.5,63.5 L24.0,64.0 L23.5,64.0 L23.0,64.4 L22.5,64.4 L22.0,64.9 L20.5,64.9 L20.0,65.4 L18.0,65.4 L17.5,64.9 L17.0,64.9 L16.6,64.5 L16.6,64.0 L16.1,63.5 L16.0,62.5 L16.0,62.0 L16.5,61.5 L16.5,60.6 L10.4,59.0 L6.0,57.3 L1.7,55.0 L-1.4,52.5 L-2.0,51.9 L-2.0,22.9 L-1.0,21.7 L2.5,18.2 L6.5,15.1 L11.0,12.3 L16.0,9.9 L21.5,7.9 L27.5,6.3 L33.5,5.2 L40.0,4.5Z M37.3,11.5 L37.0,11.8 L34.5,11.8 L34.0,12.3 L32.0,12.3 L31.5,12.8 L30.0,12.8 L29.5,13.3 L28.5,13.3 L28.0,13.8 L27.0,13.8 L26.5,14.3 L25.5,14.3 L25.0,14.8 L24.5,14.8 L24.0,15.3 L23.0,15.3 L22.5,15.8 L22.0,15.8 L21.5,16.3 L21.0,16.3 L20.5,16.8 L20.0,16.8 L19.5,17.3 L19.0,17.3 L18.0,18.3 L17.5,18.3 L16.5,19.3 L16.0,19.3 L14.5,20.8 L14.0,20.8 L9.8,25.0 L9.8,25.5 L8.3,27.0 L8.3,27.5 L7.8,28.0 L7.8,28.5 L7.3,29.0 L7.3,29.5 L6.8,30.0 L6.8,30.5 L6.3,31.0 L6.3,32.0 L5.8,32.5 L5.8,33.5 L5.3,34.0 L5.3,42.0 L5.8,42.5 L5.8,43.5 L6.3,44.0 L6.3,45.0 L6.8,45.5 L6.8,46.0 L7.3,46.5 L7.3,47.0 L7.8,47.5 L7.8,48.0 L8.3,48.5 L8.3,49.0 L9.8,50.5 L9.8,51.0 L14.0,55.2 L14.5,55.2 L16.0,56.7 L16.5,56.7 L17.5,57.7 L18.0,57.7 L18.5,58.2 L18.6,58.5 L17.1,60.0 L17.1,60.5 L16.6,61.0 L16.7,61.5 L16.2,62.0 L16.2,63.5 L16.7,64.0 L16.7,64.5 L17.0,64.8 L17.5,64.8 L18.0,65.3 L20.0,65.3 L20.5,64.8 L22.0,64.8 L22.5,64.3 L23.0,64.3 L23.5,63.8 L24.0,63.8 L24.5,63.3 L25.0,63.3 L26.0,62.3 L28.0,62.2 L28.5,62.7 L29.5,62.7 L30.0,63.1 L31.5,63.1 L32.0,63.6 L34.0,63.6 L34.5,64.1 L37.0,64.1 L37.5,64.6 L52.5,64.6 L53.0,64.1 L55.5,64.1 L56.0,63.6 L58.0,63.6 L58.5,63.1 L60.0,63.1 L60.5,62.6 L61.5,62.6 L62.0,62.2 L63.0,62.2 L63.5,61.7 L64.5,61.7 L65.0,61.2 L65.5,61.2 L66.0,60.7 L67.0,60.7 L67.5,60.2 L68.0,60.2 L68.5,59.7 L69.0,59.7 L69.5,59.2 L70.0,59.2 L70.5,58.7 L71.0,58.7 L72.0,57.7 L72.5,57.7 L73.5,56.7 L74.0,56.7 L75.5,55.2 L76.0,55.2 L80.2,51.0 L80.2,50.5 L81.7,49.0 L81.7,48.5 L82.2,48.0 L82.2,47.5 L82.7,47.0 L82.7,46.5 L83.2,46.0 L83.2,45.5 L83.7,45.0 L83.7,44.0 L84.2,43.5 L84.2,42.5 L84.7,42.0 L84.7,34.0 L84.2,33.5 L84.2,32.5 L83.7,32.0 L83.7,31.0 L83.2,30.5 L83.2,30.0 L82.7,29.5 L82.7,29.0 L82.2,28.5 L82.2,28.0 L81.7,27.5 L81.7,27.0 L80.2,25.5 L80.2,25.0 L76.0,20.8 L75.5,20.8 L74.0,19.3 L73.5,19.3 L72.5,18.3 L72.0,18.3 L71.0,17.3 L70.5,17.3 L70.0,16.8 L69.5,16.8 L69.0,16.3 L68.5,16.3 L68.0,15.8 L67.5,15.8 L67.0,15.3 L66.0,15.3 L65.5,14.8 L65.0,14.8 L64.5,14.3 L63.5,14.3 L63.0,13.8 L62.0,13.8 L61.5,13.3 L60.5,13.3 L60.0,12.8 L58.5,12.8 L58.0,12.3 L56.0,12.3 L55.5,11.8 L53.0,11.8 L52.5,11.3 L37.5,11.3 L37.3,11.5Z" fill="#38ff8e" fill-rule="evenodd"/><path d="M-1.5,-2.0 L114.7,-2.0 L112.5,2.0 L110.9,6.5 L110.3,11.0 L110.5,16.0 L112.0,23.4 L114.9,33.5 L117.4,40.5 L121.6,50.5 L121.9,52.5 L121.8,53.5 L121.5,54.5 L120.8,55.5 L119.7,56.5 L117.1,58.0 L112.9,59.5 L109.0,60.5 L101.2,62.0 L91.1,63.5 L69.0,66.0 L53.0,67.1 L37.5,67.4 L11.0,66.4 L-2.0,65.5 L-2.0,51.9 L1.0,54.5 L5.3,57.0 L10.4,59.0 L16.5,60.6 L16.5,61.5 L16.0,62.0 L16.1,63.5 L16.6,64.0 L16.6,64.5 L17.0,64.9 L17.5,64.9 L18.0,65.4 L20.0,65.4 L20.5,64.9 L22.0,64.9 L22.5,64.4 L23.0,64.4 L23.5,64.0 L24.0,64.0 L24.5,63.5 L25.0,63.5 L26.0,62.5 L28.0,62.5 L28.5,63.0 L29.5,63.0 L30.0,63.4 L31.5,63.4 L32.0,63.9 L34.0,63.9 L34.5,64.4 L37.0,64.4 L37.5,64.9 L52.5,64.9 L53.0,64.4 L55.5,64.4 L56.0,63.9 L58.0,63.9 L58.5,63.4 L60.0,63.4 L60.5,62.9 L61.5,62.9 L62.0,62.5 L63.0,62.5 L63.5,62.0 L64.5,62.0 L65.0,61.5 L65.5,61.5 L66.0,61.1 L73.5,59.7 L79.7,58.0 L83.5,56.5 L87.1,54.5 L89.9,52.0 L91.1,50.5 L91.9,49.0 L93.1,45.5 L93.6,41.0 L93.5,38.0 L93.0,35.0 L92.1,31.5 L91.1,28.5 L89.7,25.5 L88.0,22.5 L86.0,19.7 L84.0,17.4 L82.0,15.4 L79.5,13.4 L77.0,11.8 L74.0,10.2 L71.0,8.9 L67.5,7.6 L60.0,5.7 L55.5,5.0 L51.0,4.6 L46.5,4.4 L42.0,4.4 L37.5,4.7 L33.0,5.2 L28.5,6.0 L24.0,7.1 L20.0,8.4 L16.0,9.9 L12.5,11.5 L9.0,13.5 L5.5,15.8 L2.7,18.0 L0.1,20.5 L-2.0,22.9 L-2.0,-2.0 L-1.5,-2.0Z" fill="#38ff50" fill-rule="evenodd"/><path d="M114.5,-1.7 L114.7,-2.0 L177.0,-2.0 L177.0,29.2 L175.0,29.1 L173.5,29.3 L171.5,29.9 L170.0,30.5 L168.0,31.8 L166.6,33.0 L164.0,36.1 L162.2,39.5 L160.9,43.5 L160.3,47.0 L159.8,54.0 L159.4,56.5 L158.8,58.0 L158.1,59.0 L157.1,60.0 L156.0,60.8 L153.5,62.0 L151.0,62.7 L147.0,63.4 L142.0,64.0 L113.5,66.4 L63.5,70.0 L51.5,70.5 L40.0,70.8 L34.5,70.7 L21.5,69.8 L8.5,70.3 L-2.0,70.2 L-2.0,65.5 L10.5,66.3 L22.0,66.7 L36.0,67.4 L49.0,67.2 L62.5,66.5 L82.5,64.6 L101.2,62.0 L107.0,60.9 L112.9,59.5 L115.9,58.5 L119.0,57.0 L120.3,56.0 L121.5,54.5 L121.9,53.0 L121.8,51.5 L121.0,49.0 L117.0,39.5 L114.3,31.5 L111.5,21.5 L110.8,18.0 L110.4,14.5 L110.4,10.0 L111.0,6.0 L112.5,2.0 L114.5,-1.7Z" fill="#57ff38" fill-rule="evenodd"/><path d="M173.0,29.4 L175.0,29.1 L177.0,29.2 L177.0,46.6 L176.0,46.2 L174.5,46.5 L173.5,47.2 L172.6,48.5 L171.9,51.0 L171.6,56.0 L171.4,57.5 L170.4,59.5 L169.2,61.0 L166.7,63.0 L164.0,64.5 L161.0,65.7 L157.5,66.8 L151.5,67.9 L142.5,68.8 L57.5,73.9 L46.0,74.3 L38.5,74.3 L34.5,73.9 L26.5,72.7 L21.5,72.4 L17.0,72.6 L7.0,73.9 L-2.0,74.1 L-2.0,70.2 L8.5,70.3 L22.0,69.8 L34.0,70.7 L39.0,70.8 L58.5,70.2 L73.0,69.3 L124.4,65.5 L144.0,63.8 L148.5,63.2 L151.7,62.5 L154.5,61.6 L156.5,60.5 L158.1,59.0 L159.0,57.5 L159.8,54.5 L160.2,47.5 L160.7,44.0 L162.0,40.0 L163.7,36.5 L165.6,34.0 L168.0,31.8 L170.5,30.3 L173.0,29.4Z" fill="#96ff38" fill-rule="evenodd"/><path d="M174.5,46.5 L176.0,46.2 L177.0,46.6 L177.0,67.4 L174.0,67.5 L171.2,68.0 L160.5,71.4 L154.5,72.8 L149.5,73.6 L144.5,74.2 L123.0,75.8 L91.5,77.5 L62.0,79.4 L46.0,80.1 L42.0,80.1 L39.5,79.8 L37.0,79.2 L31.5,77.0 L28.1,76.0 L24.5,75.4 L20.5,75.3 L17.5,75.6 L14.5,76.2 L7.5,78.7 L5.0,79.3 L2.5,79.6 L-2.0,79.7 L-2.0,74.1 L7.0,73.9 L17.0,72.6 L21.5,72.4 L26.5,72.7 L34.5,73.9 L38.5,74.3 L45.0,74.3 L56.0,73.9 L138.0,69.1 L148.0,68.3 L154.5,67.4 L159.0,66.4 L162.9,65.0 L166.7,63.0 L169.2,61.0 L170.4,59.5 L171.4,57.5 L171.6,56.0 L171.8,51.5 L172.4,49.0 L173.3,47.5 L174.5,46.5Z" fill="#c8f83c" fill-rule="evenodd"/><path d="M174.0,67.5 L177.0,67.4 L177.0,132.5 L-2.0,132.5 L-2.0,79.7 L2.5,79.6 L5.0,79.3 L7.0,78.8 L15.0,76.1 L18.0,75.5 L21.0,75.3 L24.5,75.4 L28.0,76.0 L31.5,77.0 L38.5,79.6 L40.5,79.9 L43.5,80.1 L59.5,79.6 L91.5,77.5 L124.5,75.7 L144.0,74.2 L152.5,73.2 L159.0,71.8 L169.5,68.5 L174.0,67.5Z M18.0,80.5 L16.5,81.0 L15.0,82.0 L14.0,83.1 L13.3,84.5 L13.1,86.0 L13.5,88.0 L14.3,89.5 L15.5,90.9 L17.0,92.0 L18.5,92.8 L20.5,93.3 L22.5,93.4 L24.5,93.1 L26.0,92.5 L27.5,91.7 L28.9,90.5 L30.2,88.5 L30.5,87.5 L30.7,86.0 L30.3,84.0 L29.0,82.2 L27.1,81.0 L24.5,80.3 L21.0,80.1 L18.0,80.5Z" fill="#f6f23a" fill-rule="evenodd"/><path d="M18.5,80.4 L21.5,80.1 L25.0,80.4 L27.5,81.2 L29.3,82.5 L30.0,83.5 L30.5,84.5 L30.7,86.5 L30.5,87.6 L30.0,88.9 L28.5,90.9 L27.0,92.0 L25.5,92.8 L23.5,93.3 L21.5,93.4 L19.5,93.1 L18.0,92.6 L16.5,91.7 L15.1,90.5 L14.0,89.0 L13.3,87.5 L13.1,86.0 L13.3,84.5 L14.0,83.0 L15.0,82.0 L16.6,81.0 L18.5,80.4Z" fill="#fcc83e" fill-rule="evenodd"/><path d="M175.8,139.0 L183.5,136.8 M159.1,139.0 L183.5,132.1 M142.0,139.0 L183.5,127.4 M124.5,139.0 L183.5,122.7 M106.7,139.0 L183.5,118.0 M88.7,139.0 L183.5,113.3 M71.0,139.0 L95.0,132.1 L149.0,117.9 L183.5,108.6 M54.3,139.0 L68.5,134.4 L84.5,129.8 L146.5,113.9 L183.5,103.9 M39.1,139.0 L56.0,132.9 L75.0,127.2 L91.5,122.8 L144.0,109.8 L183.5,99.2 M25.4,139.0 L36.0,134.5 L46.0,130.7 L56.0,127.3 L66.5,124.1 L84.5,119.4 L141.5,105.7 L183.5,94.5 M13.1,139.0 L26.5,132.7 L37.5,128.1 L48.0,124.2 L59.5,120.6 L78.0,115.8 L139.0,101.6 L183.5,89.9 M1.8,139.0 L19.0,130.3 L31.0,124.7 L42.0,120.3 L53.5,116.6 L72.0,111.8 L114.0,102.7 L136.5,97.5 L155.5,92.7 L183.5,85.2 M-8.0,138.5 L14.5,126.6 L26.5,120.6 L37.5,115.9 L48.5,112.1 L56.5,109.9 L66.0,107.6 L108.5,99.1 L133.0,93.7 L153.5,88.6 L183.5,80.5 M-8.0,132.9 L15.0,120.1 L25.5,114.7 L35.5,110.2 L45.0,106.9 L52.5,104.9 L61.0,103.0 L103.0,95.3 L129.0,89.9 L151.5,84.5 L183.5,75.8 M-8.0,127.3 L16.0,113.1 L24.5,108.4 L33.0,104.4 L41.5,101.4 L47.5,99.8 L55.0,98.3 L96.0,91.8 L124.0,86.4 L150.0,80.3 L183.5,71.1 M-8.0,121.5 L24.0,101.4 L31.0,97.8 L38.0,95.3 L43.0,94.1 L48.5,93.1 L88.5,88.1 L103.0,85.8 L117.5,83.1 L134.0,79.6 L149.5,75.9 L170.5,69.9 L183.5,66.4 M-8.0,115.7 L4.8,107.0 L24.0,92.9 L28.5,90.3 L33.5,88.4 L37.5,87.5 L42.5,86.9 L66.5,85.4 L81.5,84.0 L95.0,82.3 L109.5,79.9 L129.0,76.1 L150.0,71.4 L156.0,69.7 L167.5,65.9 L183.5,61.7 M62.9,56.0 L65.1,55.9 M74.4,55.9 L77.3,56.0 M53.4,56.5 L54.0,56.5 M86.9,56.4 L88.1,56.5 M155.0,65.5 L156.0,65.5 L156.2,65.0 L157.8,64.0 L162.5,62.3 L183.5,57.0 M48.0,57.0 L48.6,56.9 M93.9,56.9 L94.8,57.0 M43.9,57.5 L44.0,57.5 M100.0,57.5 L100.3,57.5 M104.4,57.9 L105.1,58.0 M108.9,58.4 L109.4,58.5 M112.9,58.9 L113.4,59.0 M32.9,59.5 L33.0,59.5 M117.0,59.5 L117.1,59.5 M30.9,60.0 L31.0,60.0 M120.5,60.0 L120.7,60.0 M124.0,60.5 L124.1,60.5 M130.5,61.5 L130.6,61.5 M133.5,62.0 L133.7,62.0 M136.4,62.4 L136.8,62.5 M145.5,68.0 L145.6,68.0 M141.0,69.0 L141.1,69.0 M134.0,70.5 L134.2,70.5 M127.0,72.0 L127.0,72.0 M124.5,72.5 L124.6,72.5 M122.0,73.0 L122.1,73.0 M18.5,73.5 L18.6,73.6 M119.5,73.5 L119.5,73.5 M20.4,74.5 L20.6,74.6 M114.0,74.5 L114.2,74.5 M22.9,75.5 L23.1,75.6 M108.5,75.5 L108.5,75.5 M-8.0,109.7 L-1.4,105.0 L4.4,100.5 L9.6,96.0 L13.8,92.0 L17.4,88.0 L20.4,84.0 L22.7,80.0 L24.5,76.0 M105.5,76.0 L105.5,76.0 M101.9,76.6 L102.4,76.5 M27.9,77.0 L28.0,77.0 M99.0,77.0 L99.0,77.0 M94.9,77.6 L95.5,77.5 M32.5,78.0 L32.5,78.0 M91.5,78.0 L91.6,78.0 M35.3,78.5 L35.5,78.5 M86.9,78.6 L87.4,78.5 M38.8,79.0 L39.0,79.0 M81.9,79.1 L82.6,79.0 M43.3,79.5 L43.5,79.5 M75.9,79.6 L76.7,79.5 M50.7,80.0 L52.1,80.1 M66.4,80.1 L68.1,80.0 M-8.0,104.5 L-0.9,99.0 L4.7,94.0 L8.9,89.5 L12.1,85.0 L13.6,82.0 L14.3,79.5 L14.4,76.5 L13.4,70.0 L13.8,68.0 L15.0,65.9 L17.5,63.7 L21.0,61.7 L25.5,59.8 L31.5,57.9 L41.0,55.9 L52.0,54.4 L64.0,53.6 L77.5,53.5 L89.0,53.8 L101.5,54.7 L115.5,56.0 L142.5,59.1 L148.0,59.6 L152.0,59.6 L155.0,59.4 L158.5,58.7 L183.5,53.0 M-8.0,99.3 L-3.0,95.1 L1.0,91.3 L4.5,87.5 L7.0,84.0 L8.7,81.0 L9.9,78.0 L11.9,68.5 L12.8,66.5 L14.3,64.5 L17.5,61.8 L21.5,59.6 L27.0,57.3 L33.0,55.5 L42.0,53.6 L52.5,52.1 L64.0,51.2 L76.5,50.9 L87.0,51.0 L98.0,51.5 L138.5,54.7 L145.0,55.0 L150.5,55.0 L155.5,54.6 L161.0,53.8 L183.5,49.0 M-8.0,94.0 L-1.5,87.9 L3.3,82.0 L6.3,77.0 L10.5,67.0 L12.1,64.5 L14.0,62.5 L17.5,59.8 L22.0,57.4 L27.5,55.2 L34.5,53.1 L43.5,51.2 L53.5,49.7 L64.5,48.8 L76.0,48.3 L95.0,48.5 L136.5,50.7 L144.0,50.9 L150.0,50.8 L156.0,50.2 L162.5,49.3 L183.5,45.1 M-8.0,88.7 L-3.5,84.2 L0.1,80.0 L3.2,75.5 L9.0,65.5 L11.0,63.0 L13.5,60.6 L17.5,57.7 L23.0,54.9 L29.0,52.6 L36.0,50.6 L44.5,48.8 L54.0,47.3 L64.5,46.3 L75.5,45.7 L97.0,45.6 L136.5,47.0 L149.5,46.7 L156.0,46.1 L163.5,45.0 L183.5,41.1 M-8.0,83.4 L-1.5,76.3 L7.8,63.5 L10.2,61.0 L13.0,58.5 L18.0,55.2 L23.5,52.5 L30.0,50.1 L38.0,47.9 L46.5,46.1 L55.5,44.8 L65.5,43.8 L76.0,43.1 L96.0,42.7 L134.5,43.3 L148.5,42.8 L155.5,42.1 L163.5,41.0 L183.5,37.2 M-8.0,70.7 L4.8,58.0 L9.2,54.5 L14.0,51.3 L20.0,48.1 L26.5,45.4 L34.0,43.0 L42.0,40.9 L49.5,39.3 L58.0,38.0 L76.5,36.0 L94.5,35.0 L132.0,33.9 L148.0,32.7 L164.5,30.6 L183.5,27.1 M-8.0,60.0 L-1.2,54.5 L4.5,50.3 L10.0,46.8 L16.0,43.6 L22.5,40.6 L29.5,38.1 L37.0,35.8 L45.5,33.6 L60.5,30.8 L77.5,28.7 L94.0,27.2 L130.0,24.8 L147.0,23.1 L164.5,20.6 L183.5,17.1 M-8.0,50.7 L-1.0,46.0 L5.0,42.3 L11.1,39.0 L17.5,36.0 L24.5,33.2 L31.5,30.8 L39.5,28.4 L47.5,26.4 L61.5,23.6 L78.0,21.2 L93.5,19.4 L129.5,15.8 L147.5,13.6 L165.0,10.8 L183.5,7.2 M-8.0,42.0 L-1.1,38.0 L5.5,34.4 L12.0,31.3 L19.0,28.3 L26.0,25.7 L33.5,23.2 L49.5,18.9 L63.5,16.0 L79.0,13.4 L129.5,6.8 L148.0,4.1 L165.5,1.1 L183.5,-2.5 M-8.0,33.6 L5.5,26.7 L19.0,21.0 L33.5,16.0 L49.5,11.6 L63.0,8.6 L78.5,5.7 L136.0,-3.2 L163.3,-8.0 M-8.0,25.3 L4.0,19.6 L16.0,14.6 L28.5,10.2 L41.5,6.2 L55.0,2.8 L70.5,-0.6 L87.5,-3.9 L111.5,-8.0 M-8.0,17.0 L9.5,9.4 L27.5,2.9 L46.5,-2.8 L67.9,-8.0 M-8.0,8.7 L3.0,4.0 L14.0,-0.3 L25.5,-4.3 L37.3,-8.0 M-8.0,0.3 L2.5,-4.0 L13.2,-8.0" fill="none" stroke="#111" stroke-width="0.9" stroke-linejoin="round"/><path d="M164.0,135.0 L168.2,131.7 L162.8,131.0 M163.7,130.4 L168.0,127.0 L162.6,126.3 M128.9,135.1 L133.2,131.8 L127.8,131.0 M163.5,125.7 L167.7,122.3 L162.4,121.6 M128.7,130.3 L133.0,127.0 L127.6,126.2 M163.2,121.0 L167.5,117.7 L162.1,117.0 M93.9,134.6 L98.2,131.3 L92.8,130.5 M128.4,125.5 L132.7,122.2 L127.4,121.5 M163.0,116.4 L167.3,113.0 L161.9,112.3 M93.6,129.6 L97.9,126.3 L92.6,125.5 M128.2,120.8 L132.5,117.5 L127.1,116.7 M162.8,111.7 L167.0,108.4 L161.7,107.7 M59.0,134.1 L63.2,130.6 L57.8,130.1 M93.3,124.5 L97.7,121.3 L92.3,120.5 M127.9,116.0 L132.3,112.8 L126.9,111.9 M162.5,107.1 L166.8,103.7 L161.4,103.0 M58.7,128.6 L62.9,125.2 L57.5,124.6 M93.1,119.5 L97.4,116.3 L92.1,115.4 M127.7,111.3 L132.0,108.0 L126.7,107.2 M162.3,102.4 L166.6,99.1 L161.2,98.4 M26.9,134.8 L30.7,130.9 L25.2,130.9 M58.4,123.0 L62.6,119.7 L57.2,119.0 M92.8,114.5 L97.2,111.3 L91.9,110.4 M127.4,106.6 L131.8,103.4 L126.4,102.5 M162.1,97.8 L166.4,94.5 L161.0,93.8 M26.6,129.0 L30.4,125.0 L25.0,125.1 M58.0,117.4 L62.3,114.1 L57.0,113.3 M92.5,109.5 L96.9,106.4 L91.6,105.4 M127.2,101.9 L131.6,98.7 L126.2,97.8 M161.8,93.2 L166.1,89.9 L160.7,89.2 M26.4,122.9 L30.1,119.0 L24.7,119.1 M57.7,111.7 L62.1,108.5 L56.7,107.6 M92.2,104.5 L96.7,101.5 L91.4,100.4 M126.9,97.2 L131.3,94.1 L126.0,93.1 M161.6,88.6 L165.9,85.3 L160.5,84.6 M26.1,116.6 L29.8,112.7 L24.3,112.8 M57.3,105.9 L61.8,102.9 L56.5,101.8 M91.9,99.6 L96.5,96.6 L91.2,95.4 M126.7,92.6 L131.1,89.4 L125.8,88.5 M161.4,84.0 L165.7,80.7 L160.3,80.0 M25.8,110.0 L29.4,106.0 L24.0,106.2 M56.9,100.1 L61.5,97.2 L56.2,95.9 M91.6,94.7 L96.2,91.7 L90.9,90.5 M126.4,88.0 L130.9,84.9 L125.5,83.9 M161.2,79.5 L165.4,76.1 L160.0,75.4 M25.4,102.7 L29.1,98.7 L23.6,98.9 M56.5,94.1 L61.2,91.5 L56.0,90.0 M91.4,89.8 L96.0,86.9 L90.7,85.6 M126.2,83.4 L130.6,80.3 L125.3,79.3 M161.0,74.8 L165.2,71.4 L159.8,70.8 M25.0,94.2 L28.6,90.2 L23.2,90.4 M56.1,88.2 L60.9,85.8 L55.8,84.0 M91.1,85.0 L95.7,82.2 L90.5,80.8 M126.0,78.9 L130.4,75.8 L125.1,74.8 M160.8,70.1 L165.0,66.6 L159.6,66.1 M160.5,65.0 L164.7,61.7 L159.3,61.0 M89.3,58.7 L94.5,57.0 L89.7,54.5 M22.6,78.0 L28.0,77.0 L23.5,73.9 M14.9,68.1 L17.8,63.5 L12.5,64.6 M44.8,57.3 L49.6,54.7 L44.4,53.1 M77.2,55.5 L82.3,53.6 L77.4,51.3 M109.1,57.4 L114.3,55.9 L109.6,53.3 M141.0,61.2 L146.1,59.4 L141.3,57.0 M15.1,65.8 L18.2,61.4 L12.9,62.2 M45.3,55.1 L50.0,52.4 L44.8,50.9 M77.8,52.9 L82.8,50.9 L77.9,48.7 M109.8,54.4 L115.0,52.7 L110.2,50.2 M142.0,57.1 L147.0,55.1 L142.0,52.9 M15.4,63.4 L18.7,59.1 L13.3,59.8 M45.8,52.8 L50.5,50.1 L45.2,48.7 M78.3,50.3 L83.4,48.2 L78.4,46.1 M110.5,51.3 L115.6,49.5 L110.7,47.1 M142.9,53.1 L147.8,50.9 L142.8,48.9 M15.7,61.0 L19.1,56.8 L13.8,57.3 M46.3,50.5 L51.0,47.7 L45.7,46.4 M78.9,47.7 L83.9,45.5 L78.9,43.5 M111.2,48.2 L116.2,46.3 L111.3,44.0 M143.8,49.1 L148.7,46.7 L143.5,44.9 M16.1,58.5 L19.6,54.3 L14.2,54.7 M46.8,48.2 L51.4,45.3 L46.2,44.0 M79.5,45.0 L84.4,42.8 L79.4,40.8 M111.9,45.0 L116.9,43.0 L111.9,40.8 M144.6,45.2 L149.5,42.7 L144.3,41.0 M17.3,51.7 L21.0,47.7 L15.5,47.9 M48.2,41.7 L52.7,38.8 L47.5,37.5 M81.0,37.8 L85.9,35.4 L80.8,33.6 M113.7,36.6 L118.6,34.3 L113.6,32.4 M146.8,35.0 L151.5,32.4 L146.3,30.9 M18.5,44.5 L22.4,40.7 L16.9,40.7 M49.6,34.9 L54.1,31.9 L48.8,30.7 M82.6,30.3 L87.5,27.7 L82.3,26.1 M115.5,27.9 L120.4,25.5 L115.3,23.7 M148.9,25.1 L153.5,22.3 L148.3,20.9 M19.9,37.2 L23.8,33.4 L18.4,33.2 M51.0,27.7 L55.6,24.7 L50.2,23.6 M84.3,22.5 L89.0,19.9 L83.8,18.3 M117.4,19.2 L122.2,16.6 L117.0,15.0 M150.9,15.2 L155.5,12.4 L150.3,11.1 M21.3,29.6 L25.3,25.9 L19.9,25.6 M52.6,20.3 L57.0,17.3 L51.7,16.2 M86.0,14.5 L90.6,11.8 L85.4,10.3 M119.3,10.3 L124.0,7.6 L118.8,6.1 M152.9,5.5 L157.5,2.5 L152.2,1.3 M22.8,21.7 L26.9,18.1 L21.5,17.8 M54.1,12.6 L58.6,9.5 L53.3,8.5 M87.7,6.3 L92.3,3.5 L87.0,2.2 M121.2,1.3 L125.8,-1.5 L120.5,-2.9 M24.4,13.7 L28.5,10.2 L23.1,9.7 M55.8,4.7 L60.2,1.6 L54.8,0.6 M26.0,5.5 L30.1,2.0 L24.7,1.5" fill="none" stroke="#111" stroke-width="0.9" stroke-linejoin="miter"/><path d="M63.9,48.8 L63.9,49.0 L63.9,49.2 L63.8,49.4 L63.7,49.6 L63.6,49.9 L63.4,50.1 L63.1,50.3 L62.9,50.5 L62.6,50.7 L62.2,51.0 L61.9,51.2 L61.4,51.4 L61.0,51.6 L60.5,51.8 L60.0,52.0 L59.5,52.2 L59.0,52.4 L58.4,52.5 L57.8,52.7 L57.2,52.9 L56.5,53.0 L55.9,53.2 L55.2,53.3 L54.5,53.4 L53.8,53.6 L53.1,53.7 L52.4,53.8 L51.6,53.9 L50.9,53.9 L50.2,54.0 L49.4,54.1 L48.7,54.1 L48.0,54.1 L47.2,54.2 L46.5,54.2 L45.8,54.2 L45.1,54.2 L44.4,54.1 L43.8,54.1 L43.1,54.0 L42.5,54.0 L41.9,53.9 L41.3,53.8 L40.7,53.7 L40.2,53.6 L39.7,53.5 L39.2,53.4 L38.7,53.3 L38.3,53.1 L37.9,53.0 L37.6,52.8 L37.3,52.7 L37.0,52.5 L36.7,52.3 L36.5,52.1 L36.4,51.9 L36.2,51.7 L36.1,51.5 L36.1,51.3 L36.0,51.1 L36.1,50.9 L36.1,50.7 L36.2,50.5 L36.4,50.2 L36.5,50.0 L36.7,49.8 L37.0,49.6 L37.3,49.4 L37.6,49.2 L38.0,48.9 L38.3,48.7 L38.8,48.5 L39.2,48.3 L39.7,48.1 L40.2,47.9 L40.8,47.7 L41.3,47.6 L41.9,47.4 L42.5,47.2 L43.1,47.1 L43.8,46.9 L44.5,46.8 L45.2,46.6 L45.8,46.5 L46.6,46.4 L47.3,46.3 L48.0,46.2 L48.7,46.1 L49.5,46.0 L50.2,46.0 L50.9,45.9 L51.7,45.9 L52.4,45.9 L53.1,45.8 L53.8,45.8 L54.5,45.8 L55.2,45.9 L55.9,45.9 L56.6,45.9 L57.2,46.0 L57.8,46.0 L58.4,46.1 L59.0,46.2 L59.5,46.3 L60.1,46.4 L60.6,46.5 L61.0,46.7 L61.5,46.8 L61.9,46.9 L62.2,47.1 L62.6,47.3 L62.9,47.4 L63.1,47.6 L63.4,47.8 L63.6,48.0 L63.7,48.2 L63.8,48.4 L63.9,48.6 L63.9,48.8 M72.0,50.0 L72.0,50.2 L71.9,50.3 L71.9,50.5 L71.8,50.6 L71.7,50.8 L71.5,50.9 L71.3,51.1 L71.1,51.2 L70.9,51.4 L70.6,51.5 L70.4,51.6 L70.1,51.8 L69.7,51.9 L69.4,52.0 L69.0,52.1 L68.6,52.2 L68.2,52.3 L67.8,52.4 L67.4,52.5 L66.9,52.6 L66.5,52.7 L66.0,52.8 L65.5,52.8 L65.0,52.9 L64.5,52.9 L64.0,52.9 L63.4,53.0 L62.9,53.0 L62.4,53.0 L61.9,53.0 L61.3,53.0 L60.8,53.0 L60.3,53.0 L59.8,52.9 L59.3,52.9 L58.8,52.8 L58.3,52.8 L57.8,52.7 L57.3,52.6 L56.8,52.6 L56.4,52.5 L56.0,52.4 L55.6,52.3 L55.2,52.2 L54.8,52.1 L54.4,52.0 L54.1,51.8 L53.8,51.7 L53.5,51.6 L53.2,51.4 L53.0,51.3 L52.8,51.2 L52.6,51.0 L52.4,50.9 L52.3,50.7 L52.2,50.6 L52.1,50.4 L52.0,50.2 L52.0,50.1 L52.0,49.9 L52.0,49.8 L52.1,49.6 L52.2,49.4 L52.3,49.3 L52.4,49.1 L52.6,49.0 L52.8,48.8 L53.0,48.7 L53.2,48.6 L53.5,48.4 L53.8,48.3 L54.1,48.2 L54.4,48.0 L54.8,47.9 L55.2,47.8 L55.6,47.7 L56.0,47.6 L56.4,47.5 L56.8,47.4 L57.3,47.4 L57.8,47.3 L58.3,47.2 L58.8,47.2 L59.3,47.1 L59.8,47.1 L60.3,47.0 L60.8,47.0 L61.3,47.0 L61.9,47.0 L62.4,47.0 L62.9,47.0 L63.4,47.0 L64.0,47.1 L64.5,47.1 L65.0,47.1 L65.5,47.2 L66.0,47.2 L66.5,47.3 L66.9,47.4 L67.4,47.5 L67.8,47.6 L68.2,47.7 L68.6,47.8 L69.0,47.9 L69.4,48.0 L69.7,48.1 L70.1,48.2 L70.4,48.4 L70.6,48.5 L70.9,48.6 L71.1,48.8 L71.3,48.9 L71.5,49.1 L71.7,49.2 L71.8,49.4 L71.9,49.5 L71.9,49.7 L72.0,49.8 L72.0,50.0" fill="none" stroke="#111" stroke-width="0.85"/><path d="M35.0,53.8 L36.8,49.8 L32.7,51.3 " fill="none" stroke="#111" stroke-width="0.9"/><ellipse cx="30" cy="56" rx="8" ry="4.5" transform="rotate(-25 30 56)" fill="#111" stroke="none" stroke-width="0.8"/><ellipse cx="35" cy="53" rx="5" ry="3" transform="rotate(-25 35 53)" fill="#111" stroke="none" stroke-width="0.8"/><path d="M14.8,69.3 L14.8,68.6 L15.0,68.0 L15.2,67.3 L15.6,66.6 L16.7,65.3 L18.2,64.1 L20.1,62.9 L22.4,61.7 L25.1,60.6 L28.1,59.5 L31.6,58.5 L35.0,57.7 L39.0,56.9 L42.9,56.3 L47.0,55.8 L51.3,55.4 L55.8,55.1 L60.4,54.9 L69.0,54.9 L78.3,55.2 L88.4,55.9 L99.5,57.0 L110.7,58.4 L123.7,60.3 L138.2,62.6 L156.4,65.7 L138.3,69.7 L124.0,72.8 L111.2,75.3 L100.0,77.3 L89.0,78.9 L79.0,80.1 L69.6,80.9 L61.1,81.3 L56.5,81.4 L52.0,81.3 L47.7,81.1 L43.5,80.8 L39.6,80.4 L35.5,79.8 L32.1,79.2 L28.6,78.4 L25.5,77.5 L22.7,76.5 L20.4,75.5 L18.4,74.3 L16.9,73.2 L15.7,71.9 L15.3,71.3 L15.1,70.6 L14.9,70.0 L14.8,69.3Z" fill="#fff" stroke="#222" stroke-width="0.8"/>
</g>
<rect x="0" y="0" width="1" height="130.4" fill="#8c8c8c"/>
<rect x="175.2" y="0" width="0.9" height="130.4" fill="#d4d4dc"/>
<rect x="1" y="130.4" width="175.2" height="0.8" fill="#dcdce4"/>
</g>
<g transform="translate(524,434)"><g clip-path="url(#cp_r4c3)">
<rect x="0" y="0" width="175.5" height="131" fill="#fff"/><path d="M39.5,39.5 L42.0,39.2 L44.0,39.3 L46.0,39.7 L48.0,40.7 L49.2,42.0 L49.7,43.5 L49.5,45.0 L48.7,46.5 L47.1,48.0 L45.5,48.9 L43.5,49.6 L41.5,50.1 L39.5,50.2 L37.5,49.9 L35.5,49.3 L34.1,48.5 L33.1,47.5 L32.5,46.0 L32.5,45.0 L33.1,43.5 L34.3,42.0 L35.6,41.0 L37.5,40.1 L39.5,39.5Z" fill="#3838ff" fill-rule="evenodd"/><path d="M40.0,37.0 L43.5,36.8 L46.5,37.1 L49.5,38.1 L51.6,39.5 L52.5,40.5 L53.0,41.5 L53.3,43.5 L52.8,45.5 L51.4,47.5 L49.5,49.1 L47.0,50.5 L44.0,51.5 L41.0,52.0 L38.0,52.0 L35.5,51.6 L33.0,50.8 L31.0,49.5 L29.7,48.0 L29.1,46.0 L29.3,44.0 L30.4,42.0 L32.0,40.3 L34.5,38.7 L37.0,37.7 L40.0,37.0Z M39.4,39.5 L37.5,40.1 L35.6,41.0 L34.3,42.0 L33.1,43.5 L32.5,45.0 L32.5,46.0 L33.1,47.5 L34.1,48.5 L35.5,49.3 L37.5,49.9 L39.5,50.2 L41.5,50.1 L43.5,49.6 L45.5,48.9 L47.1,48.0 L48.7,46.5 L49.5,45.0 L49.7,43.5 L49.2,42.0 L48.0,40.7 L46.0,39.7 L44.0,39.3 L41.5,39.2 L39.4,39.5Z" fill="#3876ff" fill-rule="evenodd"/><path d="M42.0,33.5 L46.5,33.5 L50.0,34.2 L53.0,35.4 L55.5,37.1 L56.5,38.3 L57.2,39.5 L57.6,40.5 L57.8,42.0 L57.3,44.5 L55.9,47.0 L53.5,49.4 L50.5,51.3 L46.5,52.9 L42.5,53.8 L38.5,54.0 L34.5,53.6 L30.7,52.5 L29.0,51.8 L27.8,51.0 L26.8,50.0 L25.9,48.5 L25.3,47.0 L25.1,45.5 L25.3,44.0 L25.7,42.5 L27.3,40.0 L28.5,38.7 L30.0,37.5 L33.5,35.5 L37.5,34.2 L42.0,33.5Z M40.0,37.0 L37.0,37.7 L34.5,38.7 L32.0,40.3 L30.4,42.0 L29.3,44.0 L29.1,46.0 L29.7,48.0 L31.0,49.5 L33.0,50.8 L35.5,51.6 L38.0,52.0 L41.0,52.0 L44.0,51.5 L47.0,50.5 L49.5,49.1 L51.4,47.5 L52.8,45.5 L53.3,43.5 L53.0,41.5 L52.5,40.5 L51.6,39.5 L49.5,38.1 L46.5,37.1 L43.5,36.8 L40.0,37.0Z M20.5,55.9 L21.5,55.9 L22.0,56.2 L22.5,57.0 L22.4,58.0 L21.5,59.5 L20.0,60.8 L18.5,61.6 L17.0,61.9 L15.9,61.5 L15.5,61.0 L15.5,60.0 L16.3,58.5 L18.0,56.9 L19.5,56.2 L20.5,55.9Z" fill="#38adff" fill-rule="evenodd"/><path d="M39.0,23.5 L41.5,23.3 L44.5,23.4 L47.5,23.8 L50.0,24.4 L52.5,25.4 L55.0,26.6 L57.5,28.2 L59.7,30.0 L61.5,31.9 L62.7,33.5 L63.7,35.5 L64.4,37.5 L64.6,39.5 L64.4,41.5 L63.8,43.5 L62.8,45.5 L60.8,48.0 L57.8,50.5 L54.5,52.5 L50.5,54.2 L45.5,55.6 L40.5,56.2 L36.0,56.1 L29.5,55.2 L27.5,55.4 L26.0,56.2 L22.8,60.0 L20.0,62.0 L18.5,62.7 L17.0,63.1 L15.5,63.0 L14.5,62.5 L14.0,62.0 L13.8,61.0 L14.0,60.0 L14.7,58.5 L16.5,56.3 L20.7,53.0 L21.4,52.0 L21.4,50.5 L20.3,47.5 L19.7,45.5 L19.6,42.5 L20.0,40.5 L20.8,38.0 L23.0,33.6 L24.5,31.4 L26.0,29.7 L27.5,28.3 L29.5,26.8 L31.9,25.5 L34.0,24.6 L36.5,23.9 L39.0,23.5Z M41.7,33.5 L37.0,34.3 L33.0,35.7 L29.5,37.8 L27.3,40.0 L25.7,42.5 L25.3,44.0 L25.1,45.5 L25.3,47.0 L25.9,48.5 L26.8,50.0 L27.8,51.0 L29.0,51.8 L30.7,52.5 L34.5,53.6 L38.5,54.0 L42.5,53.8 L46.5,52.9 L50.5,51.3 L53.5,49.4 L55.9,47.0 L57.3,44.5 L57.8,42.0 L57.6,40.5 L57.2,39.5 L56.5,38.3 L55.5,37.1 L53.0,35.4 L49.5,34.1 L45.5,33.5 L41.7,33.5Z M20.1,56.0 L18.0,56.9 L16.3,58.5 L15.5,60.0 L15.5,61.0 L15.9,61.5 L17.0,61.9 L18.5,61.6 L20.0,60.8 L21.5,59.5 L22.4,58.0 L22.5,57.0 L22.3,56.5 L21.5,55.9 L20.1,56.0Z" fill="#38ecff" fill-rule="evenodd"/><path d="M38.0,14.0 L42.0,13.8 L46.0,14.0 L50.0,14.5 L53.5,15.4 L57.0,16.6 L60.1,18.0 L63.4,20.0 L66.0,22.0 L68.5,24.5 L70.4,27.0 L72.0,30.0 L73.1,33.0 L73.7,36.0 L73.7,38.5 L73.1,41.5 L72.1,44.0 L69.9,47.5 L68.0,49.5 L66.2,51.0 L62.0,53.7 L56.5,56.1 L50.0,57.9 L43.5,58.8 L37.5,59.0 L30.5,58.4 L28.5,58.5 L26.5,59.1 L21.5,62.4 L19.0,63.6 L16.0,64.2 L14.0,63.9 L13.0,63.3 L12.5,62.5 L12.2,61.5 L12.3,60.5 L12.9,58.5 L15.4,54.0 L15.6,52.5 L15.2,51.5 L13.0,48.0 L12.1,46.0 L11.2,42.5 L10.9,39.0 L10.9,36.0 L11.3,33.5 L11.9,31.0 L12.8,29.0 L14.5,26.0 L16.6,23.5 L19.3,21.0 L22.5,18.8 L26.0,17.0 L30.0,15.5 L34.0,14.5 L38.0,14.0Z M38.7,23.5 L36.1,24.0 L34.0,24.6 L31.9,25.5 L29.5,26.8 L27.5,28.3 L26.0,29.7 L24.5,31.4 L23.0,33.6 L20.8,38.0 L20.0,40.5 L19.6,42.5 L19.7,45.5 L20.3,47.5 L21.4,50.5 L21.4,52.0 L20.7,53.0 L16.5,56.3 L14.7,58.5 L14.0,60.0 L13.8,61.0 L14.0,62.0 L14.5,62.5 L15.5,63.0 L17.0,63.1 L18.5,62.7 L20.0,62.0 L22.8,60.0 L26.0,56.2 L27.5,55.4 L29.5,55.2 L36.0,56.1 L40.5,56.2 L45.5,55.6 L50.5,54.2 L54.5,52.5 L57.8,50.5 L60.8,48.0 L62.8,45.5 L63.8,43.5 L64.4,41.5 L64.6,39.5 L64.4,37.5 L63.7,35.5 L62.7,33.5 L61.1,31.5 L59.5,29.8 L57.5,28.2 L55.0,26.6 L52.5,25.4 L50.0,24.4 L47.5,23.8 L44.5,23.4 L41.5,23.3 L38.7,23.5Z" fill="#38ffd4" fill-rule="evenodd"/><path d="M38.0,5.0 L43.0,4.8 L48.5,5.2 L53.5,6.0 L58.5,7.2 L63.0,8.8 L67.5,10.9 L71.5,13.3 L75.0,16.0 L78.0,19.0 L80.7,22.5 L82.6,26.0 L84.1,30.0 L84.9,34.0 L85.0,38.0 L84.5,41.5 L83.3,45.0 L82.0,47.5 L80.6,49.5 L78.8,51.5 L76.4,53.5 L74.0,55.1 L71.0,56.7 L67.8,58.0 L64.0,59.2 L55.9,61.0 L47.0,62.0 L39.0,62.3 L29.0,61.8 L27.0,61.8 L25.0,62.3 L20.0,64.3 L17.5,65.1 L14.5,65.3 L12.5,64.9 L11.2,64.0 L10.3,62.5 L10.1,61.0 L10.0,58.0 L9.5,56.7 L8.5,55.6 L5.4,53.0 L3.2,50.5 L1.4,47.5 L0.0,44.0 L-0.9,40.0 L-1.2,35.5 L-0.6,31.0 L0.7,27.0 L1.9,24.5 L3.1,22.5 L6.3,18.5 L10.5,14.7 L15.0,11.7 L20.0,9.2 L25.5,7.2 L31.5,5.8 L38.0,5.0Z M37.7,14.0 L33.5,14.6 L29.5,15.7 L25.5,17.2 L22.2,19.0 L19.3,21.0 L16.6,23.5 L14.5,26.0 L12.8,29.0 L11.9,31.0 L11.3,33.5 L10.9,36.0 L10.9,39.0 L11.2,42.5 L12.1,46.0 L13.0,48.0 L15.2,51.5 L15.6,52.5 L15.4,54.0 L12.9,58.5 L12.3,60.5 L12.2,61.5 L12.5,62.5 L13.0,63.3 L14.0,63.9 L16.0,64.2 L19.0,63.6 L21.5,62.4 L26.5,59.1 L28.5,58.5 L30.5,58.4 L37.5,59.0 L43.5,58.8 L50.0,57.9 L56.5,56.1 L62.0,53.7 L66.2,51.0 L68.0,49.5 L69.9,47.5 L72.1,44.0 L73.1,41.5 L73.7,38.5 L73.7,36.0 L73.1,33.0 L72.0,30.0 L70.4,27.0 L68.5,24.5 L66.0,22.0 L63.0,19.7 L60.0,18.0 L56.5,16.4 L53.0,15.2 L49.5,14.4 L45.5,13.9 L41.5,13.8 L37.7,14.0Z" fill="#38ff8e" fill-rule="evenodd"/><path d="M-1.5,-2.0 L116.0,-2.0 L114.4,1.0 L113.0,4.0 L111.9,7.0 L110.9,10.5 L110.3,13.5 L109.9,17.0 L109.9,20.0 L110.0,23.5 L110.9,29.0 L112.5,34.6 L113.9,38.0 L115.3,41.0 L121.0,51.0 L121.7,53.0 L121.7,54.0 L121.5,55.0 L120.4,56.5 L117.9,58.0 L115.0,59.0 L110.2,60.0 L102.5,60.8 L84.0,61.9 L61.2,64.5 L51.0,65.3 L39.0,65.6 L25.0,65.1 L22.5,65.3 L16.5,66.5 L13.5,66.7 L12.0,66.5 L10.5,66.0 L6.5,63.5 L5.0,62.9 L2.5,62.4 L-2.0,62.0 L-2.0,-2.0 L-1.5,-2.0Z M37.5,5.0 L31.5,5.8 L25.5,7.2 L20.0,9.2 L14.5,12.0 L10.0,15.1 L6.0,18.8 L2.8,23.0 L0.7,27.0 L-0.6,31.0 L-1.2,35.5 L-0.9,40.0 L0.0,44.0 L1.4,47.5 L3.2,50.5 L5.4,53.0 L8.5,55.6 L9.5,56.7 L10.0,58.0 L10.1,61.0 L10.3,62.5 L11.2,64.0 L12.5,64.9 L14.5,65.3 L17.5,65.1 L20.0,64.3 L25.0,62.3 L27.0,61.8 L29.0,61.8 L39.0,62.3 L47.0,62.0 L56.0,61.0 L60.5,60.1 L64.5,59.1 L68.0,57.9 L71.4,56.5 L74.2,55.0 L76.5,53.5 L78.8,51.5 L80.6,49.5 L82.3,47.0 L83.5,44.5 L84.6,41.0 L85.0,37.0 L84.8,33.5 L83.9,29.5 L82.4,25.5 L80.4,22.0 L77.6,18.5 L74.5,15.5 L71.0,12.9 L67.0,10.6 L63.0,8.8 L58.0,7.1 L53.0,5.9 L48.0,5.1 L42.5,4.8 L37.5,5.0Z" fill="#38ff50" fill-rule="evenodd"/><path d="M116.0,-1.9 L177.0,-2.0 L177.0,40.8 L174.5,41.3 L172.5,42.3 L170.5,43.9 L169.2,45.5 L168.0,47.5 L166.9,50.0 L165.2,57.0 L164.5,59.0 L163.2,61.0 L161.5,62.3 L158.5,63.5 L154.5,64.1 L121.0,66.2 L107.0,66.8 L78.5,67.3 L50.0,68.6 L35.5,68.6 L22.0,67.9 L12.0,68.4 L4.5,67.5 L-2.0,67.3 L-2.0,62.0 L2.5,62.4 L5.0,62.9 L6.5,63.5 L10.5,66.0 L12.0,66.5 L13.5,66.7 L16.5,66.5 L22.5,65.3 L25.0,65.1 L37.5,65.6 L47.5,65.5 L60.5,64.6 L84.5,61.9 L106.5,60.5 L110.2,60.0 L114.0,59.3 L116.7,58.5 L119.0,57.5 L120.4,56.5 L121.2,55.5 L121.7,54.0 L121.6,52.5 L120.3,49.5 L115.1,40.5 L112.8,35.5 L111.8,32.5 L110.9,29.0 L110.2,25.5 L109.9,22.0 L109.9,18.5 L110.1,15.5 L111.2,9.5 L113.2,3.5 L116.0,-1.9Z" fill="#57ff38" fill-rule="evenodd"/><path d="M176.0,40.9 L177.0,40.8 L177.0,53.9 L176.0,54.4 L175.0,55.5 L174.0,57.4 L172.3,61.5 L171.4,63.0 L170.1,64.5 L168.2,66.0 L166.4,67.0 L164.0,67.9 L161.0,68.6 L154.0,69.3 L117.0,70.7 L76.5,71.2 L48.5,72.0 L35.0,71.9 L24.0,70.7 L20.0,70.5 L7.5,71.2 L-2.0,71.3 L-2.0,67.3 L4.5,67.5 L12.0,68.4 L22.0,67.9 L35.0,68.6 L47.5,68.6 L79.0,67.2 L105.0,66.8 L115.9,66.5 L152.0,64.3 L157.0,63.8 L159.0,63.4 L161.0,62.6 L162.5,61.6 L163.5,60.6 L164.5,59.0 L165.0,57.6 L166.3,52.0 L167.1,49.5 L168.8,46.0 L170.4,44.0 L172.0,42.6 L174.0,41.5 L176.0,40.9Z" fill="#96ff38" fill-rule="evenodd"/><path d="M177.0,53.9 L177.0,69.2 L174.0,69.8 L165.5,73.2 L160.0,74.4 L154.0,74.9 L114.5,76.6 L42.0,77.4 L38.5,77.3 L36.0,76.9 L28.1,74.5 L25.0,73.8 L22.0,73.4 L19.0,73.3 L16.0,73.5 L13.2,74.0 L3.5,76.6 L-2.0,77.0 L-2.0,71.3 L7.5,71.2 L20.0,70.5 L24.0,70.7 L35.0,71.9 L48.0,72.0 L76.5,71.2 L116.0,70.8 L153.5,69.3 L159.5,68.9 L162.5,68.3 L165.2,67.5 L167.5,66.4 L169.6,65.0 L171.0,63.5 L172.1,62.0 L174.2,57.0 L175.0,55.4 L176.0,54.4 L177.0,53.9Z" fill="#c8f83c" fill-rule="evenodd"/><path d="M175.5,69.4 L177.0,69.2 L177.0,132.5 L-2.0,132.5 L-2.0,77.0 L3.5,76.6 L13.2,74.0 L16.5,73.5 L19.5,73.3 L22.5,73.5 L25.5,73.9 L28.5,74.6 L35.5,76.8 L38.0,77.2 L40.5,77.4 L107.5,76.7 L124.0,76.3 L154.5,74.8 L160.0,74.4 L165.5,73.2 L173.5,70.0 L175.5,69.4Z M16.7,78.0 L15.0,78.5 L13.1,79.5 L12.0,80.5 L11.0,82.0 L10.7,83.5 L10.8,85.5 L11.4,87.0 L12.5,88.5 L14.0,89.8 L15.5,90.6 L17.5,91.3 L19.5,91.6 L21.5,91.5 L23.5,91.0 L25.5,90.1 L27.0,89.0 L28.5,87.0 L29.0,86.0 L29.3,84.5 L29.1,82.5 L28.7,81.5 L27.9,80.5 L25.9,79.0 L23.0,78.0 L20.0,77.7 L16.7,78.0Z" fill="#f6f23a" fill-rule="evenodd"/><path d="M17.0,78.0 L20.5,77.7 L23.5,78.1 L26.0,79.0 L27.9,80.5 L28.7,81.5 L29.1,82.5 L29.3,84.5 L29.0,86.0 L28.5,87.0 L27.0,89.0 L25.5,90.1 L23.5,91.0 L21.5,91.5 L19.5,91.6 L17.5,91.3 L15.5,90.6 L14.0,89.8 L12.5,88.5 L11.4,87.0 L10.8,85.5 L10.7,83.5 L11.0,82.0 L12.0,80.5 L13.1,79.5 L15.0,78.5 L17.0,78.0Z" fill="#fcc83e" fill-rule="evenodd"/><path d="M176.1,139.0 L183.5,136.9 M163.4,139.0 L183.5,133.3 M150.6,139.0 L183.5,129.7 M137.5,139.0 L183.5,126.1 M124.1,139.0 L183.5,122.6 M110.5,139.0 L183.5,119.0 M96.8,139.0 L183.5,115.4 M83.2,139.0 L105.0,132.8 L183.5,111.9 M70.1,139.0 L82.5,135.2 L97.0,131.1 L152.5,116.7 L183.5,108.3 M57.6,139.0 L72.0,134.2 L89.0,129.3 L151.0,113.5 L183.5,104.8 M46.0,139.0 L63.0,132.9 L81.5,127.3 L98.5,122.9 L149.5,110.3 L183.5,101.2 M35.4,139.0 L45.0,135.0 L54.5,131.4 L64.5,128.1 L75.0,125.0 L93.5,120.2 L147.5,107.2 L183.5,97.7 M25.6,139.0 L36.5,134.0 L47.0,129.7 L57.5,126.0 L68.5,122.6 L88.0,117.6 L146.5,103.9 L183.5,94.1 M16.6,139.0 L29.5,132.6 L40.5,127.7 L51.5,123.5 L63.0,119.9 L83.0,114.7 L144.5,100.8 L161.5,96.5 L183.5,90.6 M8.2,139.0 L23.5,130.9 L35.5,125.2 L46.5,120.7 L58.0,116.9 L67.0,114.4 L78.0,111.8 L121.5,102.5 L143.0,97.6 L160.5,93.2 L183.5,87.0 M0.2,139.0 L18.5,128.8 L31.0,122.4 L42.0,117.6 L53.5,113.7 L62.5,111.2 L73.0,108.7 L117.5,99.7 L141.0,94.5 L159.0,90.1 L183.5,83.5 M-7.5,139.0 L16.0,125.4 L28.0,118.9 L39.0,113.9 L49.9,110.0 L58.5,107.6 L68.5,105.4 L113.5,96.8 L139.0,91.5 L158.0,86.9 L183.5,79.9 M-8.0,135.0 L16.5,120.3 L27.0,114.3 L37.0,109.6 L47.0,106.0 L55.0,103.8 L64.0,101.8 L108.5,94.1 L136.0,88.6 L156.5,83.8 L183.5,76.4 M-8.0,130.6 L17.5,114.6 L26.5,109.2 L35.5,104.8 L44.5,101.5 L51.5,99.7 L59.5,98.1 L103.5,91.3 L132.5,85.8 L155.0,80.7 L183.5,72.8 M-8.0,126.1 L19.0,108.2 L26.0,103.8 L34.0,99.7 L41.5,96.9 L47.2,95.5 L54.0,94.2 L97.5,88.5 L112.5,86.1 L128.0,83.2 L143.0,80.1 L154.5,77.5 L183.5,69.3 M-8.0,121.6 L3.1,114.0 L25.5,97.8 L32.0,94.2 L38.0,91.9 L43.5,90.7 L50.0,89.7 L78.5,87.0 L94.5,85.2 L108.0,83.2 L122.0,80.9 L139.5,77.5 L154.0,74.3 L159.5,72.8 L171.5,68.9 L183.5,65.7 M-8.0,117.0 L-0.3,111.5 L6.8,106.0 L25.5,90.3 L29.5,87.8 L33.5,86.2 L37.5,85.3 L42.5,84.7 L67.5,83.8 L83.5,82.6 L98.0,81.0 L113.5,78.8 L134.0,75.1 L155.0,70.8 L159.0,69.7 L164.5,67.4 L168.5,66.1 L183.5,62.1 M52.7,55.0 L53.5,55.0 M76.4,54.9 L77.7,55.0 M46.2,55.5 L46.5,55.5 M85.0,55.5 L85.6,55.5 M41.7,56.0 L42.1,55.9 M91.0,56.0 L91.4,56.0 M96.0,56.5 L96.4,56.5 M100.5,57.0 L100.7,57.0 M32.5,57.5 L32.5,57.5 M104.5,57.5 L104.7,57.5 M107.9,57.9 L108.4,58.0 M158.6,66.6 L159.5,65.6 L160.5,65.0 L164.4,63.5 L171.4,61.5 L183.5,58.5 M111.4,58.4 L111.9,58.5 M26.4,59.0 L26.6,58.9 M115.0,59.0 L115.3,59.0 M121.5,60.0 L121.5,60.0 M124.5,60.5 L124.5,60.5 M19.5,61.5 L19.5,61.5 M130.0,61.5 L130.2,61.5 M135.5,62.5 L135.7,62.5 M141.0,63.5 L141.0,63.5 M143.5,64.0 L143.6,64.0 M154.0,66.0 L154.1,66.0 M13.5,66.5 L13.5,66.5 M150.5,68.5 L150.6,68.5 M148.0,69.0 L148.1,69.0 M145.5,69.5 L145.5,69.5 M135.0,71.5 L135.2,71.5 M132.5,72.0 L132.5,72.0 M129.4,72.6 L129.8,72.5 M127.0,73.0 L127.0,73.0 M20.9,73.5 L21.1,73.6 M124.0,73.5 L124.2,73.5 M120.9,74.1 L121.3,74.0 M117.9,74.6 L118.3,74.5 M-8.0,112.3 L-1.0,107.0 L4.9,102.0 L10.3,97.0 L14.6,92.5 L18.7,87.5 L21.7,83.0 L24.2,78.0 L25.1,75.5 L25.0,75.0 M115.0,75.0 L115.2,75.0 M26.9,75.5 L27.0,75.5 M111.4,75.6 L111.9,75.5 M28.9,76.0 L29.0,76.0 M108.5,76.0 L108.5,76.0 M104.4,76.6 L104.9,76.5 M33.4,77.0 L33.5,77.0 M101.0,77.0 L101.1,77.0 M36.2,77.5 L36.6,77.6 M96.4,77.6 L96.9,77.5 M92.0,78.0 L92.3,78.0 M43.6,78.5 L44.1,78.6 M86.5,78.5 L86.9,78.5 M49.0,79.0 L49.5,79.0 M78.9,79.1 L80.1,79.0 M60.4,79.5 L67.4,79.5 M-8.0,106.6 L-0.7,100.5 L4.9,95.0 L9.1,90.0 L12.3,85.0 L13.6,81.5 L14.1,78.5 L13.9,75.5 L12.1,68.5 L12.3,66.5 L13.2,64.5 L15.5,62.2 L18.5,60.3 L23.0,58.3 L28.5,56.5 L38.5,54.4 L50.0,52.9 L62.5,52.3 L76.5,52.3 L89.0,52.9 L102.0,54.1 L116.5,55.7 L144.0,59.5 L150.0,60.1 L154.0,60.2 L157.5,60.0 L161.0,59.4 L183.5,54.2 M-8.0,100.8 L-3.0,96.2 L1.0,92.0 L4.3,88.0 L6.8,84.0 L8.2,81.0 L9.3,77.5 L10.5,67.0 L11.2,65.0 L12.5,63.0 L15.2,60.5 L19.0,58.2 L24.0,56.0 L30.0,54.1 L39.5,52.1 L50.0,50.7 L62.0,49.8 L75.0,49.6 L86.0,49.9 L97.5,50.6 L111.0,51.8 L140.0,54.7 L147.0,55.2 L152.5,55.3 L157.5,55.0 L163.0,54.2 L183.5,50.0 M-8.0,94.9 L-1.9,88.5 L0.5,85.4 L2.7,82.0 L5.5,76.3 L8.8,66.0 L10.2,63.5 L11.7,61.5 L15.0,58.6 L19.5,56.0 L25.0,53.7 L32.0,51.6 L41.0,49.6 L51.0,48.2 L62.5,47.3 L74.5,47.0 L95.0,47.4 L137.5,50.5 L145.5,50.8 L152.0,50.7 L158.0,50.3 L164.5,49.4 L183.5,45.8 M-8.0,88.9 L-4.0,84.4 L-0.5,79.6 L2.1,75.0 L7.2,64.5 L8.9,62.0 L11.2,59.5 L15.5,56.2 L20.5,53.5 L26.5,51.1 L34.0,48.9 L42.5,47.1 L52.5,45.7 L63.0,44.8 L74.5,44.3 L85.0,44.2 L97.0,44.5 L138.0,46.5 L151.0,46.4 L157.5,45.9 L164.5,45.1 L183.5,41.6 M-8.0,82.9 L-2.5,75.9 L6.0,62.5 L8.5,59.5 L11.0,57.1 L15.5,53.9 L21.5,50.9 L28.5,48.3 L36.0,46.2 L44.5,44.5 L54.0,43.1 L64.0,42.2 L75.0,41.6 L96.0,41.4 L136.0,42.6 L150.5,42.3 L157.5,41.7 L165.0,40.7 L183.5,37.4 M-8.0,77.2 L-4.5,72.8 L4.3,61.0 L7.6,57.5 L11.5,54.2 L17.0,50.8 L23.0,48.0 L30.0,45.6 L38.0,43.4 L46.5,41.8 L55.5,40.4 L65.0,39.5 L75.5,38.8 L95.5,38.4 L134.5,38.8 L149.5,38.2 L157.0,37.6 L165.0,36.6 L183.5,33.3 M-8.0,66.0 L-1.4,59.0 L3.4,54.5 L8.0,50.8 L13.0,47.6 L19.0,44.5 L26.0,41.7 L33.5,39.3 L42.0,37.2 L49.5,35.7 L58.0,34.4 L76.5,32.5 L94.5,31.6 L132.0,30.5 L148.5,29.5 L165.0,27.5 L183.5,24.3 M-8.0,56.8 L-1.7,51.5 L3.6,47.5 L9.1,44.0 L15.0,40.8 L21.5,37.9 L28.5,35.3 L36.5,32.9 L45.0,30.9 L60.0,28.2 L77.5,26.0 L94.0,24.7 L131.0,22.5 L148.5,20.9 L165.5,18.5 L183.5,15.3 M-8.0,48.8 L-1.5,44.1 L4.3,40.5 L10.0,37.3 L16.5,34.2 L23.5,31.3 L30.5,28.9 L38.5,26.6 L47.0,24.5 L61.5,21.8 L78.0,19.4 L94.0,17.8 L130.5,14.5 L148.5,12.4 L165.5,9.8 L183.5,6.5 M-8.0,41.2 L-1.5,37.2 L5.0,33.5 L11.5,30.3 L18.0,27.4 L25.0,24.8 L32.5,22.3 L40.0,20.1 L48.5,18.1 L63.0,15.1 L79.0,12.6 L130.5,6.5 L149.0,4.0 L166.0,1.2 L183.5,-2.2 M-8.0,33.9 L5.0,26.9 L11.5,23.9 L18.5,21.0 L33.0,15.9 L49.5,11.5 L62.5,8.7 L77.5,6.0 L138.5,-2.6 L154.0,-5.1 L169.6,-8.0 M-8.0,26.7 L4.2,20.5 L16.5,15.3 L29.0,10.8 L43.0,6.7 L57.5,3.1 L74.0,-0.2 L91.5,-3.3 L121.8,-8.0 M-8.0,19.4 L1.5,14.9 L11.0,10.8 L20.5,7.1 L30.5,3.7 L41.0,0.6 L52.5,-2.4 L64.5,-5.2 L78.1,-8.0 M-8.0,12.2 L5.0,6.4 L18.5,1.1 L32.5,-3.6 L47.6,-8.0 M-8.0,4.9 L8.0,-1.9 L24.8,-8.0 M-8.0,-2.4 L5.5,-8.0" fill="none" stroke="#111" stroke-width="0.9" stroke-linejoin="round"/><path d="M159.0,135.2 L163.2,131.8 L157.9,131.1 M158.8,131.6 L163.1,128.3 L157.7,127.6 M158.6,128.0 L162.9,124.7 L157.5,124.0 M123.9,133.7 L128.2,130.4 L122.8,129.7 M158.4,124.5 L162.7,121.1 L157.3,120.4 M123.7,130.0 L128.0,126.7 L122.6,126.0 M158.2,120.9 L162.5,117.6 L157.2,116.9 M89.0,135.5 L93.3,132.1 L87.9,131.4 M123.5,126.4 L127.8,123.1 L122.4,122.3 M158.1,117.4 L162.4,114.1 L157.0,113.3 M88.8,131.5 L93.1,128.2 L87.7,127.5 M123.3,122.7 L127.6,119.4 L122.3,118.6 M157.9,113.8 L162.2,110.5 L156.8,109.8 M88.5,127.6 L92.9,124.3 L87.5,123.5 M123.1,119.0 L127.4,115.8 L122.1,114.9 M157.7,110.3 L162.0,107.0 L156.6,106.3 M54.1,133.8 L58.2,130.2 L52.7,129.8 M88.3,123.7 L92.7,120.4 L87.3,119.6 M122.9,115.4 L127.3,112.2 L121.9,111.3 M157.5,106.8 L161.8,103.5 L156.5,102.7 M53.8,129.4 L57.9,125.8 L52.5,125.4 M88.1,119.7 L92.5,116.5 L87.1,115.6 M122.7,111.7 L127.1,108.5 L121.7,107.6 M157.3,103.3 L161.6,100.0 L156.3,99.2 M53.6,125.0 L57.7,121.5 L52.3,121.0 M87.9,115.7 L92.3,112.6 L86.9,111.6 M122.5,108.1 L126.9,104.9 L121.6,104.0 M157.2,99.8 L161.5,96.5 L156.1,95.7 M19.7,135.2 L23.2,131.0 L17.8,131.4 M53.3,120.5 L57.5,117.0 L52.1,116.5 M87.6,111.8 L92.1,108.7 L86.8,107.7 M122.3,104.5 L126.7,101.3 L121.4,100.4 M157.0,96.3 L161.3,93.0 L155.9,92.3 M19.5,130.6 L23.0,126.4 L17.6,126.9 M53.0,115.9 L57.3,112.5 L51.9,111.9 M87.4,107.8 L91.9,104.8 L86.6,103.7 M122.1,100.9 L126.5,97.8 L121.2,96.8 M156.8,92.9 L161.1,89.6 L155.8,88.8 M19.3,125.9 L22.7,121.7 L17.3,122.2 M52.7,111.3 L57.0,108.0 L51.7,107.2 M87.2,103.9 L91.7,100.9 L86.4,99.8 M121.9,97.3 L126.4,94.2 L121.0,93.2 M156.7,89.4 L161.0,86.1 L155.6,85.4 M19.2,121.1 L22.5,116.8 L17.1,117.4 M52.4,106.5 L56.8,103.4 L51.5,102.4 M86.9,100.0 L91.5,97.1 L86.2,95.8 M121.7,93.7 L126.2,90.7 L120.9,89.6 M156.5,86.0 L160.8,82.7 L155.4,81.9 M19.0,116.0 L22.2,111.7 L16.9,112.4 M52.1,101.7 L56.6,98.7 L51.3,97.5 M86.7,96.1 L91.3,93.2 L86.0,91.9 M121.5,90.2 L126.0,87.2 L120.7,86.1 M156.4,82.6 L160.6,79.3 L155.2,78.6 M18.9,110.7 L22.0,106.3 L16.6,107.2 M51.7,96.7 L56.3,93.9 L51.1,92.5 M86.5,92.2 L91.1,89.4 L85.9,88.0 M121.3,86.7 L125.8,83.7 L120.5,82.5 M156.2,79.3 L160.4,75.9 L155.1,75.3 M18.8,105.0 L21.7,100.4 L16.4,101.6 M51.3,91.6 L56.1,89.1 L50.9,87.4 M86.2,88.3 L90.9,85.6 L85.7,84.2 M121.1,83.2 L125.7,80.2 L120.4,79.0 M156.1,76.0 L160.3,72.5 L154.9,72.0 M18.9,98.5 L21.3,93.7 L16.2,95.3 M50.9,86.5 L55.9,84.2 L50.8,82.3 M86.0,84.5 L90.7,81.9 L85.5,80.3 M120.9,79.7 L125.5,76.7 L120.2,75.6 M156.3,73.1 L160.1,69.2 L154.7,69.2 M157.0,69.9 L159.9,65.3 L154.6,66.4 M20.0,89.7 L20.9,84.3 L16.4,87.4 M-1.7,104.3 L0.5,99.3 L-4.5,101.2 M35.0,57.0 L39.6,54.2 L34.3,52.9 M65.0,54.3 L70.0,52.2 L65.0,50.1 M92.0,55.2 L97.2,53.6 L92.4,51.0 M121.2,58.5 L126.5,57.1 L121.8,54.3 M153.8,62.7 L158.4,59.8 L153.2,58.5 M0.7,95.7 L2.3,90.5 L-2.5,93.0 M35.4,54.9 L40.0,52.0 L34.7,50.7 M65.5,51.8 L70.5,49.6 L65.5,47.6 M92.6,52.3 L97.8,50.6 L93.0,48.2 M122.0,55.0 L127.2,53.5 L122.5,50.8 M154.8,57.5 L159.5,54.7 L154.2,53.3 M4.8,83.4 L4.8,78.0 L0.9,81.7 M35.9,52.7 L40.5,49.7 L35.2,48.6 M66.0,49.2 L71.0,47.0 L66.0,45.0 M93.3,49.4 L98.4,47.6 L93.5,45.2 M122.8,51.5 L127.9,49.8 L123.1,47.3 M155.7,52.7 L160.4,50.0 L155.2,48.5 M6.7,69.2 L7.6,63.9 L3.2,67.0 M36.4,50.4 L40.9,47.4 L35.6,46.3 M66.6,46.6 L71.5,44.4 L66.5,42.4 M93.9,46.5 L99.0,44.6 L94.1,42.3 M123.6,48.0 L128.7,46.1 L123.8,43.8 M156.6,48.2 L161.3,45.5 L156.1,44.1 M6.5,64.5 L8.5,59.5 L3.5,61.6 M36.9,48.1 L41.4,45.0 L36.1,43.9 M67.2,44.0 L72.1,41.7 L67.0,39.8 M94.6,43.5 L99.6,41.5 L94.7,39.3 M124.4,44.4 L129.4,42.5 L124.5,40.2 M157.5,43.9 L162.2,41.1 L157.0,39.7 M6.8,60.9 L9.2,56.0 L4.0,57.7 M37.4,45.7 L41.9,42.6 L36.6,41.5 M67.7,41.3 L72.6,39.0 L67.5,37.1 M95.2,40.5 L100.2,38.4 L95.2,36.3 M125.1,40.9 L130.2,38.8 L125.2,36.7 M158.4,39.6 L163.0,36.8 L157.8,35.4 M7.5,53.5 L10.6,49.1 L5.2,50.0 M38.6,40.0 L43.0,37.0 L37.7,35.9 M69.0,35.2 L73.9,32.7 L68.7,31.0 M96.7,33.6 L101.6,31.4 L96.6,29.4 M126.9,32.8 L131.8,30.5 L126.7,28.6 M160.3,30.3 L164.9,27.5 L159.7,26.1 M8.5,46.6 L11.9,42.4 L6.5,42.9 M39.8,34.2 L44.2,31.0 L38.9,30.1 M70.4,28.9 L75.2,26.3 L70.0,24.7 M98.2,26.5 L103.1,24.2 L98.0,22.3 M128.6,24.8 L133.5,22.3 L128.3,20.6 M162.1,21.2 L166.7,18.3 L161.5,17.1 M9.7,39.7 L13.3,35.7 L7.9,35.9 M41.0,28.0 L45.4,24.9 L40.1,23.9 M71.8,22.3 L76.5,19.6 L71.3,18.2 M99.8,19.3 L104.5,16.8 L99.4,15.1 M130.4,16.6 L135.1,14.0 L129.9,12.4 M164.0,12.3 L168.5,9.3 L163.3,8.1 M10.9,32.8 L14.6,28.9 L9.2,28.9 M42.3,21.7 L46.7,18.5 L41.4,17.6 M73.2,15.6 L77.9,12.8 L72.6,11.4 M101.3,12.0 L106.0,9.3 L100.8,7.8 M132.1,8.4 L136.8,5.7 L131.5,4.3 M165.8,3.4 L170.3,0.4 L165.0,-0.8 M12.2,25.8 L16.0,21.9 L10.6,21.9 M43.7,15.0 L48.0,11.8 L42.7,11.0 M74.6,8.6 L79.3,5.8 L74.0,4.5 M102.9,4.5 L107.6,1.7 L102.3,0.3 M133.8,0.2 L138.4,-2.6 L133.2,-3.9 M13.5,18.7 L17.4,14.9 L12.0,14.7 M45.1,8.3 L49.4,5.0 L44.0,4.2 M76.1,1.5 L80.7,-1.4 L75.4,-2.6 M14.9,11.4 L18.9,7.7 L13.4,7.5 M46.5,1.2 L50.8,-2.0 L45.5,-2.8 M16.3,4.1 L20.3,0.4 L14.9,0.1" fill="none" stroke="#111" stroke-width="0.9" stroke-linejoin="miter"/><path d="M71.7,40.2 L71.7,40.6 L71.7,41.0 L71.6,41.5 L71.5,41.9 L71.3,42.4 L71.0,42.8 L70.7,43.3 L70.3,43.7 L69.9,44.2 L69.4,44.7 L68.9,45.1 L68.3,45.6 L67.6,46.0 L66.9,46.5 L66.2,46.9 L65.4,47.4 L64.6,47.8 L63.7,48.2 L62.8,48.6 L61.9,49.0 L60.9,49.3 L59.9,49.7 L58.9,50.1 L57.8,50.4 L56.7,50.7 L55.6,51.0 L54.5,51.2 L53.4,51.5 L52.2,51.7 L51.1,51.9 L50.0,52.1 L48.8,52.3 L47.7,52.4 L46.5,52.5 L45.4,52.6 L44.3,52.7 L43.2,52.7 L42.1,52.8 L41.1,52.7 L40.0,52.7 L39.0,52.7 L38.1,52.6 L37.1,52.5 L36.2,52.4 L35.3,52.2 L34.5,52.0 L33.7,51.8 L33.0,51.6 L32.3,51.4 L31.7,51.1 L31.1,50.9 L30.5,50.6 L30.1,50.2 L29.6,49.9 L29.3,49.6 L29.0,49.2 L28.7,48.8 L28.5,48.4 L28.4,48.0 L28.3,47.6 L28.3,47.2 L28.3,46.8 L28.4,46.3 L28.6,45.9 L28.8,45.4 L29.1,44.9 L29.5,44.5 L29.9,44.0 L30.3,43.6 L30.8,43.1 L31.4,42.6 L32.0,42.2 L32.7,41.7 L33.4,41.3 L34.2,40.9 L35.0,40.4 L35.8,40.0 L36.7,39.6 L37.6,39.2 L38.6,38.8 L39.6,38.5 L40.6,38.1 L41.7,37.8 L42.7,37.5 L43.8,37.2 L44.9,36.9 L46.1,36.6 L47.2,36.4 L48.3,36.2 L49.5,36.0 L50.6,35.8 L51.8,35.7 L52.9,35.5 L54.0,35.4 L55.2,35.3 L56.3,35.3 L57.3,35.3 L58.4,35.2 L59.5,35.3 L60.5,35.3 L61.5,35.4 L62.4,35.5 L63.3,35.6 L64.2,35.7 L65.1,35.9 L65.9,36.1 L66.6,36.3 L67.4,36.5 L68.0,36.7 L68.6,37.0 L69.2,37.3 L69.7,37.6 L70.2,37.9 L70.6,38.3 L70.9,38.6 L71.2,39.0 L71.4,39.4 L71.6,39.8 L71.7,40.2 M59.8,41.6 L59.8,41.9 L59.8,42.2 L59.8,42.5 L59.7,42.9 L59.6,43.2 L59.4,43.5 L59.2,43.9 L59.0,44.2 L58.7,44.5 L58.4,44.9 L58.1,45.2 L57.7,45.5 L57.3,45.9 L56.9,46.2 L56.4,46.5 L55.9,46.8 L55.4,47.1 L54.9,47.4 L54.3,47.7 L53.7,47.9 L53.1,48.2 L52.4,48.5 L51.8,48.7 L51.1,48.9 L50.4,49.1 L49.7,49.3 L49.0,49.5 L48.3,49.7 L47.6,49.8 L46.9,49.9 L46.1,50.1 L45.4,50.2 L44.7,50.2 L43.9,50.3 L43.2,50.3 L42.5,50.4 L41.8,50.4 L41.1,50.4 L40.5,50.4 L39.8,50.3 L39.1,50.3 L38.5,50.2 L37.9,50.1 L37.3,50.0 L36.8,49.8 L36.3,49.7 L35.7,49.5 L35.3,49.4 L34.8,49.2 L34.4,49.0 L34.0,48.8 L33.7,48.5 L33.4,48.3 L33.1,48.0 L32.8,47.8 L32.6,47.5 L32.5,47.2 L32.3,46.9 L32.2,46.6 L32.2,46.3 L32.2,46.0 L32.2,45.6 L32.3,45.3 L32.4,45.0 L32.5,44.6 L32.7,44.3 L32.9,44.0 L33.1,43.6 L33.4,43.3 L33.7,43.0 L34.1,42.6 L34.5,42.3 L34.9,42.0 L35.3,41.7 L35.8,41.3 L36.3,41.0 L36.9,40.7 L37.4,40.5 L38.0,40.2 L38.6,39.9 L39.2,39.7 L39.9,39.4 L40.5,39.2 L41.2,39.0 L41.9,38.8 L42.6,38.6 L43.3,38.4 L44.1,38.3 L44.8,38.1 L45.5,38.0 L46.2,37.9 L47.0,37.8 L47.7,37.7 L48.4,37.7 L49.1,37.6 L49.8,37.6 L50.5,37.6 L51.2,37.6 L51.9,37.7 L52.5,37.7 L53.2,37.8 L53.8,37.9 L54.4,38.0 L54.9,38.1 L55.5,38.2 L56.0,38.4 L56.5,38.5 L57.0,38.7 L57.4,38.9 L57.8,39.1 L58.1,39.4 L58.5,39.6 L58.8,39.8 L59.0,40.1 L59.3,40.4 L59.5,40.7 L59.6,41.0 L59.7,41.3 L59.8,41.6" fill="none" stroke="#111" stroke-width="0.85"/><path d="M65.1,45.8 L62.0,48.9 L66.4,49.0 M30.1,45.5 L32.5,41.9 L28.2,42.6 " fill="none" stroke="#111" stroke-width="0.9"/><path d="M50.8,43.3 L50.9,43.9 L50.9,44.6 L50.7,45.3 L50.5,45.9 L50.2,46.6 L49.8,47.2 L49.4,47.8 L48.9,48.4 L48.3,49.0 L47.6,49.5 L46.9,49.9 L46.1,50.4 L45.3,50.7 L44.5,51.1 L43.6,51.3 L42.7,51.5 L41.8,51.7 L40.9,51.8 L40.0,51.8 L39.2,51.8 L38.3,51.7 L37.5,51.5 L36.7,51.3 L35.9,51.1 L35.2,50.7 L34.5,50.4 L34.0,50.0 L33.4,49.5 L33.0,49.0 L32.6,48.5 L32.3,47.9 L32.1,47.4 L31.9,46.8 L31.9,46.1 L31.9,45.5 L32.0,44.9 L32.1,44.3 L32.4,43.7 L32.7,43.1 L33.1,42.5 L33.6,42.0 L34.2,41.5 L34.7,41.0 L35.4,40.5 L36.1,40.1 L36.8,39.8 L37.6,39.5 L38.4,39.2 L39.2,39.0 L40.0,38.9 L40.9,38.8 L41.7,38.7 L42.5,38.7 L43.3,38.8 L44.1,38.9 L44.8,39.1 L45.5,39.4 L46.2,39.6 L46.8,40.0 L47.4,40.3 L47.9,40.7 L48.3,41.2 L48.7,41.7 L48.9,42.2 L49.2,42.7 L49.3,43.2 L49.4,43.8 L49.4,44.4 L49.3,44.9 L49.2,45.5 L49.0,46.1 L48.7,46.6 L48.3,47.1 L47.9,47.6 L47.4,48.1 L46.9,48.6 L46.3,49.0 L45.7,49.4 L45.0,49.7 L44.3,50.0 L43.6,50.2 L42.8,50.4 L42.1,50.6 L41.3,50.7 L40.6,50.7 L39.8,50.7 L39.1,50.7 L38.4,50.6 L37.7,50.4 L37.0,50.2 L36.4,50.0 L35.8,49.7 L35.3,49.3 L34.9,49.0 L34.4,48.6 L34.1,48.1 L33.8,47.7 L33.6,47.2 L33.4,46.7 L33.4,46.2 L33.3,45.7 L33.4,45.2 L33.5,44.7 L33.7,44.2 L33.9,43.7 L34.3,43.2 L34.6,42.7 L35.1,42.3 L35.5,41.9 L36.1,41.5 L36.6,41.1 L37.2,40.8 L37.8,40.5 L38.5,40.3 L39.2,40.1 L39.8,40.0 L40.5,39.9 L41.2,39.8 L41.9,39.8 L42.6,39.8 L43.2,39.9 L43.9,40.1 L44.5,40.2 L45.0,40.4 L45.5,40.7 L46.0,41.0 L46.5,41.3 L46.8,41.7 L47.2,42.1 L47.4,42.5 L47.7,42.9 L47.8,43.3 L47.9,43.8 L47.9,44.2 L47.9,44.7 L47.8,45.2 L47.6,45.6 L47.4,46.1 L47.2,46.5 L46.8,47.0 L46.5,47.4 L46.0,47.7 L45.6,48.1 L45.1,48.4 L44.5,48.7 L44.0,49.0 L43.4,49.2 L42.8,49.4 L42.2,49.5 L41.6,49.6 L41.0,49.7 L40.3,49.7 L39.7,49.6 L39.1,49.6 L38.6,49.5 L38.0,49.3 L37.5,49.1 L37.0,48.9 L36.6,48.7 L36.2,48.4 L35.9,48.1 L35.5,47.7 L35.3,47.4 L35.1,47.0 L35.0,46.6 L34.9,46.2 L34.8,45.8 L34.8,45.4 L34.9,44.9 L35.0,44.5 L35.2,44.1 L35.5,43.7 L35.7,43.3 L36.1,43.0 L36.4,42.6 L36.8,42.3 L37.3,42.0 L37.7,41.8 L38.2,41.5 L38.7,41.3 L39.3,41.2 L39.8,41.0 L40.4,40.9 L40.9,40.9 L41.5,40.9 L42.0,40.9 L42.5,40.9 L43.0,41.0 L43.5,41.1 L44.0,41.3 L44.4,41.5 L44.8,41.7 L45.1,42.0 L45.5,42.2 L45.7,42.5 L46.0,42.8 L46.2,43.2 L46.3,43.5 L46.4,43.9 L46.4,44.2 L46.4,44.6 L46.4,45.0 L46.3,45.3 L46.1,45.7 L45.9,46.0 L45.7,46.4 L45.4,46.7 L45.1,47.0 L44.7,47.3 L44.4,47.5 L44.0,47.8 L43.5,48.0 L43.1,48.2 L42.6,48.3 L42.2,48.4 L41.7,48.5 L41.2,48.6 L40.7,48.6 L40.3,48.6 L39.8,48.6 L39.4,48.5 L38.9,48.4 L38.5,48.3 L38.1,48.1 L37.8,47.9 L37.5,47.7 L37.2,47.5 L36.9,47.2 L36.7,46.9 L36.6,46.7 L36.4,46.4 L36.4,46.1 L36.3,45.7 L36.3,45.4 L36.4,45.1 L36.4,44.8 L36.6,44.5 L36.7,44.2 L36.9,43.9 L37.1,43.6 L37.4,43.4 L37.7,43.1 L38.0,42.9 L38.4,42.7 L38.7,42.5 L39.1,42.3 L39.5,42.2 L39.9,42.1 L40.3,42.0 L40.7,42.0 L41.1,41.9 L41.5,41.9 L41.9,42.0 L42.3,42.0 L42.7,42.1 L43.0,42.2 L43.3,42.3 L43.6,42.5 L43.9,42.7 L44.2,42.9 L44.4,43.1 L44.6,43.3 L44.7,43.5 L44.8,43.8 L44.9,44.0 L44.9,44.3 L44.9,44.6 L44.9,44.8 L44.9,45.1 L44.8,45.4 L44.6,45.6 L44.5,45.9 L44.3,46.1 L44.1,46.3 L43.8,46.5 L43.5,46.7 L43.3,46.9 L43.0,47.1 L42.7,47.2 L42.3,47.3 L42.0,47.4 L41.7,47.5 L41.3,47.5 L41.0,47.5 L40.6,47.5 L40.3,47.5 L40.0,47.5 L39.7,47.4 L39.4,47.3 L39.1,47.2 L38.9,47.1 L38.7,46.9 L38.5,46.8 L38.3,46.6 L38.1,46.4 L38.0,46.2 L37.9,46.0 L37.8,45.8 L37.8,45.6 L37.8,45.4 L37.8,45.2 L37.9,45.0 L37.9,44.8 L38.0,44.6 L38.2,44.4 L38.3,44.2 L38.5,44.0 L38.7,43.8 L38.9,43.7 L39.1,43.5 L39.4,43.4 L39.6,43.3 L39.9,43.2 L40.1,43.1 L40.4,43.1 L40.7,43.0 L41.0,43.0 L41.2,43.0 L41.5,43.0 L41.7,43.0 L42.0,43.1 L42.2,43.2 L42.4,43.2 L42.6,43.3 L42.8,43.5 L42.9,43.6 L43.1,43.7 L43.2,43.8 L43.3,44.0 L43.4,44.2 L43.4,44.3 L43.5,44.5 L43.5,44.6 L43.4,44.8 L43.4,45.0 L43.4,45.1 L43.3,45.3 L43.2,45.5 L43.1,45.6 L42.9,45.7 L42.8,45.9 L42.6,46.0 L42.4,46.1 L42.3,46.2 L42.1,46.3 L41.9,46.3 L41.7,46.4 L41.5,46.4 L41.3,46.5 L41.1,46.5 L40.9,46.5 L40.7,46.5 L40.5,46.4 L40.3,46.4 L40.2,46.3 L40.0,46.3 L39.9,46.2 L39.7,46.1 L39.6,46.0 L39.5,45.9 L39.5,45.8 L39.4,45.7 L39.3,45.6 L39.3,45.5 L39.3,45.4 L39.3,45.3 L39.3,45.2 L39.3,45.0 L39.4,44.9 L39.4,44.8 L39.5,44.7 L39.6,44.6 L39.7,44.5 L39.8,44.4 L39.9,44.4 L40.0,44.3 L40.1,44.2 L40.3,44.2 L40.4,44.1 L40.5,44.1 L40.7,44.1 L40.8,44.1 L40.9,44.0 L41.0,44.1 L41.2,44.1 L41.3,44.1 L41.4,44.1 L41.5,44.1 L41.6,44.2 L41.7,44.2 L41.7,44.3 L41.8,44.4 L41.9,44.4 L41.9,44.5 L41.9,44.5 L42.0,44.6 L42.0,44.7 L42.0,44.8 L42.0,44.8" fill="none" stroke="#111" stroke-width="0.9"/><ellipse cx="40" cy="45" rx="7" ry="5" transform="rotate(-10 40 45)" fill="#111" stroke="none" stroke-width="0.8"/><path d="M13.4,67.2 L13.5,66.5 L13.6,65.8 L13.9,65.1 L14.3,64.5 L15.4,63.2 L17.0,61.9 L19.0,60.7 L21.4,59.5 L24.2,58.5 L27.4,57.4 L30.9,56.5 L34.4,55.8 L38.6,55.1 L42.6,54.5 L46.9,54.1 L51.3,53.8 L55.9,53.6 L60.7,53.5 L69.5,53.7 L79.1,54.2 L89.4,55.2 L100.8,56.6 L112.4,58.3 L125.7,60.5 L140.5,63.3 L159.2,66.9 L140.5,70.6 L125.7,73.4 L112.4,75.7 L100.9,77.5 L89.5,78.9 L79.2,79.9 L69.5,80.5 L60.8,80.7 L56.0,80.6 L51.4,80.5 L46.9,80.2 L42.7,79.8 L38.7,79.2 L34.5,78.5 L31.0,77.8 L27.4,76.9 L24.2,75.9 L21.4,74.8 L19.0,73.7 L17.0,72.5 L15.4,71.2 L14.3,69.9 L13.9,69.3 L13.6,68.6 L13.5,67.9 L13.4,67.2Z" fill="#fff" stroke="#222" stroke-width="0.8"/>
</g>
<rect x="0" y="0" width="1" height="130.4" fill="#8c8c8c"/>
<rect x="175.2" y="0" width="0.9" height="130.4" fill="#d4d4dc"/>
<rect x="1" y="130.4" width="175.2" height="0.8" fill="#dcdce4"/>
</g>
<rect x="0" y="1" width="707" height="1.0" fill="#3c3c3c"/>
<rect x="0" y="23.7" width="707" height="1.0" fill="#3c3c3c"/>
<rect x="0" y="156" width="707" height="1.0" fill="#3c3c3c"/>
<rect x="0" y="289" width="707" height="1.0" fill="#3c3c3c"/>
<rect x="0" y="1" width="1.0" height="289" fill="#222"/>
<rect x="706" y="1" width="1.0" height="289" fill="#222"/>
<rect x="129" y="1" width="1.0" height="289" fill="#222"/>
<rect x="321.5" y="1" width="1.0" height="289" fill="#222"/>
<rect x="514" y="1" width="1.0" height="289" fill="#222"/>
<rect x="1" y="301" width="707" height="1.0" fill="#3c3c3c"/>
<rect x="1" y="433" width="707" height="1.0" fill="#3c3c3c"/>
<rect x="1" y="566" width="707" height="1.0" fill="#3c3c3c"/>
<rect x="1" y="625" width="707" height="1.0" fill="#3c3c3c"/>
<rect x="1" y="301" width="1.0" height="325" fill="#222"/>
<rect x="707" y="301" width="1.0" height="325" fill="#222"/>
<rect x="130" y="301" width="1.0" height="265" fill="#222"/>
<rect x="322.5" y="301" width="1.0" height="265" fill="#222"/>
<rect x="515" y="301" width="1.0" height="265" fill="#222"/>
<text x="225.8" y="19.6" font-family='"Liberation Serif", serif' font-size="18.2" text-anchor="middle" fill="#000" stroke="#000" stroke-width="0.25"><tspan font-style="italic" font-size="21">φ</tspan> = 0.225</text>
<text x="418" y="19.6" font-family='"Liberation Serif", serif' font-size="18.2" text-anchor="middle" fill="#000" stroke="#000" stroke-width="0.25"><tspan font-style="italic" font-size="21">φ</tspan> = 0.250</text>
<text x="610.5" y="19.6" font-family='"Liberation Serif", serif' font-size="18.2" text-anchor="middle" fill="#000" stroke="#000" stroke-width="0.25"><tspan font-style="italic" font-size="21">φ</tspan> = 0.275</text>
<text x="9" y="42.2" font-family='"Liberation Serif", serif' font-size="18.2" text-anchor="start" fill="#000" stroke="#000" stroke-width="0.25" >Ref (no SF,</text>
<text x="9" y="63.0" font-family='"Liberation Serif", serif' font-size="18.2" text-anchor="start" fill="#000" stroke="#000" stroke-width="0.25" >with CG)</text>
<text x="9" y="174.6" font-family='"Liberation Serif", serif' font-size="18.2" text-anchor="start" fill="#000" stroke="#000" stroke-width="0.25" >SF &amp; GD = 1%</text>
<text x="9" y="195.8" font-family='"Liberation Serif", serif' font-size="18.2" text-anchor="start" fill="#000" stroke="#000" stroke-width="0.25" >C</text>
<text x="10" y="319.2" font-family='"Liberation Serif", serif' font-size="18.2" text-anchor="start" fill="#000" stroke="#000" stroke-width="0.25" >SF &amp; GD = 3%</text>
<text x="10" y="340.0" font-family='"Liberation Serif", serif' font-size="18.2" text-anchor="start" fill="#000" stroke="#000" stroke-width="0.25" >C</text>
<text x="10" y="451.2" font-family='"Liberation Serif", serif' font-size="18.2" text-anchor="start" fill="#000" stroke="#000" stroke-width="0.25" >SF &amp; GD = 5%</text>
<text x="10" y="472.0" font-family='"Liberation Serif", serif' font-size="18.2" text-anchor="start" fill="#000" stroke="#000" stroke-width="0.25" >C</text>
<rect x="166.20" y="577.1" width="15.35" height="21.2" fill="#0000ff"/>
<rect x="181.50" y="577.1" width="28.80" height="21.2" fill="#0050ff"/>
<rect x="210.25" y="577.1" width="28.80" height="21.2" fill="#0096ff"/>
<rect x="239.00" y="577.1" width="28.80" height="21.2" fill="#00e6ff"/>
<rect x="267.75" y="577.1" width="28.80" height="21.2" fill="#00ffc8"/>
<rect x="296.50" y="577.1" width="28.80" height="21.2" fill="#00ff6e"/>
<rect x="325.25" y="577.1" width="28.80" height="21.2" fill="#00ff1e"/>
<rect x="354.00" y="577.1" width="28.80" height="21.2" fill="#28ff00"/>
<rect x="382.75" y="577.1" width="28.80" height="21.2" fill="#78ff00"/>
<rect x="411.50" y="577.1" width="28.80" height="21.2" fill="#c8ff00"/>
<rect x="440.25" y="577.1" width="28.80" height="21.2" fill="#ffeb00"/>
<rect x="469.00" y="577.1" width="28.80" height="21.2" fill="#ff9600"/>
<rect x="497.75" y="577.1" width="28.80" height="21.2" fill="#ff5000"/>
<rect x="526.50" y="577.1" width="14.65" height="21.2" fill="#ff0000"/>
<text x="181.50" y="614.8" font-family='"Liberation Sans", sans-serif' font-weight="bold" font-size="13.5" text-anchor="middle" fill="#111">-3</text>
<text x="210.25" y="614.8" font-family='"Liberation Sans", sans-serif' font-weight="bold" font-size="13.5" text-anchor="middle" fill="#111">-2.5</text>
<text x="239.00" y="614.8" font-family='"Liberation Sans", sans-serif' font-weight="bold" font-size="13.5" text-anchor="middle" fill="#111">-2</text>
<text x="267.75" y="614.8" font-family='"Liberation Sans", sans-serif' font-weight="bold" font-size="13.5" text-anchor="middle" fill="#111">-1.5</text>
<text x="296.50" y="614.8" font-family='"Liberation Sans", sans-serif' font-weight="bold" font-size="13.5" text-anchor="middle" fill="#111">-1</text>
<text x="325.25" y="614.8" font-family='"Liberation Sans", sans-serif' font-weight="bold" font-size="13.5" text-anchor="middle" fill="#111">-0.5</text>
<text x="354.00" y="614.8" font-family='"Liberation Sans", sans-serif' font-weight="bold" font-size="13.5" text-anchor="middle" fill="#111">0</text>
<text x="382.75" y="614.8" font-family='"Liberation Sans", sans-serif' font-weight="bold" font-size="13.5" text-anchor="middle" fill="#111">0.5</text>
<text x="411.50" y="614.8" font-family='"Liberation Sans", sans-serif' font-weight="bold" font-size="13.5" text-anchor="middle" fill="#111">1</text>
<text x="440.25" y="614.8" font-family='"Liberation Sans", sans-serif' font-weight="bold" font-size="13.5" text-anchor="middle" fill="#111">1.5</text>
<text x="469.00" y="614.8" font-family='"Liberation Sans", sans-serif' font-weight="bold" font-size="13.5" text-anchor="middle" fill="#111">2</text>
<text x="497.75" y="614.8" font-family='"Liberation Sans", sans-serif' font-weight="bold" font-size="13.5" text-anchor="middle" fill="#111">2.5</text>
<text x="526.50" y="614.8" font-family='"Liberation Sans", sans-serif' font-weight="bold" font-size="13.5" text-anchor="middle" fill="#111">3</text>
<text x="125.5" y="597.6" font-family='"Liberation Serif", serif' font-weight="bold" font-style="italic" font-size="23">C</text>
<text x="138.6" y="600.4" font-family='"Liberation Serif", serif' font-weight="bold" font-style="italic" font-size="13.4">P</text>
</svg>
</body></html>
